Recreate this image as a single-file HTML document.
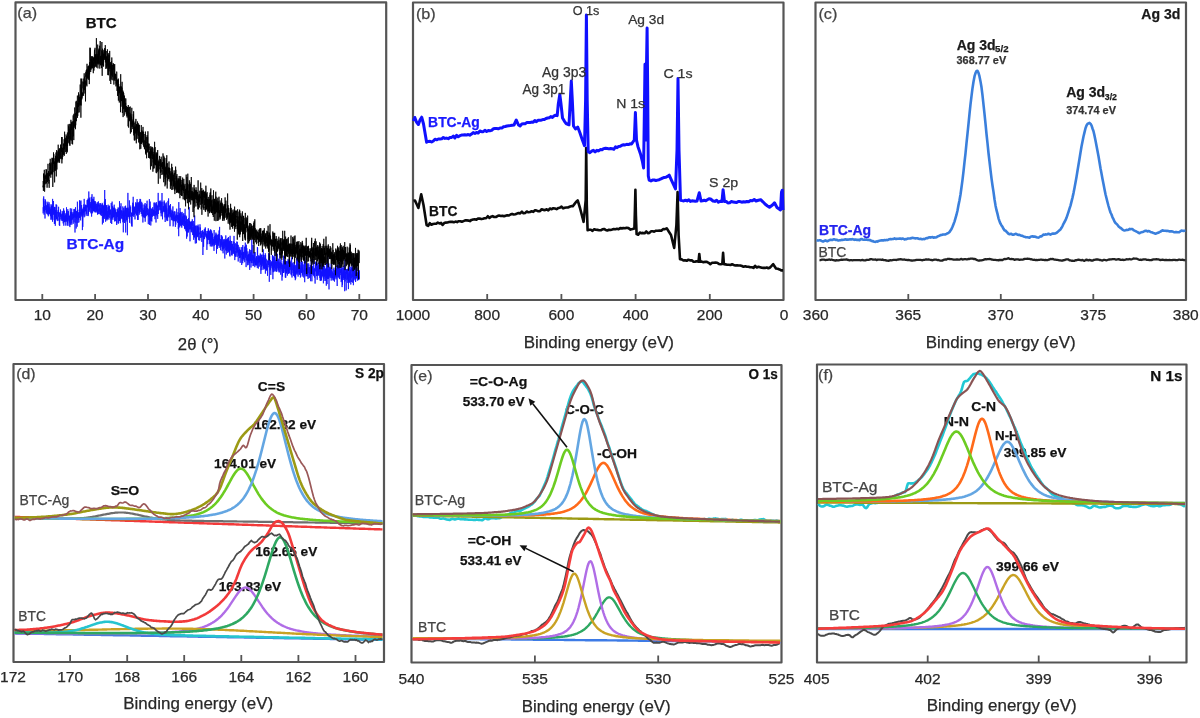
<!DOCTYPE html>
<html><head><meta charset="utf-8"><title>Figure</title>
<style>
html,body{margin:0;padding:0;background:#fff;}
body{width:1200px;height:718px;overflow:hidden;}
svg{display:block;filter:blur(0.45px);}
text{font-family:"Liberation Sans", sans-serif;}
</style></head>
<body>
<svg width="1200" height="718" viewBox="0 0 1200 718">
<rect x="0" y="0" width="1200" height="718" fill="#fff"/>
<rect x="15.5" y="2.4" width="370.7" height="297.6" fill="none" stroke="#555" stroke-width="2.2" stroke-linejoin="round"/>
<path d="M42.3,300 v-6 M95.1,300 v-6 M148.0,300 v-6 M200.8,300 v-6 M253.6,300 v-6 M306.5,300 v-6 M359.3,300 v-6" stroke="#555" stroke-width="1.8" fill="none"/>
<polyline points="43.0,207.2 43.1,213.3 43.2,212.7 43.3,212.4 43.4,198.5 43.5,204.8 43.6,209.9 43.7,196.4 43.8,210.9 43.9,199.0 44.1,214.7 44.2,207.1 44.3,210.8 44.4,207.1 44.5,206.0 44.6,209.9 44.7,211.6 44.8,207.0 44.9,207.3 45.0,218.5 45.1,204.1 45.2,201.2 45.3,210.0 45.4,205.2 45.5,199.5 45.6,204.6 45.7,206.3 45.8,203.0 46.0,201.7 46.1,208.8 46.2,212.8 46.3,207.7 46.4,205.4 46.5,210.6 46.6,212.2 46.7,207.6 46.8,211.5 46.9,213.9 47.0,208.2 47.1,205.5 47.2,210.9 47.3,210.5 47.4,214.5 47.5,203.5 47.6,206.5 47.7,205.7 47.9,201.7 48.0,210.3 48.1,212.2 48.2,206.4 48.3,216.3 48.4,213.7 48.5,212.9 48.6,211.9 48.7,214.5 48.8,204.1 48.9,213.1 49.0,213.1 49.1,202.3 49.2,206.0 49.3,209.4 49.4,214.2 49.5,208.6 49.6,210.6 49.7,212.4 49.9,206.8 50.0,213.7 50.1,210.5 50.2,213.3 50.3,208.7 50.4,216.1 50.5,214.0 50.6,210.5 50.7,214.2 50.8,217.2 50.9,219.7 51.0,204.3 51.1,215.7 51.2,213.8 51.3,211.3 51.4,207.1 51.5,217.6 51.6,206.1 51.8,219.5 51.9,218.0 52.0,204.7 52.1,210.8 52.2,206.2 52.3,213.4 52.4,219.3 52.5,221.7 52.6,198.9 52.7,209.9 52.8,215.8 52.9,219.9 53.0,214.6 53.1,209.3 53.2,214.2 53.3,212.8 53.4,212.0 53.5,201.0 53.7,214.8 53.8,214.5 53.9,212.8 54.0,212.2 54.1,207.4 54.2,211.1 54.3,219.0 54.4,224.0 54.5,206.9 54.6,219.7 54.7,215.3 54.8,223.4 54.9,214.0 55.0,211.7 55.1,207.2 55.2,220.0 55.3,225.8 55.4,210.3 55.6,211.1 55.7,216.9 55.8,210.4 55.9,213.0 56.0,212.7 56.1,204.3 56.2,219.5 56.3,214.6 56.4,218.8 56.5,212.7 56.6,216.2 56.7,204.9 56.8,208.1 56.9,218.5 57.0,212.1 57.1,217.6 57.2,217.5 57.3,221.1 57.4,216.8 57.6,219.8 57.7,214.7 57.8,212.0 57.9,211.9 58.0,213.1 58.1,210.2 58.2,212.9 58.3,215.0 58.4,216.7 58.5,214.0 58.6,206.8 58.7,215.3 58.8,216.7 58.9,220.7 59.0,218.5 59.1,212.9 59.2,212.6 59.3,225.2 59.5,217.9 59.6,224.5 59.7,225.9 59.8,212.4 59.9,217.9 60.0,218.3 60.1,218.8 60.2,218.8 60.3,217.3 60.4,217.2 60.5,209.5 60.6,215.7 60.7,213.1 60.8,217.1 60.9,214.4 61.0,219.5 61.1,220.4 61.2,218.1 61.4,218.2 61.5,217.2 61.6,214.7 61.7,214.2 61.8,214.6 61.9,218.7 62.0,217.0 62.1,220.6 62.2,210.9 62.3,221.1 62.4,213.6 62.5,213.7 62.6,216.2 62.7,214.6 62.8,218.5 62.9,214.6 63.0,212.3 63.1,213.4 63.2,223.4 63.4,217.6 63.5,212.0 63.6,208.4 63.7,210.3 63.8,225.7 63.9,210.5 64.0,219.7 64.1,220.0 64.2,210.9 64.3,219.0 64.4,222.2 64.5,219.8 64.6,218.9 64.7,222.0 64.8,215.9 64.9,219.3 65.0,217.1 65.1,220.7 65.3,213.4 65.4,221.4 65.5,215.5 65.6,215.8 65.7,219.5 65.8,225.6 65.9,222.3 66.0,215.5 66.1,221.1 66.2,215.8 66.3,221.6 66.4,218.3 66.5,207.3 66.6,218.8 66.7,213.2 66.8,214.8 66.9,211.2 67.0,211.0 67.2,213.6 67.3,221.8 67.4,225.7 67.5,217.9 67.6,223.3 67.7,216.8 67.8,209.2 67.9,218.7 68.0,213.6 68.1,216.0 68.2,219.4 68.3,220.6 68.4,214.0 68.5,211.2 68.6,217.0 68.7,217.0 68.8,216.3 68.9,222.5 69.1,225.9 69.2,216.0 69.3,221.1 69.4,222.2 69.5,221.2 69.6,222.7 69.7,216.1 69.8,221.2 69.9,227.1 70.0,221.5 70.1,214.9 70.2,220.5 70.3,208.3 70.4,219.4 70.5,215.1 70.6,224.7 70.7,211.9 70.8,219.9 70.9,217.5 71.1,212.0 71.2,223.1 71.3,219.0 71.4,212.0 71.5,220.1 71.6,215.4 71.7,208.6 71.8,224.7 71.9,218.4 72.0,220.1 72.1,217.9 72.2,217.3 72.3,219.2 72.4,216.1 72.5,213.6 72.6,217.6 72.7,218.3 72.8,215.6 73.0,212.0 73.1,213.5 73.2,223.8 73.3,218.2 73.4,215.3 73.5,218.2 73.6,214.3 73.7,217.8 73.8,213.4 73.9,217.7 74.0,209.1 74.1,222.4 74.2,213.9 74.3,208.9 74.4,215.1 74.5,214.4 74.6,216.7 74.7,210.7 74.9,217.7 75.0,232.5 75.1,209.9 75.2,217.3 75.3,214.2 75.4,216.5 75.5,207.2 75.6,210.2 75.7,217.6 75.8,215.2 75.9,222.8 76.0,212.0 76.1,216.0 76.2,228.5 76.3,211.6 76.4,210.9 76.5,214.8 76.6,214.7 76.7,218.7 76.9,215.4 77.0,211.2 77.1,215.6 77.2,226.7 77.3,220.4 77.4,201.7 77.5,213.7 77.6,210.3 77.7,217.1 77.8,213.4 77.9,223.0 78.0,218.4 78.1,218.1 78.2,214.8 78.3,213.4 78.4,215.4 78.5,219.7 78.6,216.2 78.8,212.0 78.9,222.4 79.0,214.4 79.1,213.1 79.2,209.7 79.3,210.7 79.4,210.3 79.5,200.3 79.6,217.8 79.7,215.7 79.8,212.0 79.9,217.7 80.0,214.9 80.1,214.5 80.2,201.3 80.3,211.6 80.4,215.0 80.5,219.9 80.7,220.4 80.8,219.0 80.9,200.5 81.0,202.2 81.1,214.8 81.2,212.3 81.3,216.5 81.4,211.5 81.5,213.0 81.6,205.0 81.7,213.3 81.8,209.7 81.9,213.3 82.0,213.8 82.1,211.1 82.2,213.0 82.3,211.4 82.4,230.1 82.6,213.6 82.7,208.7 82.8,226.9 82.9,219.1 83.0,210.5 83.1,215.4 83.2,212.6 83.3,208.1 83.4,207.2 83.5,211.1 83.6,211.6 83.7,213.1 83.8,204.4 83.9,207.4 84.0,209.6 84.1,217.3 84.2,198.9 84.3,211.7 84.4,207.1 84.6,211.5 84.7,207.1 84.8,210.9 84.9,216.4 85.0,210.7 85.1,210.9 85.2,210.6 85.3,205.3 85.4,211.1 85.5,207.6 85.6,204.7 85.7,208.1 85.8,205.1 85.9,211.6 86.0,207.8 86.1,205.4 86.2,214.5 86.3,212.2 86.5,213.4 86.6,210.3 86.7,206.9 86.8,205.4 86.9,205.9 87.0,216.0 87.1,207.5 87.2,200.1 87.3,206.6 87.4,200.2 87.5,207.4 87.6,201.0 87.7,200.7 87.8,207.0 87.9,206.0 88.0,198.6 88.1,209.6 88.2,216.1 88.4,199.3 88.5,214.4 88.6,202.8 88.7,203.6 88.8,191.5 88.9,199.1 89.0,211.7 89.1,208.0 89.2,202.2 89.3,204.4 89.4,198.6 89.5,204.0 89.6,209.9 89.7,197.6 89.8,203.5 89.9,206.2 90.0,210.3 90.1,211.7 90.2,203.4 90.4,202.1 90.5,207.6 90.6,203.8 90.7,204.1 90.8,210.5 90.9,213.3 91.0,206.8 91.1,204.7 91.2,208.2 91.3,196.9 91.4,205.5 91.5,200.7 91.6,216.6 91.7,210.2 91.8,206.3 91.9,204.8 92.0,194.2 92.1,209.0 92.3,213.3 92.4,202.4 92.5,209.0 92.6,209.2 92.7,198.8 92.8,210.2 92.9,212.2 93.0,207.0 93.1,205.7 93.2,209.7 93.3,199.0 93.4,206.6 93.5,211.0 93.6,200.5 93.7,210.8 93.8,204.4 93.9,196.8 94.0,205.9 94.2,201.9 94.3,207.9 94.4,201.1 94.5,211.4 94.6,203.2 94.7,208.3 94.8,204.0 94.9,205.3 95.0,212.3 95.1,207.8 95.2,205.1 95.3,201.2 95.4,212.3 95.5,210.4 95.6,205.6 95.7,208.3 95.8,202.5 95.9,202.6 96.1,203.5 96.2,209.0 96.3,208.8 96.4,204.0 96.5,210.9 96.6,211.2 96.7,208.4 96.8,212.5 96.9,206.4 97.0,207.3 97.1,210.0 97.2,207.8 97.3,211.6 97.4,202.3 97.5,214.6 97.6,204.5 97.7,207.4 97.8,206.9 97.9,211.1 98.1,214.2 98.2,213.3 98.3,212.3 98.4,201.4 98.5,205.0 98.6,206.5 98.7,204.4 98.8,213.9 98.9,209.6 99.0,208.7 99.1,211.1 99.2,204.6 99.3,204.8 99.4,205.0 99.5,211.4 99.6,210.7 99.7,211.9 99.8,214.2 100.0,203.1 100.1,206.8 100.2,210.1 100.3,203.3 100.4,207.1 100.5,214.2 100.6,214.7 100.7,214.6 100.8,209.9 100.9,208.8 101.0,214.8 101.1,208.1 101.2,211.4 101.3,216.0 101.4,208.3 101.5,204.6 101.6,210.0 101.7,212.8 101.9,212.3 102.0,210.9 102.1,212.8 102.2,202.9 102.3,206.3 102.4,224.4 102.5,206.1 102.6,204.2 102.7,204.8 102.8,206.2 102.9,209.6 103.0,205.8 103.1,211.6 103.2,218.4 103.3,209.9 103.4,222.7 103.5,212.0 103.6,205.5 103.7,209.5 103.9,206.2 104.0,214.3 104.1,205.5 104.2,216.9 104.3,213.5 104.4,201.6 104.5,218.8 104.6,218.1 104.7,190.0 104.8,215.5 104.9,202.7 105.0,212.2 105.1,203.4 105.2,213.3 105.3,202.9 105.4,199.1 105.5,213.0 105.6,221.7 105.8,208.5 105.9,215.1 106.0,211.8 106.1,209.9 106.2,214.2 106.3,219.0 106.4,205.7 106.5,214.0 106.6,213.1 106.7,205.0 106.8,219.0 106.9,220.5 107.0,207.2 107.1,219.6 107.2,211.9 107.3,210.9 107.4,218.6 107.5,212.8 107.7,213.3 107.8,218.8 107.9,217.8 108.0,216.0 108.1,205.4 108.2,204.7 108.3,217.1 108.4,207.7 108.5,212.7 108.6,207.1 108.7,211.2 108.8,206.2 108.9,219.6 109.0,207.4 109.1,211.6 109.2,211.3 109.3,217.8 109.4,205.7 109.6,212.1 109.7,211.3 109.8,214.8 109.9,214.5 110.0,210.2 110.1,213.5 110.2,210.7 110.3,214.6 110.4,212.0 110.5,209.5 110.6,212.4 110.7,214.2 110.8,223.0 110.9,210.4 111.0,214.1 111.1,219.4 111.2,203.1 111.3,204.7 111.4,207.3 111.6,207.3 111.7,224.0 111.8,214.6 111.9,218.4 112.0,211.9 112.1,201.6 112.2,207.3 112.3,217.6 112.4,213.8 112.5,207.0 112.6,218.2 112.7,206.0 112.8,218.3 112.9,219.8 113.0,209.6 113.1,208.0 113.2,217.1 113.3,208.2 113.5,217.2 113.6,207.7 113.7,217.0 113.8,213.7 113.9,211.3 114.0,209.2 114.1,214.5 114.2,204.7 114.3,212.1 114.4,211.6 114.5,216.6 114.6,207.7 114.7,221.4 114.8,212.1 114.9,208.3 115.0,219.9 115.1,221.2 115.2,212.8 115.4,209.5 115.5,213.7 115.6,210.5 115.7,212.3 115.8,220.9 115.9,215.6 116.0,214.4 116.1,215.4 116.2,213.5 116.3,217.7 116.4,217.9 116.5,212.2 116.6,214.4 116.7,225.0 116.8,215.9 116.9,213.1 117.0,223.4 117.1,214.0 117.2,209.0 117.4,217.1 117.5,209.9 117.6,211.8 117.7,215.6 117.8,213.5 117.9,210.6 118.0,211.6 118.1,207.5 118.2,219.6 118.3,210.9 118.4,211.6 118.5,223.6 118.6,211.7 118.7,221.1 118.8,220.4 118.9,213.6 119.0,207.8 119.1,216.5 119.3,217.5 119.4,218.9 119.5,201.2 119.6,220.0 119.7,220.9 119.8,209.6 119.9,221.1 120.0,215.3 120.1,211.9 120.2,213.1 120.3,223.2 120.4,219.1 120.5,206.4 120.6,215.0 120.7,214.0 120.8,213.8 120.9,212.3 121.0,203.3 121.2,218.6 121.3,210.4 121.4,213.0 121.5,212.0 121.6,211.4 121.7,218.2 121.8,216.5 121.9,211.7 122.0,210.5 122.1,212.7 122.2,219.3 122.3,215.4 122.4,215.9 122.5,213.4 122.6,213.7 122.7,215.9 122.8,206.4 122.9,222.3 123.1,211.3 123.2,212.3 123.3,232.3 123.4,216.0 123.5,215.2 123.6,212.3 123.7,207.8 123.8,215.9 123.9,220.5 124.0,210.9 124.1,221.3 124.2,209.8 124.3,211.7 124.4,217.4 124.5,215.0 124.6,223.0 124.7,211.6 124.8,210.2 124.9,206.4 125.1,209.4 125.2,210.0 125.3,208.4 125.4,216.3 125.5,211.8 125.6,205.7 125.7,232.5 125.8,211.0 125.9,209.0 126.0,221.6 126.1,220.1 126.2,209.4 126.3,207.9 126.4,210.0 126.5,219.8 126.6,213.1 126.7,210.8 126.8,214.3 127.0,219.9 127.1,207.9 127.2,212.5 127.3,207.9 127.4,235.2 127.5,222.5 127.6,218.5 127.7,213.4 127.8,217.0 127.9,192.9 128.0,215.1 128.1,207.7 128.2,207.7 128.3,210.5 128.4,212.0 128.5,216.2 128.6,216.7 128.7,214.7 128.9,209.0 129.0,216.4 129.1,212.7 129.2,218.6 129.3,208.9 129.4,200.4 129.5,210.8 129.6,222.8 129.7,215.0 129.8,211.9 129.9,216.8 130.0,215.0 130.1,205.5 130.2,210.2 130.3,212.8 130.4,213.3 130.5,209.4 130.6,207.1 130.7,212.8 130.9,216.5 131.0,215.0 131.1,214.2 131.2,214.2 131.3,223.7 131.4,212.9 131.5,216.5 131.6,220.6 131.7,225.9 131.8,212.7 131.9,216.2 132.0,226.7 132.1,212.7 132.2,214.4 132.3,211.5 132.4,205.5 132.5,216.1 132.6,209.7 132.8,202.9 132.9,210.1 133.0,202.7 133.1,203.2 133.2,196.8 133.3,206.3 133.4,215.4 133.5,203.6 133.6,211.5 133.7,212.8 133.8,216.9 133.9,214.4 134.0,211.1 134.1,210.4 134.2,209.7 134.3,215.1 134.4,206.8 134.5,212.2 134.7,209.3 134.8,210.8 134.9,208.4 135.0,219.4 135.1,206.5 135.2,210.6 135.3,210.7 135.4,212.1 135.5,211.4 135.6,211.2 135.7,213.7 135.8,202.2 135.9,209.2 136.0,203.4 136.1,210.1 136.2,203.6 136.3,204.5 136.4,208.6 136.6,215.3 136.7,211.5 136.8,210.2 136.9,215.3 137.0,204.4 137.1,199.1 137.2,206.8 137.3,207.4 137.4,214.4 137.5,218.5 137.6,202.5 137.7,220.0 137.8,212.4 137.9,212.5 138.0,210.3 138.1,219.8 138.2,209.0 138.3,206.4 138.4,209.2 138.6,202.3 138.7,210.8 138.8,208.1 138.9,210.2 139.0,210.3 139.1,203.8 139.2,214.7 139.3,204.0 139.4,212.8 139.5,201.4 139.6,210.5 139.7,205.0 139.8,209.0 139.9,205.9 140.0,198.9 140.1,203.8 140.2,209.3 140.3,211.9 140.5,202.3 140.6,199.3 140.7,205.1 140.8,208.2 140.9,206.3 141.0,205.6 141.1,213.2 141.2,213.8 141.3,212.8 141.4,205.2 141.5,209.9 141.6,208.7 141.7,201.8 141.8,213.8 141.9,203.0 142.0,207.6 142.1,216.4 142.2,213.5 142.4,213.9 142.5,215.6 142.6,213.4 142.7,214.5 142.8,208.5 142.9,222.5 143.0,204.5 143.1,210.6 143.2,212.4 143.3,217.2 143.4,216.6 143.5,214.9 143.6,210.0 143.7,215.1 143.8,213.4 143.9,210.3 144.0,217.3 144.1,213.4 144.2,207.8 144.4,217.1 144.5,210.2 144.6,214.2 144.7,204.5 144.8,218.1 144.9,207.3 145.0,207.3 145.1,203.0 145.2,221.7 145.3,211.3 145.4,213.1 145.5,217.2 145.6,211.6 145.7,214.6 145.8,206.1 145.9,213.3 146.0,210.5 146.1,214.8 146.3,213.4 146.4,206.3 146.5,204.2 146.6,208.1 146.7,216.2 146.8,214.9 146.9,214.8 147.0,203.8 147.1,200.7 147.2,210.3 147.3,211.7 147.4,210.5 147.5,215.0 147.6,212.6 147.7,208.0 147.8,209.5 147.9,214.2 148.0,214.0 148.2,213.3 148.3,224.2 148.4,212.6 148.5,214.4 148.6,209.3 148.7,212.3 148.8,216.4 148.9,216.6 149.0,213.3 149.1,215.9 149.2,214.4 149.3,205.5 149.4,199.1 149.5,224.9 149.6,218.1 149.7,214.0 149.8,206.3 149.9,208.5 150.1,220.6 150.2,201.6 150.3,212.9 150.4,218.4 150.5,215.1 150.6,217.9 150.7,213.9 150.8,225.5 150.9,209.8 151.0,208.2 151.1,215.8 151.2,221.1 151.3,214.2 151.4,219.3 151.5,212.0 151.6,209.0 151.7,220.9 151.8,221.1 151.9,221.4 152.1,212.3 152.2,208.9 152.3,208.8 152.4,213.1 152.5,216.7 152.6,216.3 152.7,207.2 152.8,214.6 152.9,213.7 153.0,213.9 153.1,213.3 153.2,212.4 153.3,215.9 153.4,213.6 153.5,213.9 153.6,209.6 153.7,214.4 153.8,211.9 154.0,202.6 154.1,214.4 154.2,210.8 154.3,216.1 154.4,210.9 154.5,211.1 154.6,212.3 154.7,211.1 154.8,209.0 154.9,202.6 155.0,219.2 155.1,203.2 155.2,210.6 155.3,213.2 155.4,211.7 155.5,212.4 155.6,213.2 155.7,215.3 155.9,210.7 156.0,222.5 156.1,204.3 156.2,209.9 156.3,207.0 156.4,202.2 156.5,209.6 156.6,214.9 156.7,204.8 156.8,204.6 156.9,211.1 157.0,210.1 157.1,216.4 157.2,212.0 157.3,208.2 157.4,205.5 157.5,207.9 157.6,206.0 157.7,218.9 157.9,206.6 158.0,205.7 158.1,205.3 158.2,192.9 158.3,214.0 158.4,209.4 158.5,210.4 158.6,203.3 158.7,201.3 158.8,204.7 158.9,207.1 159.0,203.0 159.1,205.0 159.2,210.3 159.3,207.3 159.4,201.4 159.5,203.9 159.6,202.9 159.8,206.8 159.9,200.7 160.0,205.3 160.1,209.3 160.2,206.3 160.3,202.0 160.4,203.5 160.5,206.9 160.6,208.6 160.7,210.3 160.8,205.9 160.9,200.6 161.0,213.2 161.1,208.1 161.2,216.3 161.3,208.3 161.4,202.2 161.5,205.6 161.7,208.3 161.8,212.0 161.9,207.6 162.0,193.0 162.1,206.3 162.2,209.2 162.3,213.6 162.4,211.0 162.5,219.3 162.6,214.4 162.7,214.2 162.8,212.4 162.9,201.8 163.0,212.2 163.1,211.1 163.2,206.0 163.3,211.2 163.4,210.6 163.6,206.6 163.7,208.3 163.8,207.7 163.9,210.1 164.0,207.2 164.1,211.7 164.2,200.5 164.3,208.1 164.4,201.8 164.5,207.4 164.6,212.1 164.7,209.9 164.8,209.4 164.9,210.4 165.0,217.4 165.1,205.2 165.2,222.0 165.3,203.5 165.4,208.4 165.6,211.4 165.7,206.9 165.8,211.8 165.9,214.4 166.0,205.6 166.1,210.9 166.2,209.6 166.3,202.5 166.4,210.7 166.5,208.0 166.6,217.9 166.7,207.8 166.8,219.8 166.9,209.6 167.0,221.1 167.1,214.8 167.2,214.5 167.3,216.2 167.5,216.8 167.6,219.2 167.7,220.8 167.8,211.3 167.9,207.3 168.0,200.8 168.1,211.5 168.2,216.8 168.3,215.2 168.4,214.1 168.5,212.0 168.6,198.4 168.7,212.5 168.8,215.7 168.9,205.9 169.0,217.5 169.1,207.5 169.2,213.6 169.4,211.5 169.5,205.5 169.6,209.8 169.7,209.4 169.8,213.7 169.9,209.8 170.0,226.2 170.1,213.1 170.2,212.1 170.3,212.6 170.4,210.3 170.5,204.0 170.6,214.2 170.7,216.9 170.8,208.6 170.9,215.7 171.0,210.1 171.1,215.6 171.2,217.5 171.4,217.2 171.5,218.0 171.6,212.8 171.7,220.2 171.8,214.1 171.9,217.8 172.0,219.5 172.1,215.0 172.2,210.5 172.3,213.1 172.4,211.4 172.5,212.5 172.6,211.5 172.7,220.5 172.8,210.7 172.9,206.4 173.0,220.2 173.1,226.4 173.3,225.2 173.4,214.4 173.5,217.4 173.6,219.4 173.7,221.2 173.8,217.3 173.9,212.2 174.0,220.7 174.1,220.1 174.2,211.2 174.3,215.7 174.4,218.7 174.5,217.5 174.6,219.9 174.7,221.2 174.8,220.1 174.9,217.1 175.0,211.5 175.2,220.6 175.3,224.3 175.4,226.9 175.5,217.7 175.6,215.7 175.7,224.6 175.8,224.7 175.9,219.6 176.0,221.4 176.1,214.7 176.2,220.9 176.3,214.5 176.4,217.6 176.5,217.8 176.6,216.2 176.7,208.7 176.8,214.7 176.9,220.1 177.1,218.3 177.2,216.8 177.3,220.7 177.4,221.9 177.5,222.7 177.6,215.1 177.7,219.0 177.8,217.4 177.9,214.9 178.0,212.2 178.1,217.3 178.2,215.1 178.3,229.1 178.4,218.8 178.5,218.3 178.6,217.5 178.7,236.2 178.8,202.1 178.9,218.8 179.1,216.0 179.2,219.1 179.3,219.5 179.4,224.8 179.5,213.3 179.6,219.8 179.7,227.4 179.8,217.7 179.9,219.2 180.0,216.0 180.1,208.1 180.2,219.8 180.3,225.7 180.4,218.2 180.5,211.9 180.6,221.7 180.7,220.9 180.8,225.2 181.0,224.9 181.1,219.5 181.2,222.7 181.3,212.6 181.4,226.1 181.5,221.9 181.6,226.1 181.7,226.0 181.8,227.7 181.9,220.6 182.0,217.3 182.1,211.9 182.2,220.9 182.3,222.2 182.4,216.6 182.5,224.9 182.6,222.2 182.7,223.9 182.9,218.3 183.0,213.8 183.1,225.6 183.2,224.9 183.3,221.6 183.4,220.2 183.5,221.0 183.6,221.7 183.7,220.0 183.8,213.2 183.9,226.1 184.0,215.7 184.1,221.1 184.2,221.3 184.3,224.0 184.4,215.4 184.5,228.4 184.6,226.0 184.7,224.7 184.9,228.9 185.0,219.5 185.1,208.8 185.2,224.8 185.3,229.4 185.4,228.8 185.5,221.0 185.6,223.2 185.7,225.0 185.8,215.4 185.9,220.7 186.0,220.9 186.1,231.2 186.2,221.0 186.3,231.3 186.4,224.2 186.5,216.5 186.6,238.7 186.8,219.9 186.9,224.5 187.0,232.3 187.1,222.1 187.2,236.5 187.3,229.5 187.4,225.1 187.5,219.2 187.6,219.9 187.7,223.2 187.8,229.5 187.9,223.8 188.0,228.2 188.1,232.8 188.2,231.1 188.3,232.0 188.4,231.1 188.5,218.1 188.7,231.2 188.8,227.2 188.9,225.1 189.0,220.8 189.1,218.5 189.2,207.1 189.3,225.9 189.4,220.7 189.5,222.4 189.6,223.4 189.7,229.3 189.8,225.0 189.9,225.7 190.0,241.3 190.1,221.6 190.2,229.4 190.3,221.8 190.4,228.3 190.6,227.4 190.7,227.7 190.8,224.8 190.9,222.3 191.0,225.7 191.1,225.0 191.2,232.0 191.3,231.5 191.4,221.9 191.5,230.4 191.6,225.3 191.7,229.7 191.8,225.5 191.9,221.0 192.0,232.5 192.1,230.0 192.2,222.3 192.3,219.3 192.4,225.6 192.6,222.7 192.7,226.6 192.8,231.2 192.9,235.1 193.0,226.8 193.1,234.9 193.2,233.9 193.3,226.7 193.4,221.1 193.5,232.7 193.6,231.7 193.7,239.8 193.8,235.6 193.9,230.8 194.0,236.9 194.1,224.4 194.2,230.2 194.3,228.1 194.5,237.5 194.6,232.1 194.7,215.5 194.8,236.0 194.9,225.6 195.0,233.4 195.1,227.7 195.2,231.1 195.3,243.5 195.4,231.0 195.5,225.8 195.6,235.0 195.7,232.1 195.8,230.3 195.9,233.7 196.0,234.7 196.1,239.2 196.2,231.7 196.4,232.4 196.5,243.2 196.6,226.6 196.7,225.5 196.8,232.0 196.9,232.7 197.0,237.3 197.1,233.3 197.2,226.2 197.3,233.7 197.4,235.2 197.5,236.0 197.6,233.0 197.7,225.9 197.8,237.0 197.9,228.3 198.0,234.4 198.1,224.6 198.2,235.4 198.4,228.3 198.5,237.0 198.6,240.2 198.7,237.5 198.8,226.8 198.9,227.9 199.0,228.3 199.1,230.8 199.2,234.0 199.3,233.2 199.4,234.0 199.5,235.3 199.6,235.6 199.7,240.5 199.8,232.5 199.9,233.7 200.0,224.3 200.1,226.8 200.3,229.8 200.4,227.6 200.5,234.1 200.6,237.9 200.7,231.2 200.8,231.0 200.9,230.9 201.0,233.9 201.1,230.9 201.2,235.4 201.3,234.9 201.4,235.1 201.5,237.1 201.6,233.8 201.7,234.4 201.8,241.9 201.9,233.6 202.0,237.5 202.2,234.2 202.3,231.9 202.4,231.9 202.5,230.3 202.6,234.2 202.7,231.4 202.8,232.3 202.9,255.0 203.0,243.1 203.1,239.6 203.2,235.7 203.3,236.7 203.4,231.7 203.5,235.3 203.6,246.8 203.7,238.5 203.8,239.4 203.9,237.5 204.1,238.8 204.2,229.5 204.3,231.0 204.4,237.0 204.5,238.8 204.6,233.2 204.7,234.3 204.8,233.5 204.9,228.9 205.0,229.7 205.1,228.7 205.2,235.0 205.3,227.4 205.4,231.0 205.5,232.5 205.6,232.8 205.7,236.7 205.8,233.6 205.9,235.3 206.1,231.1 206.2,232.4 206.3,238.2 206.4,237.5 206.5,233.8 206.6,237.6 206.7,236.8 206.8,236.8 206.9,249.9 207.0,234.3 207.1,238.1 207.2,238.1 207.3,235.2 207.4,230.9 207.5,239.5 207.6,237.6 207.7,244.2 207.8,236.6 208.0,236.6 208.1,232.4 208.2,237.9 208.3,228.3 208.4,236.6 208.5,229.8 208.6,235.1 208.7,240.1 208.8,237.3 208.9,230.7 209.0,239.3 209.1,230.8 209.2,235.1 209.3,235.2 209.4,244.1 209.5,240.2 209.6,239.4 209.7,231.8 209.9,240.1 210.0,231.4 210.1,239.6 210.2,232.3 210.3,246.4 210.4,229.7 210.5,243.2 210.6,241.3 210.7,229.5 210.8,236.6 210.9,244.4 211.0,243.0 211.1,230.2 211.2,235.5 211.3,232.5 211.4,233.2 211.5,235.0 211.6,246.5 211.7,231.4 211.9,237.1 212.0,236.6 212.1,241.3 212.2,241.4 212.3,234.1 212.4,245.1 212.5,233.4 212.6,237.2 212.7,240.6 212.8,246.4 212.9,237.0 213.0,239.9 213.1,244.7 213.2,239.4 213.3,244.0 213.4,243.6 213.5,240.1 213.6,241.8 213.8,243.2 213.9,238.9 214.0,250.9 214.1,230.0 214.2,234.9 214.3,245.8 214.4,241.2 214.5,236.3 214.6,241.1 214.7,244.4 214.8,236.9 214.9,243.0 215.0,239.0 215.1,239.1 215.2,239.3 215.3,244.8 215.4,234.6 215.5,238.1 215.7,242.9 215.8,234.3 215.9,232.6 216.0,242.6 216.1,240.0 216.2,239.4 216.3,240.8 216.4,235.7 216.5,253.6 216.6,235.7 216.7,238.3 216.8,233.8 216.9,238.5 217.0,247.5 217.1,240.6 217.2,243.3 217.3,238.4 217.4,249.0 217.6,241.5 217.7,235.0 217.8,244.4 217.9,239.2 218.0,243.7 218.1,241.6 218.2,242.2 218.3,241.7 218.4,236.9 218.5,234.3 218.6,245.7 218.7,236.2 218.8,242.6 218.9,239.2 219.0,232.1 219.1,230.4 219.2,247.9 219.3,238.0 219.4,239.9 219.6,226.9 219.7,239.3 219.8,240.1 219.9,240.8 220.0,241.5 220.1,239.0 220.2,239.3 220.3,246.2 220.4,241.5 220.5,241.5 220.6,250.2 220.7,243.2 220.8,243.0 220.9,239.3 221.0,247.1 221.1,237.7 221.2,235.0 221.3,238.1 221.5,245.4 221.6,237.4 221.7,236.4 221.8,242.6 221.9,235.8 222.0,241.8 222.1,251.1 222.2,239.0 222.3,237.0 222.4,245.4 222.5,249.1 222.6,247.8 222.7,241.7 222.8,244.1 222.9,244.8 223.0,248.8 223.1,253.3 223.2,243.0 223.4,249.5 223.5,242.0 223.6,246.3 223.7,239.4 223.8,248.5 223.9,245.7 224.0,239.7 224.1,248.0 224.2,241.4 224.3,244.4 224.4,243.7 224.5,242.6 224.6,244.8 224.7,249.2 224.8,258.5 224.9,238.9 225.0,245.7 225.1,243.6 225.2,240.3 225.4,245.8 225.5,240.5 225.6,244.3 225.7,250.4 225.8,235.4 225.9,245.9 226.0,246.9 226.1,240.5 226.2,247.4 226.3,254.5 226.4,243.4 226.5,250.8 226.6,239.1 226.7,248.2 226.8,244.2 226.9,240.5 227.0,244.5 227.1,241.1 227.3,249.2 227.4,238.6 227.5,244.7 227.6,243.5 227.7,252.9 227.8,240.3 227.9,250.7 228.0,237.8 228.1,247.5 228.2,245.3 228.3,247.7 228.4,242.8 228.5,237.1 228.6,239.0 228.7,252.2 228.8,247.2 228.9,242.3 229.0,250.5 229.2,242.9 229.3,243.0 229.4,240.9 229.5,251.9 229.6,255.6 229.7,242.2 229.8,248.0 229.9,251.2 230.0,256.5 230.1,235.8 230.2,247.5 230.3,249.9 230.4,240.2 230.5,248.9 230.6,248.0 230.7,250.4 230.8,244.5 230.9,249.1 231.1,244.5 231.2,250.1 231.3,248.1 231.4,245.7 231.5,241.0 231.6,255.1 231.7,245.6 231.8,251.7 231.9,244.6 232.0,246.1 232.1,255.5 232.2,251.3 232.3,244.0 232.4,248.2 232.5,248.7 232.6,247.1 232.7,243.8 232.8,253.9 232.9,250.9 233.1,247.4 233.2,241.1 233.3,245.7 233.4,248.4 233.5,252.5 233.6,246.9 233.7,253.7 233.8,249.3 233.9,245.3 234.0,235.9 234.1,243.4 234.2,242.0 234.3,248.3 234.4,250.5 234.5,255.5 234.6,249.1 234.7,243.9 234.8,260.1 235.0,250.7 235.1,248.1 235.2,248.2 235.3,243.2 235.4,252.4 235.5,251.3 235.6,256.9 235.7,254.7 235.8,253.7 235.9,255.6 236.0,248.5 236.1,247.9 236.2,249.7 236.3,244.3 236.4,249.4 236.5,248.6 236.6,253.3 236.7,250.2 236.9,241.5 237.0,250.5 237.1,256.9 237.2,242.0 237.3,247.0 237.4,250.7 237.5,252.0 237.6,248.2 237.7,251.0 237.8,244.7 237.9,252.2 238.0,252.8 238.1,245.1 238.2,261.5 238.3,256.1 238.4,250.3 238.5,253.2 238.6,254.2 238.7,250.2 238.9,255.9 239.0,253.2 239.1,246.9 239.2,253.9 239.3,255.6 239.4,255.4 239.5,248.7 239.6,253.9 239.7,258.1 239.8,252.9 239.9,257.4 240.0,258.0 240.1,251.9 240.2,262.8 240.3,250.8 240.4,257.1 240.5,251.9 240.6,249.8 240.8,252.3 240.9,252.1 241.0,254.3 241.1,254.7 241.2,247.2 241.3,249.7 241.4,254.4 241.5,255.0 241.6,253.2 241.7,265.0 241.8,258.1 241.9,252.6 242.0,256.4 242.1,259.3 242.2,254.9 242.3,246.9 242.4,253.7 242.5,253.6 242.7,263.2 242.8,245.0 242.9,260.6 243.0,252.9 243.1,257.9 243.2,252.4 243.3,254.6 243.4,259.0 243.5,254.3 243.6,258.8 243.7,253.6 243.8,252.2 243.9,253.1 244.0,251.8 244.1,253.6 244.2,260.5 244.3,248.9 244.4,246.7 244.6,254.3 244.7,262.2 244.8,261.0 244.9,260.7 245.0,260.4 245.1,251.3 245.2,255.3 245.3,242.6 245.4,252.1 245.5,257.7 245.6,247.8 245.7,245.5 245.8,249.1 245.9,256.1 246.0,260.6 246.1,267.1 246.2,261.9 246.3,248.4 246.4,244.7 246.6,256.2 246.7,260.4 246.8,248.2 246.9,253.3 247.0,253.6 247.1,255.9 247.2,255.0 247.3,258.3 247.4,260.8 247.5,256.3 247.6,263.5 247.7,265.3 247.8,264.3 247.9,251.4 248.0,258.6 248.1,264.9 248.2,257.2 248.3,261.5 248.5,255.1 248.6,260.8 248.7,253.8 248.8,259.8 248.9,258.6 249.0,258.6 249.1,263.2 249.2,261.8 249.3,254.2 249.4,261.1 249.5,249.3 249.6,261.7 249.7,269.9 249.8,259.7 249.9,259.7 250.0,257.7 250.1,261.3 250.2,255.4 250.4,260.7 250.5,256.4 250.6,255.8 250.7,252.3 250.8,257.5 250.9,249.9 251.0,267.5 251.1,258.6 251.2,250.2 251.3,263.0 251.4,258.0 251.5,259.1 251.6,261.3 251.7,254.2 251.8,239.5 251.9,257.9 252.0,259.5 252.1,263.1 252.2,255.0 252.4,257.3 252.5,260.4 252.6,257.2 252.7,257.5 252.8,259.9 252.9,245.0 253.0,266.1 253.1,254.6 253.2,259.1 253.3,257.4 253.4,255.7 253.5,261.5 253.6,263.7 253.7,265.8 253.8,261.8 253.9,257.1 254.0,263.2 254.1,252.6 254.3,259.5 254.4,261.8 254.5,262.0 254.6,254.1 254.7,252.6 254.8,267.2 254.9,257.2 255.0,252.0 255.1,253.9 255.2,259.7 255.3,265.1 255.4,259.7 255.5,265.3 255.6,260.8 255.7,262.0 255.8,264.4 255.9,258.2 256.0,261.3 256.2,258.2 256.3,257.1 256.4,265.5 256.5,256.3 256.6,260.5 256.7,256.5 256.8,259.7 256.9,257.8 257.0,265.2 257.1,260.6 257.2,260.6 257.3,267.9 257.4,247.0 257.5,255.2 257.6,247.8 257.7,260.4 257.8,262.4 257.9,263.4 258.1,261.7 258.2,256.5 258.3,268.6 258.4,262.0 258.5,259.4 258.6,255.4 258.7,262.6 258.8,258.4 258.9,258.6 259.0,261.7 259.1,261.8 259.2,257.0 259.3,266.6 259.4,256.2 259.5,255.7 259.6,262.3 259.7,261.5 259.8,261.3 259.9,259.1 260.1,261.2 260.2,258.5 260.3,253.5 260.4,264.5 260.5,256.5 260.6,260.1 260.7,264.6 260.8,261.3 260.9,273.9 261.0,254.8 261.1,257.9 261.2,270.2 261.3,267.6 261.4,260.3 261.5,254.8 261.6,266.7 261.7,257.2 261.8,260.6 262.0,265.6 262.1,258.5 262.2,259.5 262.3,263.9 262.4,260.7 262.5,263.0 262.6,257.4 262.7,261.2 262.8,256.7 262.9,254.6 263.0,269.9 263.1,263.9 263.2,266.1 263.3,249.4 263.4,261.8 263.5,268.3 263.6,255.4 263.7,264.5 263.9,258.7 264.0,266.1 264.1,255.1 264.2,266.7 264.3,269.1 264.4,264.0 264.5,258.0 264.6,259.8 264.7,267.9 264.8,261.0 264.9,263.5 265.0,263.0 265.1,257.2 265.2,269.4 265.3,253.3 265.4,273.6 265.5,262.1 265.6,255.1 265.7,264.1 265.9,264.9 266.0,262.8 266.1,258.8 266.2,264.7 266.3,267.8 266.4,263.7 266.5,270.6 266.6,266.7 266.7,266.3 266.8,269.2 266.9,259.8 267.0,260.4 267.1,260.2 267.2,265.3 267.3,269.9 267.4,268.2 267.5,275.8 267.6,261.2 267.8,261.8 267.9,261.4 268.0,261.0 268.1,267.3 268.2,261.0 268.3,261.5 268.4,263.9 268.5,264.9 268.6,262.2 268.7,253.3 268.8,265.0 268.9,262.0 269.0,264.3 269.1,253.4 269.2,254.9 269.3,281.8 269.4,264.3 269.5,264.5 269.7,255.6 269.8,266.6 269.9,265.7 270.0,262.2 270.1,265.1 270.2,269.9 270.3,262.6 270.4,260.0 270.5,270.3 270.6,265.5 270.7,263.5 270.8,274.9 270.9,265.1 271.0,263.6 271.1,265.6 271.2,262.6 271.3,265.5 271.4,265.2 271.6,261.5 271.7,263.3 271.8,266.0 271.9,266.3 272.0,267.2 272.1,268.2 272.2,261.4 272.3,267.0 272.4,255.1 272.5,263.5 272.6,269.4 272.7,255.6 272.8,266.4 272.9,279.2 273.0,256.2 273.1,271.6 273.2,256.6 273.3,266.4 273.4,272.2 273.6,271.5 273.7,260.5 273.8,258.7 273.9,259.5 274.0,268.0 274.1,262.9 274.2,264.7 274.3,265.9 274.4,266.6 274.5,267.2 274.6,265.3 274.7,257.4 274.8,271.5 274.9,252.1 275.0,270.5 275.1,262.0 275.2,263.9 275.3,262.4 275.5,263.2 275.6,264.8 275.7,263.6 275.8,259.9 275.9,268.8 276.0,262.3 276.1,271.2 276.2,264.3 276.3,271.6 276.4,267.0 276.5,269.1 276.6,260.8 276.7,263.8 276.8,271.7 276.9,260.6 277.0,261.3 277.1,266.0 277.2,259.6 277.4,253.9 277.5,257.6 277.6,267.0 277.7,268.3 277.8,268.1 277.9,267.1 278.0,259.7 278.1,268.5 278.2,270.7 278.3,262.2 278.4,269.8 278.5,263.8 278.6,266.4 278.7,267.2 278.8,258.7 278.9,272.3 279.0,261.7 279.1,265.2 279.2,263.4 279.4,267.8 279.5,267.7 279.6,265.8 279.7,272.3 279.8,267.1 279.9,264.0 280.0,252.6 280.1,268.4 280.2,264.6 280.3,261.9 280.4,262.0 280.5,266.0 280.6,270.8 280.7,274.7 280.8,271.3 280.9,262.8 281.0,267.3 281.1,259.8 281.3,269.5 281.4,267.8 281.5,263.4 281.6,265.7 281.7,265.1 281.8,263.3 281.9,272.4 282.0,280.6 282.1,270.1 282.2,271.2 282.3,267.1 282.4,264.8 282.5,276.5 282.6,264.8 282.7,268.3 282.8,266.0 282.9,269.2 283.0,266.3 283.2,263.4 283.3,260.8 283.4,266.2 283.5,273.0 283.6,261.9 283.7,255.7 283.8,273.0 283.9,266.0 284.0,271.7 284.1,256.5 284.2,267.5 284.3,261.0 284.4,260.5 284.5,268.8 284.6,260.2 284.7,260.0 284.8,261.9 284.9,264.3 285.1,266.4 285.2,260.9 285.3,277.5 285.4,266.8 285.5,265.4 285.6,264.7 285.7,277.8 285.8,277.5 285.9,264.9 286.0,268.8 286.1,273.0 286.2,261.8 286.3,264.5 286.4,273.5 286.5,264.1 286.6,265.3 286.7,261.1 286.8,263.8 286.9,270.5 287.1,263.6 287.2,261.4 287.3,264.5 287.4,275.6 287.5,268.3 287.6,264.9 287.7,268.2 287.8,269.6 287.9,268.1 288.0,259.2 288.1,269.0 288.2,266.6 288.3,271.5 288.4,261.4 288.5,272.5 288.6,273.5 288.7,259.8 288.8,273.9 289.0,265.3 289.1,269.5 289.2,267.0 289.3,272.8 289.4,272.9 289.5,273.0 289.6,271.1 289.7,259.8 289.8,260.1 289.9,268.8 290.0,263.5 290.1,270.1 290.2,268.7 290.3,261.4 290.4,263.2 290.5,262.7 290.6,263.9 290.7,265.8 290.9,266.5 291.0,274.3 291.1,263.6 291.2,265.5 291.3,275.3 291.4,272.3 291.5,269.2 291.6,257.3 291.7,263.5 291.8,269.0 291.9,265.5 292.0,277.5 292.1,268.7 292.2,269.6 292.3,263.2 292.4,263.5 292.5,265.3 292.6,265.5 292.7,267.3 292.9,270.1 293.0,269.5 293.1,273.1 293.2,262.2 293.3,269.4 293.4,269.6 293.5,275.9 293.6,267.5 293.7,270.1 293.8,264.8 293.9,270.5 294.0,270.4 294.1,265.7 294.2,266.6 294.3,268.5 294.4,276.5 294.5,263.3 294.6,272.8 294.8,267.2 294.9,277.5 295.0,275.5 295.1,266.9 295.2,265.8 295.3,280.2 295.4,271.7 295.5,271.4 295.6,271.4 295.7,278.7 295.8,272.6 295.9,271.7 296.0,265.0 296.1,274.7 296.2,264.9 296.3,264.5 296.4,273.6 296.5,268.1 296.7,272.6 296.8,257.8 296.9,270.7 297.0,261.4 297.1,266.0 297.2,261.9 297.3,269.8 297.4,257.3 297.5,268.7 297.6,272.4 297.7,271.3 297.8,274.6 297.9,264.1 298.0,266.9 298.1,276.6 298.2,263.5 298.3,265.4 298.4,266.5 298.6,268.5 298.7,270.0 298.8,257.7 298.9,271.9 299.0,268.0 299.1,264.5 299.2,273.6 299.3,267.6 299.4,274.5 299.5,271.7 299.6,267.8 299.7,274.7 299.8,273.0 299.9,267.0 300.0,261.8 300.1,266.8 300.2,272.2 300.3,268.2 300.4,277.5 300.6,270.6 300.7,270.3 300.8,271.3 300.9,265.3 301.0,268.8 301.1,266.3 301.2,258.5 301.3,257.7 301.4,272.9 301.5,267.4 301.6,268.9 301.7,262.6 301.8,266.8 301.9,273.1 302.0,270.0 302.1,267.1 302.2,276.6 302.3,269.3 302.5,267.9 302.6,274.9 302.7,261.5 302.8,272.1 302.9,264.4 303.0,266.0 303.1,266.4 303.2,270.2 303.3,270.1 303.4,271.1 303.5,270.6 303.6,276.2 303.7,277.5 303.8,273.0 303.9,273.2 304.0,268.0 304.1,264.6 304.2,272.5 304.4,269.9 304.5,273.7 304.6,261.3 304.7,282.2 304.8,257.2 304.9,270.0 305.0,274.4 305.1,263.4 305.2,267.3 305.3,260.5 305.4,263.2 305.5,260.9 305.6,269.8 305.7,271.3 305.8,268.4 305.9,275.8 306.0,276.4 306.1,269.9 306.2,268.9 306.4,268.7 306.5,267.9 306.6,276.0 306.7,271.1 306.8,268.5 306.9,269.0 307.0,272.6 307.1,275.5 307.2,271.5 307.3,269.9 307.4,276.4 307.5,275.5 307.6,263.5 307.7,269.4 307.8,273.4 307.9,268.1 308.0,279.0 308.1,266.8 308.3,272.9 308.4,269.9 308.5,271.6 308.6,272.6 308.7,263.4 308.8,266.0 308.9,265.5 309.0,278.1 309.1,271.7 309.2,272.0 309.3,271.1 309.4,267.9 309.5,266.9 309.6,274.3 309.7,268.6 309.8,277.7 309.9,271.3 310.0,270.8 310.2,269.4 310.3,270.1 310.4,270.6 310.5,279.6 310.6,281.2 310.7,265.1 310.8,276.3 310.9,273.7 311.0,266.3 311.1,267.6 311.2,268.4 311.3,259.4 311.4,273.5 311.5,270.3 311.6,270.1 311.7,270.9 311.8,271.7 311.9,281.3 312.1,271.4 312.2,274.5 312.3,268.2 312.4,272.3 312.5,266.3 312.6,270.0 312.7,266.5 312.8,266.9 312.9,272.8 313.0,274.1 313.1,272.8 313.2,267.6 313.3,262.3 313.4,259.0 313.5,275.1 313.6,270.6 313.7,272.0 313.8,276.2 313.9,271.2 314.1,275.2 314.2,268.8 314.3,273.4 314.4,269.0 314.5,272.3 314.6,277.6 314.7,267.9 314.8,268.1 314.9,269.4 315.0,272.3 315.1,283.6 315.2,268.3 315.3,261.6 315.4,268.0 315.5,263.7 315.6,268.4 315.7,271.1 315.8,266.6 316.0,267.9 316.1,262.5 316.2,271.9 316.3,267.6 316.4,276.1 316.5,276.0 316.6,267.1 316.7,261.9 316.8,271.4 316.9,274.7 317.0,263.5 317.1,270.9 317.2,279.8 317.3,270.8 317.4,269.2 317.5,271.3 317.6,265.8 317.7,275.7 317.9,272.5 318.0,272.1 318.1,274.7 318.2,275.0 318.3,262.6 318.4,273.6 318.5,268.7 318.6,272.1 318.7,268.1 318.8,265.1 318.9,275.8 319.0,271.4 319.1,270.2 319.2,270.1 319.3,271.9 319.4,271.4 319.5,260.6 319.6,267.5 319.7,270.5 319.9,275.0 320.0,277.9 320.1,267.3 320.2,280.6 320.3,272.1 320.4,280.5 320.5,265.4 320.6,268.9 320.7,278.3 320.8,270.7 320.9,271.3 321.0,277.1 321.1,280.7 321.2,263.0 321.3,271.0 321.4,271.8 321.5,280.2 321.6,278.8 321.8,271.7 321.9,273.6 322.0,275.9 322.1,277.3 322.2,270.5 322.3,275.9 322.4,268.8 322.5,259.7 322.6,265.7 322.7,273.0 322.8,275.7 322.9,261.7 323.0,263.8 323.1,272.0 323.2,256.6 323.3,274.7 323.4,283.3 323.5,258.5 323.7,275.8 323.8,271.3 323.9,278.8 324.0,269.8 324.1,271.2 324.2,272.9 324.3,276.7 324.4,273.2 324.5,272.6 324.6,265.7 324.7,274.6 324.8,275.9 324.9,280.9 325.0,272.4 325.1,272.1 325.2,269.6 325.3,275.8 325.4,271.6 325.6,269.3 325.7,279.9 325.8,280.8 325.9,272.3 326.0,267.9 326.1,277.8 326.2,268.8 326.3,285.7 326.4,272.0 326.5,262.9 326.6,266.7 326.7,272.5 326.8,277.7 326.9,274.7 327.0,270.2 327.1,284.1 327.2,263.5 327.3,271.7 327.4,270.0 327.6,271.5 327.7,279.0 327.8,251.1 327.9,273.0 328.0,269.0 328.1,278.6 328.2,272.1 328.3,278.8 328.4,277.2 328.5,270.2 328.6,276.1 328.7,273.0 328.8,263.4 328.9,276.2 329.0,289.4 329.1,271.6 329.2,275.9 329.3,266.8 329.5,275.1 329.6,270.3 329.7,276.6 329.8,272.8 329.9,267.6 330.0,278.1 330.1,272.0 330.2,268.4 330.3,273.4 330.4,268.6 330.5,274.9 330.6,272.8 330.7,271.4 330.8,276.2 330.9,267.2 331.0,277.6 331.1,263.9 331.2,280.6 331.4,274.0 331.5,272.0 331.6,269.8 331.7,275.7 331.8,272.5 331.9,272.4 332.0,278.0 332.1,271.2 332.2,272.2 332.3,275.3 332.4,278.3 332.5,272.6 332.6,274.0 332.7,273.5 332.8,274.1 332.9,280.3 333.0,269.0 333.1,272.7 333.2,273.1 333.4,276.1 333.5,280.4 333.6,273.3 333.7,274.4 333.8,278.7 333.9,267.6 334.0,269.8 334.1,271.3 334.2,273.4 334.3,274.5 334.4,271.0 334.5,281.6 334.6,270.2 334.7,272.5 334.8,278.6 334.9,277.1 335.0,273.4 335.1,275.3 335.3,277.3 335.4,268.5 335.5,276.6 335.6,269.3 335.7,273.9 335.8,265.9 335.9,269.4 336.0,268.2 336.1,279.4 336.2,271.4 336.3,275.0 336.4,269.3 336.5,272.6 336.6,272.3 336.7,269.6 336.8,277.6 336.9,265.9 337.0,276.5 337.2,286.0 337.3,269.8 337.4,273.8 337.5,265.8 337.6,273.5 337.7,265.5 337.8,276.5 337.9,271.3 338.0,265.0 338.1,267.5 338.2,266.2 338.3,272.3 338.4,277.6 338.5,271.7 338.6,268.1 338.7,269.7 338.8,274.1 338.9,262.2 339.1,276.3 339.2,275.4 339.3,262.0 339.4,279.1 339.5,265.9 339.6,272.5 339.7,279.0 339.8,265.8 339.9,264.8 340.0,268.3 340.1,267.9 340.2,272.9 340.3,271.0 340.4,271.2 340.5,271.3 340.6,272.7 340.7,269.5 340.8,275.1 340.9,273.5 341.1,268.8 341.2,282.1 341.3,260.6 341.4,277.0 341.5,280.5 341.6,275.3 341.7,276.1 341.8,277.7 341.9,280.3 342.0,269.7 342.1,287.1 342.2,275.6 342.3,269.9 342.4,267.4 342.5,284.8 342.6,281.5 342.7,273.7 342.8,277.4 343.0,280.0 343.1,274.3 343.2,271.9 343.3,273.7 343.4,277.9 343.5,274.0 343.6,268.2 343.7,277.5 343.8,265.8 343.9,277.7 344.0,279.8 344.1,275.1 344.2,275.1 344.3,271.2 344.4,278.9 344.5,273.8 344.6,264.9 344.7,291.2 344.9,259.6 345.0,264.4 345.1,281.5 345.2,279.0 345.3,271.9 345.4,273.7 345.5,274.5 345.6,278.8 345.7,270.5 345.8,270.0 345.9,271.2 346.0,274.8 346.1,275.4 346.2,290.4 346.3,277.7 346.4,269.4 346.5,273.8 346.6,270.9 346.7,269.5 346.9,280.0 347.0,272.7 347.1,269.5 347.2,274.4 347.3,269.5 347.4,277.1 347.5,278.3 347.6,279.1 347.7,269.3 347.8,273.6 347.9,283.0 348.0,273.3 348.1,280.3 348.2,281.5 348.3,267.8 348.4,289.1 348.5,277.9 348.6,278.5 348.8,282.3 348.9,276.6 349.0,274.8 349.1,277.3 349.2,272.8 349.3,276.8 349.4,265.0 349.5,282.6 349.6,272.0 349.7,277.0 349.8,275.9 349.9,275.0 350.0,275.0 350.1,274.8 350.2,266.8 350.3,271.9 350.4,280.1 350.5,269.7 350.7,278.3 350.8,284.5 350.9,280.2 351.0,281.9 351.1,274.5 351.2,275.8 351.3,278.2 351.4,272.6 351.5,271.6 351.6,267.7 351.7,271.2 351.8,267.5 351.9,282.0 352.0,260.7 352.1,273.8 352.2,275.9 352.3,274.7 352.4,277.1 352.6,271.7 352.7,267.5 352.8,282.8 352.9,271.3 353.0,272.4 353.1,267.5 353.2,272.1 353.3,274.7 353.4,285.2 353.5,269.7 353.6,276.0 353.7,271.5 353.8,280.3 353.9,268.9 354.0,275.1 354.1,278.0 354.2,268.3 354.3,275.2 354.4,275.4 354.6,270.9 354.7,273.7 354.8,279.3 354.9,275.8 355.0,272.8 355.1,273.7 355.2,276.8 355.3,280.6 355.4,278.4 355.5,278.1 355.6,282.0 355.7,267.5 355.8,268.0 355.9,264.2 356.0,278.6 356.1,264.1 356.2,274.5 356.3,278.2 356.5,268.3 356.6,271.7 356.7,273.5 356.8,278.1 356.9,267.7 357.0,276.3 357.1,278.0 357.2,272.2 357.3,275.5 357.4,280.6 357.5,275.8 357.6,274.7 357.7,273.3 357.8,277.8 357.9,273.5 358.0,277.9 358.1,275.3 358.2,280.1 358.4,271.2 358.5,275.2 358.6,276.5 358.7,276.8 358.8,280.1 358.9,276.7 359.0,279.1 359.1,271.2 359.2,278.8 359.3,270.0" fill="none" stroke="#1010ff" stroke-width="0.8" stroke-linejoin="round"/>
<polyline points="43.0,181.0 43.1,187.3 43.2,185.6 43.3,185.5 43.4,190.9 43.5,174.0 43.6,177.5 43.7,173.4 43.8,180.7 43.9,187.3 44.1,181.2 44.2,184.3 44.3,169.8 44.4,182.1 44.5,175.7 44.6,191.7 44.7,186.3 44.8,186.5 44.9,180.3 45.0,184.2 45.1,184.3 45.2,178.1 45.3,177.0 45.4,179.1 45.5,175.9 45.6,175.8 45.7,177.5 45.8,174.7 46.0,183.4 46.1,169.1 46.2,183.4 46.3,174.5 46.4,174.8 46.5,169.8 46.6,176.9 46.7,176.1 46.8,178.5 46.9,174.0 47.0,177.6 47.1,187.7 47.2,179.1 47.3,173.0 47.4,182.0 47.5,175.3 47.6,179.5 47.7,179.4 47.9,173.2 48.0,163.8 48.1,173.1 48.2,178.3 48.3,172.5 48.4,177.2 48.5,180.3 48.6,171.0 48.7,181.4 48.8,183.6 48.9,180.2 49.0,180.5 49.1,179.9 49.2,187.8 49.3,174.1 49.4,172.8 49.5,176.2 49.6,166.9 49.7,162.9 49.9,166.7 50.0,174.1 50.1,174.5 50.2,158.8 50.3,160.0 50.4,169.2 50.5,169.8 50.6,164.3 50.7,174.6 50.8,177.7 50.9,171.6 51.0,174.8 51.1,163.2 51.2,162.6 51.3,170.9 51.4,173.2 51.5,173.4 51.6,172.4 51.8,173.4 51.9,173.4 52.0,157.8 52.1,163.7 52.2,173.9 52.3,171.4 52.4,158.5 52.5,174.4 52.6,164.6 52.7,165.6 52.8,187.0 52.9,171.2 53.0,157.9 53.1,172.2 53.2,166.6 53.3,161.3 53.4,164.1 53.5,152.4 53.7,161.5 53.8,154.2 53.9,160.7 54.0,162.8 54.1,163.7 54.2,164.7 54.3,170.4 54.4,163.9 54.5,162.3 54.6,182.4 54.7,176.0 54.8,161.3 54.9,166.2 55.0,158.3 55.1,170.8 55.2,166.5 55.3,170.4 55.4,161.9 55.6,155.8 55.7,167.2 55.8,166.2 55.9,156.3 56.0,152.5 56.1,163.8 56.2,159.9 56.3,176.4 56.4,156.9 56.5,157.2 56.6,159.5 56.7,150.0 56.8,154.5 56.9,169.5 57.0,158.7 57.1,155.6 57.2,151.4 57.3,162.4 57.4,162.6 57.6,160.1 57.7,156.0 57.8,160.0 57.9,160.2 58.0,153.7 58.1,161.3 58.2,144.7 58.3,149.5 58.4,155.2 58.5,156.2 58.6,149.7 58.7,158.4 58.8,162.6 58.9,158.8 59.0,157.3 59.1,160.7 59.2,158.0 59.3,148.5 59.5,154.0 59.6,162.7 59.7,152.1 59.8,159.2 59.9,152.1 60.0,148.9 60.1,148.0 60.2,156.8 60.3,155.6 60.4,155.4 60.5,144.6 60.6,151.4 60.7,155.0 60.8,158.5 60.9,156.6 61.0,157.4 61.1,158.8 61.2,157.0 61.4,147.0 61.5,152.0 61.6,147.2 61.7,137.0 61.8,141.0 61.9,163.4 62.0,141.1 62.1,137.1 62.2,146.8 62.3,159.3 62.4,149.7 62.5,152.2 62.6,148.0 62.7,148.9 62.8,156.8 62.9,153.8 63.0,150.8 63.1,154.0 63.2,154.9 63.4,147.0 63.5,149.7 63.6,149.5 63.7,143.7 63.8,154.5 63.9,146.4 64.0,143.5 64.1,146.3 64.2,139.2 64.3,155.8 64.4,139.6 64.5,148.8 64.6,131.7 64.7,149.0 64.8,149.3 64.9,140.9 65.0,143.6 65.1,145.7 65.3,137.8 65.4,144.6 65.5,142.7 65.6,148.1 65.7,152.0 65.8,147.2 65.9,139.3 66.0,145.9 66.1,134.5 66.2,145.8 66.3,153.9 66.4,141.3 66.5,142.3 66.6,136.0 66.7,140.2 66.8,138.2 66.9,151.0 67.0,143.0 67.2,137.5 67.3,152.3 67.4,132.5 67.5,145.3 67.6,146.0 67.7,143.1 67.8,137.8 67.9,138.4 68.0,136.8 68.1,143.3 68.2,124.4 68.3,135.0 68.4,138.7 68.5,134.0 68.6,126.3 68.7,135.5 68.8,132.1 68.9,141.2 69.1,142.4 69.2,136.2 69.3,123.9 69.4,134.0 69.5,129.4 69.6,138.7 69.7,144.5 69.8,135.9 69.9,145.9 70.0,142.5 70.1,137.3 70.2,127.5 70.3,133.7 70.4,124.1 70.5,138.8 70.6,133.0 70.7,140.2 70.8,133.5 70.9,119.8 71.1,135.0 71.2,136.4 71.3,140.5 71.4,124.4 71.5,124.4 71.6,130.0 71.7,122.9 71.8,124.9 71.9,122.0 72.0,143.8 72.1,124.1 72.2,121.4 72.3,124.4 72.4,126.8 72.5,134.2 72.6,144.4 72.7,130.5 72.8,125.7 73.0,126.0 73.1,120.9 73.2,115.4 73.3,136.3 73.4,121.0 73.5,129.5 73.6,121.1 73.7,122.2 73.8,140.1 73.9,113.8 74.0,121.2 74.1,123.6 74.2,126.0 74.3,123.6 74.4,126.5 74.5,121.8 74.6,119.6 74.7,107.5 74.9,115.8 75.0,128.0 75.1,119.0 75.2,122.8 75.3,116.4 75.4,113.3 75.5,129.2 75.6,118.8 75.7,125.2 75.8,119.1 75.9,113.8 76.0,101.7 76.1,115.4 76.2,105.1 76.3,100.8 76.4,121.2 76.5,117.7 76.6,116.9 76.7,112.9 76.9,112.0 77.0,114.5 77.1,112.4 77.2,111.5 77.3,115.2 77.4,95.6 77.5,117.8 77.6,105.8 77.7,114.3 77.8,115.8 77.9,103.3 78.0,112.7 78.1,112.2 78.2,102.8 78.3,103.4 78.4,106.9 78.5,92.4 78.6,102.6 78.8,106.0 78.9,101.8 79.0,94.5 79.1,101.3 79.2,112.4 79.3,110.8 79.4,101.7 79.5,97.2 79.6,101.5 79.7,101.3 79.8,96.7 79.9,102.9 80.0,103.7 80.1,105.2 80.2,84.5 80.3,104.7 80.4,99.2 80.5,104.9 80.7,97.5 80.8,99.8 80.9,117.7 81.0,78.5 81.1,105.5 81.2,96.7 81.3,84.2 81.4,78.8 81.5,96.2 81.6,87.8 81.7,99.6 81.8,94.5 81.9,92.0 82.0,98.4 82.1,93.2 82.2,96.1 82.3,96.2 82.4,92.8 82.6,95.2 82.7,94.8 82.8,81.5 82.9,87.6 83.0,88.2 83.1,86.3 83.2,78.6 83.3,84.4 83.4,89.4 83.5,88.2 83.6,95.8 83.7,82.7 83.8,83.3 83.9,82.1 84.0,83.3 84.1,81.2 84.2,73.3 84.3,86.2 84.4,89.7 84.6,90.2 84.7,76.6 84.8,81.6 84.9,93.5 85.0,81.4 85.1,83.8 85.2,80.5 85.3,87.1 85.4,86.6 85.5,101.4 85.6,83.1 85.7,82.5 85.8,72.2 85.9,76.7 86.0,74.6 86.1,76.6 86.2,70.4 86.3,85.2 86.5,71.3 86.6,79.0 86.7,69.5 86.8,78.8 86.9,86.4 87.0,63.8 87.1,78.1 87.2,75.2 87.3,77.0 87.4,77.5 87.5,70.9 87.6,73.4 87.7,70.7 87.8,69.0 87.9,66.3 88.0,79.2 88.1,68.7 88.2,76.8 88.4,75.9 88.5,66.3 88.6,78.3 88.7,66.6 88.8,75.3 88.9,80.0 89.0,66.7 89.1,65.2 89.2,69.7 89.3,84.1 89.4,67.8 89.5,62.2 89.6,74.4 89.7,68.2 89.8,68.8 89.9,62.8 90.0,47.6 90.1,69.3 90.2,48.1 90.4,58.1 90.5,61.1 90.6,61.7 90.7,72.0 90.8,66.6 90.9,69.8 91.0,63.2 91.1,58.7 91.2,67.8 91.3,68.5 91.4,56.3 91.5,65.2 91.6,64.3 91.7,66.8 91.8,59.1 91.9,59.6 92.0,68.1 92.1,56.5 92.3,63.4 92.4,68.3 92.5,64.8 92.6,65.8 92.7,56.4 92.8,62.1 92.9,61.0 93.0,66.0 93.1,64.7 93.2,62.2 93.3,73.2 93.4,64.9 93.5,58.1 93.6,57.6 93.7,60.9 93.8,57.5 93.9,70.6 94.0,64.0 94.2,58.5 94.3,56.3 94.4,53.6 94.5,49.7 94.6,67.6 94.7,64.6 94.8,63.2 94.9,60.0 95.0,47.8 95.1,63.4 95.2,57.4 95.3,66.8 95.4,57.3 95.5,55.4 95.6,59.4 95.7,54.2 95.8,65.9 95.9,59.4 96.1,59.8 96.2,59.5 96.3,55.2 96.4,38.1 96.5,58.2 96.6,67.5 96.7,57.3 96.8,59.0 96.9,53.9 97.0,54.4 97.1,54.7 97.2,64.2 97.3,56.9 97.4,62.2 97.5,63.0 97.6,54.0 97.7,44.6 97.8,61.0 97.9,68.4 98.1,54.6 98.2,64.5 98.3,60.9 98.4,51.7 98.5,60.3 98.6,50.3 98.7,53.9 98.8,63.0 98.9,56.6 99.0,48.5 99.1,64.0 99.2,48.9 99.3,54.6 99.4,53.4 99.5,54.5 99.6,50.4 99.7,45.7 99.8,68.6 100.0,49.9 100.1,50.3 100.2,41.0 100.3,65.4 100.4,61.9 100.5,64.1 100.6,57.2 100.7,64.8 100.8,57.3 100.9,56.0 101.0,64.5 101.1,55.8 101.2,57.3 101.3,50.4 101.4,56.8 101.5,68.1 101.6,55.9 101.7,58.8 101.9,42.0 102.0,64.6 102.1,58.8 102.2,75.8 102.3,58.2 102.4,51.7 102.5,48.7 102.6,65.1 102.7,56.8 102.8,51.2 102.9,56.7 103.0,53.4 103.1,61.5 103.2,54.8 103.3,66.4 103.4,56.9 103.5,54.2 103.6,66.4 103.7,54.9 103.9,49.8 104.0,57.5 104.1,56.4 104.2,59.6 104.3,59.4 104.4,52.0 104.5,58.0 104.6,57.7 104.7,48.1 104.8,55.2 104.9,59.9 105.0,49.3 105.1,52.4 105.2,56.2 105.3,45.1 105.4,62.3 105.5,51.2 105.6,61.3 105.8,63.3 105.9,69.0 106.0,57.4 106.1,54.5 106.2,51.0 106.3,63.6 106.4,68.2 106.5,56.5 106.6,63.5 106.7,66.2 106.8,66.9 106.9,59.0 107.0,65.5 107.1,61.6 107.2,56.4 107.3,63.9 107.4,49.3 107.5,57.0 107.7,60.1 107.8,75.1 107.9,54.3 108.0,67.7 108.1,69.2 108.2,60.3 108.3,66.0 108.4,62.6 108.5,75.2 108.6,58.9 108.7,63.8 108.8,53.1 108.9,66.8 109.0,71.4 109.1,55.1 109.2,60.1 109.3,68.3 109.4,62.7 109.6,58.5 109.7,50.9 109.8,59.9 109.9,80.8 110.0,63.6 110.1,69.1 110.2,69.1 110.3,66.3 110.4,67.5 110.5,67.8 110.6,62.1 110.7,82.5 110.8,84.0 110.9,69.7 111.0,78.7 111.1,70.0 111.2,67.0 111.3,75.4 111.4,61.8 111.6,61.1 111.7,71.2 111.8,57.5 111.9,79.9 112.0,77.7 112.1,71.5 112.2,74.2 112.3,65.0 112.4,65.0 112.5,75.9 112.6,76.7 112.7,72.2 112.8,71.3 112.9,68.5 113.0,80.4 113.1,63.3 113.2,67.3 113.3,69.4 113.5,63.7 113.6,65.1 113.7,67.2 113.8,79.7 113.9,84.6 114.0,76.2 114.1,64.6 114.2,70.9 114.3,80.1 114.4,73.4 114.5,73.1 114.6,78.6 114.7,64.1 114.8,72.6 114.9,77.6 115.0,80.9 115.1,78.6 115.2,77.3 115.4,76.6 115.5,73.8 115.6,78.6 115.7,77.1 115.8,74.4 115.9,86.2 116.0,86.4 116.1,77.4 116.2,83.6 116.3,81.8 116.4,82.1 116.5,81.6 116.6,84.1 116.7,71.6 116.8,73.2 116.9,85.3 117.0,84.1 117.1,91.0 117.2,80.1 117.4,90.0 117.5,90.1 117.6,95.9 117.7,79.6 117.8,82.6 117.9,86.7 118.0,87.0 118.1,79.8 118.2,85.9 118.3,78.6 118.4,100.6 118.5,86.7 118.6,87.4 118.7,84.1 118.8,88.3 118.9,93.2 119.0,86.8 119.1,89.0 119.3,102.5 119.4,95.3 119.5,87.3 119.6,88.0 119.7,90.7 119.8,86.7 119.9,93.1 120.0,87.8 120.1,87.8 120.2,91.9 120.3,86.3 120.4,94.2 120.5,112.2 120.6,89.9 120.7,74.2 120.8,100.0 120.9,94.0 121.0,106.7 121.2,97.5 121.3,101.1 121.4,91.1 121.5,86.5 121.6,95.3 121.7,100.6 121.8,91.8 121.9,87.7 122.0,94.0 122.1,81.8 122.2,96.1 122.3,98.2 122.4,113.0 122.5,99.1 122.6,96.2 122.7,93.0 122.8,104.6 122.9,90.6 123.1,117.1 123.2,100.6 123.3,91.9 123.4,102.3 123.5,100.8 123.6,109.1 123.7,93.1 123.8,103.6 123.9,102.5 124.0,108.4 124.1,107.1 124.2,98.9 124.3,115.6 124.4,107.4 124.5,95.6 124.6,106.6 124.7,100.3 124.8,101.2 124.9,98.3 125.1,111.7 125.2,102.9 125.3,107.6 125.4,107.2 125.5,108.8 125.6,102.9 125.7,112.2 125.8,98.5 125.9,109.7 126.0,107.9 126.1,112.6 126.2,113.2 126.3,114.3 126.4,110.0 126.5,111.5 126.6,106.0 126.7,107.3 126.8,116.2 127.0,107.5 127.1,117.5 127.2,117.6 127.3,107.1 127.4,110.4 127.5,107.6 127.6,114.8 127.7,108.3 127.8,115.3 127.9,114.5 128.0,107.6 128.1,126.3 128.2,120.1 128.3,105.0 128.4,116.9 128.5,112.5 128.6,127.6 128.7,118.6 128.9,118.2 129.0,115.0 129.1,120.1 129.2,113.3 129.3,111.4 129.4,107.0 129.5,114.7 129.6,121.2 129.7,118.1 129.8,115.2 129.9,115.6 130.0,112.8 130.1,119.2 130.2,106.5 130.3,117.5 130.4,133.6 130.5,117.0 130.6,115.4 130.7,119.8 130.9,114.2 131.0,115.4 131.1,124.2 131.2,116.5 131.3,132.2 131.4,123.9 131.5,120.2 131.6,117.3 131.7,119.6 131.8,107.8 131.9,123.0 132.0,127.0 132.1,125.3 132.2,119.5 132.3,125.9 132.4,126.2 132.5,121.8 132.6,124.8 132.8,129.1 132.9,125.8 133.0,121.0 133.1,123.5 133.2,124.5 133.3,114.2 133.4,124.7 133.5,123.3 133.6,111.3 133.7,114.2 133.8,135.4 133.9,125.4 134.0,133.0 134.1,122.9 134.2,134.5 134.3,140.3 134.4,127.0 134.5,127.5 134.7,135.4 134.8,140.5 134.9,130.8 135.0,126.9 135.1,121.5 135.2,130.9 135.3,133.5 135.4,128.0 135.5,126.7 135.6,132.4 135.7,130.6 135.8,130.2 135.9,118.9 136.0,126.2 136.1,139.7 136.2,125.9 136.3,143.3 136.4,124.1 136.6,127.3 136.7,130.9 136.8,133.0 136.9,125.2 137.0,131.2 137.1,126.2 137.2,138.8 137.3,127.5 137.4,131.1 137.5,121.5 137.6,122.5 137.7,130.3 137.8,125.5 137.9,129.4 138.0,132.7 138.1,134.9 138.2,123.2 138.3,130.7 138.4,136.0 138.6,128.1 138.7,124.5 138.8,128.4 138.9,142.4 139.0,133.0 139.1,142.4 139.2,131.3 139.3,140.5 139.4,124.9 139.5,132.2 139.6,132.9 139.7,144.6 139.8,149.3 139.9,141.1 140.0,132.0 140.1,132.2 140.2,142.6 140.3,143.7 140.5,142.6 140.6,142.7 140.7,132.5 140.8,148.8 140.9,137.0 141.0,143.8 141.1,140.9 141.2,126.0 141.3,125.1 141.4,127.3 141.5,136.8 141.6,144.0 141.7,136.0 141.8,142.7 141.9,130.4 142.0,134.2 142.1,132.8 142.2,138.5 142.4,131.6 142.5,138.1 142.6,142.4 142.7,136.3 142.8,133.9 142.9,136.7 143.0,126.9 143.1,133.6 143.2,144.8 143.3,142.2 143.4,131.7 143.5,138.8 143.6,143.4 143.7,145.7 143.8,144.9 143.9,147.1 144.0,141.2 144.1,141.5 144.2,140.3 144.4,148.6 144.5,147.3 144.6,146.0 144.7,149.3 144.8,137.9 144.9,134.1 145.0,134.7 145.1,134.4 145.2,147.2 145.3,135.2 145.4,131.6 145.5,153.2 145.6,149.0 145.7,149.0 145.8,154.5 145.9,144.5 146.0,141.5 146.1,143.2 146.3,137.1 146.4,141.3 146.5,153.2 146.6,158.3 146.7,153.5 146.8,147.8 146.9,144.8 147.0,147.9 147.1,135.2 147.2,150.2 147.3,151.6 147.4,146.3 147.5,147.4 147.6,137.2 147.7,152.3 147.8,152.5 147.9,131.3 148.0,144.6 148.2,150.4 148.3,146.1 148.4,143.5 148.5,148.6 148.6,157.9 148.7,146.8 148.8,148.0 148.9,146.9 149.0,149.9 149.1,145.1 149.2,143.7 149.3,145.1 149.4,153.9 149.5,156.3 149.6,158.2 149.7,151.9 149.8,151.5 149.9,153.7 150.1,152.4 150.2,158.7 150.3,151.7 150.4,164.1 150.5,169.5 150.6,149.0 150.7,155.5 150.8,146.2 150.9,157.9 151.0,156.0 151.1,152.4 151.2,147.5 151.3,154.1 151.4,166.2 151.5,164.0 151.6,156.8 151.7,150.9 151.8,154.6 151.9,150.0 152.1,146.9 152.2,150.0 152.3,159.0 152.4,157.3 152.5,156.6 152.6,149.1 152.7,147.4 152.8,162.1 152.9,171.7 153.0,163.4 153.1,151.9 153.2,162.5 153.3,158.2 153.4,154.3 153.5,154.4 153.6,168.7 153.7,162.9 153.8,155.9 154.0,158.6 154.1,148.4 154.2,168.3 154.3,166.4 154.4,155.7 154.5,161.1 154.6,141.8 154.7,164.5 154.8,161.6 154.9,160.4 155.0,164.0 155.1,147.1 155.2,153.3 155.3,155.1 155.4,160.5 155.5,165.0 155.6,159.8 155.7,165.3 155.9,162.1 156.0,152.6 156.1,172.7 156.2,162.1 156.3,154.4 156.4,161.5 156.5,167.1 156.6,164.0 156.7,173.2 156.8,152.5 156.9,170.8 157.0,161.1 157.1,166.7 157.2,171.9 157.3,154.4 157.4,153.3 157.5,159.6 157.6,152.0 157.7,150.0 157.9,162.8 158.0,169.4 158.1,159.7 158.2,165.7 158.3,183.8 158.4,164.9 158.5,171.1 158.6,162.2 158.7,165.9 158.8,161.7 158.9,161.0 159.0,165.0 159.1,169.3 159.2,164.8 159.3,163.5 159.4,158.5 159.5,155.9 159.6,162.7 159.8,162.1 159.9,166.3 160.0,164.3 160.1,162.5 160.2,178.6 160.3,167.0 160.4,172.5 160.5,159.1 160.6,171.5 160.7,172.6 160.8,168.3 160.9,160.4 161.0,167.2 161.1,161.6 161.2,156.7 161.3,164.4 161.4,166.7 161.5,163.4 161.7,171.3 161.8,170.6 161.9,175.0 162.0,168.8 162.1,168.9 162.2,167.1 162.3,162.4 162.4,162.2 162.5,162.9 162.6,168.9 162.7,162.4 162.8,167.1 162.9,174.3 163.0,153.4 163.1,162.7 163.2,162.1 163.3,168.1 163.4,159.2 163.6,164.3 163.7,182.2 163.8,155.8 163.9,168.1 164.0,170.0 164.1,167.0 164.2,161.6 164.3,175.0 164.4,157.5 164.5,163.3 164.6,167.9 164.7,165.5 164.8,176.5 164.9,167.6 165.0,186.3 165.1,169.6 165.2,179.0 165.3,172.4 165.4,168.4 165.6,168.2 165.7,184.7 165.8,166.9 165.9,170.0 166.0,165.6 166.1,158.1 166.2,173.8 166.3,174.5 166.4,163.5 166.5,173.7 166.6,169.5 166.7,159.6 166.8,155.2 166.9,175.3 167.0,177.7 167.1,173.9 167.2,188.5 167.3,169.8 167.5,167.4 167.6,163.2 167.7,181.2 167.8,169.5 167.9,170.2 168.0,167.6 168.1,167.8 168.2,170.6 168.3,175.7 168.4,176.4 168.5,175.3 168.6,179.1 168.7,170.6 168.8,167.5 168.9,173.4 169.0,161.5 169.1,179.2 169.2,177.3 169.4,177.5 169.5,167.9 169.6,171.5 169.7,174.8 169.8,168.6 169.9,168.3 170.0,181.7 170.1,176.0 170.2,171.2 170.3,181.5 170.4,188.8 170.5,179.0 170.6,174.5 170.7,173.8 170.8,185.6 170.9,177.8 171.0,179.8 171.1,177.6 171.2,172.9 171.4,185.6 171.5,175.1 171.6,177.6 171.7,163.8 171.8,190.0 171.9,181.6 172.0,176.5 172.1,172.5 172.2,173.6 172.3,167.2 172.4,180.4 172.5,172.4 172.6,180.4 172.7,180.6 172.8,189.6 172.9,173.4 173.0,180.0 173.1,181.4 173.3,174.8 173.4,177.2 173.5,180.7 173.6,185.9 173.7,183.5 173.8,177.6 173.9,186.7 174.0,177.2 174.1,170.4 174.2,189.1 174.3,180.0 174.4,177.2 174.5,172.9 174.6,177.6 174.7,190.6 174.8,187.2 174.9,194.1 175.0,181.0 175.2,187.8 175.3,181.3 175.4,178.5 175.5,178.8 175.6,166.6 175.7,174.3 175.8,169.9 175.9,183.2 176.0,189.4 176.1,183.0 176.2,189.3 176.3,176.0 176.4,189.2 176.5,188.9 176.6,175.7 176.7,192.9 176.8,180.9 176.9,174.0 177.1,192.8 177.2,190.4 177.3,185.3 177.4,192.0 177.5,180.5 177.6,185.4 177.7,192.0 177.8,182.2 177.9,185.9 178.0,178.3 178.1,188.2 178.2,191.3 178.3,178.6 178.4,179.8 178.5,184.2 178.6,193.2 178.7,181.7 178.8,179.9 178.9,184.4 179.1,192.0 179.2,176.0 179.3,184.3 179.4,193.3 179.5,185.3 179.6,183.9 179.7,190.8 179.8,178.5 179.9,198.2 180.0,188.9 180.1,183.8 180.2,186.7 180.3,185.8 180.4,184.6 180.5,179.1 180.6,185.0 180.7,176.2 180.8,195.0 181.0,180.0 181.1,182.4 181.2,182.2 181.3,191.4 181.4,185.9 181.5,195.9 181.6,184.6 181.7,188.3 181.8,187.1 181.9,185.6 182.0,194.4 182.1,195.2 182.2,195.8 182.3,179.7 182.4,190.2 182.5,181.5 182.6,177.6 182.7,177.6 182.9,182.9 183.0,192.2 183.1,197.1 183.2,199.3 183.3,183.5 183.4,185.3 183.5,190.5 183.6,190.1 183.7,190.6 183.8,178.9 183.9,188.4 184.0,193.1 184.1,191.3 184.2,189.1 184.3,185.5 184.4,189.4 184.5,199.6 184.6,193.1 184.7,196.5 184.9,200.3 185.0,183.9 185.1,194.5 185.2,193.3 185.3,198.6 185.4,189.3 185.5,205.1 185.6,206.4 185.7,192.0 185.8,189.3 185.9,193.2 186.0,193.1 186.1,188.9 186.2,174.6 186.3,188.9 186.4,188.1 186.5,194.1 186.6,199.1 186.8,189.6 186.9,177.0 187.0,195.3 187.1,191.5 187.2,186.3 187.3,190.5 187.4,203.2 187.5,183.2 187.6,185.3 187.7,191.9 187.8,173.7 187.9,189.7 188.0,198.4 188.1,195.8 188.2,193.4 188.3,190.7 188.4,191.8 188.5,209.3 188.7,194.3 188.8,198.3 188.9,184.3 189.0,194.6 189.1,195.4 189.2,194.2 189.3,180.3 189.4,190.9 189.5,202.2 189.6,196.8 189.7,188.9 189.8,198.9 189.9,182.4 190.0,197.3 190.1,195.9 190.2,189.7 190.3,187.8 190.4,184.0 190.6,192.7 190.7,204.5 190.8,199.4 190.9,196.7 191.0,199.8 191.1,190.8 191.2,197.6 191.3,177.0 191.4,191.6 191.5,191.7 191.6,194.2 191.7,193.6 191.8,198.2 191.9,191.0 192.0,200.3 192.1,193.3 192.2,200.1 192.3,195.6 192.4,200.1 192.6,197.8 192.7,191.5 192.8,196.3 192.9,187.4 193.0,212.0 193.1,197.6 193.2,193.7 193.3,194.4 193.4,201.3 193.5,202.7 193.6,204.1 193.7,192.2 193.8,193.1 193.9,200.5 194.0,217.2 194.1,184.9 194.2,207.8 194.3,202.9 194.5,188.6 194.6,203.0 194.7,193.7 194.8,195.5 194.9,190.4 195.0,191.5 195.1,194.1 195.2,197.0 195.3,189.9 195.4,199.2 195.5,192.4 195.6,193.6 195.7,191.5 195.8,193.1 195.9,206.5 196.0,187.3 196.1,189.1 196.2,196.6 196.4,194.1 196.5,190.9 196.6,199.7 196.7,190.2 196.8,197.3 196.9,203.1 197.0,200.8 197.1,195.7 197.2,197.5 197.3,198.6 197.4,201.2 197.5,192.0 197.6,205.3 197.7,202.3 197.8,209.0 197.9,209.3 198.0,204.1 198.1,180.3 198.2,195.4 198.4,209.3 198.5,200.5 198.6,195.5 198.7,202.4 198.8,198.8 198.9,200.8 199.0,194.1 199.1,201.6 199.2,207.6 199.3,207.5 199.4,199.2 199.5,194.5 199.6,201.7 199.7,196.4 199.8,190.7 199.9,196.4 200.0,197.5 200.1,202.4 200.3,204.8 200.4,197.9 200.5,197.0 200.6,198.0 200.7,182.6 200.8,197.3 200.9,197.9 201.0,198.4 201.1,195.8 201.2,209.3 201.3,205.3 201.4,198.6 201.5,191.0 201.6,196.6 201.7,203.3 201.8,188.1 201.9,214.8 202.0,199.4 202.2,199.6 202.3,203.8 202.4,191.4 202.5,200.5 202.6,200.1 202.7,190.6 202.8,194.2 202.9,204.0 203.0,207.5 203.1,202.2 203.2,197.2 203.3,195.4 203.4,189.8 203.5,197.1 203.6,203.6 203.7,209.7 203.8,206.9 203.9,208.0 204.1,191.9 204.2,198.3 204.3,191.7 204.4,196.9 204.5,194.2 204.6,199.5 204.7,205.1 204.8,200.4 204.9,199.2 205.0,205.4 205.1,210.4 205.2,207.8 205.3,191.2 205.4,211.9 205.5,198.8 205.6,192.8 205.7,199.4 205.8,209.6 205.9,185.7 206.1,209.6 206.2,203.1 206.3,198.5 206.4,193.6 206.5,198.6 206.6,195.1 206.7,209.1 206.8,197.3 206.9,204.3 207.0,198.1 207.1,192.2 207.2,207.5 207.3,209.4 207.4,211.4 207.5,199.0 207.6,202.7 207.7,206.6 207.8,204.5 208.0,203.8 208.1,216.6 208.2,200.1 208.3,208.0 208.4,199.5 208.5,211.3 208.6,201.2 208.7,196.9 208.8,207.4 208.9,203.2 209.0,200.7 209.1,201.7 209.2,199.4 209.3,206.2 209.4,205.2 209.5,213.2 209.6,199.2 209.7,211.9 209.9,206.7 210.0,194.9 210.1,212.5 210.2,192.8 210.3,206.6 210.4,192.4 210.5,203.0 210.6,201.5 210.7,202.1 210.8,188.5 210.9,199.3 211.0,211.1 211.1,207.8 211.2,203.7 211.3,203.4 211.4,200.4 211.5,213.1 211.6,204.2 211.7,211.1 211.9,195.6 212.0,195.3 212.1,213.0 212.2,199.5 212.3,203.7 212.4,207.8 212.5,210.6 212.6,208.9 212.7,208.5 212.8,215.0 212.9,206.8 213.0,210.8 213.1,205.7 213.2,206.5 213.3,217.0 213.4,204.0 213.5,190.3 213.6,206.1 213.8,201.3 213.9,208.3 214.0,203.6 214.1,198.9 214.2,206.7 214.3,220.7 214.4,203.9 214.5,213.7 214.6,198.9 214.7,210.0 214.8,201.1 214.9,206.6 215.0,214.1 215.1,206.3 215.2,202.0 215.3,213.0 215.4,203.1 215.5,204.9 215.7,192.8 215.8,191.7 215.9,221.2 216.0,204.0 216.1,196.7 216.2,206.4 216.3,205.1 216.4,203.5 216.5,204.8 216.6,203.8 216.7,212.4 216.8,199.5 216.9,208.2 217.0,212.0 217.1,201.6 217.2,220.8 217.3,207.5 217.4,206.6 217.6,203.9 217.7,212.1 217.8,197.7 217.9,211.0 218.0,220.9 218.1,200.9 218.2,212.8 218.3,202.3 218.4,212.7 218.5,203.4 218.6,205.5 218.7,208.3 218.8,219.9 218.9,204.9 219.0,196.7 219.1,209.4 219.2,213.4 219.3,212.8 219.4,210.3 219.6,217.3 219.7,214.5 219.8,214.3 219.9,206.7 220.0,200.5 220.1,219.3 220.2,204.3 220.3,217.4 220.4,216.9 220.5,202.7 220.6,206.0 220.7,212.5 220.8,216.0 220.9,204.4 221.0,208.5 221.1,204.1 221.2,203.0 221.3,211.0 221.5,207.6 221.6,198.2 221.7,213.0 221.8,208.3 221.9,208.3 222.0,202.7 222.1,215.2 222.2,212.7 222.3,212.8 222.4,203.7 222.5,213.3 222.6,220.8 222.7,208.4 222.8,212.8 222.9,208.7 223.0,215.5 223.1,212.3 223.2,207.2 223.4,218.6 223.5,210.8 223.6,206.6 223.7,207.6 223.8,208.8 223.9,205.5 224.0,220.9 224.1,215.8 224.2,204.0 224.3,219.5 224.4,210.2 224.5,216.9 224.6,210.3 224.7,215.2 224.8,204.7 224.9,217.4 225.0,217.9 225.1,197.4 225.2,209.8 225.4,212.7 225.5,211.6 225.6,204.1 225.7,210.7 225.8,211.8 225.9,200.6 226.0,207.8 226.1,217.4 226.2,208.5 226.3,212.0 226.4,213.1 226.5,216.3 226.6,217.7 226.7,219.8 226.8,214.2 226.9,214.9 227.0,212.9 227.1,215.1 227.3,213.3 227.4,218.6 227.5,218.4 227.6,193.5 227.7,200.6 227.8,217.0 227.9,216.0 228.0,205.2 228.1,213.7 228.2,223.7 228.3,207.9 228.4,209.1 228.5,210.8 228.6,210.1 228.7,214.2 228.8,208.2 228.9,215.0 229.0,212.7 229.2,221.5 229.3,214.7 229.4,220.7 229.5,224.5 229.6,218.7 229.7,219.5 229.8,212.7 229.9,215.8 230.0,229.6 230.1,224.2 230.2,216.2 230.3,213.6 230.4,215.2 230.5,222.7 230.6,203.8 230.7,217.8 230.8,208.4 230.9,216.9 231.1,207.9 231.2,222.1 231.3,214.9 231.4,216.9 231.5,226.8 231.6,216.9 231.7,221.1 231.8,219.4 231.9,210.2 232.0,214.9 232.1,223.2 232.2,219.5 232.3,218.7 232.4,213.2 232.5,227.0 232.6,214.4 232.7,228.7 232.8,219.1 232.9,222.3 233.1,209.5 233.2,218.8 233.3,212.5 233.4,218.8 233.5,225.7 233.6,220.7 233.7,220.1 233.8,224.6 233.9,211.5 234.0,219.5 234.1,215.3 234.2,225.7 234.3,214.9 234.4,229.0 234.5,231.7 234.6,206.6 234.7,218.6 234.8,210.0 235.0,227.2 235.1,214.5 235.2,222.6 235.3,221.9 235.4,214.4 235.5,210.9 235.6,227.0 235.7,216.6 235.8,222.0 235.9,229.1 236.0,220.3 236.1,218.7 236.2,223.5 236.3,222.3 236.4,215.8 236.5,210.6 236.6,217.4 236.7,217.2 236.9,216.0 237.0,219.7 237.1,226.1 237.2,224.8 237.3,239.7 237.4,228.3 237.5,223.1 237.6,209.3 237.7,223.1 237.8,229.2 237.9,220.2 238.0,230.7 238.1,216.4 238.2,223.7 238.3,227.3 238.4,232.6 238.5,222.1 238.6,234.4 238.7,220.3 238.9,211.6 239.0,222.0 239.1,231.2 239.2,220.7 239.3,232.9 239.4,221.7 239.5,234.7 239.6,209.6 239.7,237.2 239.8,210.7 239.9,222.9 240.0,216.1 240.1,225.4 240.2,222.2 240.3,221.8 240.4,234.4 240.5,229.7 240.6,221.8 240.8,231.5 240.9,213.3 241.0,217.5 241.1,215.7 241.2,227.2 241.3,229.9 241.4,221.7 241.5,220.5 241.6,217.1 241.7,228.8 241.8,231.7 241.9,221.3 242.0,223.7 242.1,222.4 242.2,224.8 242.3,223.3 242.4,211.4 242.5,221.9 242.7,241.0 242.8,219.8 242.9,233.4 243.0,234.3 243.1,219.8 243.2,220.8 243.3,234.0 243.4,215.8 243.5,219.5 243.6,216.0 243.7,226.3 243.8,231.5 243.9,229.4 244.0,228.2 244.1,217.8 244.2,233.9 244.3,226.3 244.4,224.3 244.6,237.5 244.7,227.7 244.8,229.2 244.9,234.7 245.0,239.7 245.1,227.2 245.2,231.6 245.3,212.9 245.4,221.4 245.5,240.4 245.6,240.0 245.7,226.8 245.8,222.2 245.9,219.4 246.0,220.5 246.1,224.5 246.2,217.4 246.3,227.5 246.4,227.2 246.6,220.7 246.7,228.1 246.8,221.2 246.9,220.9 247.0,227.3 247.1,232.3 247.2,218.0 247.3,226.7 247.4,229.2 247.5,231.1 247.6,215.6 247.7,217.4 247.8,237.0 247.9,243.7 248.0,232.3 248.1,239.3 248.2,235.8 248.3,232.6 248.5,228.6 248.6,231.7 248.7,242.9 248.8,230.7 248.9,225.6 249.0,236.7 249.1,235.3 249.2,226.7 249.3,239.1 249.4,235.3 249.5,232.3 249.6,241.2 249.7,223.0 249.8,227.7 249.9,230.1 250.0,233.7 250.1,223.0 250.2,227.9 250.4,239.5 250.5,229.1 250.6,237.3 250.7,230.2 250.8,227.1 250.9,234.9 251.0,239.9 251.1,231.6 251.2,223.8 251.3,227.2 251.4,229.3 251.5,230.5 251.6,226.3 251.7,236.5 251.8,225.7 251.9,238.4 252.0,225.9 252.1,226.4 252.2,239.5 252.4,237.0 252.5,230.6 252.6,229.0 252.7,231.4 252.8,233.1 252.9,234.5 253.0,239.5 253.1,228.0 253.2,233.2 253.3,233.6 253.4,224.9 253.5,240.5 253.6,243.7 253.7,233.4 253.8,222.7 253.9,228.5 254.0,253.3 254.1,221.1 254.3,221.4 254.4,230.6 254.5,236.7 254.6,238.9 254.7,240.1 254.8,219.3 254.9,230.4 255.0,228.0 255.1,228.0 255.2,235.2 255.3,236.8 255.4,229.7 255.5,235.7 255.6,235.7 255.7,242.3 255.8,231.1 255.9,238.4 256.0,230.3 256.2,237.4 256.3,234.6 256.4,236.5 256.5,234.9 256.6,244.2 256.7,230.9 256.8,229.6 256.9,232.0 257.0,238.2 257.1,239.8 257.2,235.3 257.3,231.7 257.4,233.3 257.5,231.7 257.6,238.9 257.7,235.9 257.8,237.4 257.9,236.5 258.1,236.6 258.2,243.0 258.3,233.3 258.4,238.7 258.5,239.0 258.6,232.4 258.7,246.0 258.8,237.7 258.9,229.7 259.0,242.1 259.1,239.7 259.2,240.6 259.3,235.3 259.4,234.4 259.5,237.4 259.6,228.6 259.7,237.6 259.8,237.1 259.9,241.9 260.1,235.5 260.2,240.3 260.3,228.4 260.4,232.3 260.5,231.7 260.6,245.4 260.7,242.1 260.8,228.2 260.9,230.9 261.0,233.4 261.1,244.3 261.2,233.5 261.3,238.5 261.4,239.9 261.5,239.9 261.6,236.4 261.7,239.2 261.8,242.3 262.0,238.4 262.1,237.2 262.2,242.1 262.3,246.4 262.4,252.1 262.5,231.0 262.6,239.3 262.7,238.4 262.8,231.3 262.9,236.2 263.0,233.9 263.1,232.1 263.2,230.2 263.3,241.7 263.4,231.9 263.5,234.9 263.6,237.3 263.7,232.2 263.9,230.9 264.0,244.6 264.1,236.0 264.2,246.4 264.3,228.2 264.4,231.5 264.5,232.8 264.6,232.7 264.7,242.8 264.8,241.6 264.9,242.1 265.0,238.4 265.1,243.5 265.2,234.8 265.3,240.6 265.4,244.2 265.5,238.4 265.6,233.6 265.7,248.5 265.9,237.4 266.0,233.1 266.1,242.5 266.2,246.4 266.3,242.3 266.4,237.0 266.5,239.4 266.6,240.9 266.7,242.9 266.8,230.8 266.9,231.8 267.0,240.4 267.1,239.4 267.2,242.1 267.3,246.3 267.4,231.5 267.5,232.8 267.6,236.1 267.8,248.5 267.9,238.4 268.0,245.4 268.1,225.7 268.2,241.0 268.3,245.2 268.4,248.2 268.5,235.7 268.6,251.9 268.7,235.2 268.8,248.8 268.9,250.3 269.0,239.8 269.1,232.4 269.2,260.2 269.3,242.7 269.4,233.4 269.5,243.5 269.7,234.3 269.8,241.6 269.9,234.1 270.0,224.2 270.1,244.7 270.2,236.6 270.3,239.9 270.4,241.4 270.5,235.7 270.6,236.6 270.7,243.0 270.8,244.5 270.9,245.5 271.0,238.9 271.1,241.3 271.2,250.1 271.3,254.9 271.4,239.9 271.6,245.1 271.7,245.0 271.8,250.6 271.9,242.0 272.0,244.8 272.1,240.0 272.2,246.2 272.3,245.2 272.4,246.2 272.5,246.1 272.6,245.5 272.7,237.7 272.8,231.5 272.9,243.2 273.0,240.0 273.1,246.8 273.2,238.6 273.3,232.8 273.4,234.5 273.6,241.8 273.7,240.2 273.8,249.3 273.9,242.9 274.0,250.9 274.1,238.2 274.2,233.3 274.3,249.1 274.4,237.5 274.5,252.2 274.6,239.0 274.7,232.8 274.8,252.4 274.9,245.0 275.0,239.9 275.1,256.2 275.2,243.9 275.3,238.8 275.5,246.0 275.6,240.7 275.7,239.0 275.8,246.3 275.9,244.2 276.0,242.9 276.1,243.4 276.2,236.1 276.3,248.4 276.4,255.5 276.5,245.9 276.6,261.0 276.7,256.0 276.8,243.1 276.9,240.4 277.0,238.7 277.1,241.7 277.2,249.1 277.4,242.7 277.5,251.6 277.6,240.8 277.7,251.1 277.8,242.8 277.9,244.2 278.0,245.2 278.1,243.4 278.2,244.2 278.3,248.3 278.4,244.2 278.5,247.5 278.6,240.3 278.7,240.3 278.8,236.7 278.9,249.3 279.0,240.1 279.1,247.7 279.2,245.7 279.4,245.9 279.5,243.8 279.6,248.6 279.7,248.2 279.8,255.0 279.9,244.1 280.0,243.3 280.1,238.4 280.2,258.4 280.3,241.5 280.4,250.4 280.5,250.2 280.6,238.6 280.7,248.2 280.8,250.1 280.9,245.7 281.0,238.3 281.1,246.6 281.3,254.8 281.4,247.9 281.5,249.1 281.6,253.5 281.7,258.7 281.8,259.8 281.9,242.4 282.0,257.6 282.1,243.3 282.2,238.1 282.3,245.2 282.4,241.4 282.5,253.5 282.6,245.5 282.7,230.8 282.8,240.1 282.9,241.9 283.0,242.7 283.2,241.3 283.3,242.8 283.4,241.1 283.5,249.6 283.6,243.3 283.7,240.6 283.8,251.0 283.9,239.1 284.0,247.4 284.1,240.1 284.2,243.6 284.3,243.2 284.4,239.4 284.5,242.7 284.6,254.9 284.7,230.8 284.8,258.1 284.9,251.2 285.1,264.4 285.2,243.5 285.3,252.9 285.4,247.7 285.5,258.7 285.6,236.6 285.7,254.0 285.8,243.1 285.9,255.1 286.0,244.6 286.1,240.2 286.2,242.2 286.3,243.4 286.4,256.1 286.5,239.1 286.6,242.4 286.7,246.3 286.8,247.2 286.9,248.4 287.1,256.7 287.2,245.9 287.3,238.5 287.4,251.7 287.5,244.8 287.6,246.0 287.7,248.2 287.8,257.0 287.9,254.9 288.0,247.9 288.1,245.5 288.2,250.4 288.3,243.2 288.4,237.2 288.5,243.8 288.6,253.7 288.7,243.8 288.8,244.9 289.0,256.7 289.1,256.9 289.2,263.6 289.3,243.6 289.4,251.3 289.5,256.4 289.6,266.9 289.7,246.2 289.8,247.2 289.9,244.0 290.0,245.4 290.1,250.8 290.2,250.5 290.3,243.5 290.4,252.7 290.5,249.9 290.6,256.5 290.7,245.6 290.9,250.2 291.0,235.5 291.1,253.6 291.2,252.5 291.3,254.2 291.4,249.4 291.5,249.4 291.6,248.9 291.7,256.8 291.8,243.6 291.9,248.9 292.0,253.1 292.1,247.4 292.2,244.1 292.3,247.9 292.4,251.6 292.5,259.2 292.6,246.7 292.7,236.9 292.9,256.0 293.0,249.9 293.1,253.5 293.2,249.4 293.3,249.8 293.4,238.6 293.5,253.4 293.6,243.5 293.7,254.0 293.8,245.1 293.9,257.1 294.0,249.0 294.1,236.3 294.2,250.8 294.3,242.7 294.4,250.8 294.5,243.6 294.6,263.5 294.8,247.3 294.9,256.2 295.0,235.5 295.1,254.0 295.2,253.3 295.3,250.3 295.4,257.8 295.5,246.9 295.6,253.2 295.7,250.2 295.8,252.3 295.9,244.9 296.0,254.6 296.1,254.1 296.2,252.6 296.3,252.7 296.4,241.8 296.5,247.4 296.7,249.7 296.8,253.3 296.9,244.0 297.0,250.6 297.1,260.5 297.2,255.6 297.3,245.8 297.4,258.8 297.5,241.5 297.6,250.3 297.7,258.2 297.8,255.6 297.9,253.8 298.0,245.6 298.1,242.1 298.2,254.9 298.3,253.5 298.4,261.8 298.6,248.4 298.7,245.4 298.8,248.6 298.9,241.0 299.0,249.7 299.1,268.9 299.2,250.8 299.3,262.5 299.4,262.9 299.5,249.9 299.6,248.6 299.7,256.0 299.8,258.4 299.9,244.7 300.0,247.7 300.1,247.5 300.2,252.4 300.3,248.8 300.4,250.6 300.6,256.7 300.7,255.1 300.8,242.1 300.9,248.4 301.0,248.8 301.1,260.6 301.2,248.5 301.3,257.6 301.4,262.0 301.5,247.2 301.6,255.7 301.7,255.4 301.8,257.9 301.9,244.4 302.0,250.4 302.1,242.8 302.2,257.0 302.3,240.9 302.5,253.1 302.6,243.3 302.7,248.3 302.8,247.8 302.9,253.2 303.0,256.0 303.1,259.7 303.2,250.8 303.3,253.1 303.4,246.3 303.5,260.3 303.6,245.5 303.7,253.0 303.8,248.8 303.9,249.3 304.0,261.0 304.1,246.2 304.2,252.4 304.4,247.1 304.5,259.3 304.6,259.8 304.7,257.7 304.8,253.4 304.9,263.4 305.0,259.0 305.1,245.6 305.2,255.0 305.3,255.9 305.4,249.9 305.5,254.7 305.6,251.2 305.7,247.8 305.8,253.5 305.9,249.7 306.0,245.8 306.1,253.3 306.2,237.8 306.4,260.0 306.5,251.1 306.6,253.7 306.7,274.0 306.8,258.8 306.9,251.4 307.0,255.2 307.1,253.8 307.2,261.7 307.3,248.4 307.4,255.0 307.5,246.7 307.6,255.7 307.7,252.7 307.8,251.8 307.9,246.5 308.0,247.6 308.1,252.5 308.3,246.0 308.4,253.9 308.5,245.8 308.6,261.4 308.7,254.0 308.8,257.4 308.9,250.7 309.0,248.5 309.1,256.0 309.2,257.4 309.3,253.6 309.4,256.7 309.5,252.3 309.6,256.6 309.7,251.1 309.8,251.0 309.9,253.9 310.0,253.6 310.2,252.6 310.3,248.3 310.4,251.3 310.5,258.6 310.6,253.7 310.7,255.0 310.8,249.9 310.9,261.3 311.0,259.9 311.1,256.3 311.2,252.9 311.3,274.0 311.4,244.7 311.5,240.5 311.6,250.8 311.7,237.8 311.8,248.1 311.9,248.4 312.1,251.2 312.2,256.7 312.3,248.3 312.4,255.9 312.5,260.3 312.6,262.5 312.7,258.8 312.8,250.7 312.9,264.5 313.0,246.9 313.1,259.9 313.2,255.3 313.3,256.4 313.4,243.0 313.5,244.5 313.6,247.7 313.7,256.8 313.8,258.0 313.9,248.3 314.1,254.9 314.2,263.9 314.3,247.3 314.4,246.4 314.5,241.3 314.6,246.0 314.7,247.9 314.8,260.2 314.9,257.9 315.0,251.6 315.1,254.7 315.2,247.6 315.3,238.6 315.4,254.2 315.5,256.1 315.6,247.9 315.7,259.9 315.8,259.0 316.0,257.6 316.1,241.3 316.2,253.0 316.3,256.5 316.4,247.5 316.5,249.6 316.6,257.9 316.7,265.3 316.8,257.8 316.9,254.4 317.0,249.9 317.1,246.4 317.2,247.9 317.3,255.3 317.4,250.1 317.5,261.3 317.6,245.1 317.7,246.2 317.9,252.9 318.0,254.6 318.1,254.1 318.2,246.9 318.3,249.0 318.4,259.2 318.5,251.3 318.6,250.7 318.7,257.5 318.8,256.1 318.9,253.8 319.0,263.9 319.1,245.6 319.2,256.1 319.3,250.2 319.4,259.9 319.5,248.1 319.6,242.4 319.7,251.5 319.9,269.2 320.0,255.4 320.1,266.5 320.2,249.9 320.3,250.4 320.4,256.2 320.5,243.7 320.6,248.4 320.7,263.1 320.8,260.7 320.9,252.8 321.0,260.9 321.1,256.9 321.2,257.0 321.3,248.4 321.4,260.0 321.5,250.8 321.6,263.2 321.8,248.0 321.9,269.3 322.0,250.3 322.1,246.1 322.2,247.5 322.3,256.6 322.4,256.0 322.5,265.3 322.6,249.1 322.7,266.1 322.8,255.2 322.9,259.1 323.0,259.8 323.1,267.0 323.2,244.1 323.3,263.6 323.4,254.4 323.5,255.5 323.7,262.0 323.8,238.8 323.9,259.7 324.0,256.6 324.1,264.9 324.2,257.2 324.3,263.1 324.4,261.5 324.5,247.8 324.6,254.7 324.7,250.7 324.8,254.6 324.9,249.7 325.0,245.9 325.1,254.2 325.2,253.1 325.3,257.8 325.4,265.0 325.6,252.8 325.7,253.7 325.8,262.4 325.9,260.9 326.0,236.6 326.1,254.8 326.2,245.8 326.3,249.7 326.4,251.8 326.5,253.8 326.6,252.9 326.7,255.9 326.8,256.7 326.9,264.2 327.0,259.5 327.1,248.3 327.2,262.9 327.3,256.7 327.4,247.8 327.6,248.9 327.7,255.1 327.8,255.4 327.9,256.9 328.0,245.7 328.1,252.8 328.2,267.3 328.3,244.4 328.4,246.8 328.5,255.0 328.6,256.6 328.7,251.4 328.8,255.7 328.9,254.2 329.0,249.8 329.1,254.6 329.2,253.0 329.3,257.0 329.5,259.0 329.6,249.6 329.7,254.3 329.8,248.6 329.9,252.8 330.0,255.7 330.1,259.2 330.2,246.1 330.3,258.8 330.4,254.4 330.5,253.5 330.6,253.6 330.7,251.5 330.8,257.2 330.9,247.6 331.0,252.0 331.1,251.9 331.2,263.9 331.4,252.2 331.5,257.0 331.6,259.5 331.7,259.8 331.8,269.0 331.9,265.1 332.0,254.6 332.1,252.7 332.2,264.0 332.3,258.1 332.4,255.0 332.5,255.9 332.6,261.0 332.7,260.7 332.8,243.2 332.9,256.8 333.0,252.7 333.1,249.9 333.2,262.7 333.4,256.4 333.5,255.3 333.6,264.6 333.7,254.4 333.8,264.5 333.9,261.1 334.0,257.9 334.1,259.8 334.2,253.8 334.3,263.6 334.4,254.7 334.5,260.3 334.6,252.2 334.7,252.5 334.8,257.9 334.9,258.1 335.0,264.8 335.1,256.1 335.3,259.3 335.4,259.5 335.5,275.2 335.6,258.2 335.7,250.6 335.8,248.5 335.9,254.9 336.0,257.3 336.1,249.8 336.2,249.7 336.3,250.9 336.4,256.3 336.5,259.9 336.6,252.0 336.7,251.4 336.8,263.8 336.9,266.7 337.0,259.4 337.2,252.8 337.3,252.7 337.4,260.3 337.5,245.8 337.6,246.7 337.7,261.7 337.8,247.5 337.9,251.4 338.0,268.3 338.1,253.1 338.2,264.1 338.3,254.4 338.4,249.7 338.5,258.8 338.6,255.6 338.7,261.2 338.8,247.5 338.9,259.4 339.1,257.8 339.2,261.2 339.3,258.1 339.4,250.8 339.5,264.5 339.6,262.1 339.7,262.2 339.8,267.8 339.9,258.9 340.0,253.4 340.1,246.2 340.2,247.5 340.3,255.8 340.4,243.4 340.5,252.9 340.6,261.8 340.7,251.2 340.8,268.0 340.9,246.8 341.1,260.7 341.2,245.1 341.3,258.7 341.4,266.6 341.5,254.8 341.6,249.3 341.7,250.0 341.8,260.6 341.9,261.9 342.0,259.2 342.1,253.8 342.2,250.3 342.3,251.8 342.4,250.5 342.5,247.3 342.6,263.1 342.7,264.3 342.8,248.5 343.0,267.1 343.1,252.9 343.2,245.8 343.3,258.1 343.4,255.2 343.5,250.1 343.6,259.4 343.7,254.1 343.8,260.7 343.9,259.2 344.0,251.7 344.1,256.8 344.2,253.6 344.3,258.8 344.4,256.4 344.5,251.0 344.6,259.3 344.7,242.1 344.9,255.9 345.0,247.0 345.1,270.1 345.2,259.2 345.3,255.7 345.4,253.1 345.5,247.0 345.6,256.9 345.7,257.1 345.8,253.7 345.9,261.4 346.0,259.5 346.1,261.1 346.2,255.7 346.3,266.2 346.4,260.8 346.5,253.5 346.6,257.4 346.7,259.2 346.9,253.7 347.0,265.0 347.1,255.0 347.2,246.7 347.3,261.8 347.4,254.5 347.5,254.5 347.6,256.7 347.7,263.9 347.8,257.6 347.9,262.7 348.0,252.5 348.1,258.0 348.2,254.1 348.3,257.6 348.4,270.5 348.5,253.0 348.6,259.9 348.8,255.6 348.9,260.2 349.0,252.7 349.1,254.4 349.2,247.5 349.3,265.0 349.4,258.0 349.5,259.2 349.6,249.9 349.7,266.5 349.8,264.3 349.9,255.6 350.0,243.3 350.1,256.2 350.2,263.4 350.3,244.9 350.4,259.0 350.5,259.4 350.7,262.9 350.8,251.9 350.9,253.5 351.0,251.7 351.1,263.5 351.2,260.6 351.3,264.5 351.4,263.1 351.5,262.2 351.6,253.8 351.7,257.2 351.8,266.3 351.9,260.6 352.0,252.9 352.1,253.7 352.2,256.1 352.3,257.4 352.4,259.5 352.6,259.0 352.7,261.6 352.8,265.1 352.9,262.7 353.0,253.0 353.1,271.1 353.2,257.8 353.3,254.2 353.4,265.6 353.5,267.4 353.6,262.1 353.7,267.0 353.8,258.4 353.9,258.6 354.0,253.0 354.1,265.6 354.2,260.7 354.3,269.3 354.4,257.8 354.6,266.4 354.7,260.4 354.8,269.8 354.9,260.1 355.0,268.3 355.1,254.1 355.2,257.6 355.3,257.0 355.4,266.3 355.5,247.9 355.6,253.4 355.7,261.4 355.8,259.8 355.9,259.9 356.0,262.6 356.1,258.8 356.2,276.1 356.3,267.7 356.5,254.7 356.6,267.5 356.7,255.6 356.8,253.0 356.9,259.5 357.0,259.3 357.1,261.5 357.2,253.2 357.3,259.3 357.4,256.4 357.5,266.1 357.6,260.1 357.7,256.2 357.8,253.7 357.9,259.7 358.0,271.1 358.1,249.7 358.2,255.9 358.4,267.0 358.5,279.2 358.6,258.6 358.7,259.1 358.8,257.4 358.9,250.4 359.0,258.3 359.1,263.1 359.2,262.2 359.3,251.4" fill="none" stroke="#000" stroke-width="0.8" stroke-linejoin="round"/>
<text x="17.30" y="18.30" font-size="15" font-weight="normal" fill="#444" stroke="#444" stroke-width="0.25" textLength="19.73" lengthAdjust="spacingAndGlyphs">(a)</text>
<text x="85.73" y="28.20" font-size="15" font-weight="bold" fill="#111" stroke="#111" stroke-width="0.25" textLength="30.95" lengthAdjust="spacingAndGlyphs">BTC</text>
<text x="66.63" y="248.70" font-size="15" font-weight="bold" fill="#1e1eff" stroke="#1e1eff" stroke-width="0.25" textLength="57.57" lengthAdjust="spacingAndGlyphs">BTC-Ag</text>
<text x="42.30" y="320.00" font-size="15.5" font-weight="normal" fill="#282828" stroke="#282828" stroke-width="0.25" text-anchor="middle">10</text>
<text x="95.13" y="320.00" font-size="15.5" font-weight="normal" fill="#282828" stroke="#282828" stroke-width="0.25" text-anchor="middle">20</text>
<text x="147.96" y="320.00" font-size="15.5" font-weight="normal" fill="#282828" stroke="#282828" stroke-width="0.25" text-anchor="middle">30</text>
<text x="200.79" y="320.00" font-size="15.5" font-weight="normal" fill="#282828" stroke="#282828" stroke-width="0.25" text-anchor="middle">40</text>
<text x="253.62" y="320.00" font-size="15.5" font-weight="normal" fill="#282828" stroke="#282828" stroke-width="0.25" text-anchor="middle">50</text>
<text x="306.45" y="320.00" font-size="15.5" font-weight="normal" fill="#282828" stroke="#282828" stroke-width="0.25" text-anchor="middle">60</text>
<text x="359.28" y="320.00" font-size="15.5" font-weight="normal" fill="#282828" stroke="#282828" stroke-width="0.25" text-anchor="middle">70</text>
<text x="177.85" y="349.60" font-size="17" font-weight="normal" fill="#282828" stroke="#282828" stroke-width="0.25" textLength="41.09" lengthAdjust="spacingAndGlyphs">2θ (°)</text>
<rect x="413" y="2.5" width="370.5" height="297.5" fill="none" stroke="#555" stroke-width="2.2" stroke-linejoin="round"/>
<path d="M487.2,300 v-6 M561.4,300 v-6 M635.6,300 v-6 M709.8,300 v-6" stroke="#555" stroke-width="1.8" fill="none"/>
<polyline points="413.5,201.0 415.0,200.5 416.7,204.2 418.4,208.0 421.2,194.2 423.5,205.0 426.6,225.0 428.2,225.9 429.8,223.2 431.4,224.7 433.0,224.0 434.6,223.8 436.2,223.8 437.8,222.6 439.4,223.4 441.0,222.9 442.6,225.0 444.2,223.1 445.8,222.6 447.4,222.5 449.1,222.1 450.7,221.7 452.3,221.9 453.9,222.2 455.5,221.6 457.1,222.1 458.7,221.2 460.3,221.2 461.9,221.8 463.5,221.1 465.1,220.4 466.7,220.3 468.3,220.6 469.9,221.1 471.5,219.9 473.1,219.5 474.8,219.3 476.4,219.8 478.0,218.5 479.6,218.6 481.2,219.1 482.9,218.7 484.5,218.2 486.1,218.3 487.8,216.2 489.4,218.0 491.0,216.7 492.6,216.1 494.2,217.0 495.9,217.0 497.5,216.1 499.1,215.6 500.8,216.0 502.4,215.7 504.0,216.3 505.6,215.7 507.2,215.2 508.9,215.5 510.5,214.5 512.1,213.9 513.8,214.5 515.4,214.3 517.0,213.6 518.6,213.1 520.2,213.4 521.9,211.7 523.5,213.3 525.1,212.9 526.8,211.5 528.4,212.3 530.0,212.0 531.7,211.2 533.3,211.9 535.0,210.2 536.7,210.6 538.3,211.2 540.0,211.2 541.7,209.2 543.3,209.9 545.0,210.1 546.7,209.3 548.3,210.3 550.0,208.5 551.7,209.2 553.3,208.2 555.0,208.5 556.6,209.1 558.2,208.1 559.9,207.7 561.5,206.7 563.1,208.4 564.7,207.7 566.3,207.5 567.9,207.5 569.6,206.8 571.2,206.1 572.8,206.2 574.4,204.1 576.0,202.0 577.7,200.4 580.0,208.0 581.8,214.9 583.6,221.8 585.7,200.0 586.2,148.0 586.8,205.0 587.6,230.3 589.2,229.8 590.9,229.8 592.5,230.9 594.2,229.3 595.8,229.8 597.5,229.9 599.1,230.2 600.8,230.3 602.4,229.3 604.1,229.0 605.7,229.9 607.4,230.5 609.0,229.8 610.6,230.0 612.2,229.6 613.8,229.1 615.4,229.2 617.0,228.8 618.6,229.2 620.2,228.1 621.8,228.4 623.4,228.1 625.0,228.3 626.6,227.8 628.5,228.1 630.5,229.6 632.5,229.1 634.4,228.5 634.9,210.0 635.4,189.7 635.9,215.0 636.6,234.1 638.2,234.7 639.8,232.5 641.4,233.2 643.0,232.9 644.6,233.3 646.2,231.5 647.8,233.2 649.4,232.9 651.0,231.3 652.6,231.3 654.2,231.6 656.0,230.7 657.8,230.7 659.6,230.5 661.3,230.8 663.1,229.1 664.9,229.2 666.7,228.3 668.9,231.7 671.0,235.0 672.6,241.4 674.2,247.9 676.4,225.0 677.6,192.0 678.6,235.0 680.0,259.1 681.7,259.4 683.4,260.5 685.0,260.2 686.7,260.8 688.4,259.7 690.1,260.4 691.8,260.3 693.5,261.8 695.1,261.6 696.8,261.3 698.5,261.7 699.3,254.0 700.1,261.7 701.8,261.6 703.5,262.3 705.2,261.8 706.9,261.9 708.6,262.8 710.3,264.1 712.1,262.8 713.8,262.8 715.5,262.6 717.2,262.7 718.9,263.9 720.6,264.3 722.3,264.0 723.1,252.9 723.9,264.2 725.5,264.4 727.2,264.7 728.8,264.8 730.5,265.0 732.1,264.3 733.8,265.0 735.4,265.5 737.0,265.2 738.7,265.5 740.3,265.5 742.0,266.0 743.6,266.8 745.3,266.3 746.9,266.7 748.5,266.7 750.2,267.3 751.9,267.2 753.5,267.9 755.1,265.8 756.8,267.5 758.5,266.8 760.1,267.2 761.8,267.7 763.4,267.9 765.0,267.9 766.7,267.5 768.4,268.3 770.0,267.5 771.6,265.9 773.2,264.2 776.0,268.5 777.8,268.8 779.5,269.4 781.2,270.4 783.0,270.4" fill="none" stroke="#0a0a0a" stroke-width="2.6" stroke-linejoin="round"/>
<polyline points="413.5,121.0 414.8,117.5 416.5,122.0 418.4,124.5 420.0,120.0 421.7,117.2 423.5,124.0 426.6,142.2 428.3,141.4 430.0,141.3 431.6,142.0 433.3,141.0 435.0,139.2 436.6,139.8 438.3,139.0 440.0,139.0 441.7,138.8 443.3,137.5 445.0,138.4 446.6,138.1 448.3,138.7 449.9,137.6 451.6,137.5 453.3,136.0 454.9,138.0 456.6,135.3 458.2,136.8 459.9,135.7 461.6,135.1 463.2,135.0 464.9,134.7 466.5,135.1 468.2,134.5 469.8,135.2 471.5,134.1 473.2,132.6 474.9,133.4 476.5,132.5 478.2,133.1 479.9,131.0 481.6,131.7 483.2,131.7 484.9,130.3 486.6,131.5 488.3,130.6 489.9,130.8 491.6,130.4 493.3,128.8 495.0,128.6 496.6,128.6 498.3,128.8 500.0,128.0 501.8,128.1 503.5,126.8 505.2,126.5 507.0,126.0 508.8,125.8 510.5,125.6 512.2,125.3 514.0,125.0 516.3,120.0 518.5,125.0 520.1,125.9 521.8,124.0 523.4,123.8 525.1,123.8 526.7,122.6 528.4,122.6 530.0,122.5 531.6,122.1 533.2,122.2 534.8,120.5 536.4,121.7 538.0,120.3 539.6,120.2 541.2,120.2 542.8,119.6 544.4,119.5 546.0,118.5 547.6,118.0 549.2,117.8 550.8,116.6 552.4,117.5 554.0,115.9 555.6,115.2 557.2,115.6 558.3,104.0 559.8,94.4 561.0,104.0 562.5,118.0 564.2,120.8 566.0,123.5 569.0,124.8 570.3,100.0 571.3,81.0 572.3,100.0 573.5,126.0 575.5,129.0 577.7,127.0 580.0,133.0 582.2,139.4 584.5,145.8 585.6,100.0 586.4,15.0 587.2,100.0 588.2,151.7 589.9,152.7 591.7,151.2 593.4,150.3 595.1,151.9 596.9,150.3 598.6,150.9 600.3,149.6 602.1,149.7 603.8,148.6 605.5,148.2 607.3,148.5 609.0,148.9 610.6,148.5 612.2,148.7 613.8,149.3 615.5,146.9 617.1,147.7 618.7,146.4 620.3,146.3 621.9,145.2 623.5,144.8 625.1,144.9 626.8,144.3 628.4,144.6 630.0,143.8 631.6,143.9 634.3,140.0 635.4,112.5 636.5,140.0 637.9,146.4 640.5,154.0 642.5,162.0 643.6,168.0 644.4,110.0 645.0,64.3 645.6,110.0 646.1,140.0 646.6,60.0 647.1,28.0 647.7,90.0 648.3,176.0 649.2,180.2 650.9,180.9 652.5,180.1 654.2,180.0 655.9,180.5 657.5,180.1 659.2,179.7 660.9,178.9 662.5,178.1 664.2,177.4 665.9,177.3 667.5,176.4 669.2,175.2 671.3,179.8 673.4,184.4 675.5,189.0 677.0,150.0 678.0,78.5 679.0,150.0 680.5,200.3 682.1,200.6 683.8,200.9 685.5,200.2 687.1,200.9 688.8,199.8 690.4,201.5 692.0,200.8 693.7,201.0 695.4,201.3 697.0,201.0 699.3,192.7 701.0,201.0 702.6,200.7 704.2,200.2 705.8,200.7 707.4,199.7 709.0,198.8 710.6,199.0 713.0,201.0 714.8,201.4 716.6,200.2 718.4,202.3 720.2,201.3 722.0,201.5 723.1,189.7 724.5,201.5 726.2,201.5 727.9,202.9 729.7,202.8 731.4,201.6 733.1,201.9 734.8,202.2 736.6,202.5 738.3,201.4 740.0,201.6 741.7,202.2 743.5,201.7 745.2,202.0 746.9,201.5 748.7,201.8 750.5,200.6 752.4,200.7 754.2,199.5 756.0,201.0 758.4,200.3 760.7,199.7 762.9,201.8 765.0,204.0 767.2,205.7 769.5,207.3 772.5,205.0 774.5,202.8 777.0,207.5 778.8,208.8 780.5,210.0 781.5,192.0 782.3,190.2 783.0,210.0" fill="none" stroke="#1010ff" stroke-width="3.0" stroke-linejoin="round"/>
<text x="415.90" y="19.00" font-size="15" font-weight="normal" fill="#444" stroke="#444" stroke-width="0.25" textLength="19.83" lengthAdjust="spacingAndGlyphs">(b)</text>
<text x="572.71" y="14.80" font-size="13.2" font-weight="normal" fill="#333" stroke="#333" stroke-width="0.25" textLength="26.68" lengthAdjust="spacingAndGlyphs">O 1s</text>
<text x="628.20" y="24.30" font-size="13.6" font-weight="normal" fill="#333" stroke="#333" stroke-width="0.25" textLength="35.96" lengthAdjust="spacingAndGlyphs">Ag 3d</text>
<text x="542.10" y="76.90" font-size="13.8" font-weight="normal" fill="#333" stroke="#333" stroke-width="0.25" textLength="44.05" lengthAdjust="spacingAndGlyphs">Ag 3p3</text>
<text x="522.40" y="94.40" font-size="13.8" font-weight="normal" fill="#333" stroke="#333" stroke-width="0.25" textLength="42.91" lengthAdjust="spacingAndGlyphs">Ag 3p1</text>
<text x="616.21" y="107.90" font-size="13.6" font-weight="normal" fill="#333" stroke="#333" stroke-width="0.25" textLength="28.88" lengthAdjust="spacingAndGlyphs">N 1s</text>
<text x="663.42" y="77.80" font-size="13.6" font-weight="normal" fill="#333" stroke="#333" stroke-width="0.25" textLength="29.17" lengthAdjust="spacingAndGlyphs">C 1s</text>
<text x="709.09" y="186.60" font-size="13.6" font-weight="normal" fill="#333" stroke="#333" stroke-width="0.25" textLength="29.19" lengthAdjust="spacingAndGlyphs">S 2p</text>
<text x="428.10" y="126.80" font-size="13.8" font-weight="bold" fill="#1a1aff" stroke="#1a1aff" stroke-width="0.25" textLength="51.71" lengthAdjust="spacingAndGlyphs">BTC-Ag</text>
<text x="429.10" y="216.10" font-size="13.8" font-weight="bold" fill="#111" stroke="#111" stroke-width="0.25" textLength="28.25" lengthAdjust="spacingAndGlyphs">BTC</text>
<text x="413.00" y="320.00" font-size="15.5" font-weight="normal" fill="#282828" stroke="#282828" stroke-width="0.25" text-anchor="middle">1000</text>
<text x="487.20" y="320.00" font-size="15.5" font-weight="normal" fill="#282828" stroke="#282828" stroke-width="0.25" text-anchor="middle">800</text>
<text x="561.40" y="320.00" font-size="15.5" font-weight="normal" fill="#282828" stroke="#282828" stroke-width="0.25" text-anchor="middle">600</text>
<text x="635.60" y="320.00" font-size="15.5" font-weight="normal" fill="#282828" stroke="#282828" stroke-width="0.25" text-anchor="middle">400</text>
<text x="709.80" y="320.00" font-size="15.5" font-weight="normal" fill="#282828" stroke="#282828" stroke-width="0.25" text-anchor="middle">200</text>
<text x="784.00" y="320.00" font-size="15.5" font-weight="normal" fill="#282828" stroke="#282828" stroke-width="0.25" text-anchor="middle">0</text>
<text x="523.74" y="347.80" font-size="17" font-weight="normal" fill="#282828" stroke="#282828" stroke-width="0.25" textLength="150.24" lengthAdjust="spacingAndGlyphs">Binding energy (eV)</text>
<rect x="815.5" y="2.5" width="370.5" height="297.5" fill="none" stroke="#555" stroke-width="2.2" stroke-linejoin="round"/>
<path d="M908.3,300 v-6 M1000.8,300 v-6 M1093.3,300 v-6" stroke="#555" stroke-width="1.8" fill="none"/>
<polyline points="816.5,240.2 817.5,240.5 818.5,240.5 819.5,240.3 820.5,240.3 821.5,240.9 822.5,241.4 823.5,241.4 824.5,240.7 825.5,240.4 826.5,241.0 827.5,241.3 828.5,240.6 829.5,240.1 830.5,239.7 831.5,239.9 832.5,240.0 833.5,239.4 834.5,239.4 835.5,239.9 836.5,239.7 837.5,240.2 838.5,240.5 839.5,240.2 840.5,240.3 841.5,239.9 842.5,239.9 843.5,239.7 844.5,239.6 845.5,239.3 846.5,239.7 847.5,239.5 848.5,239.6 849.5,239.4 850.5,239.3 851.5,239.4 852.5,239.1 853.5,239.5 854.5,239.9 855.5,239.5 856.5,239.9 857.5,239.9 858.5,239.8 859.5,240.2 860.5,239.3 861.5,239.0 862.5,239.5 863.5,239.7 864.5,239.6 865.5,239.8 866.5,239.5 867.5,239.9 868.5,239.7 869.5,240.2 870.5,240.1 871.5,241.0 872.5,241.0 873.5,241.5 874.5,241.8 875.5,241.9 876.5,241.4 877.5,241.6 878.5,240.9 879.5,240.7 880.5,240.5 881.5,240.4 882.5,240.4 883.5,240.4 884.5,240.1 885.5,240.2 886.5,239.9 887.5,240.1 888.5,239.6 889.5,239.3 890.5,239.0 891.5,239.2 892.5,239.0 893.5,239.0 894.5,238.4 895.5,238.9 896.5,238.9 897.5,238.8 898.5,238.7 899.5,238.5 900.5,238.6 901.5,238.9 902.5,238.6 903.5,238.8 904.5,239.5 905.5,239.1 906.5,239.1 907.5,238.6 908.5,238.5 909.5,238.5 910.5,238.5 911.5,238.0 912.5,237.9 913.5,238.0 914.5,238.3 915.5,238.4 916.5,238.3 917.5,238.2 918.5,238.8 919.5,239.0 920.5,238.7 921.5,239.2 922.5,239.2 923.5,238.9 924.5,239.1 925.5,238.5 926.5,238.1 927.5,238.2 928.5,237.4 929.5,237.2 930.5,237.6 931.5,237.2 932.5,237.1 933.5,237.7 934.5,237.4 935.5,237.5 936.5,237.3 937.5,236.5 938.5,236.1 939.5,235.8 940.5,235.1 941.5,235.0 942.5,234.6 943.5,234.5 944.5,234.5 945.5,234.4 946.5,233.9 947.5,233.2 948.5,232.9 949.5,232.0 950.5,230.5 951.5,229.0 952.5,226.7 953.5,224.2 954.5,221.6 955.5,218.1 956.5,214.7 957.5,210.5 958.5,205.0 959.5,200.3 960.5,194.5 961.5,187.2 962.5,179.9 963.5,171.4 964.5,162.2 965.5,153.4 966.5,143.2 967.5,133.6 968.5,123.9 969.5,113.8 970.5,104.4 971.5,96.1 972.5,88.2 973.5,81.8 974.5,76.4 975.5,73.1 976.5,71.0 977.5,70.8 978.5,72.8 979.5,76.4 980.5,81.4 981.5,87.3 982.5,95.4 983.5,104.6 984.5,113.9 985.5,123.7 986.5,134.0 987.5,143.2 988.5,153.0 989.5,161.5 990.5,170.1 991.5,178.4 992.5,185.5 993.5,191.9 994.5,199.2 995.5,205.4 996.5,210.2 997.5,213.9 998.5,218.3 999.5,221.2 1000.5,223.7 1001.5,225.4 1002.5,226.8 1003.5,228.8 1004.5,230.4 1005.5,230.5 1006.5,231.8 1007.5,232.7 1008.5,233.8 1009.5,234.2 1010.5,233.9 1011.5,233.9 1012.5,234.8 1013.5,234.7 1014.5,234.3 1015.5,233.8 1016.5,234.0 1017.5,234.8 1018.5,234.9 1019.5,234.8 1020.5,235.3 1021.5,235.8 1022.5,235.9 1023.5,236.5 1024.5,236.7 1025.5,237.2 1026.5,237.2 1027.5,237.3 1028.5,237.5 1029.5,237.6 1030.5,236.9 1031.5,236.4 1032.5,236.2 1033.5,236.8 1034.5,236.5 1035.5,236.8 1036.5,237.2 1037.5,237.4 1038.5,237.6 1039.5,237.0 1040.5,236.3 1041.5,236.5 1042.5,235.4 1043.5,234.6 1044.5,234.8 1045.5,234.3 1046.5,234.5 1047.5,234.2 1048.5,233.7 1049.5,234.3 1050.5,234.6 1051.5,234.0 1052.5,233.6 1053.5,233.5 1054.5,233.6 1055.5,233.4 1056.5,232.9 1057.5,232.1 1058.5,231.1 1059.5,230.2 1060.5,229.4 1061.5,227.8 1062.5,226.1 1063.5,223.8 1064.5,222.0 1065.5,220.2 1066.5,217.8 1067.5,214.8 1068.5,211.8 1069.5,208.7 1070.5,205.6 1071.5,201.6 1072.5,197.6 1073.5,193.1 1074.5,187.9 1075.5,182.4 1076.5,176.9 1077.5,170.7 1078.5,164.7 1079.5,158.8 1080.5,152.5 1081.5,146.5 1082.5,141.5 1083.5,136.5 1084.5,132.4 1085.5,128.2 1086.5,125.5 1087.5,123.9 1088.5,123.3 1089.5,122.8 1090.5,123.8 1091.5,125.4 1092.5,128.5 1093.5,131.2 1094.5,135.6 1095.5,140.4 1096.5,145.7 1097.5,151.1 1098.5,156.2 1099.5,162.2 1100.5,168.2 1101.5,173.4 1102.5,179.0 1103.5,184.0 1104.5,189.2 1105.5,194.3 1106.5,198.3 1107.5,202.2 1108.5,206.0 1109.5,209.4 1110.5,212.5 1111.5,214.5 1112.5,217.3 1113.5,219.2 1114.5,221.5 1115.5,223.0 1116.5,223.9 1117.5,224.9 1118.5,226.4 1119.5,227.1 1120.5,228.0 1121.5,228.5 1122.5,229.6 1123.5,230.2 1124.5,230.4 1125.5,230.2 1126.5,229.9 1127.5,230.0 1128.5,229.7 1129.5,228.9 1130.5,229.3 1131.5,229.0 1132.5,229.0 1133.5,230.1 1134.5,230.6 1135.5,231.0 1136.5,231.6 1137.5,232.0 1138.5,232.9 1139.5,233.3 1140.5,232.5 1141.5,232.3 1142.5,232.0 1143.5,231.7 1144.5,231.0 1145.5,230.9 1146.5,230.8 1147.5,231.4 1148.5,231.1 1149.5,231.3 1150.5,232.0 1151.5,232.3 1152.5,232.6 1153.5,233.0 1154.5,233.2 1155.5,233.8 1156.5,233.4 1157.5,232.9 1158.5,232.8 1159.5,232.0 1160.5,231.6 1161.5,230.9 1162.5,230.3 1163.5,230.7 1164.5,230.8 1165.5,230.7 1166.5,230.9 1167.5,230.9 1168.5,231.1 1169.5,231.4 1170.5,231.4 1171.5,231.3 1172.5,231.5 1173.5,231.9 1174.5,232.2 1175.5,232.1 1176.5,232.1 1177.5,232.2 1178.5,232.2 1179.5,232.1 1180.5,231.3 1181.5,230.5 1182.5,230.7 1183.5,230.9 1184.5,230.8 1185.5,230.8" fill="none" stroke="#3a7fdc" stroke-width="2.6" stroke-linejoin="round"/>
<polyline points="819.5,260.0 820.5,260.1 821.5,259.7 822.5,259.6 823.5,259.6 824.5,259.7 825.5,260.1 826.5,259.9 827.5,259.9 828.5,259.6 829.5,259.5 830.5,259.8 831.5,259.5 832.5,259.9 833.5,260.1 834.5,260.4 835.5,260.7 836.5,260.1 837.5,260.3 838.5,260.4 839.5,260.1 840.5,259.9 841.5,259.6 842.5,259.9 843.5,259.6 844.5,259.6 845.5,259.6 846.5,259.3 847.5,259.8 848.5,260.0 849.5,260.3 850.5,260.1 851.5,260.1 852.5,260.3 853.5,260.1 854.5,260.1 855.5,260.2 856.5,260.1 857.5,260.1 858.5,260.1 859.5,260.2 860.5,260.3 861.5,260.1 862.5,259.9 863.5,260.3 864.5,260.4 865.5,260.4 866.5,259.8 867.5,259.8 868.5,259.8 869.5,259.6 870.5,259.1 871.5,259.2 872.5,259.5 873.5,259.7 874.5,259.6 875.5,259.5 876.5,260.1 877.5,259.6 878.5,259.6 879.5,259.6 880.5,259.7 881.5,259.9 882.5,259.5 883.5,260.1 884.5,260.1 885.5,260.1 886.5,260.6 887.5,260.6 888.5,260.9 889.5,260.4 890.5,260.2 891.5,260.3 892.5,260.1 893.5,259.9 894.5,259.8 895.5,259.9 896.5,260.0 897.5,259.6 898.5,259.5 899.5,259.4 900.5,259.1 901.5,259.4 902.5,259.7 903.5,259.7 904.5,259.5 905.5,259.8 906.5,259.9 907.5,260.2 908.5,259.9 909.5,260.1 910.5,260.3 911.5,260.5 912.5,260.7 913.5,260.4 914.5,260.4 915.5,260.1 916.5,259.8 917.5,259.8 918.5,259.8 919.5,259.8 920.5,259.9 921.5,260.1 922.5,260.3 923.5,259.9 924.5,259.8 925.5,259.5 926.5,259.4 927.5,259.6 928.5,259.4 929.5,259.7 930.5,259.8 931.5,260.0 932.5,260.3 933.5,259.9 934.5,259.6 935.5,259.6 936.5,259.7 937.5,260.1 938.5,260.0 939.5,260.4 940.5,260.6 941.5,260.6 942.5,260.5 943.5,259.9 944.5,259.6 945.5,259.4 946.5,259.6 947.5,258.9 948.5,258.8 949.5,259.0 950.5,259.2 951.5,259.2 952.5,259.3 953.5,259.7 954.5,259.7 955.5,259.6 956.5,259.5 957.5,259.5 958.5,259.7 959.5,259.6 960.5,259.2 961.5,258.9 962.5,259.5 963.5,259.4 964.5,259.1 965.5,259.2 966.5,259.4 967.5,259.3 968.5,258.9 969.5,259.0 970.5,258.6 971.5,258.6 972.5,258.6 973.5,259.0 974.5,259.0 975.5,259.2 976.5,259.9 977.5,260.3 978.5,260.7 979.5,260.5 980.5,260.3 981.5,260.3 982.5,260.1 983.5,259.9 984.5,259.3 985.5,259.1 986.5,259.4 987.5,259.2 988.5,259.1 989.5,259.0 990.5,259.1 991.5,259.5 992.5,259.6 993.5,259.8 994.5,259.9 995.5,259.9 996.5,260.1 997.5,260.2 998.5,260.4 999.5,259.9 1000.5,260.0 1001.5,260.0 1002.5,260.1 1003.5,259.4 1004.5,259.0 1005.5,259.2 1006.5,258.9 1007.5,258.7 1008.5,258.1 1009.5,258.9 1010.5,259.1 1011.5,259.0 1012.5,259.2 1013.5,259.2 1014.5,259.9 1015.5,259.5 1016.5,259.4 1017.5,259.4 1018.5,259.5 1019.5,259.9 1020.5,259.6 1021.5,259.7 1022.5,259.7 1023.5,259.4 1024.5,258.9 1025.5,258.8 1026.5,258.8 1027.5,258.6 1028.5,258.9 1029.5,258.9 1030.5,259.3 1031.5,259.2 1032.5,259.6 1033.5,259.9 1034.5,259.7 1035.5,260.1 1036.5,260.0 1037.5,260.1 1038.5,259.9 1039.5,259.8 1040.5,259.7 1041.5,259.6 1042.5,259.9 1043.5,259.8 1044.5,260.2 1045.5,259.9 1046.5,260.2 1047.5,260.1 1048.5,259.7 1049.5,259.5 1050.5,259.0 1051.5,259.2 1052.5,259.0 1053.5,259.2 1054.5,259.7 1055.5,259.6 1056.5,259.9 1057.5,259.9 1058.5,260.1 1059.5,260.4 1060.5,260.4 1061.5,260.7 1062.5,260.6 1063.5,260.1 1064.5,260.2 1065.5,259.6 1066.5,259.4 1067.5,259.4 1068.5,259.5 1069.5,260.4 1070.5,260.4 1071.5,260.8 1072.5,260.7 1073.5,260.8 1074.5,260.8 1075.5,260.1 1076.5,260.3 1077.5,259.9 1078.5,259.7 1079.5,259.9 1080.5,260.2 1081.5,260.3 1082.5,259.8 1083.5,260.6 1084.5,260.8 1085.5,260.1 1086.5,259.6 1087.5,260.1 1088.5,260.4 1089.5,259.9 1090.5,260.1 1091.5,260.6 1092.5,260.7 1093.5,260.0 1094.5,259.9 1095.5,259.6 1096.5,259.3 1097.5,259.5 1098.5,259.7 1099.5,260.0 1100.5,260.0 1101.5,260.3 1102.5,260.5 1103.5,259.9 1104.5,259.8 1105.5,260.2 1106.5,260.3 1107.5,260.0 1108.5,259.7 1109.5,259.5 1110.5,259.3 1111.5,259.3 1112.5,259.1 1113.5,259.1 1114.5,259.2 1115.5,259.5 1116.5,259.7 1117.5,259.3 1118.5,259.1 1119.5,259.4 1120.5,259.9 1121.5,259.8 1122.5,259.7 1123.5,260.0 1124.5,259.9 1125.5,259.6 1126.5,259.2 1127.5,259.4 1128.5,259.4 1129.5,259.0 1130.5,259.4 1131.5,259.3 1132.5,259.0 1133.5,258.5 1134.5,258.7 1135.5,258.6 1136.5,258.6 1137.5,259.0 1138.5,259.5 1139.5,259.9 1140.5,259.6 1141.5,260.0 1142.5,259.7 1143.5,259.4 1144.5,259.4 1145.5,259.3 1146.5,259.8 1147.5,259.9 1148.5,259.9 1149.5,260.2 1150.5,260.2 1151.5,260.1 1152.5,259.6 1153.5,259.3 1154.5,259.4 1155.5,259.4 1156.5,259.1 1157.5,259.3 1158.5,259.4 1159.5,259.8 1160.5,260.0 1161.5,259.9 1162.5,259.7 1163.5,259.9 1164.5,260.1 1165.5,259.9 1166.5,260.0 1167.5,260.2 1168.5,260.2 1169.5,259.9 1170.5,260.1 1171.5,260.1 1172.5,260.0 1173.5,259.8 1174.5,259.8 1175.5,260.0 1176.5,260.1 1177.5,260.1 1178.5,259.7 1179.5,259.7 1180.5,259.8 1181.5,259.8 1182.5,259.7 1183.5,260.0 1184.5,260.2 1185.5,260.3" fill="none" stroke="#222" stroke-width="2.3" stroke-linejoin="round"/>
<text x="818.40" y="19.00" font-size="15" font-weight="normal" fill="#444" stroke="#444" stroke-width="0.25" textLength="19.02" lengthAdjust="spacingAndGlyphs">(c)</text>
<text x="1141.34" y="18.50" font-size="14.6" font-weight="bold" fill="#1a1a1a" stroke="#1a1a1a" stroke-width="0.25" textLength="39.06" lengthAdjust="spacingAndGlyphs">Ag 3d</text>
<text x="956.75" y="49.80" font-size="14.2" font-weight="bold" fill="#1a1a1a" stroke="#1a1a1a" stroke-width="0.25" textLength="38.92" lengthAdjust="spacingAndGlyphs">Ag 3d</text>
<text x="995.11" y="52.40" font-size="9.6" font-weight="bold" fill="#1a1a1a" stroke="#1a1a1a" stroke-width="0.25" textLength="13.37" lengthAdjust="spacingAndGlyphs">5/2</text>
<text x="956.57" y="63.70" font-size="11.5" font-weight="bold" fill="#333" stroke="#333" stroke-width="0.25" textLength="49.58" lengthAdjust="spacingAndGlyphs">368.77 eV</text>
<text x="1066.14" y="97.30" font-size="14.2" font-weight="bold" fill="#1a1a1a" stroke="#1a1a1a" stroke-width="0.25" textLength="39.02" lengthAdjust="spacingAndGlyphs">Ag 3d</text>
<text x="1104.81" y="99.90" font-size="9.6" font-weight="bold" fill="#1a1a1a" stroke="#1a1a1a" stroke-width="0.25" textLength="12.18" lengthAdjust="spacingAndGlyphs">3/2</text>
<text x="1066.17" y="114.30" font-size="11.5" font-weight="bold" fill="#333" stroke="#333" stroke-width="0.25" textLength="49.78" lengthAdjust="spacingAndGlyphs">374.74 eV</text>
<text x="819.09" y="235.30" font-size="14" font-weight="bold" fill="#2424ee" stroke="#2424ee" stroke-width="0.25" textLength="52.04" lengthAdjust="spacingAndGlyphs">BTC-Ag</text>
<text x="818.50" y="256.80" font-size="13.8" font-weight="normal" fill="#444" stroke="#444" stroke-width="0.25" textLength="27.89" lengthAdjust="spacingAndGlyphs">BTC</text>
<text x="815.80" y="320.00" font-size="15.5" font-weight="normal" fill="#282828" stroke="#282828" stroke-width="0.25" text-anchor="middle">360</text>
<text x="908.30" y="320.00" font-size="15.5" font-weight="normal" fill="#282828" stroke="#282828" stroke-width="0.25" text-anchor="middle">365</text>
<text x="1000.80" y="320.00" font-size="15.5" font-weight="normal" fill="#282828" stroke="#282828" stroke-width="0.25" text-anchor="middle">370</text>
<text x="1093.30" y="320.00" font-size="15.5" font-weight="normal" fill="#282828" stroke="#282828" stroke-width="0.25" text-anchor="middle">375</text>
<text x="1185.80" y="320.00" font-size="15.5" font-weight="normal" fill="#282828" stroke="#282828" stroke-width="0.25" text-anchor="middle">380</text>
<text x="925.74" y="348.00" font-size="17" font-weight="normal" fill="#282828" stroke="#282828" stroke-width="0.25" textLength="149.94" lengthAdjust="spacingAndGlyphs">Binding energy (eV)</text>
<rect x="13.5" y="364" width="370.5" height="298" fill="none" stroke="#555" stroke-width="2.2" stroke-linejoin="round"/>
<path d="M70.1,662 v-7 M127.2,662 v-7 M184.2,662 v-7 M241.3,662 v-7 M298.4,662 v-7 M355.5,662 v-7" stroke="#555" stroke-width="1.8" fill="none"/>
<text x="16.20" y="379.00" font-size="15" font-weight="normal" fill="#444" stroke="#444" stroke-width="0.25" textLength="19.43" lengthAdjust="spacingAndGlyphs">(d)</text>
<text x="354.98" y="378.30" font-size="14" font-weight="bold" fill="#111" stroke="#111" stroke-width="0.25" textLength="29.01" lengthAdjust="spacingAndGlyphs">S 2p</text>
<text x="257.86" y="390.50" font-size="13.6" font-weight="bold" fill="#111" stroke="#111" stroke-width="0.25" textLength="27.26" lengthAdjust="spacingAndGlyphs">C=S</text>
<text x="253.98" y="428.50" font-size="13.6" font-weight="bold" fill="#111" stroke="#111" stroke-width="0.25" textLength="62.18" lengthAdjust="spacingAndGlyphs">162.82 eV</text>
<text x="214.08" y="467.90" font-size="13.6" font-weight="bold" fill="#111" stroke="#111" stroke-width="0.25" textLength="62.08" lengthAdjust="spacingAndGlyphs">164.01 eV</text>
<text x="110.69" y="495.40" font-size="13.6" font-weight="bold" fill="#111" stroke="#111" stroke-width="0.25" textLength="28.50" lengthAdjust="spacingAndGlyphs">S=O</text>
<text x="19.53" y="504.60" font-size="14.6" font-weight="normal" fill="#444" stroke="#444" stroke-width="0.25" textLength="49.76" lengthAdjust="spacingAndGlyphs">BTC-Ag</text>
<text x="255.28" y="555.70" font-size="13.6" font-weight="bold" fill="#111" stroke="#111" stroke-width="0.25" textLength="61.98" lengthAdjust="spacingAndGlyphs">162.65 eV</text>
<text x="218.78" y="591.30" font-size="13.6" font-weight="bold" fill="#111" stroke="#111" stroke-width="0.25" textLength="62.38" lengthAdjust="spacingAndGlyphs">163.83 eV</text>
<text x="18.33" y="621.00" font-size="14.6" font-weight="normal" fill="#444" stroke="#444" stroke-width="0.25" textLength="27.68" lengthAdjust="spacingAndGlyphs">BTC</text>
<text x="13.00" y="681.90" font-size="15.5" font-weight="normal" fill="#282828" stroke="#282828" stroke-width="0.25" text-anchor="middle">172</text>
<text x="70.08" y="681.90" font-size="15.5" font-weight="normal" fill="#282828" stroke="#282828" stroke-width="0.25" text-anchor="middle">170</text>
<text x="127.16" y="681.90" font-size="15.5" font-weight="normal" fill="#282828" stroke="#282828" stroke-width="0.25" text-anchor="middle">168</text>
<text x="184.24" y="681.90" font-size="15.5" font-weight="normal" fill="#282828" stroke="#282828" stroke-width="0.25" text-anchor="middle">166</text>
<text x="241.32" y="681.90" font-size="15.5" font-weight="normal" fill="#282828" stroke="#282828" stroke-width="0.25" text-anchor="middle">164</text>
<text x="298.40" y="681.90" font-size="15.5" font-weight="normal" fill="#282828" stroke="#282828" stroke-width="0.25" text-anchor="middle">162</text>
<text x="355.48" y="681.90" font-size="15.5" font-weight="normal" fill="#282828" stroke="#282828" stroke-width="0.25" text-anchor="middle">160</text>
<text x="123.24" y="709.20" font-size="17" font-weight="normal" fill="#282828" stroke="#282828" stroke-width="0.25" textLength="149.94" lengthAdjust="spacingAndGlyphs">Binding energy (eV)</text>
<polyline points="14.5,516.9 15.5,516.9 16.5,516.9 17.5,517.0 18.5,517.0 19.5,517.0 20.5,517.1 21.5,517.1 22.5,517.1 23.5,517.2 24.5,517.2 25.5,517.2 26.5,517.3 27.5,517.3 28.5,517.3 29.5,517.4 30.5,517.4 31.5,517.4 32.5,517.5 33.5,517.5 34.5,517.5 35.5,517.6 36.5,517.6 37.5,517.6 38.5,517.7 39.5,517.7 40.5,517.7 41.5,517.8 42.5,517.8 43.5,517.8 44.5,517.9 45.5,517.9 46.5,517.9 47.5,518.0 48.5,518.0 49.5,518.0 50.5,518.1 51.5,518.1 52.5,518.2 53.5,518.2 54.5,518.2 55.5,518.3 56.5,518.3 57.5,518.3 58.5,518.4 59.5,518.4 60.5,518.4 61.5,518.5 62.5,518.5 63.5,518.5 64.5,518.6 65.5,518.6 66.5,518.6 67.5,518.7 68.5,518.7 69.5,518.7 70.5,518.8 71.5,518.8 72.5,518.8 73.5,518.9 74.5,518.9 75.5,518.9 76.5,519.0 77.5,519.0 78.5,519.0 79.5,519.1 80.5,519.1 81.5,519.1 82.5,519.2 83.5,519.2 84.5,519.2 85.5,519.3 86.5,519.3 87.5,519.4 88.5,519.4 89.5,519.4 90.5,519.5 91.5,519.5 92.5,519.5 93.5,519.6 94.5,519.6 95.5,519.6 96.5,519.7 97.5,519.7 98.5,519.7 99.5,519.8 100.5,519.8 101.5,519.8 102.5,519.9 103.5,519.9 104.5,519.9 105.5,520.0 106.5,520.0 107.5,520.0 108.5,520.1 109.5,520.1 110.5,520.1 111.5,520.2 112.5,520.2 113.5,520.2 114.5,520.3 115.5,520.3 116.5,520.3 117.5,520.4 118.5,520.4 119.5,520.4 120.5,520.5 121.5,520.5 122.5,520.5 123.5,520.6 124.5,520.6 125.5,520.7 126.5,520.7 127.5,520.7 128.5,520.8 129.5,520.8 130.5,520.8 131.5,520.9 132.5,520.9 133.5,520.9 134.5,521.0 135.5,521.0 136.5,521.0 137.5,521.1 138.5,521.1 139.5,521.1 140.5,521.2 141.5,521.2 142.5,521.2 143.5,521.3 144.5,521.3 145.5,521.3 146.5,521.4 147.5,521.4 148.5,521.4 149.5,521.5 150.5,521.5 151.5,521.5 152.5,521.6 153.5,521.6 154.5,521.6 155.5,521.7 156.5,521.7 157.5,521.7 158.5,521.8 159.5,521.8 160.5,521.8 161.5,521.9 162.5,521.9 163.5,522.0 164.5,522.0 165.5,522.0 166.5,522.1 167.5,522.1 168.5,522.1 169.5,522.2 170.5,522.2 171.5,522.2 172.5,522.3 173.5,522.3 174.5,522.3 175.5,522.4 176.5,522.4 177.5,522.4 178.5,522.5 179.5,522.5 180.5,522.5 181.5,522.6 182.5,522.6 183.5,522.6 184.5,522.7 185.5,522.7 186.5,522.7 187.5,522.8 188.5,522.8 189.5,522.8 190.5,522.9 191.5,522.9 192.5,522.9 193.5,523.0 194.5,523.0 195.5,523.0 196.5,523.1 197.5,523.1 198.5,523.1 199.5,523.2 200.5,523.2 201.5,523.3 202.5,523.3 203.5,523.3 204.5,523.4 205.5,523.4 206.5,523.4 207.5,523.5 208.5,523.5 209.5,523.5 210.5,523.6 211.5,523.6 212.5,523.6 213.5,523.7 214.5,523.7 215.5,523.7 216.5,523.8 217.5,523.8 218.5,523.8 219.5,523.9 220.5,523.9 221.5,523.9 222.5,524.0 223.5,524.0 224.5,524.0 225.5,524.1 226.5,524.1 227.5,524.1 228.5,524.2 229.5,524.2 230.5,524.2 231.5,524.3 232.5,524.3 233.5,524.3 234.5,524.4 235.5,524.4 236.5,524.5 237.5,524.5 238.5,524.5 239.5,524.6 240.5,524.6 241.5,524.6 242.5,524.7 243.5,524.7 244.5,524.7 245.5,524.8 246.5,524.8 247.5,524.8 248.5,524.9 249.5,524.9 250.5,524.9 251.5,525.0 252.5,525.0 253.5,525.0 254.5,525.1 255.5,525.1 256.5,525.1 257.5,525.2 258.5,525.2 259.5,525.2 260.5,525.3 261.5,525.3 262.5,525.3 263.5,525.4 264.5,525.4 265.5,525.4 266.5,525.5 267.5,525.5 268.5,525.5 269.5,525.6 270.5,525.6 271.5,525.6 272.5,525.7 273.5,525.7 274.5,525.8 275.5,525.8 276.5,525.8 277.5,525.9 278.5,525.9 279.5,525.9 280.5,526.0 281.5,526.0 282.5,526.0 283.5,526.1 284.5,526.1 285.5,526.1 286.5,526.2 287.5,526.2 288.5,526.2 289.5,526.3 290.5,526.3 291.5,526.3 292.5,526.4 293.5,526.4 294.5,526.4 295.5,526.5 296.5,526.5 297.5,526.5 298.5,526.6 299.5,526.6 300.5,526.6 301.5,526.7 302.5,526.7 303.5,526.7 304.5,526.8 305.5,526.8 306.5,526.8 307.5,526.9 308.5,526.9 309.5,526.9 310.5,527.0 311.5,527.0 312.5,527.1 313.5,527.1 314.5,527.1 315.5,527.2 316.5,527.2 317.5,527.2 318.5,527.3 319.5,527.3 320.5,527.3 321.5,527.4 322.5,527.4 323.5,527.4 324.5,527.5 325.5,527.5 326.5,527.5 327.5,527.6 328.5,527.6 329.5,527.6 330.5,527.7 331.5,527.7 332.5,527.7 333.5,527.8 334.5,527.8 335.5,527.8 336.5,527.9 337.5,527.9 338.5,527.9 339.5,528.0 340.5,528.0 341.5,528.0 342.5,528.1 343.5,528.1 344.5,528.1 345.5,528.2 346.5,528.2 347.5,528.3 348.5,528.3 349.5,528.3 350.5,528.4 351.5,528.4 352.5,528.4 353.5,528.5 354.5,528.5 355.5,528.5 356.5,528.6 357.5,528.6 358.5,528.6 359.5,528.7 360.5,528.7 361.5,528.7 362.5,528.8 363.5,528.8 364.5,528.8 365.5,528.9 366.5,528.9 367.5,528.9 368.5,529.0 369.5,529.0 370.5,529.0 371.5,529.1 372.5,529.1 373.5,529.1 374.5,529.2 375.5,529.2 376.5,529.2 377.5,529.3 378.5,529.3 379.5,529.3 380.5,529.4 381.5,529.4 382.5,529.4" fill="none" stroke="#f23a3a" stroke-width="2.4" stroke-linejoin="round"/>
<polyline points="14.5,518.4 15.5,518.5 16.5,518.5 17.5,518.5 18.5,518.5 19.5,518.5 20.5,518.5 21.5,518.5 22.5,518.5 23.5,518.6 24.5,518.6 25.5,518.6 26.5,518.6 27.5,518.6 28.5,518.6 29.5,518.6 30.5,518.6 31.5,518.6 32.5,518.7 33.5,518.7 34.5,518.7 35.5,518.7 36.5,518.7 37.5,518.7 38.5,518.7 39.5,518.7 40.5,518.7 41.5,518.8 42.5,518.8 43.5,518.8 44.5,518.8 45.5,518.8 46.5,518.8 47.5,518.8 48.5,518.8 49.5,518.8 50.5,518.8 51.5,518.8 52.5,518.9 53.5,518.9 54.5,518.9 55.5,518.9 56.5,518.9 57.5,518.9 58.5,518.9 59.5,518.9 60.5,518.9 61.5,518.9 62.5,518.9 63.5,518.9 64.5,518.9 65.5,518.8 66.5,518.8 67.5,518.8 68.5,518.8 69.5,518.8 70.5,518.7 71.5,518.7 72.5,518.7 73.5,518.6 74.5,518.6 75.5,518.6 76.5,518.5 77.5,518.4 78.5,518.4 79.5,518.3 80.5,518.2 81.5,518.2 82.5,518.1 83.5,518.0 84.5,517.9 85.5,517.8 86.5,517.7 87.5,517.5 88.5,517.4 89.5,517.3 90.5,517.1 91.5,517.0 92.5,516.8 93.5,516.6 94.5,516.5 95.5,516.3 96.5,516.1 97.5,515.9 98.5,515.7 99.5,515.5 100.5,515.3 101.5,515.1 102.5,514.9 103.5,514.7 104.5,514.5 105.5,514.3 106.5,514.1 107.5,513.9 108.5,513.8 109.5,513.6 110.5,513.4 111.5,513.2 112.5,513.1 113.5,513.0 114.5,512.8 115.5,512.7 116.5,512.6 117.5,512.6 118.5,512.5 119.5,512.5 120.5,512.5 121.5,512.5 122.5,512.5 123.5,512.5 124.5,512.6 125.5,512.7 126.5,512.8 127.5,512.9 128.5,513.0 129.5,513.2 130.5,513.3 131.5,513.5 132.5,513.7 133.5,513.9 134.5,514.1 135.5,514.3 136.5,514.5 137.5,514.7 138.5,514.9 139.5,515.2 140.5,515.4 141.5,515.6 142.5,515.8 143.5,516.1 144.5,516.3 145.5,516.5 146.5,516.7 147.5,516.9 148.5,517.1 149.5,517.4 150.5,517.5 151.5,517.7 152.5,517.9 153.5,518.1 154.5,518.3 155.5,518.4 156.5,518.6 157.5,518.7 158.5,518.8 159.5,519.0 160.5,519.1 161.5,519.2 162.5,519.3 163.5,519.4 164.5,519.5 165.5,519.6 166.5,519.7 167.5,519.8 168.5,519.9 169.5,519.9 170.5,520.0 171.5,520.1 172.5,520.1 173.5,520.2 174.5,520.2 175.5,520.3 176.5,520.3 177.5,520.3 178.5,520.4 179.5,520.4 180.5,520.5 181.5,520.5 182.5,520.5 183.5,520.5 184.5,520.6 185.5,520.6 186.5,520.6 187.5,520.6 188.5,520.7 189.5,520.7 190.5,520.7 191.5,520.7 192.5,520.8 193.5,520.8 194.5,520.8 195.5,520.8 196.5,520.8 197.5,520.8 198.5,520.9 199.5,520.9 200.5,520.9 201.5,520.9 202.5,520.9 203.5,520.9 204.5,521.0 205.5,521.0 206.5,521.0 207.5,521.0 208.5,521.0 209.5,521.0 210.5,521.1 211.5,521.1 212.5,521.1 213.5,521.1 214.5,521.1 215.5,521.1 216.5,521.2 217.5,521.2 218.5,521.2 219.5,521.2 220.5,521.2 221.5,521.2 222.5,521.2 223.5,521.3 224.5,521.3 225.5,521.3 226.5,521.3 227.5,521.3 228.5,521.3 229.5,521.3 230.5,521.4 231.5,521.4 232.5,521.4 233.5,521.4 234.5,521.4 235.5,521.4 236.5,521.4 237.5,521.5 238.5,521.5 239.5,521.5 240.5,521.5 241.5,521.5 242.5,521.5 243.5,521.6 244.5,521.6 245.5,521.6 246.5,521.6 247.5,521.6 248.5,521.6 249.5,521.6 250.5,521.7 251.5,521.7 252.5,521.7 253.5,521.7 254.5,521.7 255.5,521.7 256.5,521.7 257.5,521.7 258.5,521.8 259.5,521.8 260.5,521.8 261.5,521.8 262.5,521.8 263.5,521.8 264.5,521.8 265.5,521.9 266.5,521.9 267.5,521.9 268.5,521.9 269.5,521.9 270.5,521.9 271.5,521.9 272.5,522.0 273.5,522.0 274.5,522.0 275.5,522.0 276.5,522.0 277.5,522.0 278.5,522.0 279.5,522.1 280.5,522.1 281.5,522.1 282.5,522.1 283.5,522.1 284.5,522.1 285.5,522.1 286.5,522.2 287.5,522.2 288.5,522.2 289.5,522.2 290.5,522.2 291.5,522.2 292.5,522.2 293.5,522.3 294.5,522.3 295.5,522.3 296.5,522.3 297.5,522.3 298.5,522.3 299.5,522.3 300.5,522.3 301.5,522.4 302.5,522.4 303.5,522.4 304.5,522.4 305.5,522.4 306.5,522.4 307.5,522.4 308.5,522.5 309.5,522.5 310.5,522.5 311.5,522.5 312.5,522.5 313.5,522.5 314.5,522.5 315.5,522.6 316.5,522.6 317.5,522.6 318.5,522.6 319.5,522.6 320.5,522.6 321.5,522.6 322.5,522.7 323.5,522.7 324.5,522.7 325.5,522.7 326.5,522.7 327.5,522.7 328.5,522.7 329.5,522.7 330.5,522.8 331.5,522.8 332.5,522.8 333.5,522.8 334.5,522.8 335.5,522.8 336.5,522.8 337.5,522.9 338.5,522.9 339.5,522.9 340.5,522.9 341.5,522.9 342.5,522.9 343.5,522.9 344.5,523.0 345.5,523.0 346.5,523.0 347.5,523.0 348.5,523.0 349.5,523.0 350.5,523.0 351.5,523.0 352.5,523.1 353.5,523.1 354.5,523.1 355.5,523.1 356.5,523.1 357.5,523.1 358.5,523.1 359.5,523.2 360.5,523.2 361.5,523.2 362.5,523.2 363.5,523.2 364.5,523.2 365.5,523.2 366.5,523.2 367.5,523.3 368.5,523.3 369.5,523.3 370.5,523.3 371.5,523.3 372.5,523.3 373.5,523.3 374.5,523.4 375.5,523.4 376.5,523.4 377.5,523.4 378.5,523.4 379.5,523.4 380.5,523.4 381.5,523.5 382.5,523.5" fill="none" stroke="#6e6e6e" stroke-width="2.2" stroke-linejoin="round"/>
<polyline points="14.5,518.2 15.5,518.2 16.5,518.3 17.5,518.3 18.5,518.3 19.5,518.3 20.5,518.3 21.5,518.3 22.5,518.3 23.5,518.3 24.5,518.3 25.5,518.4 26.5,518.4 27.5,518.4 28.5,518.4 29.5,518.4 30.5,518.4 31.5,518.4 32.5,518.4 33.5,518.4 34.5,518.5 35.5,518.5 36.5,518.5 37.5,518.5 38.5,518.5 39.5,518.5 40.5,518.5 41.5,518.5 42.5,518.5 43.5,518.5 44.5,518.6 45.5,518.6 46.5,518.6 47.5,518.6 48.5,518.6 49.5,518.6 50.5,518.6 51.5,518.6 52.5,518.6 53.5,518.6 54.5,518.6 55.5,518.7 56.5,518.7 57.5,518.7 58.5,518.7 59.5,518.7 60.5,518.7 61.5,518.7 62.5,518.7 63.5,518.7 64.5,518.7 65.5,518.7 66.5,518.7 67.5,518.8 68.5,518.8 69.5,518.8 70.5,518.8 71.5,518.8 72.5,518.8 73.5,518.8 74.5,518.8 75.5,518.8 76.5,518.8 77.5,518.8 78.5,518.8 79.5,518.8 80.5,518.9 81.5,518.9 82.5,518.9 83.5,518.9 84.5,518.9 85.5,518.9 86.5,518.9 87.5,518.9 88.5,518.9 89.5,518.9 90.5,518.9 91.5,518.9 92.5,518.9 93.5,518.9 94.5,518.9 95.5,518.9 96.5,518.9 97.5,518.9 98.5,518.9 99.5,519.0 100.5,519.0 101.5,519.0 102.5,519.0 103.5,519.0 104.5,519.0 105.5,519.0 106.5,519.0 107.5,519.0 108.5,519.0 109.5,519.0 110.5,519.0 111.5,519.0 112.5,519.0 113.5,519.0 114.5,519.0 115.5,519.0 116.5,519.0 117.5,519.0 118.5,519.0 119.5,519.0 120.5,519.0 121.5,519.0 122.5,519.0 123.5,519.0 124.5,519.0 125.5,519.0 126.5,518.9 127.5,518.9 128.5,518.9 129.5,518.9 130.5,518.9 131.5,518.9 132.5,518.9 133.5,518.9 134.5,518.9 135.5,518.9 136.5,518.9 137.5,518.9 138.5,518.8 139.5,518.8 140.5,518.8 141.5,518.8 142.5,518.8 143.5,518.8 144.5,518.8 145.5,518.7 146.5,518.7 147.5,518.7 148.5,518.7 149.5,518.7 150.5,518.6 151.5,518.6 152.5,518.6 153.5,518.6 154.5,518.5 155.5,518.5 156.5,518.5 157.5,518.5 158.5,518.4 159.5,518.4 160.5,518.4 161.5,518.3 162.5,518.3 163.5,518.2 164.5,518.2 165.5,518.1 166.5,518.1 167.5,518.0 168.5,518.0 169.5,517.9 170.5,517.9 171.5,517.8 172.5,517.8 173.5,517.7 174.5,517.6 175.5,517.5 176.5,517.5 177.5,517.4 178.5,517.3 179.5,517.2 180.5,517.1 181.5,517.0 182.5,516.9 183.5,516.8 184.5,516.7 185.5,516.5 186.5,516.4 187.5,516.3 188.5,516.1 189.5,515.9 190.5,515.8 191.5,515.6 192.5,515.4 193.5,515.2 194.5,515.0 195.5,514.7 196.5,514.5 197.5,514.2 198.5,513.9 199.5,513.6 200.5,513.3 201.5,512.9 202.5,512.5 203.5,512.1 204.5,511.6 205.5,511.1 206.5,510.6 207.5,510.0 208.5,509.4 209.5,508.7 210.5,508.0 211.5,507.2 212.5,506.4 213.5,505.5 214.5,504.6 215.5,503.6 216.5,502.5 217.5,501.3 218.5,500.1 219.5,498.8 220.5,497.5 221.5,496.0 222.5,494.5 223.5,492.9 224.5,491.3 225.5,489.6 226.5,487.8 227.5,486.0 228.5,484.2 229.5,482.4 230.5,480.5 231.5,478.7 232.5,476.9 233.5,475.3 234.5,473.7 235.5,472.3 236.5,471.1 237.5,470.1 238.5,469.3 239.5,468.8 240.5,468.6 241.5,468.7 242.5,469.0 243.5,469.6 244.5,470.5 245.5,471.7 246.5,473.0 247.5,474.5 248.5,476.1 249.5,477.9 250.5,479.7 251.5,481.5 252.5,483.4 253.5,485.3 254.5,487.1 255.5,488.9 256.5,490.7 257.5,492.4 258.5,494.1 259.5,495.6 260.5,497.1 261.5,498.6 262.5,499.9 263.5,501.2 264.5,502.4 265.5,503.6 266.5,504.7 267.5,505.7 268.5,506.6 269.5,507.5 270.5,508.3 271.5,509.1 272.5,509.8 273.5,510.5 274.5,511.1 275.5,511.7 276.5,512.3 277.5,512.8 278.5,513.3 279.5,513.7 280.5,514.1 281.5,514.5 282.5,514.8 283.5,515.2 284.5,515.5 285.5,515.8 286.5,516.1 287.5,516.3 288.5,516.6 289.5,516.8 290.5,517.0 291.5,517.2 292.5,517.4 293.5,517.6 294.5,517.8 295.5,517.9 296.5,518.1 297.5,518.2 298.5,518.4 299.5,518.5 300.5,518.7 301.5,518.8 302.5,518.9 303.5,519.0 304.5,519.1 305.5,519.2 306.5,519.3 307.5,519.4 308.5,519.5 309.5,519.6 310.5,519.7 311.5,519.8 312.5,519.9 313.5,520.0 314.5,520.0 315.5,520.1 316.5,520.2 317.5,520.3 318.5,520.3 319.5,520.4 320.5,520.5 321.5,520.5 322.5,520.6 323.5,520.7 324.5,520.7 325.5,520.8 326.5,520.8 327.5,520.9 328.5,520.9 329.5,521.0 330.5,521.0 331.5,521.1 332.5,521.1 333.5,521.2 334.5,521.2 335.5,521.3 336.5,521.3 337.5,521.4 338.5,521.4 339.5,521.5 340.5,521.5 341.5,521.5 342.5,521.6 343.5,521.6 344.5,521.7 345.5,521.7 346.5,521.7 347.5,521.8 348.5,521.8 349.5,521.8 350.5,521.9 351.5,521.9 352.5,521.9 353.5,522.0 354.5,522.0 355.5,522.0 356.5,522.1 357.5,522.1 358.5,522.1 359.5,522.2 360.5,522.2 361.5,522.2 362.5,522.3 363.5,522.3 364.5,522.3 365.5,522.3 366.5,522.4 367.5,522.4 368.5,522.4 369.5,522.4 370.5,522.5 371.5,522.5 372.5,522.5 373.5,522.6 374.5,522.6 375.5,522.6 376.5,522.6 377.5,522.6 378.5,522.7 379.5,522.7 380.5,522.7 381.5,522.7 382.5,522.8" fill="none" stroke="#6ccc22" stroke-width="2.6" stroke-linejoin="round"/>
<polyline points="14.5,518.1 15.5,518.1 16.5,518.1 17.5,518.2 18.5,518.2 19.5,518.2 20.5,518.2 21.5,518.2 22.5,518.2 23.5,518.2 24.5,518.2 25.5,518.2 26.5,518.3 27.5,518.3 28.5,518.3 29.5,518.3 30.5,518.3 31.5,518.3 32.5,518.3 33.5,518.3 34.5,518.3 35.5,518.3 36.5,518.3 37.5,518.4 38.5,518.4 39.5,518.4 40.5,518.4 41.5,518.4 42.5,518.4 43.5,518.4 44.5,518.4 45.5,518.4 46.5,518.4 47.5,518.5 48.5,518.5 49.5,518.5 50.5,518.5 51.5,518.5 52.5,518.5 53.5,518.5 54.5,518.5 55.5,518.5 56.5,518.5 57.5,518.5 58.5,518.5 59.5,518.6 60.5,518.6 61.5,518.6 62.5,518.6 63.5,518.6 64.5,518.6 65.5,518.6 66.5,518.6 67.5,518.6 68.5,518.6 69.5,518.6 70.5,518.6 71.5,518.6 72.5,518.7 73.5,518.7 74.5,518.7 75.5,518.7 76.5,518.7 77.5,518.7 78.5,518.7 79.5,518.7 80.5,518.7 81.5,518.7 82.5,518.7 83.5,518.7 84.5,518.7 85.5,518.7 86.5,518.7 87.5,518.7 88.5,518.8 89.5,518.8 90.5,518.8 91.5,518.8 92.5,518.8 93.5,518.8 94.5,518.8 95.5,518.8 96.5,518.8 97.5,518.8 98.5,518.8 99.5,518.8 100.5,518.8 101.5,518.8 102.5,518.8 103.5,518.8 104.5,518.8 105.5,518.8 106.5,518.8 107.5,518.8 108.5,518.8 109.5,518.8 110.5,518.8 111.5,518.8 112.5,518.8 113.5,518.8 114.5,518.8 115.5,518.8 116.5,518.8 117.5,518.8 118.5,518.8 119.5,518.8 120.5,518.8 121.5,518.8 122.5,518.8 123.5,518.8 124.5,518.8 125.5,518.8 126.5,518.8 127.5,518.8 128.5,518.8 129.5,518.8 130.5,518.8 131.5,518.8 132.5,518.8 133.5,518.8 134.5,518.8 135.5,518.8 136.5,518.8 137.5,518.8 138.5,518.8 139.5,518.8 140.5,518.8 141.5,518.7 142.5,518.7 143.5,518.7 144.5,518.7 145.5,518.7 146.5,518.7 147.5,518.7 148.5,518.7 149.5,518.7 150.5,518.7 151.5,518.6 152.5,518.6 153.5,518.6 154.5,518.6 155.5,518.6 156.5,518.6 157.5,518.5 158.5,518.5 159.5,518.5 160.5,518.5 161.5,518.5 162.5,518.4 163.5,518.4 164.5,518.4 165.5,518.4 166.5,518.3 167.5,518.3 168.5,518.3 169.5,518.3 170.5,518.2 171.5,518.2 172.5,518.2 173.5,518.1 174.5,518.1 175.5,518.1 176.5,518.0 177.5,518.0 178.5,517.9 179.5,517.9 180.5,517.8 181.5,517.8 182.5,517.7 183.5,517.7 184.5,517.6 185.5,517.6 186.5,517.5 187.5,517.5 188.5,517.4 189.5,517.3 190.5,517.3 191.5,517.2 192.5,517.1 193.5,517.1 194.5,517.0 195.5,516.9 196.5,516.8 197.5,516.7 198.5,516.6 199.5,516.5 200.5,516.4 201.5,516.3 202.5,516.2 203.5,516.1 204.5,516.0 205.5,515.8 206.5,515.7 207.5,515.6 208.5,515.4 209.5,515.3 210.5,515.1 211.5,514.9 212.5,514.8 213.5,514.6 214.5,514.4 215.5,514.2 216.5,514.0 217.5,513.8 218.5,513.5 219.5,513.3 220.5,513.0 221.5,512.7 222.5,512.4 223.5,512.1 224.5,511.8 225.5,511.4 226.5,511.1 227.5,510.7 228.5,510.2 229.5,509.8 230.5,509.3 231.5,508.8 232.5,508.2 233.5,507.6 234.5,507.0 235.5,506.3 236.5,505.5 237.5,504.7 238.5,503.8 239.5,502.9 240.5,501.8 241.5,500.7 242.5,499.5 243.5,498.2 244.5,496.8 245.5,495.3 246.5,493.6 247.5,491.9 248.5,490.0 249.5,487.9 250.5,485.7 251.5,483.4 252.5,480.9 253.5,478.2 254.5,475.4 255.5,472.4 256.5,469.3 257.5,465.9 258.5,462.5 259.5,458.8 260.5,455.1 261.5,451.2 262.5,447.2 263.5,443.2 264.5,439.2 265.5,435.2 266.5,431.3 267.5,427.6 268.5,424.2 269.5,421.0 270.5,418.3 271.5,416.1 272.5,414.5 273.5,413.4 274.5,413.0 275.5,413.3 276.5,414.2 277.5,415.8 278.5,417.9 279.5,420.6 280.5,423.7 281.5,427.1 282.5,430.8 283.5,434.6 284.5,438.6 285.5,442.7 286.5,446.7 287.5,450.7 288.5,454.7 289.5,458.5 290.5,462.2 291.5,465.7 292.5,469.1 293.5,472.3 294.5,475.4 295.5,478.3 296.5,481.0 297.5,483.5 298.5,485.9 299.5,488.2 300.5,490.3 301.5,492.2 302.5,494.0 303.5,495.7 304.5,497.3 305.5,498.8 306.5,500.1 307.5,501.4 308.5,502.5 309.5,503.6 310.5,504.6 311.5,505.5 312.5,506.4 313.5,507.2 314.5,507.9 315.5,508.6 316.5,509.2 317.5,509.8 318.5,510.4 319.5,510.9 320.5,511.4 321.5,511.9 322.5,512.3 323.5,512.7 324.5,513.1 325.5,513.4 326.5,513.8 327.5,514.1 328.5,514.4 329.5,514.7 330.5,515.0 331.5,515.2 332.5,515.5 333.5,515.7 334.5,516.0 335.5,516.2 336.5,516.4 337.5,516.6 338.5,516.8 339.5,517.0 340.5,517.2 341.5,517.3 342.5,517.5 343.5,517.7 344.5,517.8 345.5,518.0 346.5,518.1 347.5,518.3 348.5,518.4 349.5,518.5 350.5,518.6 351.5,518.8 352.5,518.9 353.5,519.0 354.5,519.1 355.5,519.2 356.5,519.3 357.5,519.4 358.5,519.5 359.5,519.6 360.5,519.7 361.5,519.8 362.5,519.9 363.5,520.0 364.5,520.1 365.5,520.1 366.5,520.2 367.5,520.3 368.5,520.4 369.5,520.4 370.5,520.5 371.5,520.6 372.5,520.6 373.5,520.7 374.5,520.8 375.5,520.8 376.5,520.9 377.5,521.0 378.5,521.0 379.5,521.1 380.5,521.1 381.5,521.2 382.5,521.2" fill="none" stroke="#64a6e2" stroke-width="2.6" stroke-linejoin="round"/>
<polyline points="14.5,517.7 15.5,517.7 16.5,517.7 17.5,517.7 18.5,517.7 19.5,517.7 20.5,517.7 21.5,517.7 22.5,517.7 23.5,517.6 24.5,517.6 25.5,517.6 26.5,517.6 27.5,517.5 28.5,517.5 29.5,517.5 30.5,517.4 31.5,517.4 32.5,517.4 33.5,517.3 34.5,517.3 35.5,517.2 36.5,517.2 37.5,517.1 38.5,517.1 39.5,517.0 40.5,517.0 41.5,516.9 42.5,516.9 43.5,516.8 44.5,516.7 45.5,516.7 46.5,516.6 47.5,516.5 48.5,516.4 49.5,516.4 50.5,516.3 51.5,516.2 52.5,516.1 53.5,516.0 54.5,515.9 55.5,515.8 56.5,515.7 57.5,515.6 58.5,515.5 59.5,515.4 60.5,515.3 61.5,515.2 62.5,515.1 63.5,515.0 64.5,514.8 65.5,514.7 66.5,514.6 67.5,514.5 68.5,514.3 69.5,514.2 70.5,514.0 71.5,513.9 72.5,513.7 73.5,513.6 74.5,513.4 75.5,513.2 76.5,513.0 77.5,512.8 78.5,512.6 79.5,512.4 80.5,512.3 81.5,512.1 82.5,511.8 83.5,511.6 84.5,511.4 85.5,511.2 86.5,511.0 87.5,510.8 88.5,510.7 89.5,510.5 90.5,510.3 91.5,510.1 92.5,509.9 93.5,509.7 94.5,509.6 95.5,509.4 96.5,509.3 97.5,509.1 98.5,508.9 99.5,508.8 100.5,508.6 101.5,508.5 102.5,508.3 103.5,508.2 104.5,508.0 105.5,507.9 106.5,507.8 107.5,507.7 108.5,507.6 109.5,507.5 110.5,507.4 111.5,507.4 112.5,507.4 113.5,507.3 114.5,507.4 115.5,507.4 116.5,507.4 117.5,507.5 118.5,507.6 119.5,507.6 120.5,507.7 121.5,507.8 122.5,507.9 123.5,508.0 124.5,508.1 125.5,508.2 126.5,508.4 127.5,508.5 128.5,508.6 129.5,508.7 130.5,508.9 131.5,509.0 132.5,509.1 133.5,509.3 134.5,509.4 135.5,509.6 136.5,509.7 137.5,509.9 138.5,510.0 139.5,510.1 140.5,510.3 141.5,510.4 142.5,510.6 143.5,510.7 144.5,510.9 145.5,511.0 146.5,511.2 147.5,511.3 148.5,511.5 149.5,511.6 150.5,511.7 151.5,511.9 152.5,512.0 153.5,512.2 154.5,512.3 155.5,512.4 156.5,512.6 157.5,512.7 158.5,512.8 159.5,513.0 160.5,513.1 161.5,513.2 162.5,513.3 163.5,513.4 164.5,513.5 165.5,513.6 166.5,513.7 167.5,513.9 168.5,514.0 169.5,514.0 170.5,514.1 171.5,514.1 172.5,514.1 173.5,514.1 174.5,514.0 175.5,514.0 176.5,513.8 177.5,513.7 178.5,513.5 179.5,513.4 180.5,513.2 181.5,513.0 182.5,512.7 183.5,512.5 184.5,512.2 185.5,512.0 186.5,511.7 187.5,511.4 188.5,511.1 189.5,510.8 190.5,510.5 191.5,510.2 192.5,509.8 193.5,509.4 194.5,509.0 195.5,508.6 196.5,508.2 197.5,507.7 198.5,507.2 199.5,506.7 200.5,506.2 201.5,505.6 202.5,505.0 203.5,504.4 204.5,503.8 205.5,503.1 206.5,502.4 207.5,501.7 208.5,501.0 209.5,500.2 210.5,499.4 211.5,498.6 212.5,497.8 213.5,496.9 214.5,496.0 215.5,495.1 216.5,493.9 217.5,492.6 218.5,491.0 219.5,489.1 220.5,486.9 221.5,484.4 222.5,481.7 223.5,479.0 224.5,476.3 225.5,473.6 226.5,471.1 227.5,468.6 228.5,466.1 229.5,463.7 230.5,461.2 231.5,458.8 232.5,456.4 233.5,453.9 234.5,451.5 235.5,449.0 236.5,446.6 237.5,444.3 238.5,442.0 239.5,440.1 240.5,438.5 241.5,437.0 242.5,435.8 243.5,434.6 244.5,433.5 245.5,432.5 246.5,431.5 247.5,430.4 248.5,429.4 249.5,428.5 250.5,427.6 251.5,426.8 252.5,425.9 253.5,425.0 254.5,423.9 255.5,422.7 256.5,421.3 257.5,419.7 258.5,418.2 259.5,416.7 260.5,415.2 261.5,413.7 262.5,412.2 263.5,410.6 264.5,409.1 265.5,407.6 266.5,406.1 267.5,404.7 268.5,403.2 269.5,401.8 270.5,400.4 271.5,399.0 272.5,397.8 273.5,397.4 274.5,398.3 275.5,400.9 276.5,403.9 277.5,407.0 278.5,410.2 279.5,413.5 280.5,416.8 281.5,420.1 282.5,423.5 283.5,426.8 284.5,430.2 285.5,433.5 286.5,436.9 287.5,440.2 288.5,443.6 289.5,446.9 290.5,450.3 291.5,453.6 292.5,457.0 293.5,460.3 294.5,463.7 295.5,467.0 296.5,470.4 297.5,473.7 298.5,476.8 299.5,479.6 300.5,482.2 301.5,484.6 302.5,486.8 303.5,488.8 304.5,490.7 305.5,492.5 306.5,494.2 307.5,495.8 308.5,497.4 309.5,498.8 310.5,500.1 311.5,501.4 312.5,502.5 313.5,503.5 314.5,504.4 315.5,505.2 316.5,506.0 317.5,506.7 318.5,507.5 319.5,508.2 320.5,508.9 321.5,509.6 322.5,510.2 323.5,510.8 324.5,511.4 325.5,512.0 326.5,512.5 327.5,513.0 328.5,513.5 329.5,513.9 330.5,514.3 331.5,514.7 332.5,515.1 333.5,515.5 334.5,515.9 335.5,516.3 336.5,516.7 337.5,517.1 338.5,517.5 339.5,517.8 340.5,518.2 341.5,518.5 342.5,518.8 343.5,519.1 344.5,519.4 345.5,519.7 346.5,519.9 347.5,520.1 348.5,520.3 349.5,520.4 350.5,520.5 351.5,520.6 352.5,520.7 353.5,520.8 354.5,521.0 355.5,521.1 356.5,521.2 357.5,521.3 358.5,521.4 359.5,521.5 360.5,521.6 361.5,521.7 362.5,521.8 363.5,521.9 364.5,522.0 365.5,522.0 366.5,522.1 367.5,522.2 368.5,522.3 369.5,522.4 370.5,522.5 371.5,522.6 372.5,522.6 373.5,522.7 374.5,522.8 375.5,522.9 376.5,523.0 377.5,523.1 378.5,523.2 379.5,523.2 380.5,523.3 381.5,523.4 382.5,523.5" fill="none" stroke="#9c9a14" stroke-width="2.6" stroke-linejoin="round"/>
<polyline points="14.5,519.5 15.5,519.2 16.5,519.6 17.5,519.3 18.5,519.6 19.5,519.0 20.5,518.8 21.5,519.0 22.5,519.4 23.5,519.8 24.5,520.0 25.5,519.4 26.5,518.8 27.5,519.0 28.5,519.6 29.5,520.4 30.5,520.3 31.5,519.7 32.5,519.4 33.5,519.2 34.5,519.4 35.5,518.9 36.5,518.7 37.5,518.5 38.5,518.8 39.5,518.7 40.5,519.1 41.5,518.6 42.5,518.6 43.5,518.2 44.5,518.1 45.5,517.6 46.5,517.6 47.5,517.8 48.5,517.9 49.5,517.7 50.5,517.3 51.5,517.2 52.5,516.8 53.5,516.9 54.5,516.9 55.5,516.9 56.5,516.9 57.5,516.3 58.5,516.1 59.5,515.4 60.5,515.5 61.5,515.3 62.5,515.3 63.5,514.8 64.5,514.6 65.5,514.5 66.5,513.8 67.5,513.2 68.5,512.0 69.5,511.6 70.5,510.9 71.5,511.0 72.5,510.7 73.5,510.6 74.5,510.9 75.5,511.3 76.5,511.6 77.5,511.9 78.5,512.1 79.5,511.7 80.5,510.9 81.5,509.8 82.5,508.9 83.5,508.0 84.5,507.2 85.5,507.2 86.5,507.2 87.5,507.5 88.5,507.6 89.5,507.9 90.5,508.5 91.5,508.7 92.5,508.6 93.5,508.4 94.5,508.3 95.5,508.6 96.5,508.5 97.5,508.7 98.5,508.1 99.5,507.7 100.5,507.5 101.5,507.3 102.5,506.8 103.5,505.9 104.5,505.8 105.5,505.7 106.5,505.9 107.5,506.1 108.5,506.5 109.5,506.7 110.5,506.7 111.5,506.8 112.5,507.5 113.5,507.1 114.5,506.9 115.5,506.2 116.5,506.3 117.5,505.4 118.5,504.1 119.5,502.8 120.5,502.5 121.5,502.8 122.5,503.0 123.5,502.7 124.5,502.1 125.5,502.1 126.5,502.5 127.5,503.5 128.5,504.1 129.5,505.0 130.5,505.3 131.5,505.4 132.5,505.3 133.5,505.8 134.5,506.1 135.5,506.1 136.5,506.4 137.5,507.1 138.5,507.6 139.5,507.4 140.5,506.9 141.5,505.7 142.5,504.7 143.5,503.9 144.5,504.0 145.5,504.7 146.5,505.9 147.5,507.3 148.5,508.9 149.5,509.6 150.5,510.6 151.5,511.8 152.5,513.0 153.5,514.0 154.5,514.6 155.5,515.3 156.5,515.9 157.5,516.3 158.5,517.1 159.5,517.2 160.5,517.2 161.5,517.2 162.5,517.5 163.5,518.1 164.5,518.3 165.5,518.2 166.5,517.9 167.5,518.1 168.5,518.0 169.5,518.3 170.5,517.6 171.5,517.5 172.5,517.2 173.5,517.5 174.5,517.3 175.5,517.0 176.5,516.6 177.5,516.9 178.5,516.9 179.5,516.8 180.5,516.6 181.5,516.2 182.5,516.1 183.5,515.7 184.5,515.1 185.5,514.7 186.5,514.1 187.5,513.7 188.5,513.3 189.5,512.5 190.5,511.6 191.5,510.8 192.5,510.7 193.5,510.9 194.5,511.1 195.5,511.2 196.5,511.1 197.5,510.9 198.5,510.3 199.5,510.4 200.5,510.0 201.5,509.5 202.5,508.5 203.5,507.9 204.5,507.8 205.5,507.5 206.5,506.5 207.5,505.2 208.5,504.2 209.5,503.7 210.5,502.7 211.5,501.5 212.5,500.3 213.5,499.0 214.5,497.4 215.5,495.7 216.5,494.0 217.5,492.9 218.5,489.8 219.5,484.3 220.5,480.8 221.5,478.5 222.5,476.5 223.5,474.0 224.5,472.0 225.5,470.2 226.5,468.2 227.5,465.2 228.5,462.8 229.5,460.6 230.5,459.1 231.5,457.4 232.5,456.0 233.5,455.2 234.5,454.3 235.5,453.5 236.5,452.6 237.5,451.9 238.5,450.9 239.5,450.0 240.5,449.0 241.5,447.5 242.5,446.0 243.5,445.3 244.5,446.3 245.5,447.7 246.5,447.4 247.5,445.0 248.5,441.4 249.5,437.8 250.5,434.7 251.5,432.2 252.5,429.7 253.5,427.7 254.5,425.8 255.5,424.2 256.5,422.9 257.5,421.9 258.5,420.7 259.5,419.3 260.5,418.0 261.5,416.4 262.5,414.8 263.5,412.5 264.5,409.9 265.5,407.0 266.5,404.4 267.5,402.1 268.5,400.0 269.5,397.6 270.5,395.5 271.5,394.2 272.5,394.3 273.5,395.5 274.5,396.8 275.5,398.8 276.5,400.9 277.5,403.7 278.5,406.5 279.5,408.7 280.5,411.0 281.5,413.3 282.5,416.6 283.5,419.6 284.5,422.7 285.5,425.3 286.5,428.1 287.5,431.3 288.5,434.1 289.5,436.9 290.5,439.5 291.5,442.5 292.5,445.4 293.5,447.9 294.5,450.3 295.5,452.1 296.5,454.4 297.5,456.6 298.5,458.3 299.5,459.8 300.5,461.4 301.5,463.3 302.5,464.4 303.5,465.9 304.5,467.0 305.5,469.5 306.5,471.1 307.5,474.1 308.5,477.2 309.5,481.0 310.5,485.0 311.5,489.1 312.5,493.0 313.5,496.7 314.5,499.8 315.5,502.4 316.5,504.3 317.5,506.0 318.5,507.8 319.5,509.7 320.5,511.4 321.5,512.7 322.5,513.8 323.5,514.6 324.5,515.5 325.5,516.3 326.5,516.8 327.5,517.2 328.5,517.9 329.5,518.4 330.5,519.3 331.5,519.1 332.5,519.9 333.5,519.9 334.5,520.5 335.5,520.8 336.5,521.5 337.5,522.5 338.5,523.5 339.5,524.4 340.5,524.8 341.5,525.4 342.5,525.7 343.5,525.9 344.5,525.3 345.5,525.3 346.5,525.4 347.5,525.6 348.5,525.6 349.5,525.5 350.5,525.3 351.5,525.1 352.5,524.9 353.5,524.9 354.5,524.6 355.5,524.3 356.5,524.1 357.5,524.4 358.5,525.0 359.5,524.8 360.5,524.2 361.5,523.6 362.5,523.4 363.5,523.5 364.5,523.7 365.5,523.6 366.5,523.9 367.5,523.9 368.5,524.5 369.5,524.7 370.5,524.7 371.5,524.9 372.5,524.3 373.5,524.1 374.5,523.6 375.5,523.8 376.5,524.0 377.5,523.8 378.5,524.1 379.5,524.2 380.5,524.3 381.5,524.0 382.5,523.7" fill="none" stroke="#9a5858" stroke-width="1.7" stroke-linejoin="round"/>
<polyline points="14.5,633.5 15.5,633.5 16.5,633.6 17.5,633.6 18.5,633.6 19.5,633.6 20.5,633.6 21.5,633.6 22.5,633.7 23.5,633.7 24.5,633.7 25.5,633.7 26.5,633.7 27.5,633.8 28.5,633.8 29.5,633.8 30.5,633.8 31.5,633.8 32.5,633.8 33.5,633.9 34.5,633.9 35.5,633.9 36.5,633.9 37.5,633.9 38.5,633.9 39.5,634.0 40.5,634.0 41.5,634.0 42.5,634.0 43.5,634.0 44.5,634.1 45.5,634.1 46.5,634.1 47.5,634.1 48.5,634.1 49.5,634.1 50.5,634.2 51.5,634.2 52.5,634.2 53.5,634.2 54.5,634.2 55.5,634.2 56.5,634.3 57.5,634.3 58.5,634.3 59.5,634.3 60.5,634.3 61.5,634.3 62.5,634.4 63.5,634.4 64.5,634.4 65.5,634.4 66.5,634.4 67.5,634.5 68.5,634.5 69.5,634.5 70.5,634.5 71.5,634.5 72.5,634.5 73.5,634.6 74.5,634.6 75.5,634.6 76.5,634.6 77.5,634.6 78.5,634.6 79.5,634.7 80.5,634.7 81.5,634.7 82.5,634.7 83.5,634.7 84.5,634.8 85.5,634.8 86.5,634.8 87.5,634.8 88.5,634.8 89.5,634.8 90.5,634.9 91.5,634.9 92.5,634.9 93.5,634.9 94.5,634.9 95.5,634.9 96.5,635.0 97.5,635.0 98.5,635.0 99.5,635.0 100.5,635.0 101.5,635.1 102.5,635.1 103.5,635.1 104.5,635.1 105.5,635.1 106.5,635.1 107.5,635.2 108.5,635.2 109.5,635.2 110.5,635.2 111.5,635.2 112.5,635.2 113.5,635.3 114.5,635.3 115.5,635.3 116.5,635.3 117.5,635.3 118.5,635.3 119.5,635.4 120.5,635.4 121.5,635.4 122.5,635.4 123.5,635.4 124.5,635.5 125.5,635.5 126.5,635.5 127.5,635.5 128.5,635.5 129.5,635.5 130.5,635.6 131.5,635.6 132.5,635.6 133.5,635.6 134.5,635.6 135.5,635.6 136.5,635.7 137.5,635.7 138.5,635.7 139.5,635.7 140.5,635.7 141.5,635.8 142.5,635.8 143.5,635.8 144.5,635.8 145.5,635.8 146.5,635.8 147.5,635.9 148.5,635.9 149.5,635.9 150.5,635.9 151.5,635.9 152.5,635.9 153.5,636.0 154.5,636.0 155.5,636.0 156.5,636.0 157.5,636.0 158.5,636.0 159.5,636.1 160.5,636.1 161.5,636.1 162.5,636.1 163.5,636.1 164.5,636.2 165.5,636.2 166.5,636.2 167.5,636.2 168.5,636.2 169.5,636.2 170.5,636.3 171.5,636.3 172.5,636.3 173.5,636.3 174.5,636.3 175.5,636.3 176.5,636.4 177.5,636.4 178.5,636.4 179.5,636.4 180.5,636.4 181.5,636.5 182.5,636.5 183.5,636.5 184.5,636.5 185.5,636.5 186.5,636.5 187.5,636.6 188.5,636.6 189.5,636.6 190.5,636.6 191.5,636.6 192.5,636.6 193.5,636.7 194.5,636.7 195.5,636.7 196.5,636.7 197.5,636.7 198.5,636.8 199.5,636.8 200.5,636.8 201.5,636.8 202.5,636.8 203.5,636.8 204.5,636.9 205.5,636.9 206.5,636.9 207.5,636.9 208.5,636.9 209.5,636.9 210.5,637.0 211.5,637.0 212.5,637.0 213.5,637.0 214.5,637.0 215.5,637.0 216.5,637.1 217.5,637.1 218.5,637.1 219.5,637.1 220.5,637.1 221.5,637.2 222.5,637.2 223.5,637.2 224.5,637.2 225.5,637.2 226.5,637.2 227.5,637.3 228.5,637.3 229.5,637.3 230.5,637.3 231.5,637.3 232.5,637.3 233.5,637.4 234.5,637.4 235.5,637.4 236.5,637.4 237.5,637.4 238.5,637.5 239.5,637.5 240.5,637.5 241.5,637.5 242.5,637.5 243.5,637.5 244.5,637.6 245.5,637.6 246.5,637.6 247.5,637.6 248.5,637.6 249.5,637.6 250.5,637.7 251.5,637.7 252.5,637.7 253.5,637.7 254.5,637.7 255.5,637.7 256.5,637.8 257.5,637.8 258.5,637.8 259.5,637.8 260.5,637.8 261.5,637.9 262.5,637.9 263.5,637.9 264.5,637.9 265.5,637.9 266.5,637.9 267.5,638.0 268.5,638.0 269.5,638.0 270.5,638.0 271.5,638.0 272.5,638.0 273.5,638.1 274.5,638.1 275.5,638.1 276.5,638.1 277.5,638.1 278.5,638.2 279.5,638.2 280.5,638.2 281.5,638.2 282.5,638.2 283.5,638.2 284.5,638.3 285.5,638.3 286.5,638.3 287.5,638.3 288.5,638.3 289.5,638.3 290.5,638.4 291.5,638.4 292.5,638.4 293.5,638.4 294.5,638.4 295.5,638.4 296.5,638.5 297.5,638.5 298.5,638.5 299.5,638.5 300.5,638.5 301.5,638.6 302.5,638.6 303.5,638.6 304.5,638.6 305.5,638.6 306.5,638.6 307.5,638.7 308.5,638.7 309.5,638.7 310.5,638.7 311.5,638.7 312.5,638.7 313.5,638.8 314.5,638.8 315.5,638.8 316.5,638.8 317.5,638.8 318.5,638.9 319.5,638.9 320.5,638.9 321.5,638.9 322.5,638.9 323.5,638.9 324.5,639.0 325.5,639.0 326.5,639.0 327.5,639.0 328.5,639.0 329.5,639.0 330.5,639.1 331.5,639.1 332.5,639.1 333.5,639.1 334.5,639.1 335.5,639.2 336.5,639.2 337.5,639.2 338.5,639.2 339.5,639.2 340.5,639.2 341.5,639.3 342.5,639.3 343.5,639.3 344.5,639.3 345.5,639.3 346.5,639.3 347.5,639.4 348.5,639.4 349.5,639.4 350.5,639.4 351.5,639.4 352.5,639.4 353.5,639.5 354.5,639.5 355.5,639.5 356.5,639.5 357.5,639.5 358.5,639.6 359.5,639.6 360.5,639.6 361.5,639.6 362.5,639.6 363.5,639.6 364.5,639.7 365.5,639.7 366.5,639.7 367.5,639.7 368.5,639.7 369.5,639.7 370.5,639.8 371.5,639.8 372.5,639.8 373.5,639.8 374.5,639.8 375.5,639.9 376.5,639.9 377.5,639.9 378.5,639.9 379.5,639.9 380.5,639.9 381.5,640.0 382.5,640.0" fill="none" stroke="#4a78e0" stroke-width="2.2" stroke-linejoin="round"/>
<polyline points="14.5,633.2 15.5,633.2 16.5,633.2 17.5,633.2 18.5,633.2 19.5,633.2 20.5,633.2 21.5,633.2 22.5,633.2 23.5,633.2 24.5,633.3 25.5,633.3 26.5,633.3 27.5,633.3 28.5,633.3 29.5,633.3 30.5,633.3 31.5,633.3 32.5,633.3 33.5,633.3 34.5,633.3 35.5,633.3 36.5,633.3 37.5,633.3 38.5,633.4 39.5,633.4 40.5,633.4 41.5,633.4 42.5,633.4 43.5,633.4 44.5,633.4 45.5,633.4 46.5,633.4 47.5,633.4 48.5,633.4 49.5,633.4 50.5,633.4 51.5,633.4 52.5,633.4 53.5,633.4 54.5,633.5 55.5,633.5 56.5,633.5 57.5,633.5 58.5,633.5 59.5,633.5 60.5,633.5 61.5,633.5 62.5,633.5 63.5,633.5 64.5,633.5 65.5,633.5 66.5,633.5 67.5,633.5 68.5,633.5 69.5,633.5 70.5,633.5 71.5,633.5 72.5,633.5 73.5,633.5 74.5,633.5 75.5,633.5 76.5,633.6 77.5,633.6 78.5,633.6 79.5,633.6 80.5,633.6 81.5,633.6 82.5,633.6 83.5,633.6 84.5,633.6 85.5,633.6 86.5,633.6 87.5,633.6 88.5,633.6 89.5,633.6 90.5,633.6 91.5,633.6 92.5,633.6 93.5,633.6 94.5,633.6 95.5,633.6 96.5,633.6 97.5,633.6 98.5,633.6 99.5,633.6 100.5,633.6 101.5,633.6 102.5,633.6 103.5,633.6 104.5,633.6 105.5,633.6 106.5,633.6 107.5,633.6 108.5,633.6 109.5,633.6 110.5,633.6 111.5,633.6 112.5,633.6 113.5,633.6 114.5,633.6 115.5,633.5 116.5,633.5 117.5,633.5 118.5,633.5 119.5,633.5 120.5,633.5 121.5,633.5 122.5,633.5 123.5,633.5 124.5,633.5 125.5,633.5 126.5,633.5 127.5,633.5 128.5,633.4 129.5,633.4 130.5,633.4 131.5,633.4 132.5,633.4 133.5,633.4 134.5,633.4 135.5,633.4 136.5,633.3 137.5,633.3 138.5,633.3 139.5,633.3 140.5,633.3 141.5,633.3 142.5,633.2 143.5,633.2 144.5,633.2 145.5,633.2 146.5,633.1 147.5,633.1 148.5,633.1 149.5,633.1 150.5,633.0 151.5,633.0 152.5,633.0 153.5,633.0 154.5,632.9 155.5,632.9 156.5,632.9 157.5,632.8 158.5,632.8 159.5,632.7 160.5,632.7 161.5,632.7 162.5,632.6 163.5,632.6 164.5,632.5 165.5,632.5 166.5,632.4 167.5,632.4 168.5,632.3 169.5,632.2 170.5,632.2 171.5,632.1 172.5,632.0 173.5,632.0 174.5,631.9 175.5,631.8 176.5,631.7 177.5,631.6 178.5,631.6 179.5,631.5 180.5,631.4 181.5,631.3 182.5,631.2 183.5,631.0 184.5,630.9 185.5,630.8 186.5,630.7 187.5,630.5 188.5,630.4 189.5,630.2 190.5,630.1 191.5,629.9 192.5,629.7 193.5,629.5 194.5,629.3 195.5,629.1 196.5,628.9 197.5,628.7 198.5,628.4 199.5,628.2 200.5,627.9 201.5,627.6 202.5,627.3 203.5,626.9 204.5,626.6 205.5,626.2 206.5,625.8 207.5,625.4 208.5,624.9 209.5,624.4 210.5,623.9 211.5,623.3 212.5,622.8 213.5,622.1 214.5,621.5 215.5,620.8 216.5,620.0 217.5,619.2 218.5,618.4 219.5,617.5 220.5,616.6 221.5,615.6 222.5,614.5 223.5,613.4 224.5,612.3 225.5,611.0 226.5,609.8 227.5,608.5 228.5,607.1 229.5,605.7 230.5,604.2 231.5,602.7 232.5,601.2 233.5,599.7 234.5,598.2 235.5,596.7 236.5,595.2 237.5,593.8 238.5,592.5 239.5,591.3 240.5,590.2 241.5,589.3 242.5,588.5 243.5,588.0 244.5,587.6 245.5,587.5 246.5,587.6 247.5,587.9 248.5,588.5 249.5,589.2 250.5,590.1 251.5,591.2 252.5,592.4 253.5,593.7 254.5,595.1 255.5,596.6 256.5,598.1 257.5,599.6 258.5,601.2 259.5,602.7 260.5,604.2 261.5,605.7 262.5,607.2 263.5,608.6 264.5,609.9 265.5,611.2 266.5,612.5 267.5,613.7 268.5,614.8 269.5,615.9 270.5,616.9 271.5,617.9 272.5,618.8 273.5,619.7 274.5,620.5 275.5,621.3 276.5,622.0 277.5,622.7 278.5,623.3 279.5,624.0 280.5,624.5 281.5,625.1 282.5,625.6 283.5,626.1 284.5,626.5 285.5,627.0 286.5,627.4 287.5,627.8 288.5,628.1 289.5,628.5 290.5,628.8 291.5,629.1 292.5,629.4 293.5,629.7 294.5,629.9 295.5,630.2 296.5,630.4 297.5,630.6 298.5,630.8 299.5,631.0 300.5,631.2 301.5,631.4 302.5,631.6 303.5,631.8 304.5,631.9 305.5,632.1 306.5,632.2 307.5,632.4 308.5,632.5 309.5,632.6 310.5,632.7 311.5,632.9 312.5,633.0 313.5,633.1 314.5,633.2 315.5,633.3 316.5,633.4 317.5,633.5 318.5,633.6 319.5,633.7 320.5,633.8 321.5,633.9 322.5,633.9 323.5,634.0 324.5,634.1 325.5,634.2 326.5,634.2 327.5,634.3 328.5,634.4 329.5,634.5 330.5,634.5 331.5,634.6 332.5,634.6 333.5,634.7 334.5,634.8 335.5,634.8 336.5,634.9 337.5,634.9 338.5,635.0 339.5,635.0 340.5,635.1 341.5,635.1 342.5,635.2 343.5,635.2 344.5,635.3 345.5,635.3 346.5,635.4 347.5,635.4 348.5,635.5 349.5,635.5 350.5,635.5 351.5,635.6 352.5,635.6 353.5,635.7 354.5,635.7 355.5,635.7 356.5,635.8 357.5,635.8 358.5,635.8 359.5,635.9 360.5,635.9 361.5,635.9 362.5,636.0 363.5,636.0 364.5,636.0 365.5,636.1 366.5,636.1 367.5,636.1 368.5,636.2 369.5,636.2 370.5,636.2 371.5,636.2 372.5,636.3 373.5,636.3 374.5,636.3 375.5,636.3 376.5,636.4 377.5,636.4 378.5,636.4 379.5,636.5 380.5,636.5 381.5,636.5 382.5,636.5" fill="none" stroke="#b06de6" stroke-width="2.4" stroke-linejoin="round"/>
<polyline points="14.5,630.9 15.5,630.8 16.5,630.8 17.5,630.8 18.5,630.8 19.5,630.8 20.5,630.8 21.5,630.8 22.5,630.8 23.5,630.8 24.5,630.8 25.5,630.8 26.5,630.8 27.5,630.8 28.5,630.8 29.5,630.8 30.5,630.8 31.5,630.8 32.5,630.8 33.5,630.7 34.5,630.7 35.5,630.7 36.5,630.7 37.5,630.7 38.5,630.7 39.5,630.7 40.5,630.7 41.5,630.7 42.5,630.7 43.5,630.6 44.5,630.6 45.5,630.6 46.5,630.6 47.5,630.6 48.5,630.6 49.5,630.6 50.5,630.6 51.5,630.5 52.5,630.5 53.5,630.5 54.5,630.5 55.5,630.5 56.5,630.5 57.5,630.5 58.5,630.4 59.5,630.4 60.5,630.4 61.5,630.4 62.5,630.4 63.5,630.4 64.5,630.3 65.5,630.3 66.5,630.3 67.5,630.3 68.5,630.3 69.5,630.3 70.5,630.2 71.5,630.2 72.5,630.2 73.5,630.2 74.5,630.2 75.5,630.1 76.5,630.1 77.5,630.1 78.5,630.1 79.5,630.1 80.5,630.0 81.5,630.0 82.5,630.0 83.5,630.0 84.5,630.0 85.5,629.9 86.5,629.9 87.5,629.9 88.5,629.9 89.5,629.8 90.5,629.8 91.5,629.8 92.5,629.8 93.5,629.8 94.5,629.7 95.5,629.7 96.5,629.7 97.5,629.7 98.5,629.6 99.5,629.6 100.5,629.6 101.5,629.6 102.5,629.5 103.5,629.5 104.5,629.5 105.5,629.5 106.5,629.5 107.5,629.4 108.5,629.4 109.5,629.4 110.5,629.4 111.5,629.3 112.5,629.3 113.5,629.3 114.5,629.3 115.5,629.3 116.5,629.2 117.5,629.2 118.5,629.2 119.5,629.2 120.5,629.1 121.5,629.1 122.5,629.1 123.5,629.1 124.5,629.1 125.5,629.0 126.5,629.0 127.5,629.0 128.5,629.0 129.5,629.0 130.5,628.9 131.5,628.9 132.5,628.9 133.5,628.9 134.5,628.9 135.5,628.8 136.5,628.8 137.5,628.8 138.5,628.8 139.5,628.8 140.5,628.8 141.5,628.7 142.5,628.7 143.5,628.7 144.5,628.7 145.5,628.7 146.5,628.7 147.5,628.7 148.5,628.6 149.5,628.6 150.5,628.6 151.5,628.6 152.5,628.6 153.5,628.6 154.5,628.6 155.5,628.6 156.5,628.6 157.5,628.6 158.5,628.6 159.5,628.6 160.5,628.6 161.5,628.6 162.5,628.5 163.5,628.5 164.5,628.5 165.5,628.5 166.5,628.5 167.5,628.5 168.5,628.5 169.5,628.5 170.5,628.6 171.5,628.6 172.5,628.6 173.5,628.6 174.5,628.6 175.5,628.6 176.5,628.6 177.5,628.6 178.5,628.6 179.5,628.6 180.5,628.6 181.5,628.6 182.5,628.7 183.5,628.7 184.5,628.7 185.5,628.7 186.5,628.7 187.5,628.7 188.5,628.7 189.5,628.8 190.5,628.8 191.5,628.8 192.5,628.8 193.5,628.9 194.5,628.9 195.5,628.9 196.5,628.9 197.5,629.0 198.5,629.0 199.5,629.0 200.5,629.0 201.5,629.1 202.5,629.1 203.5,629.1 204.5,629.2 205.5,629.2 206.5,629.2 207.5,629.3 208.5,629.3 209.5,629.3 210.5,629.4 211.5,629.4 212.5,629.4 213.5,629.5 214.5,629.5 215.5,629.5 216.5,629.6 217.5,629.6 218.5,629.7 219.5,629.7 220.5,629.7 221.5,629.8 222.5,629.8 223.5,629.9 224.5,629.9 225.5,630.0 226.5,630.0 227.5,630.1 228.5,630.1 229.5,630.2 230.5,630.2 231.5,630.2 232.5,630.3 233.5,630.3 234.5,630.4 235.5,630.4 236.5,630.5 237.5,630.5 238.5,630.6 239.5,630.6 240.5,630.7 241.5,630.7 242.5,630.8 243.5,630.8 244.5,630.9 245.5,630.9 246.5,631.0 247.5,631.1 248.5,631.1 249.5,631.2 250.5,631.2 251.5,631.3 252.5,631.3 253.5,631.4 254.5,631.4 255.5,631.5 256.5,631.5 257.5,631.6 258.5,631.6 259.5,631.7 260.5,631.7 261.5,631.8 262.5,631.9 263.5,631.9 264.5,632.0 265.5,632.0 266.5,632.1 267.5,632.1 268.5,632.2 269.5,632.2 270.5,632.3 271.5,632.3 272.5,632.4 273.5,632.5 274.5,632.5 275.5,632.6 276.5,632.6 277.5,632.7 278.5,632.7 279.5,632.8 280.5,632.8 281.5,632.9 282.5,632.9 283.5,633.0 284.5,633.0 285.5,633.1 286.5,633.1 287.5,633.2 288.5,633.3 289.5,633.3 290.5,633.4 291.5,633.4 292.5,633.5 293.5,633.5 294.5,633.6 295.5,633.6 296.5,633.7 297.5,633.7 298.5,633.8 299.5,633.8 300.5,633.9 301.5,633.9 302.5,634.0 303.5,634.0 304.5,634.1 305.5,634.1 306.5,634.2 307.5,634.2 308.5,634.3 309.5,634.3 310.5,634.3 311.5,634.4 312.5,634.4 313.5,634.5 314.5,634.5 315.5,634.6 316.5,634.6 317.5,634.7 318.5,634.7 319.5,634.8 320.5,634.8 321.5,634.9 322.5,634.9 323.5,634.9 324.5,635.0 325.5,635.0 326.5,635.1 327.5,635.1 328.5,635.2 329.5,635.2 330.5,635.2 331.5,635.3 332.5,635.3 333.5,635.4 334.5,635.4 335.5,635.4 336.5,635.5 337.5,635.5 338.5,635.6 339.5,635.6 340.5,635.6 341.5,635.7 342.5,635.7 343.5,635.8 344.5,635.8 345.5,635.8 346.5,635.9 347.5,635.9 348.5,635.9 349.5,636.0 350.5,636.0 351.5,636.0 352.5,636.1 353.5,636.1 354.5,636.1 355.5,636.2 356.5,636.2 357.5,636.3 358.5,636.3 359.5,636.3 360.5,636.4 361.5,636.4 362.5,636.4 363.5,636.5 364.5,636.5 365.5,636.5 366.5,636.5 367.5,636.6 368.5,636.6 369.5,636.6 370.5,636.7 371.5,636.7 372.5,636.7 373.5,636.8 374.5,636.8 375.5,636.8 376.5,636.8 377.5,636.9 378.5,636.9 379.5,636.9 380.5,637.0 381.5,637.0 382.5,637.0" fill="none" stroke="#c9a224" stroke-width="2.4" stroke-linejoin="round"/>
<polyline points="14.5,632.3 15.5,632.3 16.5,632.3 17.5,632.4 18.5,632.4 19.5,632.4 20.5,632.4 21.5,632.4 22.5,632.4 23.5,632.4 24.5,632.4 25.5,632.5 26.5,632.5 27.5,632.5 28.5,632.5 29.5,632.5 30.5,632.5 31.5,632.5 32.5,632.5 33.5,632.6 34.5,632.6 35.5,632.6 36.5,632.6 37.5,632.6 38.5,632.6 39.5,632.6 40.5,632.6 41.5,632.6 42.5,632.6 43.5,632.6 44.5,632.6 45.5,632.6 46.5,632.6 47.5,632.6 48.5,632.6 49.5,632.6 50.5,632.6 51.5,632.5 52.5,632.5 53.5,632.5 54.5,632.5 55.5,632.4 56.5,632.4 57.5,632.4 58.5,632.3 59.5,632.3 60.5,632.2 61.5,632.1 62.5,632.1 63.5,632.0 64.5,631.9 65.5,631.8 66.5,631.7 67.5,631.6 68.5,631.4 69.5,631.3 70.5,631.1 71.5,631.0 72.5,630.8 73.5,630.6 74.5,630.4 75.5,630.2 76.5,629.9 77.5,629.7 78.5,629.4 79.5,629.2 80.5,628.9 81.5,628.6 82.5,628.3 83.5,628.0 84.5,627.7 85.5,627.3 86.5,627.0 87.5,626.7 88.5,626.3 89.5,626.0 90.5,625.6 91.5,625.3 92.5,624.9 93.5,624.6 94.5,624.3 95.5,623.9 96.5,623.6 97.5,623.3 98.5,623.0 99.5,622.8 100.5,622.6 101.5,622.4 102.5,622.2 103.5,622.0 104.5,621.9 105.5,621.8 106.5,621.8 107.5,621.8 108.5,621.8 109.5,621.9 110.5,622.0 111.5,622.1 112.5,622.3 113.5,622.5 114.5,622.7 115.5,623.0 116.5,623.3 117.5,623.6 118.5,623.9 119.5,624.3 120.5,624.6 121.5,625.0 122.5,625.3 123.5,625.7 124.5,626.1 125.5,626.5 126.5,626.9 127.5,627.3 128.5,627.7 129.5,628.0 130.5,628.4 131.5,628.8 132.5,629.1 133.5,629.5 134.5,629.8 135.5,630.1 136.5,630.4 137.5,630.7 138.5,631.0 139.5,631.3 140.5,631.5 141.5,631.8 142.5,632.0 143.5,632.2 144.5,632.4 145.5,632.6 146.5,632.8 147.5,633.0 148.5,633.2 149.5,633.3 150.5,633.5 151.5,633.6 152.5,633.7 153.5,633.8 154.5,633.9 155.5,634.0 156.5,634.1 157.5,634.2 158.5,634.3 159.5,634.4 160.5,634.5 161.5,634.5 162.5,634.6 163.5,634.6 164.5,634.7 165.5,634.8 166.5,634.8 167.5,634.9 168.5,634.9 169.5,634.9 170.5,635.0 171.5,635.0 172.5,635.1 173.5,635.1 174.5,635.1 175.5,635.2 176.5,635.2 177.5,635.2 178.5,635.3 179.5,635.3 180.5,635.3 181.5,635.3 182.5,635.4 183.5,635.4 184.5,635.4 185.5,635.5 186.5,635.5 187.5,635.5 188.5,635.5 189.5,635.6 190.5,635.6 191.5,635.6 192.5,635.6 193.5,635.7 194.5,635.7 195.5,635.7 196.5,635.7 197.5,635.8 198.5,635.8 199.5,635.8 200.5,635.8 201.5,635.8 202.5,635.9 203.5,635.9 204.5,635.9 205.5,635.9 206.5,636.0 207.5,636.0 208.5,636.0 209.5,636.0 210.5,636.0 211.5,636.1 212.5,636.1 213.5,636.1 214.5,636.1 215.5,636.2 216.5,636.2 217.5,636.2 218.5,636.2 219.5,636.2 220.5,636.3 221.5,636.3 222.5,636.3 223.5,636.3 224.5,636.4 225.5,636.4 226.5,636.4 227.5,636.4 228.5,636.4 229.5,636.5 230.5,636.5 231.5,636.5 232.5,636.5 233.5,636.5 234.5,636.6 235.5,636.6 236.5,636.6 237.5,636.6 238.5,636.6 239.5,636.7 240.5,636.7 241.5,636.7 242.5,636.7 243.5,636.7 244.5,636.8 245.5,636.8 246.5,636.8 247.5,636.8 248.5,636.8 249.5,636.9 250.5,636.9 251.5,636.9 252.5,636.9 253.5,636.9 254.5,637.0 255.5,637.0 256.5,637.0 257.5,637.0 258.5,637.0 259.5,637.1 260.5,637.1 261.5,637.1 262.5,637.1 263.5,637.1 264.5,637.2 265.5,637.2 266.5,637.2 267.5,637.2 268.5,637.2 269.5,637.3 270.5,637.3 271.5,637.3 272.5,637.3 273.5,637.3 274.5,637.4 275.5,637.4 276.5,637.4 277.5,637.4 278.5,637.4 279.5,637.5 280.5,637.5 281.5,637.5 282.5,637.5 283.5,637.5 284.5,637.6 285.5,637.6 286.5,637.6 287.5,637.6 288.5,637.6 289.5,637.7 290.5,637.7 291.5,637.7 292.5,637.7 293.5,637.7 294.5,637.8 295.5,637.8 296.5,637.8 297.5,637.8 298.5,637.8 299.5,637.9 300.5,637.9 301.5,637.9 302.5,637.9 303.5,637.9 304.5,637.9 305.5,638.0 306.5,638.0 307.5,638.0 308.5,638.0 309.5,638.0 310.5,638.1 311.5,638.1 312.5,638.1 313.5,638.1 314.5,638.1 315.5,638.2 316.5,638.2 317.5,638.2 318.5,638.2 319.5,638.2 320.5,638.3 321.5,638.3 322.5,638.3 323.5,638.3 324.5,638.3 325.5,638.4 326.5,638.4 327.5,638.4 328.5,638.4 329.5,638.4 330.5,638.5 331.5,638.5 332.5,638.5 333.5,638.5 334.5,638.5 335.5,638.5 336.5,638.6 337.5,638.6 338.5,638.6 339.5,638.6 340.5,638.6 341.5,638.7 342.5,638.7 343.5,638.7 344.5,638.7 345.5,638.7 346.5,638.8 347.5,638.8 348.5,638.8 349.5,638.8 350.5,638.8 351.5,638.9 352.5,638.9 353.5,638.9 354.5,638.9 355.5,638.9 356.5,638.9 357.5,639.0 358.5,639.0 359.5,639.0 360.5,639.0 361.5,639.0 362.5,639.1 363.5,639.1 364.5,639.1 365.5,639.1 366.5,639.1 367.5,639.2 368.5,639.2 369.5,639.2 370.5,639.2 371.5,639.2 372.5,639.3 373.5,639.3 374.5,639.3 375.5,639.3 376.5,639.3 377.5,639.4 378.5,639.4 379.5,639.4 380.5,639.4 381.5,639.4 382.5,639.4" fill="none" stroke="#26c4cf" stroke-width="2.6" stroke-linejoin="round"/>
<polyline points="14.5,632.6 15.5,632.6 16.5,632.6 17.5,632.6 18.5,632.6 19.5,632.6 20.5,632.6 21.5,632.7 22.5,632.7 23.5,632.7 24.5,632.7 25.5,632.7 26.5,632.7 27.5,632.7 28.5,632.7 29.5,632.7 30.5,632.7 31.5,632.7 32.5,632.7 33.5,632.8 34.5,632.8 35.5,632.8 36.5,632.8 37.5,632.8 38.5,632.8 39.5,632.8 40.5,632.8 41.5,632.8 42.5,632.8 43.5,632.8 44.5,632.8 45.5,632.8 46.5,632.9 47.5,632.9 48.5,632.9 49.5,632.9 50.5,632.9 51.5,632.9 52.5,632.9 53.5,632.9 54.5,632.9 55.5,632.9 56.5,632.9 57.5,632.9 58.5,632.9 59.5,632.9 60.5,633.0 61.5,633.0 62.5,633.0 63.5,633.0 64.5,633.0 65.5,633.0 66.5,633.0 67.5,633.0 68.5,633.0 69.5,633.0 70.5,633.0 71.5,633.0 72.5,633.0 73.5,633.0 74.5,633.0 75.5,633.0 76.5,633.0 77.5,633.0 78.5,633.1 79.5,633.1 80.5,633.1 81.5,633.1 82.5,633.1 83.5,633.1 84.5,633.1 85.5,633.1 86.5,633.1 87.5,633.1 88.5,633.1 89.5,633.1 90.5,633.1 91.5,633.1 92.5,633.1 93.5,633.1 94.5,633.1 95.5,633.1 96.5,633.1 97.5,633.1 98.5,633.1 99.5,633.1 100.5,633.1 101.5,633.1 102.5,633.1 103.5,633.1 104.5,633.1 105.5,633.1 106.5,633.1 107.5,633.1 108.5,633.1 109.5,633.1 110.5,633.1 111.5,633.1 112.5,633.1 113.5,633.1 114.5,633.1 115.5,633.1 116.5,633.1 117.5,633.1 118.5,633.1 119.5,633.1 120.5,633.1 121.5,633.1 122.5,633.1 123.5,633.1 124.5,633.1 125.5,633.1 126.5,633.1 127.5,633.1 128.5,633.1 129.5,633.1 130.5,633.1 131.5,633.1 132.5,633.1 133.5,633.1 134.5,633.1 135.5,633.1 136.5,633.1 137.5,633.0 138.5,633.0 139.5,633.0 140.5,633.0 141.5,633.0 142.5,633.0 143.5,633.0 144.5,633.0 145.5,633.0 146.5,633.0 147.5,632.9 148.5,632.9 149.5,632.9 150.5,632.9 151.5,632.9 152.5,632.9 153.5,632.9 154.5,632.8 155.5,632.8 156.5,632.8 157.5,632.8 158.5,632.8 159.5,632.7 160.5,632.7 161.5,632.7 162.5,632.7 163.5,632.7 164.5,632.6 165.5,632.6 166.5,632.6 167.5,632.5 168.5,632.5 169.5,632.5 170.5,632.5 171.5,632.4 172.5,632.4 173.5,632.4 174.5,632.3 175.5,632.3 176.5,632.3 177.5,632.2 178.5,632.2 179.5,632.1 180.5,632.1 181.5,632.0 182.5,632.0 183.5,631.9 184.5,631.9 185.5,631.8 186.5,631.8 187.5,631.7 188.5,631.7 189.5,631.6 190.5,631.5 191.5,631.5 192.5,631.4 193.5,631.3 194.5,631.3 195.5,631.2 196.5,631.1 197.5,631.0 198.5,630.9 199.5,630.8 200.5,630.7 201.5,630.7 202.5,630.6 203.5,630.4 204.5,630.3 205.5,630.2 206.5,630.1 207.5,630.0 208.5,629.8 209.5,629.7 210.5,629.6 211.5,629.4 212.5,629.3 213.5,629.1 214.5,628.9 215.5,628.8 216.5,628.6 217.5,628.4 218.5,628.2 219.5,628.0 220.5,627.8 221.5,627.5 222.5,627.3 223.5,627.0 224.5,626.8 225.5,626.5 226.5,626.2 227.5,625.9 228.5,625.5 229.5,625.2 230.5,624.8 231.5,624.4 232.5,624.0 233.5,623.5 234.5,623.0 235.5,622.5 236.5,622.0 237.5,621.4 238.5,620.7 239.5,620.1 240.5,619.4 241.5,618.6 242.5,617.8 243.5,616.9 244.5,615.9 245.5,614.9 246.5,613.9 247.5,612.7 248.5,611.5 249.5,610.1 250.5,608.7 251.5,607.2 252.5,605.6 253.5,603.9 254.5,602.0 255.5,600.1 256.5,598.0 257.5,595.8 258.5,593.4 259.5,591.0 260.5,588.4 261.5,585.7 262.5,582.8 263.5,579.9 264.5,576.8 265.5,573.6 266.5,570.4 267.5,567.0 268.5,563.7 269.5,560.3 270.5,557.0 271.5,553.7 272.5,550.6 273.5,547.7 274.5,545.0 275.5,542.7 276.5,540.7 277.5,539.1 278.5,538.0 279.5,537.4 280.5,537.3 281.5,537.7 282.5,538.6 283.5,540.1 284.5,541.9 285.5,544.2 286.5,546.7 287.5,549.6 288.5,552.7 289.5,555.9 290.5,559.2 291.5,562.6 292.5,566.0 293.5,569.4 294.5,572.7 295.5,575.9 296.5,579.0 297.5,582.1 298.5,585.0 299.5,587.8 300.5,590.5 301.5,593.0 302.5,595.4 303.5,597.7 304.5,599.8 305.5,601.9 306.5,603.8 307.5,605.6 308.5,607.2 309.5,608.8 310.5,610.3 311.5,611.7 312.5,613.0 313.5,614.2 314.5,615.3 315.5,616.4 316.5,617.4 317.5,618.3 318.5,619.2 319.5,620.0 320.5,620.8 321.5,621.5 322.5,622.1 323.5,622.8 324.5,623.4 325.5,623.9 326.5,624.4 327.5,624.9 328.5,625.4 329.5,625.8 330.5,626.2 331.5,626.6 332.5,627.0 333.5,627.3 334.5,627.7 335.5,628.0 336.5,628.3 337.5,628.6 338.5,628.8 339.5,629.1 340.5,629.4 341.5,629.6 342.5,629.8 343.5,630.0 344.5,630.3 345.5,630.5 346.5,630.7 347.5,630.8 348.5,631.0 349.5,631.2 350.5,631.4 351.5,631.5 352.5,631.7 353.5,631.8 354.5,632.0 355.5,632.1 356.5,632.3 357.5,632.4 358.5,632.5 359.5,632.6 360.5,632.8 361.5,632.9 362.5,633.0 363.5,633.1 364.5,633.2 365.5,633.3 366.5,633.4 367.5,633.5 368.5,633.6 369.5,633.7 370.5,633.8 371.5,633.9 372.5,633.9 373.5,634.0 374.5,634.1 375.5,634.2 376.5,634.3 377.5,634.3 378.5,634.4 379.5,634.5 380.5,634.5 381.5,634.6 382.5,634.7" fill="none" stroke="#2ea862" stroke-width="2.6" stroke-linejoin="round"/>
<polyline points="14.5,630.0 15.5,630.0 16.5,630.0 17.5,630.0 18.5,630.0 19.5,629.9 20.5,629.9 21.5,629.9 22.5,629.9 23.5,629.8 24.5,629.8 25.5,629.7 26.5,629.7 27.5,629.6 28.5,629.5 29.5,629.5 30.5,629.4 31.5,629.3 32.5,629.2 33.5,629.1 34.5,629.1 35.5,629.0 36.5,628.9 37.5,628.8 38.5,628.7 39.5,628.6 40.5,628.4 41.5,628.3 42.5,628.2 43.5,628.1 44.5,627.9 45.5,627.8 46.5,627.7 47.5,627.5 48.5,627.4 49.5,627.2 50.5,627.1 51.5,626.9 52.5,626.7 53.5,626.6 54.5,626.4 55.5,626.2 56.5,626.0 57.5,625.8 58.5,625.6 59.5,625.4 60.5,625.2 61.5,625.0 62.5,624.8 63.5,624.6 64.5,624.3 65.5,624.1 66.5,623.9 67.5,623.6 68.5,623.4 69.5,623.1 70.5,622.9 71.5,622.6 72.5,622.3 73.5,622.0 74.5,621.6 75.5,621.3 76.5,620.9 77.5,620.6 78.5,620.2 79.5,619.8 80.5,619.4 81.5,619.0 82.5,618.6 83.5,618.2 84.5,617.9 85.5,617.5 86.5,617.1 87.5,616.8 88.5,616.5 89.5,616.1 90.5,615.9 91.5,615.6 92.5,615.3 93.5,615.0 94.5,614.7 95.5,614.4 96.5,614.2 97.5,613.9 98.5,613.7 99.5,613.5 100.5,613.3 101.5,613.1 102.5,613.0 103.5,612.8 104.5,612.7 105.5,612.6 106.5,612.6 107.5,612.6 108.5,612.6 109.5,612.6 110.5,612.7 111.5,612.8 112.5,612.9 113.5,613.0 114.5,613.1 115.5,613.2 116.5,613.3 117.5,613.5 118.5,613.7 119.5,613.8 120.5,614.0 121.5,614.2 122.5,614.4 123.5,614.6 124.5,614.8 125.5,615.0 126.5,615.2 127.5,615.4 128.5,615.6 129.5,615.8 130.5,616.1 131.5,616.3 132.5,616.6 133.5,616.8 134.5,617.1 135.5,617.3 136.5,617.6 137.5,617.8 138.5,618.1 139.5,618.3 140.5,618.6 141.5,618.8 142.5,619.0 143.5,619.2 144.5,619.4 145.5,619.6 146.5,619.7 147.5,619.9 148.5,620.0 149.5,620.2 150.5,620.3 151.5,620.4 152.5,620.5 153.5,620.6 154.5,620.7 155.5,620.8 156.5,620.9 157.5,621.0 158.5,621.0 159.5,621.1 160.5,621.2 161.5,621.2 162.5,621.3 163.5,621.3 164.5,621.4 165.5,621.4 166.5,621.5 167.5,621.5 168.5,621.6 169.5,621.6 170.5,621.7 171.5,621.7 172.5,621.7 173.5,621.7 174.5,621.7 175.5,621.7 176.5,621.7 177.5,621.7 178.5,621.7 179.5,621.6 180.5,621.6 181.5,621.6 182.5,621.5 183.5,621.4 184.5,621.4 185.5,621.3 186.5,621.1 187.5,621.0 188.5,620.8 189.5,620.6 190.5,620.3 191.5,620.1 192.5,619.8 193.5,619.5 194.5,619.2 195.5,618.8 196.5,618.5 197.5,618.1 198.5,617.6 199.5,617.2 200.5,616.7 201.5,616.2 202.5,615.7 203.5,615.2 204.5,614.6 205.5,614.1 206.5,613.5 207.5,612.9 208.5,612.2 209.5,611.6 210.5,610.9 211.5,610.1 212.5,609.4 213.5,608.6 214.5,607.9 215.5,607.1 216.5,606.2 217.5,605.4 218.5,604.6 219.5,603.7 220.5,602.7 221.5,601.7 222.5,600.7 223.5,599.6 224.5,598.5 225.5,597.3 226.5,596.1 227.5,594.8 228.5,593.5 229.5,592.1 230.5,590.5 231.5,588.8 232.5,587.0 233.5,585.0 234.5,583.0 235.5,580.9 236.5,578.5 237.5,575.8 238.5,573.1 239.5,570.3 240.5,567.7 241.5,565.4 242.5,563.4 243.5,561.6 244.5,559.9 245.5,558.2 246.5,556.7 247.5,555.3 248.5,553.9 249.5,552.7 250.5,551.5 251.5,550.5 252.5,549.5 253.5,548.6 254.5,547.8 255.5,547.0 256.5,546.3 257.5,545.5 258.5,544.7 259.5,543.8 260.5,542.9 261.5,541.8 262.5,540.6 263.5,539.3 264.5,538.0 265.5,536.6 266.5,535.2 267.5,533.7 268.5,532.2 269.5,530.5 270.5,528.7 271.5,526.9 272.5,525.3 273.5,523.8 274.5,522.8 275.5,522.0 276.5,521.5 277.5,521.2 278.5,521.1 279.5,521.3 280.5,521.7 281.5,522.4 282.5,523.3 283.5,524.6 284.5,526.1 285.5,527.7 286.5,529.5 287.5,531.5 288.5,533.8 289.5,536.5 290.5,539.6 291.5,542.8 292.5,546.1 293.5,549.4 294.5,552.7 295.5,556.0 296.5,559.4 297.5,562.8 298.5,566.2 299.5,569.6 300.5,573.0 301.5,576.3 302.5,579.7 303.5,582.9 304.5,586.0 305.5,589.0 306.5,591.9 307.5,594.7 308.5,597.5 309.5,600.1 310.5,602.4 311.5,604.6 312.5,606.6 313.5,608.4 314.5,610.2 315.5,611.8 316.5,613.4 317.5,614.9 318.5,616.4 319.5,617.7 320.5,618.8 321.5,619.9 322.5,620.7 323.5,621.5 324.5,622.3 325.5,623.0 326.5,623.6 327.5,624.2 328.5,624.8 329.5,625.3 330.5,625.7 331.5,626.2 332.5,626.6 333.5,627.0 334.5,627.5 335.5,627.9 336.5,628.2 337.5,628.6 338.5,628.9 339.5,629.1 340.5,629.3 341.5,629.5 342.5,629.7 343.5,629.9 344.5,630.1 345.5,630.3 346.5,630.5 347.5,630.7 348.5,630.8 349.5,631.0 350.5,631.2 351.5,631.3 352.5,631.5 353.5,631.6 354.5,631.8 355.5,631.9 356.5,632.1 357.5,632.2 358.5,632.3 359.5,632.4 360.5,632.6 361.5,632.7 362.5,632.8 363.5,632.9 364.5,633.0 365.5,633.1 366.5,633.2 367.5,633.3 368.5,633.4 369.5,633.5 370.5,633.6 371.5,633.7 372.5,633.8 373.5,633.9 374.5,634.0 375.5,634.1 376.5,634.2 377.5,634.3 378.5,634.4 379.5,634.5 380.5,634.5 381.5,634.6 382.5,634.7" fill="none" stroke="#f23a3a" stroke-width="2.6" stroke-linejoin="round"/>
<polyline points="14.5,630.1 15.5,629.6 16.5,629.8 17.5,630.7 18.5,630.6 19.5,631.2 20.5,631.2 21.5,631.8 22.5,631.3 23.5,631.2 24.5,631.9 25.5,633.3 26.5,634.0 27.5,634.7 28.5,634.3 29.5,634.0 30.5,632.9 31.5,632.3 32.5,631.9 33.5,631.8 34.5,631.1 35.5,631.0 36.5,630.7 37.5,630.9 38.5,630.3 39.5,630.9 40.5,631.1 41.5,631.0 42.5,630.0 43.5,630.5 44.5,630.6 45.5,631.2 46.5,631.0 47.5,630.4 48.5,630.3 49.5,629.7 50.5,629.9 51.5,629.2 52.5,629.3 53.5,629.6 54.5,629.8 55.5,629.2 56.5,629.3 57.5,629.5 58.5,630.2 59.5,629.9 60.5,629.8 61.5,629.8 62.5,629.5 63.5,628.9 64.5,628.1 65.5,627.7 66.5,627.3 67.5,626.2 68.5,625.4 69.5,624.4 70.5,622.6 71.5,620.4 72.5,619.5 73.5,619.6 74.5,619.7 75.5,619.1 76.5,619.1 77.5,618.8 78.5,618.3 79.5,618.1 80.5,618.0 81.5,618.0 82.5,618.4 83.5,618.5 84.5,618.8 85.5,618.3 86.5,618.0 87.5,616.8 88.5,615.5 89.5,614.4 90.5,613.6 91.5,613.1 92.5,614.3 93.5,616.2 94.5,618.7 95.5,619.8 96.5,619.1 97.5,618.6 98.5,617.3 99.5,616.2 100.5,615.1 101.5,614.1 102.5,614.4 103.5,613.5 104.5,613.7 105.5,613.4 106.5,613.5 107.5,613.4 108.5,614.0 109.5,613.8 110.5,614.4 111.5,614.2 112.5,614.3 113.5,613.6 114.5,612.7 115.5,612.5 116.5,612.4 117.5,612.1 118.5,612.4 119.5,612.5 120.5,613.0 121.5,613.4 122.5,613.1 123.5,613.2 124.5,613.6 125.5,613.7 126.5,613.5 127.5,612.7 128.5,613.0 129.5,612.9 130.5,613.0 131.5,612.7 132.5,613.2 133.5,613.7 134.5,614.7 135.5,615.7 136.5,617.1 137.5,618.2 138.5,618.7 139.5,619.4 140.5,620.4 141.5,621.0 142.5,621.6 143.5,621.8 144.5,622.6 145.5,622.8 146.5,624.0 147.5,624.5 148.5,625.2 149.5,625.5 150.5,626.6 151.5,627.6 152.5,627.6 153.5,628.2 154.5,628.4 155.5,629.7 156.5,630.6 157.5,631.3 158.5,632.0 159.5,632.4 160.5,633.2 161.5,633.9 162.5,633.9 163.5,633.2 164.5,632.9 165.5,632.0 166.5,631.5 167.5,629.8 168.5,628.7 169.5,627.7 170.5,626.6 171.5,625.4 172.5,623.5 173.5,621.5 174.5,619.5 175.5,618.3 176.5,616.6 177.5,615.7 178.5,614.7 179.5,614.5 180.5,613.8 181.5,613.7 182.5,613.6 183.5,613.7 184.5,613.0 185.5,612.0 186.5,611.2 187.5,610.3 188.5,609.8 189.5,609.5 190.5,609.0 191.5,608.0 192.5,606.9 193.5,606.3 194.5,605.5 195.5,604.6 196.5,604.5 197.5,604.0 198.5,603.7 199.5,603.1 200.5,602.0 201.5,601.2 202.5,599.0 203.5,597.6 204.5,596.0 205.5,594.7 206.5,592.7 207.5,590.5 208.5,589.7 209.5,589.5 210.5,590.2 211.5,589.9 212.5,589.1 213.5,587.4 214.5,585.8 215.5,584.1 216.5,582.0 217.5,580.4 218.5,579.3 219.5,579.2 220.5,579.2 221.5,578.9 222.5,577.8 223.5,575.9 224.5,573.9 225.5,571.7 226.5,570.1 227.5,568.2 228.5,566.5 229.5,564.5 230.5,562.9 231.5,561.3 232.5,560.8 233.5,559.4 234.5,558.0 235.5,555.9 236.5,554.6 237.5,553.4 238.5,553.0 239.5,551.9 240.5,551.6 241.5,550.4 242.5,549.6 243.5,548.1 244.5,546.9 245.5,545.9 246.5,545.4 247.5,544.6 248.5,544.0 249.5,542.3 250.5,541.4 251.5,540.5 252.5,541.7 253.5,542.0 254.5,542.7 255.5,542.3 256.5,541.8 257.5,540.8 258.5,539.5 259.5,538.8 260.5,537.6 261.5,536.9 262.5,536.5 263.5,536.9 264.5,537.1 265.5,537.0 266.5,536.8 267.5,536.0 268.5,535.4 269.5,534.3 270.5,533.8 271.5,533.2 272.5,534.0 273.5,534.8 274.5,535.6 275.5,535.3 276.5,535.7 277.5,535.1 278.5,534.5 279.5,534.2 280.5,535.5 281.5,537.1 282.5,538.6 283.5,539.3 284.5,540.3 285.5,540.3 286.5,542.1 287.5,543.2 288.5,545.6 289.5,546.5 290.5,548.0 291.5,548.4 292.5,549.6 293.5,551.1 294.5,553.7 295.5,555.8 296.5,557.4 297.5,559.7 298.5,562.9 299.5,566.2 300.5,569.0 301.5,572.3 302.5,576.2 303.5,578.7 304.5,581.3 305.5,583.6 306.5,587.3 307.5,590.2 308.5,592.8 309.5,595.3 310.5,598.1 311.5,600.6 312.5,602.8 313.5,605.1 314.5,608.3 315.5,611.5 316.5,614.0 317.5,616.3 318.5,619.0 319.5,621.9 320.5,624.0 321.5,625.9 322.5,628.1 323.5,630.0 324.5,631.4 325.5,631.9 326.5,633.3 327.5,634.4 328.5,635.6 329.5,636.0 330.5,636.7 331.5,637.4 332.5,637.9 333.5,638.6 334.5,638.4 335.5,639.0 336.5,639.0 337.5,640.1 338.5,640.8 339.5,641.1 340.5,640.9 341.5,640.5 342.5,641.1 343.5,641.7 344.5,641.9 345.5,641.7 346.5,641.8 347.5,642.0 348.5,641.2 349.5,640.2 350.5,639.6 351.5,639.9 352.5,639.7 353.5,640.0 354.5,639.6 355.5,640.3 356.5,639.9 357.5,640.8 358.5,640.7 359.5,641.7 360.5,642.3 361.5,643.0 362.5,643.0 363.5,642.1 364.5,641.3 365.5,639.9 366.5,640.6 367.5,641.2 368.5,642.5 369.5,641.5 370.5,641.8 371.5,641.0 372.5,641.4 373.5,639.7 374.5,639.4 375.5,639.3 376.5,640.0 377.5,639.8 378.5,639.2 379.5,639.2 380.5,638.9 381.5,639.2 382.5,638.9" fill="none" stroke="#4a4a4a" stroke-width="1.7" stroke-linejoin="round"/>
<rect x="411.5" y="365" width="370.0" height="297.5" fill="none" stroke="#555" stroke-width="2.2" stroke-linejoin="round"/>
<path d="M534.9,662.5 v-7 M658.2,662.5 v-7" stroke="#555" stroke-width="1.8" fill="none"/>
<text x="413.00" y="381.00" font-size="15" font-weight="normal" fill="#444" stroke="#444" stroke-width="0.25" textLength="19.43" lengthAdjust="spacingAndGlyphs">(e)</text>
<text x="748.44" y="379.00" font-size="14" font-weight="bold" fill="#111" stroke="#111" stroke-width="0.25" textLength="29.26" lengthAdjust="spacingAndGlyphs">O 1s</text>
<text x="469.86" y="386.30" font-size="13.6" font-weight="bold" fill="#111" stroke="#111" stroke-width="0.25" textLength="57.37" lengthAdjust="spacingAndGlyphs">=C-O-Ag</text>
<text x="462.69" y="405.70" font-size="13.6" font-weight="bold" fill="#111" stroke="#111" stroke-width="0.25" textLength="61.97" lengthAdjust="spacingAndGlyphs">533.70 eV</text>
<text x="565.36" y="414.40" font-size="13.6" font-weight="bold" fill="#111" stroke="#111" stroke-width="0.25" textLength="38.63" lengthAdjust="spacingAndGlyphs">C-O-C</text>
<text x="597.06" y="457.60" font-size="13.6" font-weight="bold" fill="#111" stroke="#111" stroke-width="0.25" textLength="39.97" lengthAdjust="spacingAndGlyphs">-C-OH</text>
<text x="414.83" y="504.60" font-size="14.6" font-weight="normal" fill="#444" stroke="#444" stroke-width="0.25" textLength="50.26" lengthAdjust="spacingAndGlyphs">BTC-Ag</text>
<text x="467.66" y="544.50" font-size="13.6" font-weight="bold" fill="#111" stroke="#111" stroke-width="0.25" textLength="43.69" lengthAdjust="spacingAndGlyphs">=C-OH</text>
<text x="459.99" y="564.60" font-size="13.6" font-weight="bold" fill="#111" stroke="#111" stroke-width="0.25" textLength="61.57" lengthAdjust="spacingAndGlyphs">533.41 eV</text>
<text x="418.03" y="631.80" font-size="14.6" font-weight="normal" fill="#444" stroke="#444" stroke-width="0.25" textLength="28.08" lengthAdjust="spacingAndGlyphs">BTC</text>
<text x="411.50" y="683.90" font-size="15.5" font-weight="normal" fill="#282828" stroke="#282828" stroke-width="0.25" text-anchor="middle">540</text>
<text x="534.85" y="683.90" font-size="15.5" font-weight="normal" fill="#282828" stroke="#282828" stroke-width="0.25" text-anchor="middle">535</text>
<text x="658.20" y="683.90" font-size="15.5" font-weight="normal" fill="#282828" stroke="#282828" stroke-width="0.25" text-anchor="middle">530</text>
<text x="781.55" y="683.90" font-size="15.5" font-weight="normal" fill="#282828" stroke="#282828" stroke-width="0.25" text-anchor="middle">525</text>
<text x="521.74" y="711.80" font-size="17" font-weight="normal" fill="#282828" stroke="#282828" stroke-width="0.25" textLength="148.94" lengthAdjust="spacingAndGlyphs">Binding energy (eV)</text>
<polyline points="412.5,515.5 413.5,515.6 414.5,515.6 415.5,515.7 416.5,515.7 417.5,516.1 418.5,516.1 419.5,516.4 420.5,516.2 421.5,516.6 422.5,516.8 423.5,517.0 424.5,516.9 425.5,517.0 426.5,516.9 427.5,517.0 428.5,517.0 429.5,517.4 430.5,517.3 431.5,517.4 432.5,517.6 433.5,517.8 434.5,517.7 435.5,517.7 436.5,517.5 437.5,517.7 438.5,517.8 439.5,518.3 440.5,518.8 441.5,518.8 442.5,518.6 443.5,518.4 444.5,518.7 445.5,519.1 446.5,519.4 447.5,519.6 448.5,519.6 449.5,520.0 450.5,519.5 451.5,519.0 452.5,518.7 453.5,519.1 454.5,519.4 455.5,519.4 456.5,519.0 457.5,518.7 458.5,518.4 459.5,518.8 460.5,519.2 461.5,519.3 462.5,519.2 463.5,519.1 464.5,519.4 465.5,519.3 466.5,519.5 467.5,519.5 468.5,519.8 469.5,519.7 470.5,519.7 471.5,519.7 472.5,519.7 473.5,519.9 474.5,519.7 475.5,519.9 476.5,519.6 477.5,519.8 478.5,519.9 479.5,519.9 480.5,520.0 481.5,520.1 482.5,520.1 483.5,519.4 484.5,518.6 485.5,518.3 486.5,518.8 487.5,519.2 488.5,519.3 489.5,518.8 490.5,518.4 491.5,518.3 492.5,518.1 493.5,518.2 494.5,518.2 495.5,518.4 496.5,518.5 497.5,518.3 498.5,518.3 499.5,518.2 500.5,517.8 501.5,517.2 502.5,516.6 503.5,516.6 504.5,516.3 505.5,516.0 506.5,515.3 507.5,514.8 508.5,514.5 509.5,513.9 510.5,513.1 511.5,512.7 512.5,512.5 513.5,512.5 514.5,512.1 515.5,511.6 516.5,511.0 517.5,510.9 518.5,511.1 519.5,511.3 520.5,510.8 521.5,510.2 522.5,509.6 523.5,509.1 524.5,508.5 525.5,508.0 526.5,507.5 527.5,507.3 528.5,506.5 529.5,506.0 530.5,505.2 531.5,504.7 532.5,503.9 533.5,502.8 534.5,501.9 535.5,500.5 536.5,498.9 537.5,497.9 538.5,496.9 539.5,495.9 540.5,493.7 541.5,491.5 542.5,489.3 543.5,487.1 544.5,484.8 545.5,482.4 546.5,479.9 547.5,476.8 548.5,473.3 549.5,470.1 550.5,466.9 551.5,463.6 552.5,460.3 553.5,456.8 554.5,453.2 555.5,449.3 556.5,446.2 557.5,442.5 558.5,439.3 559.5,435.6 560.5,432.3 561.5,428.2 562.5,424.6 563.5,421.1 564.5,417.5 565.5,414.0 566.5,410.4 567.5,407.0 568.5,403.1 569.5,399.7 570.5,396.8 571.5,394.1 572.5,392.0 573.5,390.2 574.5,388.7 575.5,387.3 576.5,386.0 577.5,384.7 578.5,383.3 579.5,382.5 580.5,381.6 581.5,381.6 582.5,381.9 583.5,382.8 584.5,384.4 585.5,385.5 586.5,387.0 587.5,388.1 588.5,389.8 589.5,391.8 590.5,394.0 591.5,396.7 592.5,400.0 593.5,404.0 594.5,407.3 595.5,410.3 596.5,412.8 597.5,415.3 598.5,418.1 599.5,420.7 600.5,423.4 601.5,425.5 602.5,428.3 603.5,430.8 604.5,433.4 605.5,436.1 606.5,439.7 607.5,442.7 608.5,445.6 609.5,448.0 610.5,451.5 611.5,454.5 612.5,457.7 613.5,460.3 614.5,463.2 615.5,466.2 616.5,469.0 617.5,472.5 618.5,475.5 619.5,478.7 620.5,481.7 621.5,484.4 622.5,487.1 623.5,489.1 624.5,490.8 625.5,492.1 626.5,493.1 627.5,494.7 628.5,495.9 629.5,497.1 630.5,498.3 631.5,499.5 632.5,501.0 633.5,502.2 634.5,503.6 635.5,504.8 636.5,505.2 637.5,506.0 638.5,506.6 639.5,507.8 640.5,508.2 641.5,509.2 642.5,509.7 643.5,510.3 644.5,510.6 645.5,510.7 646.5,511.3 647.5,511.7 648.5,512.3 649.5,512.7 650.5,513.1 651.5,513.8 652.5,514.1 653.5,514.6 654.5,515.1 655.5,515.5 656.5,515.7 657.5,515.8 658.5,516.0 659.5,516.4 660.5,516.6 661.5,516.7 662.5,516.8 663.5,517.2 664.5,517.6 665.5,517.9 666.5,517.9 667.5,517.9 668.5,517.9 669.5,517.9 670.5,518.3 671.5,517.8 672.5,518.1 673.5,518.2 674.5,518.7 675.5,518.8 676.5,518.7 677.5,519.0 678.5,519.0 679.5,519.4 680.5,519.5 681.5,519.5 682.5,519.4 683.5,519.2 684.5,519.5 685.5,519.6 686.5,519.8 687.5,519.7 688.5,519.7 689.5,519.6 690.5,519.6 691.5,519.6 692.5,519.8 693.5,519.8 694.5,520.0 695.5,520.3 696.5,520.1 697.5,519.9 698.5,519.4 699.5,519.2 700.5,519.3 701.5,519.5 702.5,519.5 703.5,519.2 704.5,519.0 705.5,519.4 706.5,519.3 707.5,519.4 708.5,518.8 709.5,518.9 710.5,519.0 711.5,519.1 712.5,519.3 713.5,518.6 714.5,518.9 715.5,518.4 716.5,518.8 717.5,518.7 718.5,519.1 719.5,519.2 720.5,519.3 721.5,519.1 722.5,519.1 723.5,519.0 724.5,519.1 725.5,518.9 726.5,519.3 727.5,520.0 728.5,520.2 729.5,520.6 730.5,520.0 731.5,520.0 732.5,519.8 733.5,520.2 734.5,520.6 735.5,520.9 736.5,520.8 737.5,520.9 738.5,520.7 739.5,520.2 740.5,519.8 741.5,519.7 742.5,520.3 743.5,520.5 744.5,520.6 745.5,520.8 746.5,520.4 747.5,520.5 748.5,520.3 749.5,520.3 750.5,520.5 751.5,520.4 752.5,520.6 753.5,520.3 754.5,520.0 755.5,520.0 756.5,520.3 757.5,520.4 758.5,520.1 759.5,519.5 760.5,519.6 761.5,519.3 762.5,519.4 763.5,519.1 764.5,519.7 765.5,520.3 766.5,520.5 767.5,521.2 768.5,521.1 769.5,521.2 770.5,520.8 771.5,520.8 772.5,520.9 773.5,520.8 774.5,521.0 775.5,520.7 776.5,520.6 777.5,520.8 778.5,521.0 779.5,521.2 780.0,521.1" fill="none" stroke="#22c8d4" stroke-width="2.6" stroke-linejoin="round"/>
<polyline points="412.5,515.5 413.5,515.5 414.5,515.6 415.5,515.6 416.5,515.6 417.5,515.6 418.5,515.6 419.5,515.7 420.5,515.7 421.5,515.7 422.5,515.7 423.5,515.7 424.5,515.8 425.5,515.8 426.5,515.8 427.5,515.8 428.5,515.8 429.5,515.9 430.5,515.9 431.5,515.9 432.5,515.9 433.5,515.9 434.5,515.9 435.5,516.0 436.5,516.0 437.5,516.0 438.5,516.0 439.5,516.0 440.5,516.1 441.5,516.1 442.5,516.1 443.5,516.1 444.5,516.1 445.5,516.2 446.5,516.2 447.5,516.2 448.5,516.2 449.5,516.2 450.5,516.2 451.5,516.3 452.5,516.3 453.5,516.3 454.5,516.3 455.5,516.3 456.5,516.4 457.5,516.4 458.5,516.4 459.5,516.4 460.5,516.4 461.5,516.5 462.5,516.5 463.5,516.5 464.5,516.5 465.5,516.5 466.5,516.5 467.5,516.6 468.5,516.6 469.5,516.6 470.5,516.6 471.5,516.6 472.5,516.7 473.5,516.7 474.5,516.7 475.5,516.7 476.5,516.7 477.5,516.8 478.5,516.8 479.5,516.8 480.5,516.8 481.5,516.8 482.5,516.9 483.5,516.9 484.5,516.9 485.5,516.9 486.5,516.9 487.5,516.9 488.5,517.0 489.5,517.0 490.5,517.0 491.5,517.0 492.5,517.0 493.5,517.1 494.5,517.1 495.5,517.1 496.5,517.1 497.5,517.1 498.5,517.2 499.5,517.2 500.5,517.2 501.5,517.2 502.5,517.2 503.5,517.2 504.5,517.3 505.5,517.3 506.5,517.3 507.5,517.3 508.5,517.3 509.5,517.4 510.5,517.4 511.5,517.4 512.5,517.4 513.5,517.4 514.5,517.5 515.5,517.5 516.5,517.5 517.5,517.5 518.5,517.5 519.5,517.6 520.5,517.6 521.5,517.6 522.5,517.6 523.5,517.6 524.5,517.6 525.5,517.7 526.5,517.7 527.5,517.7 528.5,517.7 529.5,517.7 530.5,517.8 531.5,517.8 532.5,517.8 533.5,517.8 534.5,517.8 535.5,517.9 536.5,517.9 537.5,517.9 538.5,517.9 539.5,517.9 540.5,518.0 541.5,518.0 542.5,518.0 543.5,518.0 544.5,518.0 545.5,518.0 546.5,518.1 547.5,518.1 548.5,518.1 549.5,518.1 550.5,518.1 551.5,518.2 552.5,518.2 553.5,518.2 554.5,518.2 555.5,518.2 556.5,518.3 557.5,518.3 558.5,518.3 559.5,518.3 560.5,518.3 561.5,518.3 562.5,518.4 563.5,518.4 564.5,518.4 565.5,518.4 566.5,518.4 567.5,518.5 568.5,518.5 569.5,518.5 570.5,518.5 571.5,518.5 572.5,518.6 573.5,518.6 574.5,518.6 575.5,518.6 576.5,518.6 577.5,518.6 578.5,518.7 579.5,518.7 580.5,518.7 581.5,518.7 582.5,518.7 583.5,518.8 584.5,518.8 585.5,518.8 586.5,518.8 587.5,518.8 588.5,518.9 589.5,518.9 590.5,518.9 591.5,518.9 592.5,518.9 593.5,519.0 594.5,519.0 595.5,519.0 596.5,519.0 597.5,519.0 598.5,519.0 599.5,519.1 600.5,519.1 601.5,519.1 602.5,519.1 603.5,519.1 604.5,519.2 605.5,519.2 606.5,519.2 607.5,519.2 608.5,519.2 609.5,519.3 610.5,519.3 611.5,519.3 612.5,519.3 613.5,519.3 614.5,519.4 615.5,519.4 616.5,519.4 617.5,519.4 618.5,519.4 619.5,519.4 620.5,519.5 621.5,519.5 622.5,519.5 623.5,519.5 624.5,519.5 625.5,519.6 626.5,519.6 627.5,519.6 628.5,519.6 629.5,519.6 630.5,519.7 631.5,519.7 632.5,519.7 633.5,519.7 634.5,519.7 635.5,519.7 636.5,519.8 637.5,519.8 638.5,519.8 639.5,519.8 640.5,519.8 641.5,519.9 642.5,519.9 643.5,519.9 644.5,519.9 645.5,519.9 646.5,520.0 647.5,520.0 648.5,520.0 649.5,520.0 650.5,520.0 651.5,520.0 652.5,520.1 653.5,520.1 654.5,520.1 655.5,520.1 656.5,520.1 657.5,520.2 658.5,520.2 659.5,520.2 660.5,520.2 661.5,520.2 662.5,520.3 663.5,520.3 664.5,520.3 665.5,520.3 666.5,520.3 667.5,520.4 668.5,520.4 669.5,520.4 670.5,520.4 671.5,520.4 672.5,520.4 673.5,520.5 674.5,520.5 675.5,520.5 676.5,520.5 677.5,520.5 678.5,520.6 679.5,520.6 680.5,520.6 681.5,520.6 682.5,520.6 683.5,520.7 684.5,520.7 685.5,520.7 686.5,520.7 687.5,520.7 688.5,520.8 689.5,520.8 690.5,520.8 691.5,520.8 692.5,520.8 693.5,520.8 694.5,520.9 695.5,520.9 696.5,520.9 697.5,520.9 698.5,520.9 699.5,521.0 700.5,521.0 701.5,521.0 702.5,521.0 703.5,521.0 704.5,521.1 705.5,521.1 706.5,521.1 707.5,521.1 708.5,521.1 709.5,521.1 710.5,521.2 711.5,521.2 712.5,521.2 713.5,521.2 714.5,521.2 715.5,521.3 716.5,521.3 717.5,521.3 718.5,521.3 719.5,521.3 720.5,521.4 721.5,521.4 722.5,521.4 723.5,521.4 724.5,521.4 725.5,521.5 726.5,521.5 727.5,521.5 728.5,521.5 729.5,521.5 730.5,521.5 731.5,521.6 732.5,521.6 733.5,521.6 734.5,521.6 735.5,521.6 736.5,521.7 737.5,521.7 738.5,521.7 739.5,521.7 740.5,521.7 741.5,521.8 742.5,521.8 743.5,521.8 744.5,521.8 745.5,521.8 746.5,521.8 747.5,521.9 748.5,521.9 749.5,521.9 750.5,521.9 751.5,521.9 752.5,522.0 753.5,522.0 754.5,522.0 755.5,522.0 756.5,522.0 757.5,522.1 758.5,522.1 759.5,522.1 760.5,522.1 761.5,522.1 762.5,522.1 763.5,522.2 764.5,522.2 765.5,522.2 766.5,522.2 767.5,522.2 768.5,522.3 769.5,522.3 770.5,522.3 771.5,522.3 772.5,522.3 773.5,522.4 774.5,522.4 775.5,522.4 776.5,522.4 777.5,522.4 778.5,522.5 779.5,522.5 780.5,522.5" fill="none" stroke="#9c9a14" stroke-width="2.4" stroke-linejoin="round"/>
<polyline points="412.5,514.7 413.5,514.8 414.5,514.8 415.5,514.8 416.5,514.8 417.5,514.8 418.5,514.8 419.5,514.8 420.5,514.9 421.5,514.9 422.5,514.9 423.5,514.9 424.5,514.9 425.5,514.9 426.5,514.9 427.5,514.9 428.5,515.0 429.5,515.0 430.5,515.0 431.5,515.0 432.5,515.0 433.5,515.0 434.5,515.0 435.5,515.1 436.5,515.1 437.5,515.1 438.5,515.1 439.5,515.1 440.5,515.1 441.5,515.1 442.5,515.1 443.5,515.2 444.5,515.2 445.5,515.2 446.5,515.2 447.5,515.2 448.5,515.2 449.5,515.2 450.5,515.2 451.5,515.3 452.5,515.3 453.5,515.3 454.5,515.3 455.5,515.3 456.5,515.3 457.5,515.3 458.5,515.3 459.5,515.3 460.5,515.4 461.5,515.4 462.5,515.4 463.5,515.4 464.5,515.4 465.5,515.4 466.5,515.4 467.5,515.4 468.5,515.4 469.5,515.4 470.5,515.5 471.5,515.5 472.5,515.5 473.5,515.5 474.5,515.5 475.5,515.5 476.5,515.5 477.5,515.5 478.5,515.5 479.5,515.5 480.5,515.5 481.5,515.5 482.5,515.5 483.5,515.5 484.5,515.6 485.5,515.6 486.5,515.6 487.5,515.6 488.5,515.6 489.5,515.6 490.5,515.6 491.5,515.6 492.5,515.6 493.5,515.6 494.5,515.6 495.5,515.6 496.5,515.6 497.5,515.6 498.5,515.6 499.5,515.6 500.5,515.6 501.5,515.6 502.5,515.6 503.5,515.6 504.5,515.6 505.5,515.6 506.5,515.6 507.5,515.6 508.5,515.6 509.5,515.6 510.5,515.5 511.5,515.5 512.5,515.5 513.5,515.5 514.5,515.5 515.5,515.5 516.5,515.5 517.5,515.5 518.5,515.5 519.5,515.4 520.5,515.4 521.5,515.4 522.5,515.4 523.5,515.4 524.5,515.3 525.5,515.3 526.5,515.3 527.5,515.3 528.5,515.2 529.5,515.2 530.5,515.2 531.5,515.2 532.5,515.1 533.5,515.1 534.5,515.0 535.5,515.0 536.5,515.0 537.5,514.9 538.5,514.9 539.5,514.8 540.5,514.7 541.5,514.7 542.5,514.6 543.5,514.6 544.5,514.5 545.5,514.4 546.5,514.3 547.5,514.2 548.5,514.2 549.5,514.1 550.5,514.0 551.5,513.8 552.5,513.7 553.5,513.6 554.5,513.5 555.5,513.3 556.5,513.2 557.5,513.0 558.5,512.8 559.5,512.7 560.5,512.4 561.5,512.2 562.5,512.0 563.5,511.7 564.5,511.4 565.5,511.1 566.5,510.8 567.5,510.4 568.5,510.0 569.5,509.6 570.5,509.1 571.5,508.6 572.5,508.0 573.5,507.4 574.5,506.7 575.5,505.9 576.5,505.1 577.5,504.2 578.5,503.2 579.5,502.1 580.5,501.0 581.5,499.7 582.5,498.4 583.5,496.9 584.5,495.4 585.5,493.8 586.5,492.0 587.5,490.2 588.5,488.2 589.5,486.2 590.5,484.1 591.5,481.9 592.5,479.7 593.5,477.5 594.5,475.2 595.5,473.1 596.5,471.0 597.5,469.0 598.5,467.2 599.5,465.7 600.5,464.5 601.5,463.6 602.5,463.0 603.5,462.9 604.5,463.1 605.5,463.8 606.5,464.8 607.5,466.1 608.5,467.8 609.5,469.6 610.5,471.6 611.5,473.8 612.5,476.0 613.5,478.3 614.5,480.5 615.5,482.8 616.5,485.0 617.5,487.1 618.5,489.1 619.5,491.1 620.5,493.0 621.5,494.7 622.5,496.4 623.5,497.9 624.5,499.4 625.5,500.8 626.5,502.0 627.5,503.2 628.5,504.3 629.5,505.3 630.5,506.2 631.5,507.0 632.5,507.8 633.5,508.5 634.5,509.2 635.5,509.8 636.5,510.4 637.5,510.9 638.5,511.3 639.5,511.8 640.5,512.2 641.5,512.5 642.5,512.9 643.5,513.2 644.5,513.5 645.5,513.8 646.5,514.0 647.5,514.2 648.5,514.5 649.5,514.7 650.5,514.9 651.5,515.1 652.5,515.2 653.5,515.4 654.5,515.5 655.5,515.7 656.5,515.8 657.5,516.0 658.5,516.1 659.5,516.2 660.5,516.4 661.5,516.5 662.5,516.6 663.5,516.7 664.5,516.8 665.5,516.9 666.5,517.0 667.5,517.1 668.5,517.2 669.5,517.2 670.5,517.3 671.5,517.4 672.5,517.5 673.5,517.6 674.5,517.6 675.5,517.7 676.5,517.8 677.5,517.8 678.5,517.9 679.5,518.0 680.5,518.0 681.5,518.1 682.5,518.1 683.5,518.2 684.5,518.2 685.5,518.3 686.5,518.4 687.5,518.4 688.5,518.5 689.5,518.5 690.5,518.6 691.5,518.6 692.5,518.6 693.5,518.7 694.5,518.7 695.5,518.8 696.5,518.8 697.5,518.9 698.5,518.9 699.5,518.9 700.5,519.0 701.5,519.0 702.5,519.1 703.5,519.1 704.5,519.1 705.5,519.2 706.5,519.2 707.5,519.2 708.5,519.3 709.5,519.3 710.5,519.4 711.5,519.4 712.5,519.4 713.5,519.5 714.5,519.5 715.5,519.5 716.5,519.6 717.5,519.6 718.5,519.6 719.5,519.6 720.5,519.7 721.5,519.7 722.5,519.7 723.5,519.8 724.5,519.8 725.5,519.8 726.5,519.9 727.5,519.9 728.5,519.9 729.5,519.9 730.5,520.0 731.5,520.0 732.5,520.0 733.5,520.0 734.5,520.1 735.5,520.1 736.5,520.1 737.5,520.2 738.5,520.2 739.5,520.2 740.5,520.2 741.5,520.3 742.5,520.3 743.5,520.3 744.5,520.3 745.5,520.4 746.5,520.4 747.5,520.4 748.5,520.4 749.5,520.5 750.5,520.5 751.5,520.5 752.5,520.5 753.5,520.5 754.5,520.6 755.5,520.6 756.5,520.6 757.5,520.6 758.5,520.7 759.5,520.7 760.5,520.7 761.5,520.7 762.5,520.8 763.5,520.8 764.5,520.8 765.5,520.8 766.5,520.8 767.5,520.9 768.5,520.9 769.5,520.9 770.5,520.9 771.5,521.0 772.5,521.0 773.5,521.0 774.5,521.0 775.5,521.0 776.5,521.1 777.5,521.1 778.5,521.1 779.5,521.1 780.5,521.2" fill="none" stroke="#ff6a1a" stroke-width="2.6" stroke-linejoin="round"/>
<polyline points="412.5,514.8 413.5,514.8 414.5,514.8 415.5,514.8 416.5,514.8 417.5,514.8 418.5,514.8 419.5,514.8 420.5,514.9 421.5,514.9 422.5,514.9 423.5,514.9 424.5,514.9 425.5,514.9 426.5,514.9 427.5,515.0 428.5,515.0 429.5,515.0 430.5,515.0 431.5,515.0 432.5,515.0 433.5,515.0 434.5,515.1 435.5,515.1 436.5,515.1 437.5,515.1 438.5,515.1 439.5,515.1 440.5,515.1 441.5,515.1 442.5,515.1 443.5,515.2 444.5,515.2 445.5,515.2 446.5,515.2 447.5,515.2 448.5,515.2 449.5,515.2 450.5,515.2 451.5,515.3 452.5,515.3 453.5,515.3 454.5,515.3 455.5,515.3 456.5,515.3 457.5,515.3 458.5,515.3 459.5,515.3 460.5,515.3 461.5,515.3 462.5,515.4 463.5,515.4 464.5,515.4 465.5,515.4 466.5,515.4 467.5,515.4 468.5,515.4 469.5,515.4 470.5,515.4 471.5,515.4 472.5,515.4 473.5,515.4 474.5,515.4 475.5,515.4 476.5,515.5 477.5,515.5 478.5,515.5 479.5,515.5 480.5,515.5 481.5,515.5 482.5,515.5 483.5,515.5 484.5,515.5 485.5,515.5 486.5,515.5 487.5,515.5 488.5,515.5 489.5,515.5 490.5,515.5 491.5,515.5 492.5,515.5 493.5,515.5 494.5,515.5 495.5,515.5 496.5,515.5 497.5,515.5 498.5,515.4 499.5,515.4 500.5,515.4 501.5,515.4 502.5,515.4 503.5,515.4 504.5,515.4 505.5,515.4 506.5,515.4 507.5,515.3 508.5,515.3 509.5,515.3 510.5,515.3 511.5,515.3 512.5,515.2 513.5,515.2 514.5,515.2 515.5,515.2 516.5,515.1 517.5,515.1 518.5,515.1 519.5,515.0 520.5,515.0 521.5,514.9 522.5,514.9 523.5,514.8 524.5,514.8 525.5,514.7 526.5,514.7 527.5,514.6 528.5,514.5 529.5,514.5 530.5,514.4 531.5,514.3 532.5,514.2 533.5,514.1 534.5,514.0 535.5,513.9 536.5,513.8 537.5,513.7 538.5,513.5 539.5,513.4 540.5,513.3 541.5,513.1 542.5,512.9 543.5,512.7 544.5,512.5 545.5,512.3 546.5,512.1 547.5,511.8 548.5,511.6 549.5,511.3 550.5,510.9 551.5,510.6 552.5,510.2 553.5,509.8 554.5,509.3 555.5,508.8 556.5,508.2 557.5,507.5 558.5,506.7 559.5,505.9 560.5,504.9 561.5,503.8 562.5,502.6 563.5,501.1 564.5,499.5 565.5,497.6 566.5,495.4 567.5,493.0 568.5,490.2 569.5,487.0 570.5,483.5 571.5,479.5 572.5,475.2 573.5,470.4 574.5,465.2 575.5,459.6 576.5,453.8 577.5,447.7 578.5,441.6 579.5,435.7 580.5,430.2 581.5,425.5 582.5,421.9 583.5,419.7 584.5,419.1 585.5,420.1 586.5,422.6 587.5,426.5 588.5,431.4 589.5,437.0 590.5,443.1 591.5,449.2 592.5,455.3 593.5,461.1 594.5,466.6 595.5,471.8 596.5,476.5 597.5,480.8 598.5,484.7 599.5,488.2 600.5,491.3 601.5,494.1 602.5,496.5 603.5,498.7 604.5,500.5 605.5,502.2 606.5,503.6 607.5,504.9 608.5,506.0 609.5,507.0 610.5,507.8 611.5,508.6 612.5,509.3 613.5,509.9 614.5,510.4 615.5,510.9 616.5,511.4 617.5,511.8 618.5,512.2 619.5,512.6 620.5,512.9 621.5,513.2 622.5,513.5 623.5,513.7 624.5,514.0 625.5,514.2 626.5,514.4 627.5,514.6 628.5,514.8 629.5,515.0 630.5,515.2 631.5,515.4 632.5,515.5 633.5,515.7 634.5,515.8 635.5,515.9 636.5,516.1 637.5,516.2 638.5,516.3 639.5,516.4 640.5,516.5 641.5,516.6 642.5,516.7 643.5,516.8 644.5,516.9 645.5,517.0 646.5,517.1 647.5,517.2 648.5,517.2 649.5,517.3 650.5,517.4 651.5,517.5 652.5,517.5 653.5,517.6 654.5,517.6 655.5,517.7 656.5,517.8 657.5,517.8 658.5,517.9 659.5,517.9 660.5,518.0 661.5,518.0 662.5,518.1 663.5,518.2 664.5,518.2 665.5,518.2 666.5,518.3 667.5,518.3 668.5,518.4 669.5,518.4 670.5,518.5 671.5,518.5 672.5,518.6 673.5,518.6 674.5,518.6 675.5,518.7 676.5,518.7 677.5,518.7 678.5,518.8 679.5,518.8 680.5,518.9 681.5,518.9 682.5,518.9 683.5,519.0 684.5,519.0 685.5,519.0 686.5,519.1 687.5,519.1 688.5,519.1 689.5,519.2 690.5,519.2 691.5,519.2 692.5,519.3 693.5,519.3 694.5,519.3 695.5,519.3 696.5,519.4 697.5,519.4 698.5,519.4 699.5,519.5 700.5,519.5 701.5,519.5 702.5,519.5 703.5,519.6 704.5,519.6 705.5,519.6 706.5,519.6 707.5,519.7 708.5,519.7 709.5,519.7 710.5,519.8 711.5,519.8 712.5,519.8 713.5,519.8 714.5,519.9 715.5,519.9 716.5,519.9 717.5,519.9 718.5,519.9 719.5,520.0 720.5,520.0 721.5,520.0 722.5,520.0 723.5,520.1 724.5,520.1 725.5,520.1 726.5,520.1 727.5,520.2 728.5,520.2 729.5,520.2 730.5,520.2 731.5,520.3 732.5,520.3 733.5,520.3 734.5,520.3 735.5,520.3 736.5,520.4 737.5,520.4 738.5,520.4 739.5,520.4 740.5,520.5 741.5,520.5 742.5,520.5 743.5,520.5 744.5,520.5 745.5,520.6 746.5,520.6 747.5,520.6 748.5,520.6 749.5,520.6 750.5,520.7 751.5,520.7 752.5,520.7 753.5,520.7 754.5,520.8 755.5,520.8 756.5,520.8 757.5,520.8 758.5,520.8 759.5,520.9 760.5,520.9 761.5,520.9 762.5,520.9 763.5,520.9 764.5,521.0 765.5,521.0 766.5,521.0 767.5,521.0 768.5,521.0 769.5,521.1 770.5,521.1 771.5,521.1 772.5,521.1 773.5,521.1 774.5,521.2 775.5,521.2 776.5,521.2 777.5,521.2 778.5,521.2 779.5,521.3 780.5,521.3" fill="none" stroke="#64a6e2" stroke-width="2.6" stroke-linejoin="round"/>
<polyline points="412.5,514.7 413.5,514.7 414.5,514.7 415.5,514.7 416.5,514.7 417.5,514.8 418.5,514.8 419.5,514.8 420.5,514.8 421.5,514.8 422.5,514.8 423.5,514.8 424.5,514.8 425.5,514.9 426.5,514.9 427.5,514.9 428.5,514.9 429.5,514.9 430.5,514.9 431.5,514.9 432.5,514.9 433.5,515.0 434.5,515.0 435.5,515.0 436.5,515.0 437.5,515.0 438.5,515.0 439.5,515.0 440.5,515.0 441.5,515.0 442.5,515.0 443.5,515.1 444.5,515.1 445.5,515.1 446.5,515.1 447.5,515.1 448.5,515.1 449.5,515.1 450.5,515.1 451.5,515.1 452.5,515.1 453.5,515.1 454.5,515.1 455.5,515.1 456.5,515.2 457.5,515.2 458.5,515.2 459.5,515.2 460.5,515.2 461.5,515.2 462.5,515.2 463.5,515.2 464.5,515.2 465.5,515.2 466.5,515.2 467.5,515.2 468.5,515.2 469.5,515.2 470.5,515.2 471.5,515.2 472.5,515.2 473.5,515.2 474.5,515.2 475.5,515.2 476.5,515.2 477.5,515.2 478.5,515.2 479.5,515.2 480.5,515.2 481.5,515.2 482.5,515.2 483.5,515.2 484.5,515.1 485.5,515.1 486.5,515.1 487.5,515.1 488.5,515.1 489.5,515.1 490.5,515.1 491.5,515.1 492.5,515.0 493.5,515.0 494.5,515.0 495.5,515.0 496.5,514.9 497.5,514.9 498.5,514.9 499.5,514.9 500.5,514.8 501.5,514.8 502.5,514.8 503.5,514.7 504.5,514.7 505.5,514.6 506.5,514.6 507.5,514.5 508.5,514.5 509.5,514.4 510.5,514.4 511.5,514.3 512.5,514.2 513.5,514.2 514.5,514.1 515.5,514.0 516.5,513.9 517.5,513.8 518.5,513.7 519.5,513.6 520.5,513.5 521.5,513.4 522.5,513.2 523.5,513.1 524.5,512.9 525.5,512.8 526.5,512.6 527.5,512.4 528.5,512.2 529.5,511.9 530.5,511.7 531.5,511.4 532.5,511.1 533.5,510.8 534.5,510.4 535.5,510.0 536.5,509.6 537.5,509.1 538.5,508.5 539.5,507.9 540.5,507.2 541.5,506.5 542.5,505.6 543.5,504.6 544.5,503.5 545.5,502.3 546.5,500.9 547.5,499.4 548.5,497.7 549.5,495.8 550.5,493.8 551.5,491.5 552.5,489.1 553.5,486.4 554.5,483.5 555.5,480.5 556.5,477.2 557.5,473.9 558.5,470.4 559.5,466.9 560.5,463.4 561.5,460.1 562.5,457.0 563.5,454.3 564.5,452.1 565.5,450.6 566.5,449.8 567.5,449.8 568.5,450.7 569.5,452.2 570.5,454.4 571.5,457.1 572.5,460.2 573.5,463.6 574.5,467.1 575.5,470.7 576.5,474.2 577.5,477.6 578.5,480.9 579.5,484.0 580.5,486.9 581.5,489.6 582.5,492.1 583.5,494.4 584.5,496.4 585.5,498.4 586.5,500.1 587.5,501.6 588.5,503.0 589.5,504.3 590.5,505.4 591.5,506.5 592.5,507.4 593.5,508.2 594.5,508.9 595.5,509.6 596.5,510.1 597.5,510.7 598.5,511.1 599.5,511.6 600.5,512.0 601.5,512.3 602.5,512.7 603.5,513.0 604.5,513.3 605.5,513.5 606.5,513.8 607.5,514.0 608.5,514.2 609.5,514.4 610.5,514.6 611.5,514.8 612.5,515.0 613.5,515.1 614.5,515.3 615.5,515.4 616.5,515.6 617.5,515.7 618.5,515.8 619.5,515.9 620.5,516.0 621.5,516.1 622.5,516.3 623.5,516.4 624.5,516.4 625.5,516.5 626.5,516.6 627.5,516.7 628.5,516.8 629.5,516.9 630.5,517.0 631.5,517.0 632.5,517.1 633.5,517.2 634.5,517.2 635.5,517.3 636.5,517.4 637.5,517.4 638.5,517.5 639.5,517.5 640.5,517.6 641.5,517.7 642.5,517.7 643.5,517.8 644.5,517.8 645.5,517.9 646.5,517.9 647.5,518.0 648.5,518.0 649.5,518.0 650.5,518.1 651.5,518.1 652.5,518.2 653.5,518.2 654.5,518.3 655.5,518.3 656.5,518.3 657.5,518.4 658.5,518.4 659.5,518.5 660.5,518.5 661.5,518.5 662.5,518.6 663.5,518.6 664.5,518.6 665.5,518.7 666.5,518.7 667.5,518.7 668.5,518.8 669.5,518.8 670.5,518.8 671.5,518.9 672.5,518.9 673.5,518.9 674.5,518.9 675.5,519.0 676.5,519.0 677.5,519.0 678.5,519.1 679.5,519.1 680.5,519.1 681.5,519.2 682.5,519.2 683.5,519.2 684.5,519.2 685.5,519.3 686.5,519.3 687.5,519.3 688.5,519.3 689.5,519.4 690.5,519.4 691.5,519.4 692.5,519.4 693.5,519.5 694.5,519.5 695.5,519.5 696.5,519.5 697.5,519.6 698.5,519.6 699.5,519.6 700.5,519.6 701.5,519.7 702.5,519.7 703.5,519.7 704.5,519.7 705.5,519.8 706.5,519.8 707.5,519.8 708.5,519.8 709.5,519.9 710.5,519.9 711.5,519.9 712.5,519.9 713.5,519.9 714.5,520.0 715.5,520.0 716.5,520.0 717.5,520.0 718.5,520.1 719.5,520.1 720.5,520.1 721.5,520.1 722.5,520.1 723.5,520.2 724.5,520.2 725.5,520.2 726.5,520.2 727.5,520.3 728.5,520.3 729.5,520.3 730.5,520.3 731.5,520.3 732.5,520.4 733.5,520.4 734.5,520.4 735.5,520.4 736.5,520.4 737.5,520.5 738.5,520.5 739.5,520.5 740.5,520.5 741.5,520.5 742.5,520.6 743.5,520.6 744.5,520.6 745.5,520.6 746.5,520.6 747.5,520.7 748.5,520.7 749.5,520.7 750.5,520.7 751.5,520.7 752.5,520.8 753.5,520.8 754.5,520.8 755.5,520.8 756.5,520.8 757.5,520.9 758.5,520.9 759.5,520.9 760.5,520.9 761.5,520.9 762.5,521.0 763.5,521.0 764.5,521.0 765.5,521.0 766.5,521.0 767.5,521.1 768.5,521.1 769.5,521.1 770.5,521.1 771.5,521.1 772.5,521.2 773.5,521.2 774.5,521.2 775.5,521.2 776.5,521.2 777.5,521.3 778.5,521.3 779.5,521.3 780.5,521.3" fill="none" stroke="#6ccc22" stroke-width="2.6" stroke-linejoin="round"/>
<polyline points="412.5,514.3 413.5,514.3 414.5,514.3 415.5,514.3 416.5,514.3 417.5,514.2 418.5,514.2 419.5,514.2 420.5,514.2 421.5,514.2 422.5,514.2 423.5,514.2 424.5,514.2 425.5,514.2 426.5,514.1 427.5,514.1 428.5,514.1 429.5,514.1 430.5,514.1 431.5,514.1 432.5,514.1 433.5,514.0 434.5,514.0 435.5,514.0 436.5,514.0 437.5,514.0 438.5,514.0 439.5,514.0 440.5,513.9 441.5,513.9 442.5,513.9 443.5,513.9 444.5,513.9 445.5,513.9 446.5,513.9 447.5,513.8 448.5,513.8 449.5,513.8 450.5,513.8 451.5,513.8 452.5,513.8 453.5,513.7 454.5,513.7 455.5,513.7 456.5,513.7 457.5,513.7 458.5,513.6 459.5,513.6 460.5,513.6 461.5,513.6 462.5,513.6 463.5,513.5 464.5,513.5 465.5,513.5 466.5,513.5 467.5,513.4 468.5,513.4 469.5,513.4 470.5,513.4 471.5,513.3 472.5,513.3 473.5,513.3 474.5,513.3 475.5,513.2 476.5,513.2 477.5,513.2 478.5,513.2 479.5,513.1 480.5,513.1 481.5,513.1 482.5,513.0 483.5,513.0 484.5,512.9 485.5,512.9 486.5,512.8 487.5,512.8 488.5,512.7 489.5,512.6 490.5,512.6 491.5,512.5 492.5,512.4 493.5,512.3 494.5,512.2 495.5,512.2 496.5,512.1 497.5,512.0 498.5,511.9 499.5,511.8 500.5,511.8 501.5,511.7 502.5,511.6 503.5,511.4 504.5,511.3 505.5,511.2 506.5,511.0 507.5,510.9 508.5,510.7 509.5,510.6 510.5,510.4 511.5,510.3 512.5,510.1 513.5,509.9 514.5,509.8 515.5,509.6 516.5,509.4 517.5,509.2 518.5,508.9 519.5,508.7 520.5,508.4 521.5,508.0 522.5,507.7 523.5,507.3 524.5,506.9 525.5,506.5 526.5,506.1 527.5,505.6 528.5,505.2 529.5,504.7 530.5,504.2 531.5,503.7 532.5,503.1 533.5,502.3 534.5,501.4 535.5,500.4 536.5,499.2 537.5,497.9 538.5,496.5 539.5,495.0 540.5,493.5 541.5,491.9 542.5,490.2 543.5,488.5 544.5,486.5 545.5,484.4 546.5,482.1 547.5,479.5 548.5,476.6 549.5,473.4 550.5,469.9 551.5,466.5 552.5,463.0 553.5,459.5 554.5,456.0 555.5,452.5 556.5,449.0 557.5,445.5 558.5,442.0 559.5,438.5 560.5,435.0 561.5,431.5 562.5,428.0 563.5,424.5 564.5,421.0 565.5,417.5 566.5,413.9 567.5,410.4 568.5,407.0 569.5,403.8 570.5,400.9 571.5,398.3 572.5,395.9 573.5,393.7 574.5,391.7 575.5,389.7 576.5,387.9 577.5,386.0 578.5,384.2 579.5,382.8 580.5,381.6 581.5,380.8 582.5,380.5 583.5,380.7 584.5,381.4 585.5,382.7 586.5,384.2 587.5,385.8 588.5,387.6 589.5,389.5 590.5,391.8 591.5,394.6 592.5,398.3 593.5,402.4 594.5,406.3 595.5,409.6 596.5,412.8 597.5,415.9 598.5,418.9 599.5,421.8 600.5,424.5 601.5,427.2 602.5,429.8 603.5,432.3 604.5,435.0 605.5,437.7 606.5,440.6 607.5,443.6 608.5,446.5 609.5,449.5 610.5,452.5 611.5,455.5 612.5,458.4 613.5,461.4 614.5,464.4 615.5,467.4 616.5,470.4 617.5,473.4 618.5,476.5 619.5,479.5 620.5,482.5 621.5,485.4 622.5,487.9 623.5,490.0 624.5,491.8 625.5,493.4 626.5,494.8 627.5,496.2 628.5,497.6 629.5,499.0 630.5,500.3 631.5,501.5 632.5,502.8 633.5,503.9 634.5,505.0 635.5,506.0 636.5,506.9 637.5,507.7 638.5,508.3 639.5,508.9 640.5,509.4 641.5,510.0 642.5,510.5 643.5,511.0 644.5,511.4 645.5,511.9 646.5,512.3 647.5,512.7 648.5,513.0 649.5,513.3 650.5,513.7 651.5,514.0 652.5,514.3 653.5,514.6 654.5,514.9 655.5,515.2 656.5,515.5 657.5,515.8 658.5,516.0 659.5,516.2 660.5,516.4 661.5,516.6 662.5,516.7 663.5,516.7 664.5,516.8 665.5,516.9 666.5,517.0 667.5,517.1 668.5,517.2 669.5,517.3 670.5,517.3 671.5,517.4 672.5,517.5 673.5,517.6 674.5,517.7 675.5,517.7 676.5,517.8 677.5,517.9 678.5,517.9 679.5,518.0 680.5,518.1 681.5,518.1 682.5,518.2 683.5,518.3 684.5,518.3 685.5,518.4 686.5,518.4 687.5,518.5 688.5,518.5 689.5,518.6 690.5,518.6 691.5,518.7 692.5,518.7 693.5,518.8 694.5,518.8 695.5,518.9 696.5,518.9 697.5,518.9 698.5,519.0 699.5,519.0 700.5,519.0 701.5,519.1 702.5,519.1 703.5,519.2 704.5,519.2 705.5,519.2 706.5,519.3 707.5,519.3 708.5,519.4 709.5,519.4 710.5,519.4 711.5,519.5 712.5,519.5 713.5,519.6 714.5,519.6 715.5,519.6 716.5,519.7 717.5,519.7 718.5,519.7 719.5,519.8 720.5,519.8 721.5,519.9 722.5,519.9 723.5,519.9 724.5,520.0 725.5,520.0 726.5,520.0 727.5,520.1 728.5,520.1 729.5,520.1 730.5,520.2 731.5,520.2 732.5,520.3 733.5,520.3 734.5,520.3 735.5,520.4 736.5,520.4 737.5,520.4 738.5,520.5 739.5,520.5 740.5,520.5 741.5,520.5 742.5,520.6 743.5,520.6 744.5,520.6 745.5,520.7 746.5,520.7 747.5,520.7 748.5,520.8 749.5,520.8 750.5,520.8 751.5,520.9 752.5,520.9 753.5,520.9 754.5,521.0 755.5,521.0 756.5,521.0 757.5,521.0 758.5,521.1 759.5,521.1 760.5,521.1 761.5,521.2 762.5,521.2 763.5,521.2 764.5,521.3 765.5,521.3 766.5,521.3 767.5,521.3 768.5,521.4 769.5,521.4 770.5,521.4 771.5,521.5 772.5,521.5 773.5,521.5 774.5,521.5 775.5,521.6 776.5,521.6 777.5,521.6 778.5,521.7 779.5,521.7 780.0,521.7" fill="none" stroke="#8a5454" stroke-width="2.2" stroke-linejoin="round"/>
<polyline points="412.5,638.5 413.5,638.5 414.5,638.5 415.5,638.5 416.5,638.6 417.5,638.6 418.5,638.6 419.5,638.6 420.5,638.6 421.5,638.6 422.5,638.6 423.5,638.6 424.5,638.6 425.5,638.6 426.5,638.6 427.5,638.7 428.5,638.7 429.5,638.7 430.5,638.7 431.5,638.7 432.5,638.7 433.5,638.7 434.5,638.7 435.5,638.7 436.5,638.7 437.5,638.8 438.5,638.8 439.5,638.8 440.5,638.8 441.5,638.8 442.5,638.8 443.5,638.8 444.5,638.8 445.5,638.8 446.5,638.8 447.5,638.8 448.5,638.9 449.5,638.9 450.5,638.9 451.5,638.9 452.5,638.9 453.5,638.9 454.5,638.9 455.5,638.9 456.5,638.9 457.5,638.9 458.5,638.9 459.5,639.0 460.5,639.0 461.5,639.0 462.5,639.0 463.5,639.0 464.5,639.0 465.5,639.0 466.5,639.0 467.5,639.0 468.5,639.0 469.5,639.1 470.5,639.1 471.5,639.1 472.5,639.1 473.5,639.1 474.5,639.1 475.5,639.1 476.5,639.1 477.5,639.1 478.5,639.1 479.5,639.1 480.5,639.2 481.5,639.2 482.5,639.2 483.5,639.2 484.5,639.2 485.5,639.2 486.5,639.2 487.5,639.2 488.5,639.2 489.5,639.2 490.5,639.3 491.5,639.3 492.5,639.3 493.5,639.3 494.5,639.3 495.5,639.3 496.5,639.3 497.5,639.3 498.5,639.3 499.5,639.3 500.5,639.3 501.5,639.4 502.5,639.4 503.5,639.4 504.5,639.4 505.5,639.4 506.5,639.4 507.5,639.4 508.5,639.4 509.5,639.4 510.5,639.4 511.5,639.5 512.5,639.5 513.5,639.5 514.5,639.5 515.5,639.5 516.5,639.5 517.5,639.5 518.5,639.5 519.5,639.5 520.5,639.5 521.5,639.5 522.5,639.6 523.5,639.6 524.5,639.6 525.5,639.6 526.5,639.6 527.5,639.6 528.5,639.6 529.5,639.6 530.5,639.6 531.5,639.6 532.5,639.6 533.5,639.7 534.5,639.7 535.5,639.7 536.5,639.7 537.5,639.7 538.5,639.7 539.5,639.7 540.5,639.7 541.5,639.7 542.5,639.7 543.5,639.8 544.5,639.8 545.5,639.8 546.5,639.8 547.5,639.8 548.5,639.8 549.5,639.8 550.5,639.8 551.5,639.8 552.5,639.8 553.5,639.8 554.5,639.9 555.5,639.9 556.5,639.9 557.5,639.9 558.5,639.9 559.5,639.9 560.5,639.9 561.5,639.9 562.5,639.9 563.5,639.9 564.5,640.0 565.5,640.0 566.5,640.0 567.5,640.0 568.5,640.0 569.5,640.0 570.5,640.0 571.5,640.0 572.5,640.0 573.5,640.0 574.5,640.0 575.5,640.1 576.5,640.1 577.5,640.1 578.5,640.1 579.5,640.1 580.5,640.1 581.5,640.1 582.5,640.1 583.5,640.1 584.5,640.1 585.5,640.2 586.5,640.2 587.5,640.2 588.5,640.2 589.5,640.2 590.5,640.2 591.5,640.2 592.5,640.2 593.5,640.2 594.5,640.2 595.5,640.2 596.5,640.3 597.5,640.3 598.5,640.3 599.5,640.3 600.5,640.3 601.5,640.3 602.5,640.3 603.5,640.3 604.5,640.3 605.5,640.3 606.5,640.3 607.5,640.4 608.5,640.4 609.5,640.4 610.5,640.4 611.5,640.4 612.5,640.4 613.5,640.4 614.5,640.4 615.5,640.4 616.5,640.4 617.5,640.5 618.5,640.5 619.5,640.5 620.5,640.5 621.5,640.5 622.5,640.5 623.5,640.5 624.5,640.5 625.5,640.5 626.5,640.5 627.5,640.5 628.5,640.6 629.5,640.6 630.5,640.6 631.5,640.6 632.5,640.6 633.5,640.6 634.5,640.6 635.5,640.6 636.5,640.6 637.5,640.6 638.5,640.7 639.5,640.7 640.5,640.7 641.5,640.7 642.5,640.7 643.5,640.7 644.5,640.7 645.5,640.7 646.5,640.7 647.5,640.7 648.5,640.7 649.5,640.8 650.5,640.8 651.5,640.8 652.5,640.8 653.5,640.8 654.5,640.8 655.5,640.8 656.5,640.8 657.5,640.8 658.5,640.8 659.5,640.9 660.5,640.9 661.5,640.9 662.5,640.9 663.5,640.9 664.5,640.9 665.5,640.9 666.5,640.9 667.5,640.9 668.5,640.9 669.5,640.9 670.5,641.0 671.5,641.0 672.5,641.0 673.5,641.0 674.5,641.0 675.5,641.0 676.5,641.0 677.5,641.0 678.5,641.0 679.5,641.0 680.5,641.0 681.5,641.1 682.5,641.1 683.5,641.1 684.5,641.1 685.5,641.1 686.5,641.1 687.5,641.1 688.5,641.1 689.5,641.1 690.5,641.1 691.5,641.2 692.5,641.2 693.5,641.2 694.5,641.2 695.5,641.2 696.5,641.2 697.5,641.2 698.5,641.2 699.5,641.2 700.5,641.2 701.5,641.2 702.5,641.3 703.5,641.3 704.5,641.3 705.5,641.3 706.5,641.3 707.5,641.3 708.5,641.3 709.5,641.3 710.5,641.3 711.5,641.3 712.5,641.4 713.5,641.4 714.5,641.4 715.5,641.4 716.5,641.4 717.5,641.4 718.5,641.4 719.5,641.4 720.5,641.4 721.5,641.4 722.5,641.4 723.5,641.5 724.5,641.5 725.5,641.5 726.5,641.5 727.5,641.5 728.5,641.5 729.5,641.5 730.5,641.5 731.5,641.5 732.5,641.5 733.5,641.6 734.5,641.6 735.5,641.6 736.5,641.6 737.5,641.6 738.5,641.6 739.5,641.6 740.5,641.6 741.5,641.6 742.5,641.6 743.5,641.6 744.5,641.7 745.5,641.7 746.5,641.7 747.5,641.7 748.5,641.7 749.5,641.7 750.5,641.7 751.5,641.7 752.5,641.7 753.5,641.7 754.5,641.7 755.5,641.8 756.5,641.8 757.5,641.8 758.5,641.8 759.5,641.8 760.5,641.8 761.5,641.8 762.5,641.8 763.5,641.8 764.5,641.8 765.5,641.9 766.5,641.9 767.5,641.9 768.5,641.9 769.5,641.9 770.5,641.9 771.5,641.9 772.5,641.9 773.5,641.9 774.5,641.9 775.5,641.9 776.5,642.0 777.5,642.0 778.5,642.0 779.5,642.0 780.5,642.0" fill="none" stroke="#3d7be6" stroke-width="2.4" stroke-linejoin="round"/>
<polyline points="412.5,638.3 413.5,638.3 414.5,638.3 415.5,638.3 416.5,638.3 417.5,638.4 418.5,638.4 419.5,638.4 420.5,638.4 421.5,638.4 422.5,638.4 423.5,638.4 424.5,638.4 425.5,638.4 426.5,638.4 427.5,638.4 428.5,638.4 429.5,638.4 430.5,638.4 431.5,638.5 432.5,638.5 433.5,638.5 434.5,638.5 435.5,638.5 436.5,638.5 437.5,638.5 438.5,638.5 439.5,638.5 440.5,638.5 441.5,638.5 442.5,638.5 443.5,638.5 444.5,638.5 445.5,638.5 446.5,638.5 447.5,638.6 448.5,638.6 449.5,638.6 450.5,638.6 451.5,638.6 452.5,638.6 453.5,638.6 454.5,638.6 455.5,638.6 456.5,638.6 457.5,638.6 458.5,638.6 459.5,638.6 460.5,638.6 461.5,638.6 462.5,638.6 463.5,638.6 464.5,638.6 465.5,638.6 466.5,638.6 467.5,638.7 468.5,638.7 469.5,638.7 470.5,638.7 471.5,638.7 472.5,638.7 473.5,638.7 474.5,638.7 475.5,638.7 476.5,638.7 477.5,638.7 478.5,638.7 479.5,638.7 480.5,638.7 481.5,638.7 482.5,638.7 483.5,638.7 484.5,638.7 485.5,638.7 486.5,638.7 487.5,638.7 488.5,638.7 489.5,638.7 490.5,638.7 491.5,638.7 492.5,638.7 493.5,638.7 494.5,638.7 495.5,638.7 496.5,638.7 497.5,638.7 498.5,638.7 499.5,638.7 500.5,638.7 501.5,638.7 502.5,638.7 503.5,638.7 504.5,638.7 505.5,638.7 506.5,638.7 507.5,638.7 508.5,638.7 509.5,638.7 510.5,638.7 511.5,638.7 512.5,638.7 513.5,638.6 514.5,638.6 515.5,638.6 516.5,638.6 517.5,638.6 518.5,638.6 519.5,638.6 520.5,638.6 521.5,638.6 522.5,638.6 523.5,638.5 524.5,638.5 525.5,638.5 526.5,638.5 527.5,638.5 528.5,638.5 529.5,638.4 530.5,638.4 531.5,638.4 532.5,638.4 533.5,638.4 534.5,638.3 535.5,638.3 536.5,638.3 537.5,638.3 538.5,638.2 539.5,638.2 540.5,638.2 541.5,638.1 542.5,638.1 543.5,638.1 544.5,638.0 545.5,638.0 546.5,637.9 547.5,637.9 548.5,637.8 549.5,637.8 550.5,637.7 551.5,637.7 552.5,637.6 553.5,637.5 554.5,637.5 555.5,637.4 556.5,637.3 557.5,637.2 558.5,637.1 559.5,637.0 560.5,636.9 561.5,636.8 562.5,636.7 563.5,636.6 564.5,636.5 565.5,636.3 566.5,636.2 567.5,636.0 568.5,635.8 569.5,635.6 570.5,635.4 571.5,635.2 572.5,634.9 573.5,634.7 574.5,634.3 575.5,634.0 576.5,633.7 577.5,633.3 578.5,632.8 579.5,632.3 580.5,631.8 581.5,631.2 582.5,630.6 583.5,629.9 584.5,629.2 585.5,628.4 586.5,627.5 587.5,626.5 588.5,625.5 589.5,624.3 590.5,623.1 591.5,621.9 592.5,620.5 593.5,619.0 594.5,617.5 595.5,615.9 596.5,614.2 597.5,612.5 598.5,610.7 599.5,608.9 600.5,607.1 601.5,605.4 602.5,603.7 603.5,602.1 604.5,600.7 605.5,599.5 606.5,598.5 607.5,597.8 608.5,597.4 609.5,597.4 610.5,597.7 611.5,598.3 612.5,599.1 613.5,600.3 614.5,601.6 615.5,603.2 616.5,604.8 617.5,606.6 618.5,608.4 619.5,610.2 620.5,612.0 621.5,613.8 622.5,615.5 623.5,617.1 624.5,618.7 625.5,620.2 626.5,621.6 627.5,623.0 628.5,624.2 629.5,625.4 630.5,626.5 631.5,627.5 632.5,628.5 633.5,629.3 634.5,630.1 635.5,630.8 636.5,631.5 637.5,632.1 638.5,632.7 639.5,633.2 640.5,633.7 641.5,634.1 642.5,634.5 643.5,634.9 644.5,635.2 645.5,635.5 646.5,635.8 647.5,636.0 648.5,636.3 649.5,636.5 650.5,636.7 651.5,636.9 652.5,637.1 653.5,637.2 654.5,637.4 655.5,637.5 656.5,637.7 657.5,637.8 658.5,637.9 659.5,638.0 660.5,638.2 661.5,638.3 662.5,638.4 663.5,638.5 664.5,638.5 665.5,638.6 666.5,638.7 667.5,638.8 668.5,638.9 669.5,638.9 670.5,639.0 671.5,639.1 672.5,639.1 673.5,639.2 674.5,639.3 675.5,639.3 676.5,639.4 677.5,639.4 678.5,639.5 679.5,639.5 680.5,639.6 681.5,639.6 682.5,639.7 683.5,639.7 684.5,639.8 685.5,639.8 686.5,639.9 687.5,639.9 688.5,639.9 689.5,640.0 690.5,640.0 691.5,640.0 692.5,640.1 693.5,640.1 694.5,640.2 695.5,640.2 696.5,640.2 697.5,640.2 698.5,640.3 699.5,640.3 700.5,640.3 701.5,640.4 702.5,640.4 703.5,640.4 704.5,640.4 705.5,640.5 706.5,640.5 707.5,640.5 708.5,640.5 709.5,640.6 710.5,640.6 711.5,640.6 712.5,640.6 713.5,640.7 714.5,640.7 715.5,640.7 716.5,640.7 717.5,640.8 718.5,640.8 719.5,640.8 720.5,640.8 721.5,640.8 722.5,640.9 723.5,640.9 724.5,640.9 725.5,640.9 726.5,640.9 727.5,640.9 728.5,641.0 729.5,641.0 730.5,641.0 731.5,641.0 732.5,641.0 733.5,641.1 734.5,641.1 735.5,641.1 736.5,641.1 737.5,641.1 738.5,641.1 739.5,641.2 740.5,641.2 741.5,641.2 742.5,641.2 743.5,641.2 744.5,641.2 745.5,641.3 746.5,641.3 747.5,641.3 748.5,641.3 749.5,641.3 750.5,641.3 751.5,641.3 752.5,641.4 753.5,641.4 754.5,641.4 755.5,641.4 756.5,641.4 757.5,641.4 758.5,641.4 759.5,641.5 760.5,641.5 761.5,641.5 762.5,641.5 763.5,641.5 764.5,641.5 765.5,641.5 766.5,641.6 767.5,641.6 768.5,641.6 769.5,641.6 770.5,641.6 771.5,641.6 772.5,641.6 773.5,641.6 774.5,641.7 775.5,641.7 776.5,641.7 777.5,641.7 778.5,641.7 779.5,641.7 780.5,641.7" fill="none" stroke="#2ea862" stroke-width="2.4" stroke-linejoin="round"/>
<polyline points="412.5,638.3 413.5,638.3 414.5,638.3 415.5,638.3 416.5,638.4 417.5,638.4 418.5,638.4 419.5,638.4 420.5,638.4 421.5,638.4 422.5,638.4 423.5,638.4 424.5,638.4 425.5,638.4 426.5,638.4 427.5,638.4 428.5,638.4 429.5,638.4 430.5,638.5 431.5,638.5 432.5,638.5 433.5,638.5 434.5,638.5 435.5,638.5 436.5,638.5 437.5,638.5 438.5,638.5 439.5,638.5 440.5,638.5 441.5,638.5 442.5,638.5 443.5,638.5 444.5,638.5 445.5,638.5 446.5,638.6 447.5,638.6 448.5,638.6 449.5,638.6 450.5,638.6 451.5,638.6 452.5,638.6 453.5,638.6 454.5,638.6 455.5,638.6 456.5,638.6 457.5,638.6 458.5,638.6 459.5,638.6 460.5,638.6 461.5,638.6 462.5,638.6 463.5,638.6 464.5,638.6 465.5,638.6 466.5,638.6 467.5,638.6 468.5,638.6 469.5,638.7 470.5,638.7 471.5,638.7 472.5,638.7 473.5,638.7 474.5,638.7 475.5,638.7 476.5,638.7 477.5,638.7 478.5,638.7 479.5,638.7 480.5,638.7 481.5,638.7 482.5,638.7 483.5,638.7 484.5,638.7 485.5,638.7 486.5,638.7 487.5,638.7 488.5,638.7 489.5,638.7 490.5,638.7 491.5,638.7 492.5,638.7 493.5,638.7 494.5,638.7 495.5,638.6 496.5,638.6 497.5,638.6 498.5,638.6 499.5,638.6 500.5,638.6 501.5,638.6 502.5,638.6 503.5,638.6 504.5,638.6 505.5,638.6 506.5,638.6 507.5,638.6 508.5,638.5 509.5,638.5 510.5,638.5 511.5,638.5 512.5,638.5 513.5,638.5 514.5,638.5 515.5,638.4 516.5,638.4 517.5,638.4 518.5,638.4 519.5,638.4 520.5,638.3 521.5,638.3 522.5,638.3 523.5,638.3 524.5,638.2 525.5,638.2 526.5,638.2 527.5,638.1 528.5,638.1 529.5,638.1 530.5,638.0 531.5,638.0 532.5,637.9 533.5,637.9 534.5,637.8 535.5,637.8 536.5,637.7 537.5,637.6 538.5,637.6 539.5,637.5 540.5,637.4 541.5,637.3 542.5,637.3 543.5,637.2 544.5,637.1 545.5,637.0 546.5,636.8 547.5,636.7 548.5,636.6 549.5,636.5 550.5,636.3 551.5,636.1 552.5,636.0 553.5,635.8 554.5,635.6 555.5,635.3 556.5,635.1 557.5,634.8 558.5,634.5 559.5,634.2 560.5,633.9 561.5,633.5 562.5,633.1 563.5,632.6 564.5,632.0 565.5,631.4 566.5,630.7 567.5,629.9 568.5,629.0 569.5,627.9 570.5,626.7 571.5,625.2 572.5,623.6 573.5,621.7 574.5,619.6 575.5,617.2 576.5,614.4 577.5,611.3 578.5,607.8 579.5,603.9 580.5,599.7 581.5,595.2 582.5,590.3 583.5,585.3 584.5,580.2 585.5,575.2 586.5,570.5 587.5,566.5 588.5,563.5 589.5,561.7 590.5,561.2 591.5,562.2 592.5,564.6 593.5,568.1 594.5,572.4 595.5,577.2 596.5,582.3 597.5,587.5 598.5,592.5 599.5,597.2 600.5,601.7 601.5,605.7 602.5,609.5 603.5,612.8 604.5,615.8 605.5,618.5 606.5,620.8 607.5,622.8 608.5,624.6 609.5,626.2 610.5,627.6 611.5,628.7 612.5,629.8 613.5,630.7 614.5,631.4 615.5,632.1 616.5,632.7 617.5,633.3 618.5,633.8 619.5,634.2 620.5,634.6 621.5,634.9 622.5,635.3 623.5,635.6 624.5,635.8 625.5,636.1 626.5,636.3 627.5,636.6 628.5,636.8 629.5,636.9 630.5,637.1 631.5,637.3 632.5,637.4 633.5,637.6 634.5,637.7 635.5,637.9 636.5,638.0 637.5,638.1 638.5,638.2 639.5,638.3 640.5,638.4 641.5,638.5 642.5,638.6 643.5,638.7 644.5,638.8 645.5,638.8 646.5,638.9 647.5,639.0 648.5,639.0 649.5,639.1 650.5,639.2 651.5,639.2 652.5,639.3 653.5,639.3 654.5,639.4 655.5,639.5 656.5,639.5 657.5,639.5 658.5,639.6 659.5,639.6 660.5,639.7 661.5,639.7 662.5,639.8 663.5,639.8 664.5,639.8 665.5,639.9 666.5,639.9 667.5,639.9 668.5,640.0 669.5,640.0 670.5,640.0 671.5,640.1 672.5,640.1 673.5,640.1 674.5,640.2 675.5,640.2 676.5,640.2 677.5,640.3 678.5,640.3 679.5,640.3 680.5,640.3 681.5,640.4 682.5,640.4 683.5,640.4 684.5,640.4 685.5,640.5 686.5,640.5 687.5,640.5 688.5,640.5 689.5,640.5 690.5,640.6 691.5,640.6 692.5,640.6 693.5,640.6 694.5,640.6 695.5,640.7 696.5,640.7 697.5,640.7 698.5,640.7 699.5,640.7 700.5,640.8 701.5,640.8 702.5,640.8 703.5,640.8 704.5,640.8 705.5,640.8 706.5,640.9 707.5,640.9 708.5,640.9 709.5,640.9 710.5,640.9 711.5,640.9 712.5,641.0 713.5,641.0 714.5,641.0 715.5,641.0 716.5,641.0 717.5,641.0 718.5,641.1 719.5,641.1 720.5,641.1 721.5,641.1 722.5,641.1 723.5,641.1 724.5,641.1 725.5,641.2 726.5,641.2 727.5,641.2 728.5,641.2 729.5,641.2 730.5,641.2 731.5,641.2 732.5,641.2 733.5,641.3 734.5,641.3 735.5,641.3 736.5,641.3 737.5,641.3 738.5,641.3 739.5,641.3 740.5,641.4 741.5,641.4 742.5,641.4 743.5,641.4 744.5,641.4 745.5,641.4 746.5,641.4 747.5,641.4 748.5,641.5 749.5,641.5 750.5,641.5 751.5,641.5 752.5,641.5 753.5,641.5 754.5,641.5 755.5,641.5 756.5,641.6 757.5,641.6 758.5,641.6 759.5,641.6 760.5,641.6 761.5,641.6 762.5,641.6 763.5,641.6 764.5,641.6 765.5,641.7 766.5,641.7 767.5,641.7 768.5,641.7 769.5,641.7 770.5,641.7 771.5,641.7 772.5,641.7 773.5,641.8 774.5,641.8 775.5,641.8 776.5,641.8 777.5,641.8 778.5,641.8 779.5,641.8 780.5,641.8" fill="none" stroke="#b06de6" stroke-width="2.4" stroke-linejoin="round"/>
<polyline points="412.5,638.2 413.5,638.2 414.5,638.2 415.5,638.2 416.5,638.3 417.5,638.3 418.5,638.3 419.5,638.3 420.5,638.3 421.5,638.3 422.5,638.3 423.5,638.3 424.5,638.3 425.5,638.3 426.5,638.3 427.5,638.3 428.5,638.3 429.5,638.3 430.5,638.3 431.5,638.3 432.5,638.3 433.5,638.3 434.5,638.3 435.5,638.3 436.5,638.3 437.5,638.3 438.5,638.3 439.5,638.3 440.5,638.3 441.5,638.3 442.5,638.3 443.5,638.3 444.5,638.3 445.5,638.3 446.5,638.3 447.5,638.3 448.5,638.3 449.5,638.3 450.5,638.3 451.5,638.3 452.5,638.3 453.5,638.3 454.5,638.3 455.5,638.3 456.5,638.3 457.5,638.3 458.5,638.3 459.5,638.3 460.5,638.3 461.5,638.3 462.5,638.3 463.5,638.3 464.5,638.3 465.5,638.3 466.5,638.3 467.5,638.3 468.5,638.3 469.5,638.3 470.5,638.2 471.5,638.2 472.5,638.2 473.5,638.2 474.5,638.2 475.5,638.2 476.5,638.2 477.5,638.2 478.5,638.2 479.5,638.2 480.5,638.2 481.5,638.2 482.5,638.2 483.5,638.1 484.5,638.1 485.5,638.1 486.5,638.1 487.5,638.1 488.5,638.1 489.5,638.1 490.5,638.0 491.5,638.0 492.5,638.0 493.5,638.0 494.5,638.0 495.5,637.9 496.5,637.9 497.5,637.9 498.5,637.9 499.5,637.9 500.5,637.8 501.5,637.8 502.5,637.8 503.5,637.7 504.5,637.7 505.5,637.7 506.5,637.6 507.5,637.6 508.5,637.6 509.5,637.5 510.5,637.5 511.5,637.4 512.5,637.4 513.5,637.3 514.5,637.3 515.5,637.2 516.5,637.2 517.5,637.1 518.5,637.0 519.5,637.0 520.5,636.9 521.5,636.8 522.5,636.7 523.5,636.6 524.5,636.6 525.5,636.5 526.5,636.3 527.5,636.2 528.5,636.1 529.5,636.0 530.5,635.8 531.5,635.7 532.5,635.5 533.5,635.4 534.5,635.2 535.5,635.0 536.5,634.8 537.5,634.6 538.5,634.3 539.5,634.1 540.5,633.8 541.5,633.4 542.5,633.1 543.5,632.7 544.5,632.3 545.5,631.8 546.5,631.2 547.5,630.6 548.5,630.0 549.5,629.2 550.5,628.3 551.5,627.4 552.5,626.3 553.5,625.0 554.5,623.7 555.5,622.1 556.5,620.4 557.5,618.5 558.5,616.4 559.5,614.1 560.5,611.6 561.5,608.9 562.5,605.9 563.5,602.8 564.5,599.4 565.5,596.0 566.5,592.4 567.5,588.9 568.5,585.4 569.5,582.1 570.5,579.2 571.5,576.8 572.5,574.9 573.5,573.9 574.5,573.6 575.5,574.2 576.5,575.6 577.5,577.7 578.5,580.4 579.5,583.5 580.5,586.9 581.5,590.4 582.5,594.0 583.5,597.5 584.5,600.9 585.5,604.2 586.5,607.3 587.5,610.2 588.5,612.8 589.5,615.3 590.5,617.5 591.5,619.5 592.5,621.4 593.5,623.0 594.5,624.5 595.5,625.8 596.5,627.0 597.5,628.1 598.5,629.0 599.5,629.8 600.5,630.6 601.5,631.3 602.5,631.8 603.5,632.4 604.5,632.9 605.5,633.3 606.5,633.7 607.5,634.0 608.5,634.3 609.5,634.6 610.5,634.9 611.5,635.2 612.5,635.4 613.5,635.6 614.5,635.8 615.5,636.0 616.5,636.2 617.5,636.3 618.5,636.5 619.5,636.6 620.5,636.8 621.5,636.9 622.5,637.0 623.5,637.2 624.5,637.3 625.5,637.4 626.5,637.5 627.5,637.6 628.5,637.7 629.5,637.7 630.5,637.8 631.5,637.9 632.5,638.0 633.5,638.0 634.5,638.1 635.5,638.2 636.5,638.2 637.5,638.3 638.5,638.4 639.5,638.4 640.5,638.5 641.5,638.5 642.5,638.6 643.5,638.6 644.5,638.7 645.5,638.7 646.5,638.8 647.5,638.8 648.5,638.8 649.5,638.9 650.5,638.9 651.5,639.0 652.5,639.0 653.5,639.0 654.5,639.1 655.5,639.1 656.5,639.1 657.5,639.2 658.5,639.2 659.5,639.2 660.5,639.2 661.5,639.3 662.5,639.3 663.5,639.3 664.5,639.4 665.5,639.4 666.5,639.4 667.5,639.4 668.5,639.4 669.5,639.5 670.5,639.5 671.5,639.5 672.5,639.5 673.5,639.6 674.5,639.6 675.5,639.6 676.5,639.6 677.5,639.6 678.5,639.7 679.5,639.7 680.5,639.7 681.5,639.7 682.5,639.7 683.5,639.8 684.5,639.8 685.5,639.8 686.5,639.8 687.5,639.8 688.5,639.8 689.5,639.9 690.5,639.9 691.5,639.9 692.5,639.9 693.5,639.9 694.5,639.9 695.5,639.9 696.5,640.0 697.5,640.0 698.5,640.0 699.5,640.0 700.5,640.0 701.5,640.0 702.5,640.0 703.5,640.1 704.5,640.1 705.5,640.1 706.5,640.1 707.5,640.1 708.5,640.1 709.5,640.1 710.5,640.1 711.5,640.2 712.5,640.2 713.5,640.2 714.5,640.2 715.5,640.2 716.5,640.2 717.5,640.2 718.5,640.2 719.5,640.2 720.5,640.3 721.5,640.3 722.5,640.3 723.5,640.3 724.5,640.3 725.5,640.3 726.5,640.3 727.5,640.3 728.5,640.3 729.5,640.4 730.5,640.4 731.5,640.4 732.5,640.4 733.5,640.4 734.5,640.4 735.5,640.4 736.5,640.4 737.5,640.4 738.5,640.4 739.5,640.5 740.5,640.5 741.5,640.5 742.5,640.5 743.5,640.5 744.5,640.5 745.5,640.5 746.5,640.5 747.5,640.5 748.5,640.5 749.5,640.6 750.5,640.6 751.5,640.6 752.5,640.6 753.5,640.6 754.5,640.6 755.5,640.6 756.5,640.6 757.5,640.6 758.5,640.6 759.5,640.6 760.5,640.7 761.5,640.7 762.5,640.7 763.5,640.7 764.5,640.7 765.5,640.7 766.5,640.7 767.5,640.7 768.5,640.7 769.5,640.7 770.5,640.7 771.5,640.8 772.5,640.8 773.5,640.8 774.5,640.8 775.5,640.8 776.5,640.8 777.5,640.8 778.5,640.8 779.5,640.8 780.5,640.8" fill="none" stroke="#c9a224" stroke-width="2.4" stroke-linejoin="round"/>
<polyline points="412.5,639.3 413.5,639.4 414.5,639.5 415.5,639.4 416.5,639.3 417.5,639.6 418.5,639.9 419.5,639.9 420.5,639.7 421.5,639.7 422.5,640.2 423.5,640.6 424.5,640.9 425.5,641.0 426.5,641.0 427.5,641.1 428.5,641.3 429.5,641.3 430.5,641.3 431.5,641.5 432.5,641.4 433.5,641.4 434.5,640.9 435.5,640.6 436.5,640.3 437.5,640.3 438.5,640.3 439.5,640.3 440.5,640.2 441.5,640.5 442.5,640.8 443.5,641.3 444.5,641.2 445.5,641.5 446.5,641.8 447.5,641.9 448.5,642.1 449.5,642.2 450.5,642.8 451.5,642.8 452.5,642.4 453.5,641.6 454.5,641.3 455.5,641.0 456.5,640.8 457.5,640.7 458.5,640.7 459.5,640.7 460.5,640.4 461.5,640.7 462.5,641.1 463.5,641.3 464.5,641.1 465.5,641.0 466.5,641.5 467.5,641.9 468.5,641.9 469.5,641.9 470.5,642.1 471.5,642.4 472.5,642.5 473.5,642.5 474.5,642.6 475.5,642.7 476.5,642.6 477.5,642.7 478.5,642.7 479.5,643.1 480.5,643.4 481.5,643.7 482.5,643.5 483.5,643.2 484.5,642.8 485.5,642.4 486.5,641.9 487.5,641.6 488.5,641.0 489.5,640.7 490.5,640.6 491.5,640.7 492.5,640.5 493.5,640.1 494.5,639.9 495.5,640.1 496.5,640.1 497.5,640.2 498.5,639.7 499.5,639.8 500.5,639.4 501.5,639.3 502.5,639.1 503.5,639.0 504.5,638.6 505.5,638.3 506.5,637.8 507.5,637.7 508.5,637.5 509.5,637.4 510.5,637.2 511.5,636.9 512.5,636.6 513.5,636.2 514.5,636.1 515.5,635.8 516.5,635.8 517.5,635.4 518.5,635.5 519.5,635.2 520.5,635.3 521.5,634.7 522.5,634.4 523.5,634.0 524.5,634.1 525.5,633.9 526.5,633.8 527.5,633.1 528.5,633.0 529.5,632.4 530.5,632.0 531.5,631.1 532.5,630.9 533.5,630.7 534.5,630.6 535.5,630.0 536.5,629.5 537.5,628.9 538.5,628.1 539.5,627.3 540.5,626.2 541.5,625.2 542.5,624.3 543.5,623.8 544.5,623.0 545.5,622.5 546.5,621.4 547.5,620.4 548.5,619.0 549.5,617.4 550.5,615.7 551.5,613.8 552.5,611.7 553.5,609.5 554.5,607.0 555.5,604.9 556.5,603.2 557.5,601.5 558.5,599.2 559.5,596.3 560.5,593.9 561.5,591.5 562.5,588.8 563.5,585.4 564.5,581.0 565.5,576.6 566.5,571.9 567.5,566.9 568.5,561.8 569.5,557.5 570.5,554.0 571.5,550.9 572.5,548.0 573.5,545.2 574.5,542.5 575.5,540.2 576.5,538.4 577.5,536.9 578.5,535.3 579.5,533.4 580.5,532.1 581.5,531.0 582.5,530.4 583.5,530.0 584.5,530.2 585.5,530.5 586.5,530.7 587.5,531.1 588.5,531.7 589.5,532.7 590.5,533.7 591.5,534.6 592.5,536.1 593.5,537.9 594.5,540.1 595.5,542.4 596.5,544.7 597.5,547.4 598.5,549.3 599.5,551.9 600.5,554.2 601.5,557.5 602.5,560.5 603.5,563.4 604.5,566.3 605.5,569.0 606.5,571.2 607.5,573.4 608.5,575.6 609.5,578.0 610.5,580.2 611.5,582.6 612.5,584.9 613.5,587.0 614.5,589.0 615.5,590.8 616.5,592.7 617.5,594.5 618.5,596.4 619.5,598.4 620.5,600.3 621.5,602.3 622.5,604.2 623.5,606.1 624.5,608.1 625.5,610.0 626.5,611.7 627.5,613.3 628.5,615.3 629.5,617.1 630.5,619.1 631.5,620.7 632.5,622.4 633.5,623.9 634.5,625.3 635.5,626.3 636.5,627.4 637.5,628.4 638.5,629.6 639.5,630.5 640.5,631.3 641.5,632.3 642.5,633.2 643.5,634.2 644.5,635.0 645.5,635.8 646.5,636.8 647.5,638.0 648.5,639.0 649.5,639.7 650.5,640.2 651.5,641.2 652.5,642.0 653.5,642.7 654.5,642.7 655.5,642.8 656.5,642.6 657.5,642.7 658.5,642.8 659.5,642.8 660.5,642.4 661.5,642.1 662.5,641.7 663.5,641.7 664.5,642.0 665.5,642.4 666.5,642.9 667.5,643.2 668.5,643.4 669.5,643.9 670.5,644.0 671.5,644.3 672.5,644.2 673.5,644.4 674.5,644.2 675.5,643.9 676.5,643.4 677.5,642.9 678.5,642.6 679.5,642.4 680.5,642.5 681.5,642.5 682.5,642.4 683.5,642.2 684.5,642.1 685.5,642.1 686.5,642.4 687.5,642.5 688.5,642.8 689.5,642.9 690.5,642.7 691.5,642.5 692.5,642.8 693.5,642.9 694.5,642.9 695.5,642.9 696.5,643.2 697.5,643.3 698.5,643.3 699.5,643.3 700.5,643.6 701.5,643.7 702.5,643.9 703.5,644.0 704.5,643.9 705.5,644.0 706.5,644.2 707.5,644.7 708.5,644.8 709.5,644.8 710.5,645.1 711.5,645.3 712.5,645.1 713.5,644.9 714.5,644.6 715.5,644.3 716.5,643.7 717.5,643.5 718.5,643.3 719.5,643.5 720.5,643.5 721.5,644.0 722.5,644.0 723.5,644.1 724.5,644.5 725.5,645.3 726.5,645.8 727.5,646.1 728.5,646.5 729.5,646.9 730.5,647.0 731.5,646.6 732.5,646.2 733.5,645.7 734.5,645.4 735.5,645.0 736.5,644.9 737.5,644.6 738.5,644.1 739.5,644.1 740.5,644.1 741.5,644.2 742.5,644.0 743.5,644.2 744.5,644.6 745.5,645.2 746.5,645.3 747.5,645.5 748.5,645.8 749.5,646.2 750.5,646.4 751.5,646.3 752.5,646.0 753.5,645.9 754.5,645.5 755.5,645.3 756.5,645.2 757.5,645.3 758.5,645.3 759.5,645.3 760.5,645.2 761.5,644.9 762.5,644.8 763.5,645.0 764.5,645.2 765.5,645.1 766.5,645.0 767.5,645.0 768.5,645.1 769.5,645.3 770.5,645.6 771.5,645.7 772.5,645.5 773.5,645.1 774.5,644.9 775.5,644.9 776.5,644.8 777.5,644.3 778.5,643.8 779.5,643.3 780.0,643.3" fill="none" stroke="#4a4a4a" stroke-width="2.0" stroke-linejoin="round"/>
<polyline points="412.5,639.2 413.5,639.2 414.5,639.2 415.5,639.2 416.5,639.1 417.5,639.1 418.5,639.1 419.5,639.1 420.5,639.1 421.5,639.1 422.5,639.0 423.5,639.0 424.5,639.0 425.5,639.0 426.5,639.0 427.5,639.0 428.5,638.9 429.5,638.9 430.5,638.9 431.5,638.9 432.5,638.9 433.5,638.8 434.5,638.8 435.5,638.8 436.5,638.8 437.5,638.8 438.5,638.7 439.5,638.7 440.5,638.7 441.5,638.7 442.5,638.7 443.5,638.6 444.5,638.6 445.5,638.6 446.5,638.6 447.5,638.5 448.5,638.5 449.5,638.5 450.5,638.5 451.5,638.5 452.5,638.4 453.5,638.4 454.5,638.4 455.5,638.4 456.5,638.4 457.5,638.3 458.5,638.3 459.5,638.3 460.5,638.3 461.5,638.2 462.5,638.2 463.5,638.2 464.5,638.2 465.5,638.1 466.5,638.1 467.5,638.1 468.5,638.1 469.5,638.0 470.5,638.0 471.5,638.0 472.5,637.9 473.5,637.9 474.5,637.9 475.5,637.9 476.5,637.8 477.5,637.8 478.5,637.8 479.5,637.7 480.5,637.7 481.5,637.7 482.5,637.6 483.5,637.6 484.5,637.6 485.5,637.5 486.5,637.5 487.5,637.5 488.5,637.4 489.5,637.4 490.5,637.4 491.5,637.3 492.5,637.3 493.5,637.2 494.5,637.2 495.5,637.2 496.5,637.1 497.5,637.1 498.5,637.1 499.5,637.0 500.5,637.0 501.5,636.9 502.5,636.9 503.5,636.8 504.5,636.7 505.5,636.6 506.5,636.5 507.5,636.4 508.5,636.2 509.5,636.1 510.5,636.0 511.5,635.8 512.5,635.7 513.5,635.5 514.5,635.4 515.5,635.2 516.5,635.0 517.5,634.9 518.5,634.7 519.5,634.6 520.5,634.4 521.5,634.3 522.5,634.1 523.5,633.9 524.5,633.7 525.5,633.5 526.5,633.2 527.5,633.0 528.5,632.7 529.5,632.5 530.5,632.2 531.5,632.0 532.5,631.7 533.5,631.4 534.5,631.1 535.5,630.7 536.5,630.2 537.5,629.7 538.5,629.1 539.5,628.6 540.5,627.9 541.5,627.3 542.5,626.7 543.5,626.0 544.5,625.2 545.5,624.3 546.5,623.3 547.5,622.2 548.5,620.9 549.5,619.6 550.5,618.1 551.5,616.5 552.5,614.7 553.5,612.8 554.5,610.9 555.5,609.0 556.5,607.0 557.5,605.0 558.5,602.9 559.5,600.7 560.5,598.3 561.5,595.9 562.5,593.2 563.5,590.2 564.5,586.6 565.5,582.4 566.5,577.5 567.5,572.6 568.5,567.6 569.5,562.6 570.5,557.7 571.5,553.0 572.5,549.8 573.5,548.1 574.5,546.4 575.5,544.9 576.5,543.6 577.5,542.6 578.5,542.4 579.5,542.1 580.5,540.9 581.5,539.2 582.5,537.4 583.5,535.6 584.5,533.8 585.5,531.9 586.5,529.9 587.5,528.3 588.5,527.6 589.5,528.0 590.5,529.1 591.5,530.8 592.5,533.3 593.5,535.8 594.5,538.5 595.5,541.3 596.5,544.2 597.5,547.3 598.5,550.4 599.5,553.5 600.5,556.5 601.5,559.4 602.5,562.3 603.5,565.2 604.5,567.9 605.5,570.5 606.5,573.0 607.5,575.2 608.5,577.1 609.5,579.1 610.5,581.4 611.5,584.2 612.5,587.2 613.5,589.9 614.5,592.0 615.5,593.9 616.5,595.7 617.5,597.5 618.5,599.4 619.5,601.4 620.5,603.6 621.5,605.8 622.5,608.0 623.5,610.0 624.5,611.9 625.5,613.6 626.5,615.2 627.5,616.7 628.5,618.2 629.5,619.6 630.5,621.0 631.5,622.4 632.5,623.7 633.5,625.1 634.5,626.3 635.5,627.5 636.5,628.5 637.5,629.5 638.5,630.4 639.5,631.2 640.5,631.9 641.5,632.6 642.5,633.1 643.5,633.6 644.5,634.1 645.5,634.6 646.5,635.1 647.5,635.5 648.5,635.9 649.5,636.3 650.5,636.7 651.5,637.0 652.5,637.4 653.5,637.6 654.5,637.9 655.5,638.1 656.5,638.3 657.5,638.5 658.5,638.7 659.5,638.9 660.5,639.1 661.5,639.3 662.5,639.5 663.5,639.6 664.5,639.8 665.5,639.9 666.5,640.0 667.5,640.1 668.5,640.2 669.5,640.3 670.5,640.3 671.5,640.3 672.5,640.4 673.5,640.4 674.5,640.4 675.5,640.5 676.5,640.5 677.5,640.5 678.5,640.5 679.5,640.6 680.5,640.6 681.5,640.6 682.5,640.6 683.5,640.7 684.5,640.7 685.5,640.7 686.5,640.7 687.5,640.8 688.5,640.8 689.5,640.8 690.5,640.9 691.5,640.9 692.5,640.9 693.5,640.9 694.5,641.0 695.5,641.0 696.5,641.0 697.5,641.0 698.5,641.1 699.5,641.1 700.5,641.1 701.5,641.1 702.5,641.1 703.5,641.2 704.5,641.2 705.5,641.2 706.5,641.2 707.5,641.3 708.5,641.3 709.5,641.3 710.5,641.3 711.5,641.3 712.5,641.4 713.5,641.4 714.5,641.4 715.5,641.4 716.5,641.4 717.5,641.5 718.5,641.5 719.5,641.5 720.5,641.5 721.5,641.5 722.5,641.5 723.5,641.6 724.5,641.6 725.5,641.6 726.5,641.6 727.5,641.6 728.5,641.6 729.5,641.7 730.5,641.7 731.5,641.7 732.5,641.7 733.5,641.7 734.5,641.8 735.5,641.8 736.5,641.8 737.5,641.8 738.5,641.8 739.5,641.8 740.5,641.9 741.5,641.9 742.5,641.9 743.5,641.9 744.5,641.9 745.5,642.0 746.5,642.0 747.5,642.0 748.5,642.0 749.5,642.0 750.5,642.0 751.5,642.1 752.5,642.1 753.5,642.1 754.5,642.1 755.5,642.1 756.5,642.1 757.5,642.2 758.5,642.2 759.5,642.2 760.5,642.2 761.5,642.2 762.5,642.2 763.5,642.3 764.5,642.3 765.5,642.3 766.5,642.3 767.5,642.3 768.5,642.3 769.5,642.4 770.5,642.4 771.5,642.4 772.5,642.4 773.5,642.4 774.5,642.4 775.5,642.4 776.5,642.5 777.5,642.5 778.5,642.5 779.5,642.5 780.0,642.5" fill="none" stroke="#f53c3c" stroke-width="2.6" stroke-linejoin="round"/>
<line x1="567.0" y1="447.2" x2="532.8" y2="403.7" stroke="#111" stroke-width="1.6"/>
<polygon points="528.5,398.2 535.3,401.7 530.3,405.7" fill="#111"/>
<line x1="573.6" y1="571.7" x2="525.8" y2="548.4" stroke="#111" stroke-width="1.6"/>
<polygon points="519.5,545.3 527.2,545.5 524.4,551.2" fill="#111"/>
<rect x="817" y="364.5" width="369.5" height="298.0" fill="none" stroke="#555" stroke-width="2.2" stroke-linejoin="round"/>
<path d="M927.7,662.5 v-7 M1038.7,662.5 v-7 M1149.7,662.5 v-7" stroke="#555" stroke-width="1.8" fill="none"/>
<text x="818.00" y="380.40" font-size="15" font-weight="normal" fill="#444" stroke="#444" stroke-width="0.25" textLength="15.26" lengthAdjust="spacingAndGlyphs">(f)</text>
<text x="1150.34" y="381.00" font-size="14.8" font-weight="bold" fill="#111" stroke="#111" stroke-width="0.25" textLength="32.19" lengthAdjust="spacingAndGlyphs">N 1s</text>
<text x="943.72" y="426.00" font-size="13.6" font-weight="bold" fill="#111" stroke="#111" stroke-width="0.25" textLength="25.20" lengthAdjust="spacingAndGlyphs">N-N</text>
<text x="971.36" y="411.30" font-size="13.6" font-weight="bold" fill="#111" stroke="#111" stroke-width="0.25" textLength="24.66" lengthAdjust="spacingAndGlyphs">C-N</text>
<text x="995.12" y="440.20" font-size="13.6" font-weight="bold" fill="#111" stroke="#111" stroke-width="0.25" textLength="23.60" lengthAdjust="spacingAndGlyphs">N-H</text>
<text x="1003.73" y="457.10" font-size="13.6" font-weight="bold" fill="#111" stroke="#111" stroke-width="0.25" textLength="62.74" lengthAdjust="spacingAndGlyphs">399.85 eV</text>
<text x="821.90" y="492.30" font-size="15" font-weight="normal" fill="#444" stroke="#444" stroke-width="0.25" textLength="55.62" lengthAdjust="spacingAndGlyphs">BTC-Ag</text>
<text x="996.03" y="570.70" font-size="13.6" font-weight="bold" fill="#111" stroke="#111" stroke-width="0.25" textLength="63.04" lengthAdjust="spacingAndGlyphs">399.66 eV</text>
<text x="829.10" y="620.20" font-size="15" font-weight="normal" fill="#444" stroke="#444" stroke-width="0.25" textLength="30.83" lengthAdjust="spacingAndGlyphs">BTC</text>
<text x="816.70" y="683.90" font-size="15.5" font-weight="normal" fill="#282828" stroke="#282828" stroke-width="0.25" text-anchor="middle">405</text>
<text x="927.70" y="683.90" font-size="15.5" font-weight="normal" fill="#282828" stroke="#282828" stroke-width="0.25" text-anchor="middle">402</text>
<text x="1038.70" y="683.90" font-size="15.5" font-weight="normal" fill="#282828" stroke="#282828" stroke-width="0.25" text-anchor="middle">399</text>
<text x="1149.70" y="683.90" font-size="15.5" font-weight="normal" fill="#282828" stroke="#282828" stroke-width="0.25" text-anchor="middle">396</text>
<text x="926.74" y="710.50" font-size="17" font-weight="normal" fill="#282828" stroke="#282828" stroke-width="0.25" textLength="149.94" lengthAdjust="spacingAndGlyphs">Binding energy (eV)</text>
<polyline points="818.0,503.9 819.0,504.8 820.0,505.8 821.0,506.2 822.0,506.5 823.0,506.4 824.0,506.1 825.0,505.4 826.0,504.8 827.0,504.6 828.0,504.9 829.0,505.3 830.0,505.7 831.0,505.8 832.0,506.3 833.0,506.7 834.0,506.8 835.0,506.4 836.0,505.9 837.0,505.7 838.0,505.5 839.0,505.2 840.0,505.1 841.0,505.2 842.0,505.5 843.0,505.6 844.0,505.8 845.0,506.3 846.0,506.6 847.0,506.8 848.0,506.5 849.0,506.3 850.0,506.1 851.0,506.0 852.0,506.0 853.0,505.7 854.0,505.2 855.0,504.7 856.0,504.5 857.0,504.4 858.0,504.6 859.0,504.8 860.0,504.9 861.0,504.6 862.0,504.6 863.0,505.0 864.0,506.4 865.0,507.7 866.0,508.2 867.0,507.5 868.0,505.9 869.0,504.4 870.0,503.7 871.0,503.6 872.0,503.3 873.0,502.9 874.0,503.0 875.0,503.1 876.0,503.1 877.0,502.9 878.0,502.7 879.0,502.5 880.0,502.0 881.0,501.7 882.0,501.4 883.0,501.3 884.0,500.8 885.0,500.4 886.0,499.7 887.0,499.1 888.0,498.6 889.0,498.3 890.0,498.0 891.0,497.8 892.0,497.6 893.0,497.1 894.0,496.6 895.0,495.9 896.0,495.4 897.0,494.8 898.0,494.6 899.0,494.2 900.0,493.8 901.0,493.4 902.0,492.8 903.0,492.5 904.0,492.2 905.0,492.2 906.0,490.0 907.0,486.3 908.0,483.5 909.0,483.3 910.0,483.2 911.0,483.6 912.0,483.3 913.0,483.4 914.0,483.1 915.0,482.7 916.0,481.9 917.0,481.2 918.0,480.4 919.0,479.5 920.0,478.9 921.0,477.9 922.0,477.0 923.0,475.6 924.0,474.4 925.0,473.0 926.0,471.7 927.0,470.3 928.0,468.9 929.0,467.1 930.0,465.5 931.0,463.3 932.0,461.3 933.0,459.1 934.0,457.0 935.0,454.8 936.0,452.2 937.0,449.4 938.0,446.9 939.0,444.5 940.0,441.8 941.0,439.2 942.0,436.7 943.0,434.2 944.0,431.3 945.0,428.7 946.0,426.1 947.0,423.3 948.0,420.3 949.0,417.7 950.0,414.9 951.0,412.3 952.0,409.6 953.0,407.4 954.0,405.1 955.0,402.7 956.0,400.4 957.0,398.5 958.0,397.0 959.0,395.2 960.0,393.6 961.0,391.6 962.0,388.5 963.0,384.7 964.0,382.0 965.0,381.3 966.0,381.1 967.0,381.0 968.0,380.4 969.0,379.2 970.0,378.0 971.0,376.7 972.0,375.6 973.0,374.5 974.0,374.0 975.0,373.9 976.0,373.6 977.0,373.3 978.0,373.4 979.0,373.8 980.0,374.2 981.0,374.4 982.0,374.9 983.0,375.6 984.0,376.0 985.0,376.9 986.0,377.7 987.0,378.9 988.0,379.9 989.0,381.2 990.0,382.6 991.0,384.2 992.0,385.8 993.0,387.6 994.0,388.9 995.0,390.5 996.0,391.7 997.0,393.5 998.0,394.8 999.0,396.6 1000.0,397.9 1001.0,399.5 1002.0,401.1 1003.0,403.1 1004.0,404.8 1005.0,406.5 1006.0,408.5 1007.0,410.6 1008.0,412.8 1009.0,415.0 1010.0,416.8 1011.0,418.9 1012.0,421.4 1013.0,423.9 1014.0,426.0 1015.0,427.9 1016.0,430.4 1017.0,432.9 1018.0,435.4 1019.0,438.3 1020.0,440.9 1021.0,443.6 1022.0,445.8 1023.0,448.2 1024.0,450.5 1025.0,452.9 1026.0,455.6 1027.0,458.0 1028.0,460.2 1029.0,462.1 1030.0,464.4 1031.0,466.4 1032.0,468.2 1033.0,469.7 1034.0,471.4 1035.0,473.0 1036.0,474.9 1037.0,476.1 1038.0,477.8 1039.0,479.0 1040.0,480.8 1041.0,482.1 1042.0,483.6 1043.0,485.0 1044.0,486.2 1045.0,486.9 1046.0,487.7 1047.0,488.6 1048.0,489.7 1049.0,490.6 1050.0,492.0 1051.0,493.2 1052.0,494.2 1053.0,494.6 1054.0,495.2 1055.0,495.8 1056.0,496.4 1057.0,497.0 1058.0,497.5 1059.0,497.6 1060.0,497.9 1061.0,498.0 1062.0,498.5 1063.0,499.1 1064.0,499.6 1065.0,500.1 1066.0,500.4 1067.0,501.1 1068.0,501.2 1069.0,501.5 1070.0,501.6 1071.0,502.4 1072.0,503.0 1073.0,503.4 1074.0,503.5 1075.0,503.8 1076.0,504.6 1077.0,504.9 1078.0,505.2 1079.0,505.0 1080.0,505.1 1081.0,505.2 1082.0,505.3 1083.0,505.4 1084.0,505.6 1085.0,506.0 1086.0,506.4 1087.0,506.8 1088.0,507.3 1089.0,507.9 1090.0,508.0 1091.0,507.8 1092.0,507.0 1093.0,506.2 1094.0,505.8 1095.0,505.8 1096.0,506.2 1097.0,506.5 1098.0,506.9 1099.0,507.2 1100.0,507.4 1101.0,507.4 1102.0,507.1 1103.0,507.0 1104.0,506.9 1105.0,506.9 1106.0,506.7 1107.0,506.2 1108.0,505.9 1109.0,505.7 1110.0,505.7 1111.0,505.7 1112.0,505.9 1113.0,506.3 1114.0,507.3 1115.0,507.9 1116.0,508.3 1117.0,508.2 1118.0,508.2 1119.0,508.1 1120.0,507.9 1121.0,507.3 1122.0,506.6 1123.0,506.1 1124.0,506.0 1125.0,506.0 1126.0,505.9 1127.0,505.8 1128.0,506.1 1129.0,506.5 1130.0,506.6 1131.0,506.6 1132.0,506.7 1133.0,506.9 1134.0,506.9 1135.0,507.0 1136.0,506.9 1137.0,506.7 1138.0,506.5 1139.0,506.2 1140.0,505.8 1141.0,505.3 1142.0,505.0 1143.0,504.8 1144.0,504.5 1145.0,504.2 1146.0,504.1 1147.0,504.4 1148.0,504.7 1149.0,505.3 1150.0,505.6 1151.0,505.9 1152.0,506.1 1153.0,506.3 1154.0,506.2 1155.0,506.0 1156.0,505.7 1157.0,505.7 1158.0,505.8 1159.0,506.2 1160.0,506.2 1161.0,506.0 1162.0,505.4 1163.0,505.2 1164.0,505.3 1165.0,505.1 1166.0,505.0 1167.0,504.8 1168.0,504.9 1169.0,505.0 1170.0,504.7 1171.0,504.4 1172.0,503.8 1173.0,503.6 1174.0,503.3 1175.0,503.3 1176.0,503.4 1177.0,503.7 1178.0,504.0 1179.0,504.1 1180.0,504.3 1181.0,504.5 1182.0,505.0 1183.0,505.6 1184.0,506.1 1185.0,506.8" fill="none" stroke="#22c8d4" stroke-width="2.6" stroke-linejoin="round"/>
<polyline points="818.0,502.5 819.0,502.5 820.0,502.5 821.0,502.5 822.0,502.5 823.0,502.5 824.0,502.5 825.0,502.5 826.0,502.5 827.0,502.5 828.0,502.5 829.0,502.5 830.0,502.6 831.0,502.6 832.0,502.6 833.0,502.6 834.0,502.6 835.0,502.6 836.0,502.6 837.0,502.6 838.0,502.6 839.0,502.6 840.0,502.6 841.0,502.6 842.0,502.6 843.0,502.6 844.0,502.6 845.0,502.6 846.0,502.6 847.0,502.6 848.0,502.6 849.0,502.6 850.0,502.6 851.0,502.6 852.0,502.6 853.0,502.6 854.0,502.6 855.0,502.7 856.0,502.7 857.0,502.7 858.0,502.7 859.0,502.7 860.0,502.7 861.0,502.7 862.0,502.7 863.0,502.7 864.0,502.7 865.0,502.7 866.0,502.7 867.0,502.7 868.0,502.7 869.0,502.7 870.0,502.7 871.0,502.7 872.0,502.7 873.0,502.7 874.0,502.7 875.0,502.7 876.0,502.7 877.0,502.7 878.0,502.7 879.0,502.8 880.0,502.8 881.0,502.8 882.0,502.8 883.0,502.8 884.0,502.8 885.0,502.8 886.0,502.8 887.0,502.8 888.0,502.8 889.0,502.8 890.0,502.8 891.0,502.8 892.0,502.8 893.0,502.8 894.0,502.8 895.0,502.8 896.0,502.8 897.0,502.8 898.0,502.8 899.0,502.8 900.0,502.8 901.0,502.8 902.0,502.8 903.0,502.8 904.0,502.9 905.0,502.9 906.0,502.9 907.0,502.9 908.0,502.9 909.0,502.9 910.0,502.9 911.0,502.9 912.0,502.9 913.0,502.9 914.0,502.9 915.0,502.9 916.0,502.9 917.0,502.9 918.0,502.9 919.0,502.9 920.0,502.9 921.0,502.9 922.0,502.9 923.0,502.9 924.0,502.9 925.0,502.9 926.0,502.9 927.0,502.9 928.0,502.9 929.0,503.0 930.0,503.0 931.0,503.0 932.0,503.0 933.0,503.0 934.0,503.0 935.0,503.0 936.0,503.0 937.0,503.0 938.0,503.0 939.0,503.0 940.0,503.0 941.0,503.0 942.0,503.0 943.0,503.0 944.0,503.0 945.0,503.0 946.0,503.0 947.0,503.0 948.0,503.0 949.0,503.0 950.0,503.0 951.0,503.0 952.0,503.0 953.0,503.1 954.0,503.1 955.0,503.1 956.0,503.1 957.0,503.1 958.0,503.1 959.0,503.1 960.0,503.1 961.0,503.1 962.0,503.1 963.0,503.1 964.0,503.1 965.0,503.1 966.0,503.1 967.0,503.1 968.0,503.1 969.0,503.1 970.0,503.1 971.0,503.1 972.0,503.1 973.0,503.1 974.0,503.1 975.0,503.1 976.0,503.1 977.0,503.1 978.0,503.2 979.0,503.2 980.0,503.2 981.0,503.2 982.0,503.2 983.0,503.2 984.0,503.2 985.0,503.2 986.0,503.2 987.0,503.2 988.0,503.2 989.0,503.2 990.0,503.2 991.0,503.2 992.0,503.2 993.0,503.2 994.0,503.2 995.0,503.2 996.0,503.2 997.0,503.2 998.0,503.2 999.0,503.2 1000.0,503.2 1001.0,503.2 1002.0,503.2 1003.0,503.3 1004.0,503.3 1005.0,503.3 1006.0,503.3 1007.0,503.3 1008.0,503.3 1009.0,503.3 1010.0,503.3 1011.0,503.3 1012.0,503.3 1013.0,503.3 1014.0,503.3 1015.0,503.3 1016.0,503.3 1017.0,503.3 1018.0,503.3 1019.0,503.3 1020.0,503.3 1021.0,503.3 1022.0,503.3 1023.0,503.3 1024.0,503.3 1025.0,503.3 1026.0,503.3 1027.0,503.4 1028.0,503.4 1029.0,503.4 1030.0,503.4 1031.0,503.4 1032.0,503.4 1033.0,503.4 1034.0,503.4 1035.0,503.4 1036.0,503.4 1037.0,503.4 1038.0,503.4 1039.0,503.4 1040.0,503.4 1041.0,503.4 1042.0,503.4 1043.0,503.4 1044.0,503.4 1045.0,503.4 1046.0,503.4 1047.0,503.4 1048.0,503.4 1049.0,503.4 1050.0,503.4 1051.0,503.4 1052.0,503.5 1053.0,503.5 1054.0,503.5 1055.0,503.5 1056.0,503.5 1057.0,503.5 1058.0,503.5 1059.0,503.5 1060.0,503.5 1061.0,503.5 1062.0,503.5 1063.0,503.5 1064.0,503.5 1065.0,503.5 1066.0,503.5 1067.0,503.5 1068.0,503.5 1069.0,503.5 1070.0,503.5 1071.0,503.5 1072.0,503.5 1073.0,503.5 1074.0,503.5 1075.0,503.5 1076.0,503.6 1077.0,503.6 1078.0,503.6 1079.0,503.6 1080.0,503.6 1081.0,503.6 1082.0,503.6 1083.0,503.6 1084.0,503.6 1085.0,503.6 1086.0,503.6 1087.0,503.6 1088.0,503.6 1089.0,503.6 1090.0,503.6 1091.0,503.6 1092.0,503.6 1093.0,503.6 1094.0,503.6 1095.0,503.6 1096.0,503.6 1097.0,503.6 1098.0,503.6 1099.0,503.6 1100.0,503.6 1101.0,503.7 1102.0,503.7 1103.0,503.7 1104.0,503.7 1105.0,503.7 1106.0,503.7 1107.0,503.7 1108.0,503.7 1109.0,503.7 1110.0,503.7 1111.0,503.7 1112.0,503.7 1113.0,503.7 1114.0,503.7 1115.0,503.7 1116.0,503.7 1117.0,503.7 1118.0,503.7 1119.0,503.7 1120.0,503.7 1121.0,503.7 1122.0,503.7 1123.0,503.7 1124.0,503.7 1125.0,503.7 1126.0,503.8 1127.0,503.8 1128.0,503.8 1129.0,503.8 1130.0,503.8 1131.0,503.8 1132.0,503.8 1133.0,503.8 1134.0,503.8 1135.0,503.8 1136.0,503.8 1137.0,503.8 1138.0,503.8 1139.0,503.8 1140.0,503.8 1141.0,503.8 1142.0,503.8 1143.0,503.8 1144.0,503.8 1145.0,503.8 1146.0,503.8 1147.0,503.8 1148.0,503.8 1149.0,503.8 1150.0,503.9 1151.0,503.9 1152.0,503.9 1153.0,503.9 1154.0,503.9 1155.0,503.9 1156.0,503.9 1157.0,503.9 1158.0,503.9 1159.0,503.9 1160.0,503.9 1161.0,503.9 1162.0,503.9 1163.0,503.9 1164.0,503.9 1165.0,503.9 1166.0,503.9 1167.0,503.9 1168.0,503.9 1169.0,503.9 1170.0,503.9 1171.0,503.9 1172.0,503.9 1173.0,503.9 1174.0,503.9 1175.0,504.0 1176.0,504.0 1177.0,504.0 1178.0,504.0 1179.0,504.0 1180.0,504.0 1181.0,504.0 1182.0,504.0 1183.0,504.0 1184.0,504.0 1185.0,504.0" fill="none" stroke="#9c9a14" stroke-width="2.4" stroke-linejoin="round"/>
<polyline points="818.0,501.7 819.0,501.7 820.0,501.7 821.0,501.7 822.0,501.7 823.0,501.7 824.0,501.7 825.0,501.7 826.0,501.7 827.0,501.7 828.0,501.7 829.0,501.7 830.0,501.7 831.0,501.7 832.0,501.7 833.0,501.7 834.0,501.7 835.0,501.7 836.0,501.7 837.0,501.7 838.0,501.7 839.0,501.7 840.0,501.7 841.0,501.7 842.0,501.7 843.0,501.7 844.0,501.7 845.0,501.7 846.0,501.6 847.0,501.6 848.0,501.6 849.0,501.6 850.0,501.6 851.0,501.6 852.0,501.6 853.0,501.6 854.0,501.6 855.0,501.6 856.0,501.6 857.0,501.6 858.0,501.6 859.0,501.6 860.0,501.6 861.0,501.6 862.0,501.6 863.0,501.6 864.0,501.6 865.0,501.6 866.0,501.6 867.0,501.6 868.0,501.6 869.0,501.6 870.0,501.6 871.0,501.6 872.0,501.6 873.0,501.6 874.0,501.5 875.0,501.5 876.0,501.5 877.0,501.5 878.0,501.5 879.0,501.5 880.0,501.5 881.0,501.5 882.0,501.5 883.0,501.5 884.0,501.5 885.0,501.5 886.0,501.5 887.0,501.4 888.0,501.4 889.0,501.4 890.0,501.4 891.0,501.4 892.0,501.4 893.0,501.4 894.0,501.4 895.0,501.4 896.0,501.3 897.0,501.3 898.0,501.3 899.0,501.3 900.0,501.3 901.0,501.3 902.0,501.3 903.0,501.2 904.0,501.2 905.0,501.2 906.0,501.2 907.0,501.2 908.0,501.2 909.0,501.1 910.0,501.1 911.0,501.1 912.0,501.1 913.0,501.0 914.0,501.0 915.0,501.0 916.0,501.0 917.0,500.9 918.0,500.9 919.0,500.9 920.0,500.9 921.0,500.8 922.0,500.8 923.0,500.8 924.0,500.7 925.0,500.7 926.0,500.7 927.0,500.6 928.0,500.6 929.0,500.5 930.0,500.5 931.0,500.4 932.0,500.4 933.0,500.3 934.0,500.3 935.0,500.2 936.0,500.2 937.0,500.1 938.0,500.1 939.0,500.0 940.0,499.9 941.0,499.9 942.0,499.8 943.0,499.7 944.0,499.6 945.0,499.6 946.0,499.5 947.0,499.4 948.0,499.3 949.0,499.2 950.0,499.1 951.0,499.0 952.0,498.8 953.0,498.7 954.0,498.6 955.0,498.5 956.0,498.3 957.0,498.1 958.0,498.0 959.0,497.8 960.0,497.6 961.0,497.4 962.0,497.2 963.0,496.9 964.0,496.7 965.0,496.4 966.0,496.1 967.0,495.8 968.0,495.4 969.0,495.0 970.0,494.6 971.0,494.2 972.0,493.7 973.0,493.1 974.0,492.5 975.0,491.9 976.0,491.2 977.0,490.4 978.0,489.6 979.0,488.7 980.0,487.7 981.0,486.6 982.0,485.4 983.0,484.2 984.0,482.9 985.0,481.4 986.0,479.9 987.0,478.3 988.0,476.5 989.0,474.7 990.0,472.8 991.0,470.8 992.0,468.7 993.0,466.5 994.0,464.3 995.0,462.0 996.0,459.6 997.0,457.3 998.0,455.0 999.0,452.7 1000.0,450.6 1001.0,448.6 1002.0,446.7 1003.0,445.1 1004.0,443.8 1005.0,442.8 1006.0,442.1 1007.0,441.8 1008.0,441.9 1009.0,442.3 1010.0,443.2 1011.0,444.3 1012.0,445.8 1013.0,447.5 1014.0,449.4 1015.0,451.5 1016.0,453.7 1017.0,456.0 1018.0,458.3 1019.0,460.7 1020.0,463.0 1021.0,465.3 1022.0,467.5 1023.0,469.7 1024.0,471.7 1025.0,473.7 1026.0,475.6 1027.0,477.4 1028.0,479.1 1029.0,480.7 1030.0,482.2 1031.0,483.6 1032.0,484.9 1033.0,486.1 1034.0,487.3 1035.0,488.3 1036.0,489.3 1037.0,490.1 1038.0,491.0 1039.0,491.7 1040.0,492.4 1041.0,493.0 1042.0,493.6 1043.0,494.2 1044.0,494.7 1045.0,495.1 1046.0,495.5 1047.0,495.9 1048.0,496.2 1049.0,496.6 1050.0,496.9 1051.0,497.1 1052.0,497.4 1053.0,497.6 1054.0,497.9 1055.0,498.1 1056.0,498.3 1057.0,498.5 1058.0,498.6 1059.0,498.8 1060.0,498.9 1061.0,499.1 1062.0,499.2 1063.0,499.3 1064.0,499.5 1065.0,499.6 1066.0,499.7 1067.0,499.8 1068.0,499.9 1069.0,500.0 1070.0,500.1 1071.0,500.2 1072.0,500.3 1073.0,500.4 1074.0,500.4 1075.0,500.5 1076.0,500.6 1077.0,500.7 1078.0,500.7 1079.0,500.8 1080.0,500.9 1081.0,500.9 1082.0,501.0 1083.0,501.0 1084.0,501.1 1085.0,501.1 1086.0,501.2 1087.0,501.2 1088.0,501.3 1089.0,501.3 1090.0,501.4 1091.0,501.4 1092.0,501.5 1093.0,501.5 1094.0,501.5 1095.0,501.6 1096.0,501.6 1097.0,501.7 1098.0,501.7 1099.0,501.7 1100.0,501.8 1101.0,501.8 1102.0,501.8 1103.0,501.9 1104.0,501.9 1105.0,501.9 1106.0,501.9 1107.0,502.0 1108.0,502.0 1109.0,502.0 1110.0,502.0 1111.0,502.1 1112.0,502.1 1113.0,502.1 1114.0,502.1 1115.0,502.2 1116.0,502.2 1117.0,502.2 1118.0,502.2 1119.0,502.3 1120.0,502.3 1121.0,502.3 1122.0,502.3 1123.0,502.3 1124.0,502.4 1125.0,502.4 1126.0,502.4 1127.0,502.4 1128.0,502.4 1129.0,502.4 1130.0,502.5 1131.0,502.5 1132.0,502.5 1133.0,502.5 1134.0,502.5 1135.0,502.5 1136.0,502.6 1137.0,502.6 1138.0,502.6 1139.0,502.6 1140.0,502.6 1141.0,502.6 1142.0,502.6 1143.0,502.7 1144.0,502.7 1145.0,502.7 1146.0,502.7 1147.0,502.7 1148.0,502.7 1149.0,502.7 1150.0,502.8 1151.0,502.8 1152.0,502.8 1153.0,502.8 1154.0,502.8 1155.0,502.8 1156.0,502.8 1157.0,502.8 1158.0,502.8 1159.0,502.9 1160.0,502.9 1161.0,502.9 1162.0,502.9 1163.0,502.9 1164.0,502.9 1165.0,502.9 1166.0,502.9 1167.0,502.9 1168.0,503.0 1169.0,503.0 1170.0,503.0 1171.0,503.0 1172.0,503.0 1173.0,503.0 1174.0,503.0 1175.0,503.0 1176.0,503.0 1177.0,503.0 1178.0,503.0 1179.0,503.1 1180.0,503.1 1181.0,503.1 1182.0,503.1 1183.0,503.1 1184.0,503.1 1185.0,503.1" fill="none" stroke="#64a6e2" stroke-width="2.6" stroke-linejoin="round"/>
<polyline points="818.0,501.6 819.0,501.6 820.0,501.6 821.0,501.6 822.0,501.6 823.0,501.6 824.0,501.6 825.0,501.6 826.0,501.6 827.0,501.6 828.0,501.6 829.0,501.6 830.0,501.6 831.0,501.6 832.0,501.6 833.0,501.6 834.0,501.6 835.0,501.6 836.0,501.6 837.0,501.6 838.0,501.6 839.0,501.6 840.0,501.6 841.0,501.6 842.0,501.6 843.0,501.6 844.0,501.6 845.0,501.5 846.0,501.5 847.0,501.5 848.0,501.5 849.0,501.5 850.0,501.5 851.0,501.5 852.0,501.5 853.0,501.5 854.0,501.5 855.0,501.5 856.0,501.5 857.0,501.5 858.0,501.5 859.0,501.5 860.0,501.5 861.0,501.5 862.0,501.4 863.0,501.4 864.0,501.4 865.0,501.4 866.0,501.4 867.0,501.4 868.0,501.4 869.0,501.4 870.0,501.4 871.0,501.4 872.0,501.4 873.0,501.3 874.0,501.3 875.0,501.3 876.0,501.3 877.0,501.3 878.0,501.3 879.0,501.3 880.0,501.2 881.0,501.2 882.0,501.2 883.0,501.2 884.0,501.2 885.0,501.2 886.0,501.1 887.0,501.1 888.0,501.1 889.0,501.1 890.0,501.1 891.0,501.0 892.0,501.0 893.0,501.0 894.0,501.0 895.0,500.9 896.0,500.9 897.0,500.9 898.0,500.8 899.0,500.8 900.0,500.8 901.0,500.8 902.0,500.7 903.0,500.7 904.0,500.6 905.0,500.6 906.0,500.6 907.0,500.5 908.0,500.5 909.0,500.4 910.0,500.4 911.0,500.3 912.0,500.3 913.0,500.2 914.0,500.2 915.0,500.1 916.0,500.0 917.0,500.0 918.0,499.9 919.0,499.8 920.0,499.8 921.0,499.7 922.0,499.6 923.0,499.5 924.0,499.4 925.0,499.3 926.0,499.2 927.0,499.1 928.0,499.0 929.0,498.9 930.0,498.7 931.0,498.6 932.0,498.5 933.0,498.3 934.0,498.2 935.0,498.0 936.0,497.8 937.0,497.6 938.0,497.4 939.0,497.2 940.0,497.0 941.0,496.7 942.0,496.4 943.0,496.1 944.0,495.8 945.0,495.5 946.0,495.1 947.0,494.7 948.0,494.2 949.0,493.7 950.0,493.1 951.0,492.5 952.0,491.8 953.0,491.0 954.0,490.2 955.0,489.2 956.0,488.2 957.0,487.0 958.0,485.6 959.0,484.1 960.0,482.5 961.0,480.7 962.0,478.7 963.0,476.5 964.0,474.1 965.0,471.5 966.0,468.6 967.0,465.6 968.0,462.3 969.0,458.9 970.0,455.2 971.0,451.4 972.0,447.4 973.0,443.4 974.0,439.4 975.0,435.4 976.0,431.6 977.0,428.0 978.0,424.9 979.0,422.3 980.0,420.3 981.0,419.1 982.0,418.7 983.0,419.1 984.0,420.3 985.0,422.3 986.0,424.9 987.0,428.1 988.0,431.6 989.0,435.4 990.0,439.4 991.0,443.5 992.0,447.5 993.0,451.5 994.0,455.3 995.0,459.0 996.0,462.4 997.0,465.7 998.0,468.8 999.0,471.6 1000.0,474.2 1001.0,476.6 1002.0,478.8 1003.0,480.9 1004.0,482.7 1005.0,484.3 1006.0,485.8 1007.0,487.2 1008.0,488.4 1009.0,489.4 1010.0,490.4 1011.0,491.3 1012.0,492.1 1013.0,492.8 1014.0,493.4 1015.0,494.0 1016.0,494.5 1017.0,495.0 1018.0,495.4 1019.0,495.8 1020.0,496.1 1021.0,496.5 1022.0,496.8 1023.0,497.0 1024.0,497.3 1025.0,497.5 1026.0,497.8 1027.0,498.0 1028.0,498.2 1029.0,498.4 1030.0,498.5 1031.0,498.7 1032.0,498.9 1033.0,499.0 1034.0,499.2 1035.0,499.3 1036.0,499.4 1037.0,499.6 1038.0,499.7 1039.0,499.8 1040.0,499.9 1041.0,500.0 1042.0,500.1 1043.0,500.2 1044.0,500.3 1045.0,500.3 1046.0,500.4 1047.0,500.5 1048.0,500.6 1049.0,500.6 1050.0,500.7 1051.0,500.8 1052.0,500.8 1053.0,500.9 1054.0,501.0 1055.0,501.0 1056.0,501.1 1057.0,501.1 1058.0,501.2 1059.0,501.2 1060.0,501.3 1061.0,501.3 1062.0,501.4 1063.0,501.4 1064.0,501.4 1065.0,501.5 1066.0,501.5 1067.0,501.6 1068.0,501.6 1069.0,501.6 1070.0,501.7 1071.0,501.7 1072.0,501.7 1073.0,501.8 1074.0,501.8 1075.0,501.8 1076.0,501.9 1077.0,501.9 1078.0,501.9 1079.0,501.9 1080.0,502.0 1081.0,502.0 1082.0,502.0 1083.0,502.0 1084.0,502.1 1085.0,502.1 1086.0,502.1 1087.0,502.1 1088.0,502.2 1089.0,502.2 1090.0,502.2 1091.0,502.2 1092.0,502.2 1093.0,502.3 1094.0,502.3 1095.0,502.3 1096.0,502.3 1097.0,502.3 1098.0,502.4 1099.0,502.4 1100.0,502.4 1101.0,502.4 1102.0,502.4 1103.0,502.4 1104.0,502.5 1105.0,502.5 1106.0,502.5 1107.0,502.5 1108.0,502.5 1109.0,502.5 1110.0,502.5 1111.0,502.6 1112.0,502.6 1113.0,502.6 1114.0,502.6 1115.0,502.6 1116.0,502.6 1117.0,502.6 1118.0,502.6 1119.0,502.7 1120.0,502.7 1121.0,502.7 1122.0,502.7 1123.0,502.7 1124.0,502.7 1125.0,502.7 1126.0,502.7 1127.0,502.8 1128.0,502.8 1129.0,502.8 1130.0,502.8 1131.0,502.8 1132.0,502.8 1133.0,502.8 1134.0,502.8 1135.0,502.8 1136.0,502.8 1137.0,502.9 1138.0,502.9 1139.0,502.9 1140.0,502.9 1141.0,502.9 1142.0,502.9 1143.0,502.9 1144.0,502.9 1145.0,502.9 1146.0,502.9 1147.0,502.9 1148.0,503.0 1149.0,503.0 1150.0,503.0 1151.0,503.0 1152.0,503.0 1153.0,503.0 1154.0,503.0 1155.0,503.0 1156.0,503.0 1157.0,503.0 1158.0,503.0 1159.0,503.0 1160.0,503.1 1161.0,503.1 1162.0,503.1 1163.0,503.1 1164.0,503.1 1165.0,503.1 1166.0,503.1 1167.0,503.1 1168.0,503.1 1169.0,503.1 1170.0,503.1 1171.0,503.1 1172.0,503.1 1173.0,503.2 1174.0,503.2 1175.0,503.2 1176.0,503.2 1177.0,503.2 1178.0,503.2 1179.0,503.2 1180.0,503.2 1181.0,503.2 1182.0,503.2 1183.0,503.2 1184.0,503.2 1185.0,503.2" fill="none" stroke="#ff6a1a" stroke-width="2.6" stroke-linejoin="round"/>
<polyline points="818.0,501.1 819.0,501.1 820.0,501.1 821.0,501.1 822.0,501.0 823.0,501.0 824.0,501.0 825.0,501.0 826.0,501.0 827.0,501.0 828.0,501.0 829.0,501.0 830.0,501.0 831.0,500.9 832.0,500.9 833.0,500.9 834.0,500.9 835.0,500.9 836.0,500.9 837.0,500.9 838.0,500.8 839.0,500.8 840.0,500.8 841.0,500.8 842.0,500.8 843.0,500.7 844.0,500.7 845.0,500.7 846.0,500.7 847.0,500.7 848.0,500.6 849.0,500.6 850.0,500.6 851.0,500.6 852.0,500.5 853.0,500.5 854.0,500.5 855.0,500.5 856.0,500.4 857.0,500.4 858.0,500.4 859.0,500.3 860.0,500.3 861.0,500.3 862.0,500.2 863.0,500.2 864.0,500.2 865.0,500.1 866.0,500.1 867.0,500.1 868.0,500.0 869.0,500.0 870.0,499.9 871.0,499.9 872.0,499.8 873.0,499.8 874.0,499.7 875.0,499.7 876.0,499.6 877.0,499.6 878.0,499.5 879.0,499.4 880.0,499.4 881.0,499.3 882.0,499.2 883.0,499.1 884.0,499.1 885.0,499.0 886.0,498.9 887.0,498.8 888.0,498.7 889.0,498.6 890.0,498.5 891.0,498.4 892.0,498.3 893.0,498.2 894.0,498.1 895.0,498.0 896.0,497.8 897.0,497.7 898.0,497.5 899.0,497.4 900.0,497.2 901.0,497.1 902.0,496.9 903.0,496.7 904.0,496.5 905.0,496.2 906.0,496.0 907.0,495.8 908.0,495.5 909.0,495.2 910.0,494.9 911.0,494.6 912.0,494.2 913.0,493.8 914.0,493.4 915.0,493.0 916.0,492.5 917.0,491.9 918.0,491.4 919.0,490.8 920.0,490.1 921.0,489.4 922.0,488.6 923.0,487.8 924.0,486.9 925.0,485.9 926.0,484.9 927.0,483.8 928.0,482.6 929.0,481.3 930.0,479.9 931.0,478.5 932.0,476.9 933.0,475.3 934.0,473.6 935.0,471.7 936.0,469.8 937.0,467.8 938.0,465.7 939.0,463.6 940.0,461.3 941.0,459.0 942.0,456.6 943.0,454.2 944.0,451.8 945.0,449.4 946.0,447.0 947.0,444.6 948.0,442.4 949.0,440.2 950.0,438.2 951.0,436.4 952.0,434.9 953.0,433.6 954.0,432.6 955.0,431.9 956.0,431.6 957.0,431.6 958.0,432.0 959.0,432.8 960.0,433.8 961.0,435.2 962.0,436.8 963.0,438.7 964.0,440.7 965.0,442.9 966.0,445.2 967.0,447.5 968.0,450.0 969.0,452.4 970.0,454.8 971.0,457.2 972.0,459.6 973.0,461.9 974.0,464.1 975.0,466.3 976.0,468.4 977.0,470.4 978.0,472.3 979.0,474.1 980.0,475.8 981.0,477.4 982.0,479.0 983.0,480.4 984.0,481.8 985.0,483.0 986.0,484.2 987.0,485.3 988.0,486.4 989.0,487.3 990.0,488.2 991.0,489.1 992.0,489.8 993.0,490.5 994.0,491.2 995.0,491.8 996.0,492.4 997.0,492.9 998.0,493.4 999.0,493.8 1000.0,494.3 1001.0,494.6 1002.0,495.0 1003.0,495.3 1004.0,495.7 1005.0,495.9 1006.0,496.2 1007.0,496.5 1008.0,496.7 1009.0,496.9 1010.0,497.1 1011.0,497.3 1012.0,497.5 1013.0,497.7 1014.0,497.9 1015.0,498.0 1016.0,498.2 1017.0,498.3 1018.0,498.5 1019.0,498.6 1020.0,498.7 1021.0,498.9 1022.0,499.0 1023.0,499.1 1024.0,499.2 1025.0,499.3 1026.0,499.4 1027.0,499.5 1028.0,499.6 1029.0,499.7 1030.0,499.8 1031.0,499.8 1032.0,499.9 1033.0,500.0 1034.0,500.1 1035.0,500.1 1036.0,500.2 1037.0,500.3 1038.0,500.3 1039.0,500.4 1040.0,500.5 1041.0,500.5 1042.0,500.6 1043.0,500.6 1044.0,500.7 1045.0,500.7 1046.0,500.8 1047.0,500.8 1048.0,500.9 1049.0,500.9 1050.0,501.0 1051.0,501.0 1052.0,501.1 1053.0,501.1 1054.0,501.1 1055.0,501.2 1056.0,501.2 1057.0,501.3 1058.0,501.3 1059.0,501.3 1060.0,501.4 1061.0,501.4 1062.0,501.4 1063.0,501.5 1064.0,501.5 1065.0,501.5 1066.0,501.6 1067.0,501.6 1068.0,501.6 1069.0,501.6 1070.0,501.7 1071.0,501.7 1072.0,501.7 1073.0,501.8 1074.0,501.8 1075.0,501.8 1076.0,501.8 1077.0,501.9 1078.0,501.9 1079.0,501.9 1080.0,501.9 1081.0,501.9 1082.0,502.0 1083.0,502.0 1084.0,502.0 1085.0,502.0 1086.0,502.0 1087.0,502.1 1088.0,502.1 1089.0,502.1 1090.0,502.1 1091.0,502.1 1092.0,502.2 1093.0,502.2 1094.0,502.2 1095.0,502.2 1096.0,502.2 1097.0,502.2 1098.0,502.3 1099.0,502.3 1100.0,502.3 1101.0,502.3 1102.0,502.3 1103.0,502.3 1104.0,502.4 1105.0,502.4 1106.0,502.4 1107.0,502.4 1108.0,502.4 1109.0,502.4 1110.0,502.4 1111.0,502.5 1112.0,502.5 1113.0,502.5 1114.0,502.5 1115.0,502.5 1116.0,502.5 1117.0,502.5 1118.0,502.5 1119.0,502.6 1120.0,502.6 1121.0,502.6 1122.0,502.6 1123.0,502.6 1124.0,502.6 1125.0,502.6 1126.0,502.6 1127.0,502.6 1128.0,502.7 1129.0,502.7 1130.0,502.7 1131.0,502.7 1132.0,502.7 1133.0,502.7 1134.0,502.7 1135.0,502.7 1136.0,502.7 1137.0,502.8 1138.0,502.8 1139.0,502.8 1140.0,502.8 1141.0,502.8 1142.0,502.8 1143.0,502.8 1144.0,502.8 1145.0,502.8 1146.0,502.8 1147.0,502.8 1148.0,502.9 1149.0,502.9 1150.0,502.9 1151.0,502.9 1152.0,502.9 1153.0,502.9 1154.0,502.9 1155.0,502.9 1156.0,502.9 1157.0,502.9 1158.0,502.9 1159.0,503.0 1160.0,503.0 1161.0,503.0 1162.0,503.0 1163.0,503.0 1164.0,503.0 1165.0,503.0 1166.0,503.0 1167.0,503.0 1168.0,503.0 1169.0,503.0 1170.0,503.0 1171.0,503.0 1172.0,503.1 1173.0,503.1 1174.0,503.1 1175.0,503.1 1176.0,503.1 1177.0,503.1 1178.0,503.1 1179.0,503.1 1180.0,503.1 1181.0,503.1 1182.0,503.1 1183.0,503.1 1184.0,503.1 1185.0,503.2" fill="none" stroke="#6ccc22" stroke-width="2.6" stroke-linejoin="round"/>
<polyline points="818.0,499.0 819.0,499.0 820.0,499.0 821.0,499.0 822.0,499.0 823.0,498.9 824.0,498.9 825.0,498.9 826.0,498.9 827.0,498.9 828.0,498.9 829.0,498.9 830.0,498.9 831.0,498.8 832.0,498.8 833.0,498.8 834.0,498.8 835.0,498.8 836.0,498.8 837.0,498.7 838.0,498.7 839.0,498.7 840.0,498.7 841.0,498.7 842.0,498.7 843.0,498.6 844.0,498.6 845.0,498.6 846.0,498.6 847.0,498.6 848.0,498.5 849.0,498.5 850.0,498.5 851.0,498.5 852.0,498.5 853.0,498.4 854.0,498.4 855.0,498.4 856.0,498.4 857.0,498.3 858.0,498.3 859.0,498.3 860.0,498.3 861.0,498.2 862.0,498.2 863.0,498.2 864.0,498.1 865.0,498.1 866.0,498.1 867.0,498.0 868.0,498.0 869.0,498.0 870.0,497.9 871.0,497.9 872.0,497.9 873.0,497.9 874.0,497.8 875.0,497.8 876.0,497.8 877.0,497.7 878.0,497.7 879.0,497.6 880.0,497.6 881.0,497.5 882.0,497.5 883.0,497.4 884.0,497.4 885.0,497.3 886.0,497.2 887.0,497.2 888.0,497.0 889.0,496.9 890.0,496.7 891.0,496.5 892.0,496.3 893.0,496.0 894.0,495.8 895.0,495.5 896.0,495.2 897.0,494.9 898.0,494.6 899.0,494.3 900.0,493.9 901.0,493.5 902.0,493.1 903.0,492.6 904.0,492.1 905.0,491.6 906.0,491.0 907.0,490.4 908.0,489.8 909.0,489.2 910.0,488.6 911.0,487.9 912.0,487.1 913.0,486.2 914.0,485.3 915.0,484.3 916.0,483.3 917.0,482.2 918.0,481.0 919.0,479.8 920.0,478.6 921.0,477.3 922.0,476.0 923.0,474.6 924.0,473.1 925.0,471.5 926.0,469.9 927.0,468.1 928.0,466.3 929.0,464.4 930.0,462.3 931.0,460.2 932.0,457.9 933.0,455.5 934.0,452.9 935.0,450.2 936.0,447.3 937.0,444.5 938.0,441.8 939.0,439.2 940.0,436.8 941.0,434.5 942.0,432.2 943.0,429.9 944.0,427.6 945.0,425.3 946.0,423.0 947.0,420.6 948.0,418.3 949.0,416.0 950.0,413.7 951.0,411.4 952.0,409.2 953.0,406.9 954.0,404.7 955.0,402.5 956.0,400.4 957.0,398.7 958.0,397.4 959.0,396.3 960.0,395.4 961.0,394.5 962.0,393.6 963.0,392.8 964.0,392.1 965.0,391.4 966.0,390.7 967.0,389.7 968.0,388.5 969.0,387.0 970.0,385.3 971.0,383.5 972.0,381.6 973.0,379.8 974.0,378.2 975.0,376.7 976.0,375.0 977.0,373.5 978.0,372.1 979.0,371.2 980.0,370.9 981.0,371.4 982.0,372.6 983.0,373.9 984.0,375.5 985.0,377.1 986.0,378.8 987.0,380.6 988.0,382.3 989.0,384.1 990.0,385.8 991.0,387.6 992.0,389.4 993.0,391.2 994.0,393.0 995.0,394.7 996.0,396.5 997.0,398.2 998.0,399.8 999.0,401.1 1000.0,402.1 1001.0,403.0 1002.0,403.8 1003.0,404.6 1004.0,405.5 1005.0,406.6 1006.0,408.0 1007.0,409.7 1008.0,411.7 1009.0,413.8 1010.0,416.2 1011.0,418.6 1012.0,421.2 1013.0,423.9 1014.0,426.7 1015.0,429.6 1016.0,432.6 1017.0,435.7 1018.0,438.7 1019.0,441.8 1020.0,444.7 1021.0,447.6 1022.0,450.3 1023.0,452.9 1024.0,455.4 1025.0,457.7 1026.0,459.9 1027.0,462.0 1028.0,463.9 1029.0,465.8 1030.0,467.5 1031.0,469.2 1032.0,470.8 1033.0,472.4 1034.0,473.9 1035.0,475.4 1036.0,476.8 1037.0,478.2 1038.0,479.5 1039.0,480.8 1040.0,482.0 1041.0,483.2 1042.0,484.3 1043.0,485.3 1044.0,486.3 1045.0,487.3 1046.0,488.1 1047.0,488.9 1048.0,489.7 1049.0,490.3 1050.0,491.0 1051.0,491.6 1052.0,492.2 1053.0,492.8 1054.0,493.3 1055.0,493.7 1056.0,494.1 1057.0,494.5 1058.0,494.8 1059.0,495.2 1060.0,495.5 1061.0,495.8 1062.0,496.1 1063.0,496.4 1064.0,496.7 1065.0,496.9 1066.0,497.1 1067.0,497.3 1068.0,497.5 1069.0,497.7 1070.0,497.9 1071.0,498.0 1072.0,498.2 1073.0,498.4 1074.0,498.5 1075.0,498.7 1076.0,498.8 1077.0,499.0 1078.0,499.1 1079.0,499.3 1080.0,499.4 1081.0,499.5 1082.0,499.7 1083.0,499.8 1084.0,499.9 1085.0,500.0 1086.0,500.1 1087.0,500.2 1088.0,500.3 1089.0,500.4 1090.0,500.5 1091.0,500.6 1092.0,500.7 1093.0,500.8 1094.0,500.9 1095.0,501.0 1096.0,501.1 1097.0,501.2 1098.0,501.2 1099.0,501.3 1100.0,501.4 1101.0,501.4 1102.0,501.5 1103.0,501.5 1104.0,501.6 1105.0,501.6 1106.0,501.6 1107.0,501.7 1108.0,501.7 1109.0,501.8 1110.0,501.8 1111.0,501.8 1112.0,501.9 1113.0,501.9 1114.0,502.0 1115.0,502.0 1116.0,502.0 1117.0,502.1 1118.0,502.1 1119.0,502.1 1120.0,502.2 1121.0,502.2 1122.0,502.2 1123.0,502.3 1124.0,502.3 1125.0,502.4 1126.0,502.4 1127.0,502.4 1128.0,502.4 1129.0,502.5 1130.0,502.5 1131.0,502.5 1132.0,502.6 1133.0,502.6 1134.0,502.6 1135.0,502.7 1136.0,502.7 1137.0,502.7 1138.0,502.7 1139.0,502.8 1140.0,502.8 1141.0,502.8 1142.0,502.9 1143.0,502.9 1144.0,502.9 1145.0,502.9 1146.0,503.0 1147.0,503.0 1148.0,503.0 1149.0,503.0 1150.0,503.1 1151.0,503.1 1152.0,503.1 1153.0,503.1 1154.0,503.2 1155.0,503.2 1156.0,503.2 1157.0,503.2 1158.0,503.3 1159.0,503.3 1160.0,503.3 1161.0,503.4 1162.0,503.4 1163.0,503.4 1164.0,503.4 1165.0,503.5 1166.0,503.5 1167.0,503.5 1168.0,503.5 1169.0,503.5 1170.0,503.6 1171.0,503.6 1172.0,503.6 1173.0,503.6 1174.0,503.7 1175.0,503.7 1176.0,503.7 1177.0,503.7 1178.0,503.8 1179.0,503.8 1180.0,503.8 1181.0,503.8 1182.0,503.8 1183.0,503.9 1184.0,503.9 1185.0,503.9" fill="none" stroke="#8a5454" stroke-width="2.2" stroke-linejoin="round"/>
<polyline points="818.0,629.0 819.0,629.0 820.0,629.0 821.0,629.0 822.0,629.0 823.0,629.0 824.0,629.0 825.0,629.0 826.0,629.0 827.0,629.0 828.0,629.0 829.0,629.0 830.0,629.0 831.0,629.0 832.0,629.0 833.0,629.0 834.0,629.0 835.0,629.0 836.0,629.0 837.0,629.0 838.0,629.0 839.0,629.0 840.0,629.0 841.0,629.0 842.0,629.0 843.0,629.0 844.0,629.0 845.0,629.0 846.0,629.0 847.0,629.0 848.0,629.0 849.0,629.0 850.0,629.0 851.0,629.0 852.0,629.0 853.0,629.0 854.0,629.0 855.0,629.0 856.0,629.0 857.0,629.0 858.0,629.0 859.0,629.0 860.0,629.0 861.0,629.0 862.0,629.0 863.0,629.0 864.0,629.0 865.0,629.0 866.0,629.0 867.0,629.0 868.0,629.0 869.0,629.0 870.0,629.0 871.0,629.0 872.0,629.0 873.0,629.0 874.0,629.0 875.0,629.0 876.0,629.0 877.0,629.0 878.0,629.0 879.0,629.0 880.0,629.0 881.0,629.0 882.0,629.0 883.0,629.0 884.0,629.0 885.0,629.0 886.0,629.0 887.0,629.0 888.0,629.0 889.0,629.0 890.0,629.0 891.0,629.0 892.0,629.0 893.0,629.0 894.0,629.0 895.0,629.0 896.0,629.0 897.0,629.0 898.0,629.0 899.0,629.0 900.0,629.0 901.0,629.0 902.0,629.0 903.0,629.0 904.0,629.0 905.0,629.0 906.0,629.0 907.0,629.0 908.0,629.0 909.0,629.0 910.0,629.0 911.0,629.0 912.0,629.0 913.0,629.0 914.0,629.0 915.0,629.0 916.0,629.0 917.0,629.0 918.0,629.0 919.0,629.0 920.0,629.0 921.0,629.0 922.0,629.0 923.0,629.0 924.0,629.0 925.0,629.0 926.0,629.0 927.0,629.0 928.0,629.0 929.0,629.0 930.0,629.0 931.0,629.0 932.0,629.0 933.0,629.0 934.0,629.0 935.0,629.0 936.0,629.0 937.0,629.0 938.0,629.0 939.0,629.0 940.0,629.0 941.0,629.0 942.0,629.0 943.0,629.0 944.0,629.0 945.0,629.0 946.0,629.0 947.0,629.0 948.0,629.0 949.0,629.0 950.0,629.0 951.0,629.0 952.0,629.0 953.0,629.0 954.0,629.0 955.0,629.0 956.0,629.0 957.0,629.0 958.0,629.0 959.0,629.0 960.0,629.0 961.0,629.0 962.0,629.0 963.0,629.0 964.0,629.0 965.0,629.0 966.0,629.0 967.0,629.0 968.0,629.0 969.0,629.0 970.0,629.0 971.0,629.0 972.0,629.0 973.0,629.0 974.0,629.0 975.0,629.0 976.0,629.0 977.0,629.0 978.0,629.0 979.0,629.0 980.0,629.0 981.0,629.0 982.0,629.0 983.0,629.0 984.0,629.0 985.0,629.0 986.0,629.0 987.0,629.0 988.0,629.0 989.0,629.0 990.0,629.0 991.0,629.0 992.0,629.0 993.0,629.0 994.0,629.0 995.0,629.0 996.0,629.0 997.0,629.0 998.0,629.0 999.0,629.0 1000.0,629.0 1001.0,629.0 1002.0,629.0 1003.0,629.0 1004.0,629.0 1005.0,629.0 1006.0,629.0 1007.0,629.0 1008.0,629.0 1009.0,629.0 1010.0,629.0 1011.0,629.0 1012.0,629.0 1013.0,629.0 1014.0,629.0 1015.0,629.0 1016.0,629.0 1017.0,629.0 1018.0,629.0 1019.0,629.0 1020.0,629.0 1021.0,629.0 1022.0,629.0 1023.0,629.0 1024.0,629.0 1025.0,629.0 1026.0,629.0 1027.0,629.0 1028.0,629.0 1029.0,629.0 1030.0,629.0 1031.0,629.0 1032.0,629.0 1033.0,629.0 1034.0,629.0 1035.0,629.0 1036.0,629.0 1037.0,629.0 1038.0,629.0 1039.0,629.0 1040.0,629.0 1041.0,629.0 1042.0,629.0 1043.0,629.0 1044.0,629.0 1045.0,629.0 1046.0,629.0 1047.0,629.0 1048.0,629.0 1049.0,629.0 1050.0,629.0 1051.0,629.0 1052.0,629.0 1053.0,629.0 1054.0,629.0 1055.0,629.0 1056.0,629.0 1057.0,629.0 1058.0,629.0 1059.0,629.0 1060.0,629.0 1061.0,629.0 1062.0,629.0 1063.0,629.0 1064.0,629.0 1065.0,629.0 1066.0,629.0 1067.0,629.0 1068.0,629.0 1069.0,629.0 1070.0,629.0 1071.0,629.0 1072.0,629.0 1073.0,629.0 1074.0,629.0 1075.0,629.0 1076.0,629.0 1077.0,629.0 1078.0,629.0 1079.0,629.0 1080.0,629.0 1081.0,629.0 1082.0,629.0 1083.0,629.0 1084.0,629.0 1085.0,629.0 1086.0,629.0 1087.0,629.0 1088.0,629.0 1089.0,629.0 1090.0,629.0 1091.0,629.0 1092.0,629.0 1093.0,629.0 1094.0,629.0 1095.0,629.0 1096.0,629.0 1097.0,629.0 1098.0,629.0 1099.0,629.0 1100.0,629.0 1101.0,629.0 1102.0,629.0 1103.0,629.0 1104.0,629.0 1105.0,629.0 1106.0,629.0 1107.0,629.0 1108.0,629.0 1109.0,629.0 1110.0,629.0 1111.0,629.0 1112.0,629.0 1113.0,629.0 1114.0,629.0 1115.0,629.0 1116.0,629.0 1117.0,629.0 1118.0,629.0 1119.0,629.0 1120.0,629.0 1121.0,629.0 1122.0,629.0 1123.0,629.0 1124.0,629.0 1125.0,629.0 1126.0,629.0 1127.0,629.0 1128.0,629.0 1129.0,629.0 1130.0,629.0 1131.0,629.0 1132.0,629.0 1133.0,629.0 1134.0,629.0 1135.0,629.0 1136.0,629.0 1137.0,629.0 1138.0,629.0 1139.0,629.0 1140.0,629.0 1141.0,629.0 1142.0,629.0 1143.0,629.0 1144.0,629.0 1145.0,629.0 1146.0,629.0 1147.0,629.0 1148.0,629.0 1149.0,629.0 1150.0,629.0 1151.0,629.0 1152.0,629.0 1153.0,629.0 1154.0,629.0 1155.0,629.0 1156.0,629.0 1157.0,629.0 1158.0,629.0 1159.0,629.0 1160.0,629.0 1161.0,629.0 1162.0,629.0 1163.0,629.0 1164.0,629.0 1165.0,629.0 1166.0,629.0 1167.0,629.0 1168.0,629.0 1169.0,629.0 1170.0,629.0 1171.0,629.0 1172.0,629.0 1173.0,629.0 1174.0,629.0 1175.0,629.0 1176.0,629.0 1177.0,629.0 1178.0,629.0 1179.0,629.0 1180.0,629.0 1181.0,629.0 1182.0,629.0 1183.0,629.0 1184.0,629.0 1185.0,629.0" fill="none" stroke="#3d7be6" stroke-width="2.4" stroke-linejoin="round"/>
<polyline points="818.0,628.7 819.0,628.7 820.0,628.7 821.0,628.7 822.0,628.7 823.0,628.7 824.0,628.7 825.0,628.7 826.0,628.7 827.0,628.7 828.0,628.6 829.0,628.6 830.0,628.6 831.0,628.6 832.0,628.6 833.0,628.6 834.0,628.6 835.0,628.6 836.0,628.6 837.0,628.6 838.0,628.6 839.0,628.6 840.0,628.6 841.0,628.6 842.0,628.6 843.0,628.6 844.0,628.6 845.0,628.6 846.0,628.6 847.0,628.6 848.0,628.6 849.0,628.6 850.0,628.5 851.0,628.5 852.0,628.5 853.0,628.5 854.0,628.5 855.0,628.5 856.0,628.5 857.0,628.5 858.0,628.5 859.0,628.5 860.0,628.5 861.0,628.5 862.0,628.5 863.0,628.5 864.0,628.5 865.0,628.5 866.0,628.4 867.0,628.4 868.0,628.4 869.0,628.4 870.0,628.4 871.0,628.4 872.0,628.4 873.0,628.4 874.0,628.4 875.0,628.4 876.0,628.4 877.0,628.4 878.0,628.3 879.0,628.3 880.0,628.3 881.0,628.3 882.0,628.3 883.0,628.3 884.0,628.3 885.0,628.3 886.0,628.3 887.0,628.2 888.0,628.2 889.0,628.2 890.0,628.2 891.0,628.2 892.0,628.2 893.0,628.2 894.0,628.2 895.0,628.1 896.0,628.1 897.0,628.1 898.0,628.1 899.0,628.1 900.0,628.1 901.0,628.1 902.0,628.0 903.0,628.0 904.0,628.0 905.0,628.0 906.0,628.0 907.0,627.9 908.0,627.9 909.0,627.9 910.0,627.9 911.0,627.9 912.0,627.8 913.0,627.8 914.0,627.8 915.0,627.8 916.0,627.7 917.0,627.7 918.0,627.7 919.0,627.7 920.0,627.6 921.0,627.6 922.0,627.6 923.0,627.6 924.0,627.5 925.0,627.5 926.0,627.5 927.0,627.4 928.0,627.4 929.0,627.4 930.0,627.3 931.0,627.3 932.0,627.2 933.0,627.2 934.0,627.1 935.0,627.1 936.0,627.1 937.0,627.0 938.0,627.0 939.0,626.9 940.0,626.9 941.0,626.8 942.0,626.7 943.0,626.7 944.0,626.6 945.0,626.5 946.0,626.5 947.0,626.4 948.0,626.3 949.0,626.3 950.0,626.2 951.0,626.1 952.0,626.0 953.0,625.9 954.0,625.8 955.0,625.7 956.0,625.6 957.0,625.5 958.0,625.4 959.0,625.2 960.0,625.1 961.0,625.0 962.0,624.8 963.0,624.6 964.0,624.5 965.0,624.3 966.0,624.1 967.0,623.9 968.0,623.6 969.0,623.4 970.0,623.1 971.0,622.9 972.0,622.5 973.0,622.2 974.0,621.9 975.0,621.5 976.0,621.0 977.0,620.6 978.0,620.1 979.0,619.5 980.0,618.9 981.0,618.3 982.0,617.6 983.0,616.9 984.0,616.1 985.0,615.2 986.0,614.3 987.0,613.3 988.0,612.2 989.0,611.0 990.0,609.8 991.0,608.5 992.0,607.1 993.0,605.7 994.0,604.1 995.0,602.5 996.0,600.8 997.0,599.1 998.0,597.2 999.0,595.4 1000.0,593.5 1001.0,591.5 1002.0,589.6 1003.0,587.6 1004.0,585.7 1005.0,583.8 1006.0,582.1 1007.0,580.4 1008.0,579.0 1009.0,577.7 1010.0,576.6 1011.0,575.8 1012.0,575.3 1013.0,575.0 1014.0,575.1 1015.0,575.4 1016.0,576.1 1017.0,577.0 1018.0,578.2 1019.0,579.5 1020.0,581.1 1021.0,582.8 1022.0,584.6 1023.0,586.5 1024.0,588.4 1025.0,590.3 1026.0,592.3 1027.0,594.2 1028.0,596.1 1029.0,598.0 1030.0,599.8 1031.0,601.5 1032.0,603.2 1033.0,604.7 1034.0,606.2 1035.0,607.7 1036.0,609.0 1037.0,610.3 1038.0,611.5 1039.0,612.6 1040.0,613.7 1041.0,614.6 1042.0,615.5 1043.0,616.4 1044.0,617.2 1045.0,617.9 1046.0,618.6 1047.0,619.2 1048.0,619.8 1049.0,620.3 1050.0,620.8 1051.0,621.2 1052.0,621.6 1053.0,622.0 1054.0,622.3 1055.0,622.7 1056.0,623.0 1057.0,623.2 1058.0,623.5 1059.0,623.7 1060.0,624.0 1061.0,624.2 1062.0,624.4 1063.0,624.5 1064.0,624.7 1065.0,624.9 1066.0,625.0 1067.0,625.1 1068.0,625.3 1069.0,625.4 1070.0,625.5 1071.0,625.6 1072.0,625.7 1073.0,625.8 1074.0,625.9 1075.0,626.0 1076.0,626.1 1077.0,626.2 1078.0,626.3 1079.0,626.4 1080.0,626.4 1081.0,626.5 1082.0,626.6 1083.0,626.6 1084.0,626.7 1085.0,626.8 1086.0,626.8 1087.0,626.9 1088.0,626.9 1089.0,627.0 1090.0,627.0 1091.0,627.1 1092.0,627.1 1093.0,627.2 1094.0,627.2 1095.0,627.3 1096.0,627.3 1097.0,627.3 1098.0,627.4 1099.0,627.4 1100.0,627.4 1101.0,627.5 1102.0,627.5 1103.0,627.5 1104.0,627.6 1105.0,627.6 1106.0,627.6 1107.0,627.7 1108.0,627.7 1109.0,627.7 1110.0,627.7 1111.0,627.8 1112.0,627.8 1113.0,627.8 1114.0,627.8 1115.0,627.9 1116.0,627.9 1117.0,627.9 1118.0,627.9 1119.0,627.9 1120.0,628.0 1121.0,628.0 1122.0,628.0 1123.0,628.0 1124.0,628.0 1125.0,628.0 1126.0,628.1 1127.0,628.1 1128.0,628.1 1129.0,628.1 1130.0,628.1 1131.0,628.1 1132.0,628.2 1133.0,628.2 1134.0,628.2 1135.0,628.2 1136.0,628.2 1137.0,628.2 1138.0,628.2 1139.0,628.2 1140.0,628.3 1141.0,628.3 1142.0,628.3 1143.0,628.3 1144.0,628.3 1145.0,628.3 1146.0,628.3 1147.0,628.3 1148.0,628.3 1149.0,628.3 1150.0,628.4 1151.0,628.4 1152.0,628.4 1153.0,628.4 1154.0,628.4 1155.0,628.4 1156.0,628.4 1157.0,628.4 1158.0,628.4 1159.0,628.4 1160.0,628.4 1161.0,628.4 1162.0,628.5 1163.0,628.5 1164.0,628.5 1165.0,628.5 1166.0,628.5 1167.0,628.5 1168.0,628.5 1169.0,628.5 1170.0,628.5 1171.0,628.5 1172.0,628.5 1173.0,628.5 1174.0,628.5 1175.0,628.5 1176.0,628.5 1177.0,628.5 1178.0,628.6 1179.0,628.6 1180.0,628.6 1181.0,628.6 1182.0,628.6 1183.0,628.6 1184.0,628.6 1185.0,628.6" fill="none" stroke="#c9a224" stroke-width="2.4" stroke-linejoin="round"/>
<polyline points="818.0,628.7 819.0,628.7 820.0,628.7 821.0,628.7 822.0,628.7 823.0,628.7 824.0,628.7 825.0,628.7 826.0,628.7 827.0,628.7 828.0,628.7 829.0,628.7 830.0,628.7 831.0,628.7 832.0,628.7 833.0,628.7 834.0,628.7 835.0,628.7 836.0,628.7 837.0,628.7 838.0,628.6 839.0,628.6 840.0,628.6 841.0,628.6 842.0,628.6 843.0,628.6 844.0,628.6 845.0,628.6 846.0,628.6 847.0,628.6 848.0,628.6 849.0,628.6 850.0,628.6 851.0,628.6 852.0,628.6 853.0,628.6 854.0,628.6 855.0,628.6 856.0,628.5 857.0,628.5 858.0,628.5 859.0,628.5 860.0,628.5 861.0,628.5 862.0,628.5 863.0,628.5 864.0,628.5 865.0,628.5 866.0,628.5 867.0,628.5 868.0,628.5 869.0,628.4 870.0,628.4 871.0,628.4 872.0,628.4 873.0,628.4 874.0,628.4 875.0,628.4 876.0,628.4 877.0,628.4 878.0,628.3 879.0,628.3 880.0,628.3 881.0,628.3 882.0,628.3 883.0,628.3 884.0,628.3 885.0,628.3 886.0,628.2 887.0,628.2 888.0,628.2 889.0,628.2 890.0,628.2 891.0,628.2 892.0,628.1 893.0,628.1 894.0,628.1 895.0,628.1 896.0,628.1 897.0,628.1 898.0,628.0 899.0,628.0 900.0,628.0 901.0,628.0 902.0,627.9 903.0,627.9 904.0,627.9 905.0,627.9 906.0,627.8 907.0,627.8 908.0,627.8 909.0,627.8 910.0,627.7 911.0,627.7 912.0,627.7 913.0,627.6 914.0,627.6 915.0,627.5 916.0,627.5 917.0,627.5 918.0,627.4 919.0,627.4 920.0,627.3 921.0,627.3 922.0,627.2 923.0,627.2 924.0,627.1 925.0,627.1 926.0,627.0 927.0,626.9 928.0,626.9 929.0,626.8 930.0,626.7 931.0,626.6 932.0,626.6 933.0,626.5 934.0,626.4 935.0,626.3 936.0,626.2 937.0,626.1 938.0,626.0 939.0,625.9 940.0,625.7 941.0,625.6 942.0,625.5 943.0,625.3 944.0,625.2 945.0,625.0 946.0,624.8 947.0,624.6 948.0,624.4 949.0,624.2 950.0,623.9 951.0,623.6 952.0,623.3 953.0,623.0 954.0,622.6 955.0,622.2 956.0,621.8 957.0,621.3 958.0,620.7 959.0,620.1 960.0,619.5 961.0,618.7 962.0,617.8 963.0,616.9 964.0,615.8 965.0,614.7 966.0,613.4 967.0,612.0 968.0,610.4 969.0,608.7 970.0,606.8 971.0,604.8 972.0,602.6 973.0,600.2 974.0,597.7 975.0,595.1 976.0,592.3 977.0,589.4 978.0,586.5 979.0,583.5 980.0,580.5 981.0,577.6 982.0,574.9 983.0,572.5 984.0,570.4 985.0,568.7 986.0,567.6 987.0,567.0 988.0,567.1 989.0,567.8 990.0,569.0 991.0,570.8 992.0,573.0 993.0,575.5 994.0,578.2 995.0,581.1 996.0,584.1 997.0,587.1 998.0,590.0 999.0,592.9 1000.0,595.6 1001.0,598.3 1002.0,600.7 1003.0,603.0 1004.0,605.2 1005.0,607.2 1006.0,609.0 1007.0,610.7 1008.0,612.3 1009.0,613.7 1010.0,614.9 1011.0,616.1 1012.0,617.1 1013.0,618.0 1014.0,618.8 1015.0,619.6 1016.0,620.3 1017.0,620.9 1018.0,621.4 1019.0,621.9 1020.0,622.3 1021.0,622.7 1022.0,623.1 1023.0,623.4 1024.0,623.7 1025.0,624.0 1026.0,624.2 1027.0,624.4 1028.0,624.6 1029.0,624.8 1030.0,625.0 1031.0,625.2 1032.0,625.3 1033.0,625.5 1034.0,625.6 1035.0,625.8 1036.0,625.9 1037.0,626.0 1038.0,626.1 1039.0,626.2 1040.0,626.3 1041.0,626.4 1042.0,626.5 1043.0,626.6 1044.0,626.7 1045.0,626.7 1046.0,626.8 1047.0,626.9 1048.0,626.9 1049.0,627.0 1050.0,627.1 1051.0,627.1 1052.0,627.2 1053.0,627.2 1054.0,627.3 1055.0,627.3 1056.0,627.4 1057.0,627.4 1058.0,627.5 1059.0,627.5 1060.0,627.5 1061.0,627.6 1062.0,627.6 1063.0,627.7 1064.0,627.7 1065.0,627.7 1066.0,627.8 1067.0,627.8 1068.0,627.8 1069.0,627.8 1070.0,627.9 1071.0,627.9 1072.0,627.9 1073.0,627.9 1074.0,628.0 1075.0,628.0 1076.0,628.0 1077.0,628.0 1078.0,628.1 1079.0,628.1 1080.0,628.1 1081.0,628.1 1082.0,628.1 1083.0,628.2 1084.0,628.2 1085.0,628.2 1086.0,628.2 1087.0,628.2 1088.0,628.2 1089.0,628.2 1090.0,628.3 1091.0,628.3 1092.0,628.3 1093.0,628.3 1094.0,628.3 1095.0,628.3 1096.0,628.3 1097.0,628.4 1098.0,628.4 1099.0,628.4 1100.0,628.4 1101.0,628.4 1102.0,628.4 1103.0,628.4 1104.0,628.4 1105.0,628.4 1106.0,628.4 1107.0,628.5 1108.0,628.5 1109.0,628.5 1110.0,628.5 1111.0,628.5 1112.0,628.5 1113.0,628.5 1114.0,628.5 1115.0,628.5 1116.0,628.5 1117.0,628.5 1118.0,628.5 1119.0,628.5 1120.0,628.6 1121.0,628.6 1122.0,628.6 1123.0,628.6 1124.0,628.6 1125.0,628.6 1126.0,628.6 1127.0,628.6 1128.0,628.6 1129.0,628.6 1130.0,628.6 1131.0,628.6 1132.0,628.6 1133.0,628.6 1134.0,628.6 1135.0,628.6 1136.0,628.6 1137.0,628.6 1138.0,628.7 1139.0,628.7 1140.0,628.7 1141.0,628.7 1142.0,628.7 1143.0,628.7 1144.0,628.7 1145.0,628.7 1146.0,628.7 1147.0,628.7 1148.0,628.7 1149.0,628.7 1150.0,628.7 1151.0,628.7 1152.0,628.7 1153.0,628.7 1154.0,628.7 1155.0,628.7 1156.0,628.7 1157.0,628.7 1158.0,628.7 1159.0,628.7 1160.0,628.7 1161.0,628.7 1162.0,628.7 1163.0,628.7 1164.0,628.7 1165.0,628.8 1166.0,628.8 1167.0,628.8 1168.0,628.8 1169.0,628.8 1170.0,628.8 1171.0,628.8 1172.0,628.8 1173.0,628.8 1174.0,628.8 1175.0,628.8 1176.0,628.8 1177.0,628.8 1178.0,628.8 1179.0,628.8 1180.0,628.8 1181.0,628.8 1182.0,628.8 1183.0,628.8 1184.0,628.8 1185.0,628.8" fill="none" stroke="#b06de6" stroke-width="2.4" stroke-linejoin="round"/>
<polyline points="818.0,628.4 819.0,628.4 820.0,628.4 821.0,628.4 822.0,628.4 823.0,628.4 824.0,628.4 825.0,628.4 826.0,628.4 827.0,628.4 828.0,628.4 829.0,628.3 830.0,628.3 831.0,628.3 832.0,628.3 833.0,628.3 834.0,628.3 835.0,628.3 836.0,628.3 837.0,628.3 838.0,628.2 839.0,628.2 840.0,628.2 841.0,628.2 842.0,628.2 843.0,628.2 844.0,628.2 845.0,628.2 846.0,628.1 847.0,628.1 848.0,628.1 849.0,628.1 850.0,628.1 851.0,628.1 852.0,628.0 853.0,628.0 854.0,628.0 855.0,628.0 856.0,628.0 857.0,628.0 858.0,627.9 859.0,627.9 860.0,627.9 861.0,627.9 862.0,627.9 863.0,627.8 864.0,627.8 865.0,627.8 866.0,627.8 867.0,627.7 868.0,627.7 869.0,627.7 870.0,627.7 871.0,627.6 872.0,627.6 873.0,627.6 874.0,627.5 875.0,627.5 876.0,627.5 877.0,627.4 878.0,627.4 879.0,627.4 880.0,627.3 881.0,627.3 882.0,627.2 883.0,627.2 884.0,627.2 885.0,627.1 886.0,627.1 887.0,627.0 888.0,627.0 889.0,626.9 890.0,626.9 891.0,626.8 892.0,626.7 893.0,626.7 894.0,626.6 895.0,626.6 896.0,626.5 897.0,626.4 898.0,626.3 899.0,626.3 900.0,626.2 901.0,626.1 902.0,626.0 903.0,625.9 904.0,625.8 905.0,625.7 906.0,625.6 907.0,625.5 908.0,625.4 909.0,625.2 910.0,625.1 911.0,625.0 912.0,624.8 913.0,624.6 914.0,624.5 915.0,624.3 916.0,624.1 917.0,623.9 918.0,623.7 919.0,623.4 920.0,623.1 921.0,622.9 922.0,622.6 923.0,622.2 924.0,621.9 925.0,621.5 926.0,621.0 927.0,620.6 928.0,620.1 929.0,619.5 930.0,618.9 931.0,618.3 932.0,617.5 933.0,616.8 934.0,615.9 935.0,615.0 936.0,614.1 937.0,613.0 938.0,611.9 939.0,610.7 940.0,609.4 941.0,608.0 942.0,606.6 943.0,605.0 944.0,603.4 945.0,601.7 946.0,599.9 947.0,598.0 948.0,596.1 949.0,594.1 950.0,592.1 951.0,590.0 952.0,587.9 953.0,585.8 954.0,583.8 955.0,581.8 956.0,580.0 957.0,578.3 958.0,576.7 959.0,575.4 960.0,574.4 961.0,573.6 962.0,573.1 963.0,573.0 964.0,573.2 965.0,573.7 966.0,574.6 967.0,575.7 968.0,577.0 969.0,578.6 970.0,580.4 971.0,582.2 972.0,584.2 973.0,586.3 974.0,588.3 975.0,590.4 976.0,592.5 977.0,594.5 978.0,596.5 979.0,598.4 980.0,600.3 981.0,602.1 982.0,603.8 983.0,605.4 984.0,606.9 985.0,608.3 986.0,609.7 987.0,611.0 988.0,612.1 989.0,613.2 990.0,614.3 991.0,615.2 992.0,616.1 993.0,616.9 994.0,617.7 995.0,618.4 996.0,619.0 997.0,619.6 998.0,620.2 999.0,620.7 1000.0,621.1 1001.0,621.5 1002.0,621.9 1003.0,622.3 1004.0,622.6 1005.0,622.9 1006.0,623.2 1007.0,623.5 1008.0,623.7 1009.0,623.9 1010.0,624.1 1011.0,624.3 1012.0,624.5 1013.0,624.7 1014.0,624.8 1015.0,625.0 1016.0,625.1 1017.0,625.3 1018.0,625.4 1019.0,625.5 1020.0,625.6 1021.0,625.7 1022.0,625.8 1023.0,625.9 1024.0,626.0 1025.0,626.1 1026.0,626.2 1027.0,626.3 1028.0,626.4 1029.0,626.4 1030.0,626.5 1031.0,626.6 1032.0,626.6 1033.0,626.7 1034.0,626.8 1035.0,626.8 1036.0,626.9 1037.0,626.9 1038.0,627.0 1039.0,627.0 1040.0,627.1 1041.0,627.1 1042.0,627.2 1043.0,627.2 1044.0,627.3 1045.0,627.3 1046.0,627.3 1047.0,627.4 1048.0,627.4 1049.0,627.4 1050.0,627.5 1051.0,627.5 1052.0,627.5 1053.0,627.6 1054.0,627.6 1055.0,627.6 1056.0,627.7 1057.0,627.7 1058.0,627.7 1059.0,627.7 1060.0,627.8 1061.0,627.8 1062.0,627.8 1063.0,627.8 1064.0,627.9 1065.0,627.9 1066.0,627.9 1067.0,627.9 1068.0,627.9 1069.0,628.0 1070.0,628.0 1071.0,628.0 1072.0,628.0 1073.0,628.0 1074.0,628.1 1075.0,628.1 1076.0,628.1 1077.0,628.1 1078.0,628.1 1079.0,628.1 1080.0,628.1 1081.0,628.2 1082.0,628.2 1083.0,628.2 1084.0,628.2 1085.0,628.2 1086.0,628.2 1087.0,628.2 1088.0,628.2 1089.0,628.3 1090.0,628.3 1091.0,628.3 1092.0,628.3 1093.0,628.3 1094.0,628.3 1095.0,628.3 1096.0,628.3 1097.0,628.3 1098.0,628.4 1099.0,628.4 1100.0,628.4 1101.0,628.4 1102.0,628.4 1103.0,628.4 1104.0,628.4 1105.0,628.4 1106.0,628.4 1107.0,628.4 1108.0,628.4 1109.0,628.4 1110.0,628.5 1111.0,628.5 1112.0,628.5 1113.0,628.5 1114.0,628.5 1115.0,628.5 1116.0,628.5 1117.0,628.5 1118.0,628.5 1119.0,628.5 1120.0,628.5 1121.0,628.5 1122.0,628.5 1123.0,628.5 1124.0,628.5 1125.0,628.5 1126.0,628.6 1127.0,628.6 1128.0,628.6 1129.0,628.6 1130.0,628.6 1131.0,628.6 1132.0,628.6 1133.0,628.6 1134.0,628.6 1135.0,628.6 1136.0,628.6 1137.0,628.6 1138.0,628.6 1139.0,628.6 1140.0,628.6 1141.0,628.6 1142.0,628.6 1143.0,628.6 1144.0,628.6 1145.0,628.6 1146.0,628.6 1147.0,628.6 1148.0,628.7 1149.0,628.7 1150.0,628.7 1151.0,628.7 1152.0,628.7 1153.0,628.7 1154.0,628.7 1155.0,628.7 1156.0,628.7 1157.0,628.7 1158.0,628.7 1159.0,628.7 1160.0,628.7 1161.0,628.7 1162.0,628.7 1163.0,628.7 1164.0,628.7 1165.0,628.7 1166.0,628.7 1167.0,628.7 1168.0,628.7 1169.0,628.7 1170.0,628.7 1171.0,628.7 1172.0,628.7 1173.0,628.7 1174.0,628.7 1175.0,628.7 1176.0,628.7 1177.0,628.7 1178.0,628.7 1179.0,628.7 1180.0,628.7 1181.0,628.7 1182.0,628.8 1183.0,628.8 1184.0,628.8 1185.0,628.8" fill="none" stroke="#2ea862" stroke-width="2.4" stroke-linejoin="round"/>
<polyline points="818.0,633.9 819.0,634.7 820.0,635.4 821.0,635.7 822.0,635.7 823.0,635.7 824.0,635.7 825.0,635.4 826.0,634.8 827.0,634.5 828.0,634.1 829.0,633.8 830.0,633.7 831.0,633.7 832.0,633.6 833.0,633.6 834.0,633.5 835.0,633.9 836.0,634.0 837.0,634.3 838.0,634.5 839.0,635.0 840.0,635.4 841.0,635.8 842.0,635.9 843.0,636.0 844.0,635.8 845.0,635.5 846.0,635.1 847.0,634.9 848.0,634.7 849.0,635.0 850.0,635.5 851.0,636.6 852.0,637.3 853.0,637.2 854.0,636.3 855.0,635.4 856.0,634.8 857.0,634.3 858.0,633.7 859.0,632.9 860.0,632.1 861.0,631.4 862.0,630.8 863.0,630.1 864.0,629.8 865.0,630.2 866.0,630.7 867.0,631.5 868.0,632.1 869.0,632.4 870.0,632.9 871.0,633.3 872.0,633.9 873.0,634.4 874.0,634.8 875.0,634.7 876.0,634.4 877.0,633.5 878.0,632.9 879.0,631.9 880.0,630.8 881.0,629.4 882.0,628.1 883.0,626.8 884.0,626.0 885.0,625.6 886.0,625.2 887.0,624.8 888.0,624.2 889.0,623.8 890.0,623.7 891.0,623.5 892.0,623.4 893.0,623.0 894.0,622.8 895.0,622.5 896.0,622.3 897.0,622.1 898.0,621.8 899.0,621.6 900.0,621.4 901.0,621.1 902.0,621.0 903.0,620.8 904.0,620.7 905.0,620.5 906.0,620.2 907.0,619.7 908.0,619.1 909.0,618.4 910.0,617.9 911.0,618.2 912.0,619.1 913.0,619.6 914.0,619.5 915.0,619.5 916.0,619.3 917.0,618.9 918.0,618.5 919.0,617.9 920.0,617.2 921.0,616.0 922.0,615.1 923.0,613.9 924.0,613.0 925.0,612.0 926.0,610.7 927.0,609.6 928.0,608.4 929.0,607.3 930.0,605.8 931.0,604.5 932.0,603.3 933.0,602.1 934.0,600.8 935.0,599.6 936.0,598.1 937.0,596.5 938.0,594.8 939.0,593.1 940.0,591.6 941.0,589.8 942.0,588.0 943.0,586.1 944.0,584.1 945.0,582.1 946.0,579.9 947.0,578.1 948.0,576.0 949.0,574.2 950.0,572.2 951.0,570.0 952.0,567.3 953.0,564.5 954.0,561.9 955.0,559.5 956.0,557.6 957.0,555.6 958.0,553.4 959.0,551.0 960.0,549.1 961.0,547.3 962.0,545.5 963.0,543.5 964.0,541.6 965.0,539.9 966.0,538.0 967.0,536.1 968.0,534.3 969.0,533.1 970.0,532.4 971.0,532.1 972.0,532.3 973.0,532.2 974.0,532.3 975.0,532.3 976.0,532.4 977.0,532.4 978.0,532.2 979.0,532.0 980.0,531.4 981.0,530.8 982.0,529.9 983.0,529.6 984.0,529.2 985.0,528.9 986.0,528.7 987.0,528.8 988.0,529.3 989.0,530.0 990.0,530.8 991.0,531.6 992.0,532.7 993.0,534.0 994.0,535.3 995.0,536.5 996.0,537.7 997.0,539.0 998.0,540.1 999.0,540.8 1000.0,541.3 1001.0,541.7 1002.0,542.2 1003.0,542.5 1004.0,543.0 1005.0,543.8 1006.0,545.1 1007.0,546.6 1008.0,548.0 1009.0,549.1 1010.0,550.3 1011.0,551.2 1012.0,551.8 1013.0,552.3 1014.0,553.2 1015.0,554.5 1016.0,555.8 1017.0,557.4 1018.0,559.3 1019.0,561.2 1020.0,563.2 1021.0,565.1 1022.0,567.7 1023.0,570.4 1024.0,573.3 1025.0,575.9 1026.0,578.5 1027.0,580.8 1028.0,582.5 1029.0,584.3 1030.0,585.9 1031.0,587.7 1032.0,589.4 1033.0,591.1 1034.0,592.8 1035.0,594.2 1036.0,595.5 1037.0,596.8 1038.0,598.3 1039.0,599.9 1040.0,601.2 1041.0,602.6 1042.0,604.0 1043.0,605.7 1044.0,607.2 1045.0,608.4 1046.0,609.4 1047.0,610.2 1048.0,611.3 1049.0,612.2 1050.0,613.1 1051.0,613.6 1052.0,614.0 1053.0,614.2 1054.0,614.7 1055.0,615.1 1056.0,615.7 1057.0,616.1 1058.0,616.7 1059.0,617.1 1060.0,617.5 1061.0,618.3 1062.0,618.9 1063.0,619.4 1064.0,619.9 1065.0,620.9 1066.0,621.4 1067.0,621.6 1068.0,621.8 1069.0,622.4 1070.0,622.7 1071.0,622.9 1072.0,623.0 1073.0,623.3 1074.0,623.5 1075.0,623.5 1076.0,623.2 1077.0,622.8 1078.0,622.2 1079.0,622.0 1080.0,621.9 1081.0,622.3 1082.0,622.6 1083.0,623.0 1084.0,623.3 1085.0,623.5 1086.0,623.8 1087.0,623.9 1088.0,624.2 1089.0,624.4 1090.0,625.0 1091.0,625.3 1092.0,625.6 1093.0,625.6 1094.0,625.6 1095.0,625.9 1096.0,626.4 1097.0,626.9 1098.0,627.1 1099.0,627.6 1100.0,628.0 1101.0,628.4 1102.0,628.5 1103.0,628.7 1104.0,629.0 1105.0,629.1 1106.0,629.2 1107.0,629.3 1108.0,629.5 1109.0,629.9 1110.0,629.9 1111.0,630.7 1112.0,631.7 1113.0,632.5 1114.0,632.1 1115.0,631.0 1116.0,630.0 1117.0,629.3 1118.0,628.6 1119.0,628.1 1120.0,627.3 1121.0,627.0 1122.0,626.3 1123.0,625.9 1124.0,625.7 1125.0,625.7 1126.0,625.9 1127.0,626.3 1128.0,626.9 1129.0,627.6 1130.0,628.0 1131.0,628.3 1132.0,627.9 1133.0,627.3 1134.0,626.3 1135.0,625.6 1136.0,624.8 1137.0,624.5 1138.0,624.4 1139.0,625.2 1140.0,626.0 1141.0,627.1 1142.0,627.8 1143.0,628.1 1144.0,628.2 1145.0,628.3 1146.0,628.7 1147.0,629.1 1148.0,629.6 1149.0,629.9 1150.0,629.9 1151.0,630.1 1152.0,630.3 1153.0,630.7 1154.0,631.0 1155.0,631.5 1156.0,631.8 1157.0,631.8 1158.0,631.9 1159.0,631.8 1160.0,631.9 1161.0,631.7 1162.0,631.1 1163.0,630.5 1164.0,630.0 1165.0,629.8 1166.0,629.9 1167.0,629.7 1168.0,629.8 1169.0,629.4 1170.0,629.3 1171.0,629.1 1172.0,629.1 1173.0,628.9 1174.0,628.7 1175.0,628.5 1176.0,628.3 1177.0,628.2 1178.0,628.3 1179.0,628.3 1180.0,628.2 1181.0,628.1 1182.0,628.1 1183.0,628.1 1184.0,628.0 1185.0,627.8" fill="none" stroke="#4a4a4a" stroke-width="2.0" stroke-linejoin="round"/>
<polyline points="818.0,628.7 819.0,628.7 820.0,628.6 821.0,628.6 822.0,628.6 823.0,628.5 824.0,628.5 825.0,628.5 826.0,628.4 827.0,628.4 828.0,628.4 829.0,628.3 830.0,628.3 831.0,628.2 832.0,628.2 833.0,628.2 834.0,628.1 835.0,628.1 836.0,628.1 837.0,628.0 838.0,628.0 839.0,627.9 840.0,627.9 841.0,627.9 842.0,627.8 843.0,627.8 844.0,627.7 845.0,627.7 846.0,627.7 847.0,627.6 848.0,627.6 849.0,627.5 850.0,627.5 851.0,627.5 852.0,627.4 853.0,627.4 854.0,627.3 855.0,627.3 856.0,627.3 857.0,627.2 858.0,627.2 859.0,627.1 860.0,627.1 861.0,627.0 862.0,627.0 863.0,627.0 864.0,626.9 865.0,626.9 866.0,626.8 867.0,626.8 868.0,626.7 869.0,626.7 870.0,626.6 871.0,626.6 872.0,626.5 873.0,626.5 874.0,626.4 875.0,626.3 876.0,626.3 877.0,626.2 878.0,626.2 879.0,626.1 880.0,626.0 881.0,626.0 882.0,625.9 883.0,625.9 884.0,625.8 885.0,625.7 886.0,625.6 887.0,625.5 888.0,625.4 889.0,625.3 890.0,625.1 891.0,625.0 892.0,624.8 893.0,624.7 894.0,624.5 895.0,624.3 896.0,624.2 897.0,624.0 898.0,623.8 899.0,623.7 900.0,623.5 901.0,623.3 902.0,623.2 903.0,623.0 904.0,622.8 905.0,622.6 906.0,622.4 907.0,622.2 908.0,622.0 909.0,621.8 910.0,621.5 911.0,621.3 912.0,620.9 913.0,620.4 914.0,619.9 915.0,619.4 916.0,618.8 917.0,618.1 918.0,617.5 919.0,616.9 920.0,616.2 921.0,615.5 922.0,614.8 923.0,614.0 924.0,613.2 925.0,612.3 926.0,611.4 927.0,610.4 928.0,609.4 929.0,608.2 930.0,607.1 931.0,605.9 932.0,604.7 933.0,603.5 934.0,602.2 935.0,601.0 936.0,599.8 937.0,598.6 938.0,597.5 939.0,596.3 940.0,595.0 941.0,593.7 942.0,592.2 943.0,590.7 944.0,588.9 945.0,587.0 946.0,584.9 947.0,582.6 948.0,580.3 949.0,577.8 950.0,575.3 951.0,572.8 952.0,570.3 953.0,567.8 954.0,565.2 955.0,562.6 956.0,560.0 957.0,557.5 958.0,555.0 959.0,552.7 960.0,550.7 961.0,549.0 962.0,547.4 963.0,545.9 964.0,544.5 965.0,543.2 966.0,541.8 967.0,540.6 968.0,539.4 969.0,538.3 970.0,537.2 971.0,536.3 972.0,535.6 973.0,534.9 974.0,534.4 975.0,533.9 976.0,533.4 977.0,532.9 978.0,532.4 979.0,532.0 980.0,531.5 981.0,531.0 982.0,530.5 983.0,530.1 984.0,529.6 985.0,529.2 986.0,528.8 987.0,528.6 988.0,528.5 989.0,528.9 990.0,529.6 991.0,530.7 992.0,531.8 993.0,533.0 994.0,534.2 995.0,535.4 996.0,536.6 997.0,537.8 998.0,538.9 999.0,539.9 1000.0,540.9 1001.0,541.9 1002.0,542.9 1003.0,544.0 1004.0,545.0 1005.0,546.1 1006.0,547.1 1007.0,548.2 1008.0,549.3 1009.0,550.4 1010.0,551.4 1011.0,552.5 1012.0,553.5 1013.0,554.7 1014.0,556.2 1015.0,557.9 1016.0,559.8 1017.0,561.8 1018.0,563.9 1019.0,566.0 1020.0,568.0 1021.0,570.0 1022.0,572.1 1023.0,574.1 1024.0,576.2 1025.0,578.2 1026.0,580.2 1027.0,582.2 1028.0,584.1 1029.0,586.0 1030.0,587.8 1031.0,589.5 1032.0,591.2 1033.0,592.8 1034.0,594.4 1035.0,596.0 1036.0,597.6 1037.0,599.1 1038.0,600.6 1039.0,602.0 1040.0,603.4 1041.0,604.7 1042.0,606.0 1043.0,607.3 1044.0,608.5 1045.0,609.6 1046.0,610.7 1047.0,611.7 1048.0,612.7 1049.0,613.6 1050.0,614.5 1051.0,615.4 1052.0,616.2 1053.0,617.0 1054.0,617.8 1055.0,618.5 1056.0,619.1 1057.0,619.7 1058.0,620.2 1059.0,620.6 1060.0,621.0 1061.0,621.3 1062.0,621.7 1063.0,622.0 1064.0,622.3 1065.0,622.6 1066.0,622.8 1067.0,623.0 1068.0,623.2 1069.0,623.4 1070.0,623.5 1071.0,623.6 1072.0,623.7 1073.0,623.8 1074.0,624.0 1075.0,624.1 1076.0,624.2 1077.0,624.3 1078.0,624.4 1079.0,624.5 1080.0,624.6 1081.0,624.7 1082.0,624.8 1083.0,624.9 1084.0,625.0 1085.0,625.1 1086.0,625.1 1087.0,625.2 1088.0,625.2 1089.0,625.3 1090.0,625.4 1091.0,625.4 1092.0,625.5 1093.0,625.6 1094.0,625.6 1095.0,625.7 1096.0,625.7 1097.0,625.8 1098.0,625.9 1099.0,625.9 1100.0,626.0 1101.0,626.0 1102.0,626.1 1103.0,626.2 1104.0,626.2 1105.0,626.3 1106.0,626.3 1107.0,626.4 1108.0,626.5 1109.0,626.5 1110.0,626.6 1111.0,626.6 1112.0,626.7 1113.0,626.7 1114.0,626.8 1115.0,626.8 1116.0,626.9 1117.0,626.9 1118.0,627.0 1119.0,627.0 1120.0,627.1 1121.0,627.1 1122.0,627.2 1123.0,627.2 1124.0,627.3 1125.0,627.3 1126.0,627.3 1127.0,627.4 1128.0,627.4 1129.0,627.5 1130.0,627.5 1131.0,627.5 1132.0,627.6 1133.0,627.6 1134.0,627.6 1135.0,627.7 1136.0,627.7 1137.0,627.7 1138.0,627.8 1139.0,627.8 1140.0,627.8 1141.0,627.9 1142.0,627.9 1143.0,627.9 1144.0,628.0 1145.0,628.0 1146.0,628.0 1147.0,628.0 1148.0,628.1 1149.0,628.1 1150.0,628.1 1151.0,628.1 1152.0,628.2 1153.0,628.2 1154.0,628.2 1155.0,628.2 1156.0,628.3 1157.0,628.3 1158.0,628.3 1159.0,628.3 1160.0,628.4 1161.0,628.4 1162.0,628.4 1163.0,628.4 1164.0,628.4 1165.0,628.5 1166.0,628.5 1167.0,628.5 1168.0,628.5 1169.0,628.5 1170.0,628.5 1171.0,628.6 1172.0,628.6 1173.0,628.6 1174.0,628.6 1175.0,628.6 1176.0,628.6 1177.0,628.6 1178.0,628.6 1179.0,628.7 1180.0,628.7 1181.0,628.7 1182.0,628.7 1183.0,628.7 1184.0,628.7 1185.0,628.7" fill="none" stroke="#f53c3c" stroke-width="2.6" stroke-linejoin="round"/>
</svg>
</body></html>
